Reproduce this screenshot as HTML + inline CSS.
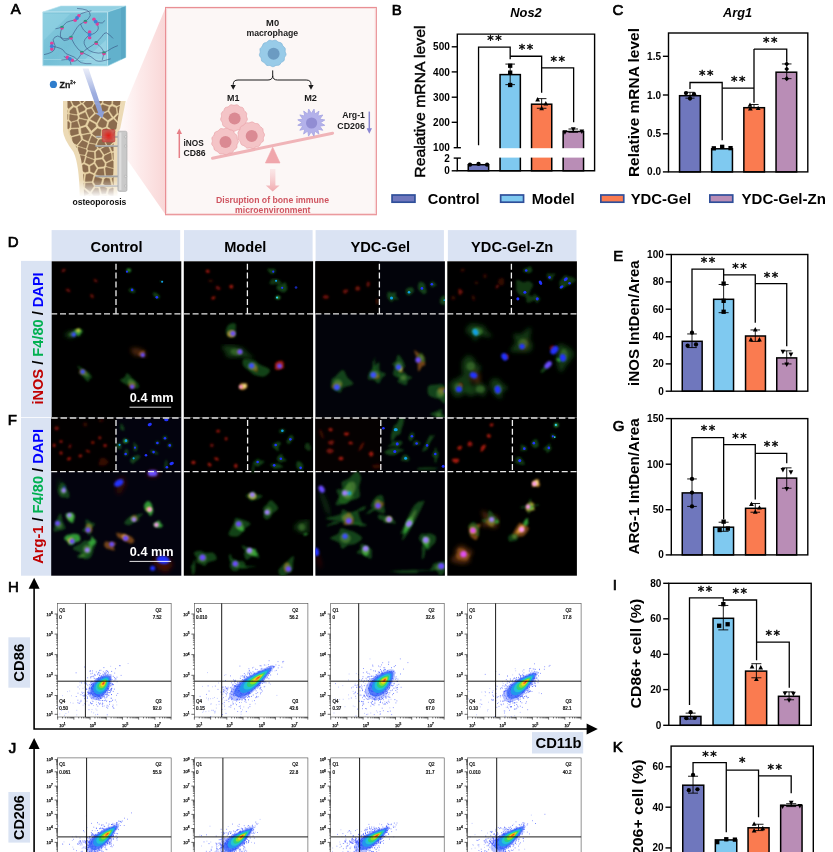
<!DOCTYPE html>
<html lang="en">
<head>
<meta charset="utf-8">
<title>Figure</title>
<style>
html,body{margin:0;padding:0;background:#fff;}
body{width:833px;height:852px;overflow:hidden;}
svg{display:block;font-family:"Liberation Sans",sans-serif;}
</style>
</head>
<body>
<svg width="833" height="852" viewBox="0 0 833 852">
<rect width="833" height="852" fill="#fff"/>
<g id="labels">
<text x="10.8" y="14.3" font-size="15" stroke="#000" stroke-width="0.7">A</text>
<text x="391.7" y="14.5" font-size="15" stroke="#000" stroke-width="0.7">B</text>
<text x="612.5" y="14.5" font-size="15" stroke="#000" stroke-width="0.7">C</text>
<text x="7.7" y="247.1" font-size="15" stroke="#000" stroke-width="0.7">D</text>
<text x="613.3" y="260.8" font-size="15" stroke="#000" stroke-width="0.7">E</text>
<text x="7.7" y="425.4" font-size="15" stroke="#000" stroke-width="0.7">F</text>
<text x="612.8" y="431.1" font-size="15" stroke="#000" stroke-width="0.7">G</text>
<text x="8.1" y="592.4" font-size="15" stroke="#000" stroke-width="0.7">H</text>
<text x="612.8" y="589.9" font-size="15" stroke="#000" stroke-width="0.7">I</text>
<text x="8.8" y="752.6" font-size="15" stroke="#000" stroke-width="0.7">J</text>
<text x="612.8" y="752.3" font-size="15" stroke="#000" stroke-width="0.7">K</text>
</g>
<g id="panelA">
<defs><linearGradient id="zb" x1="0" y1="0" x2="1" y2="0"><stop offset="0" stop-color="#fdeeee" stop-opacity="0.2"/><stop offset="0.5" stop-color="#fce4e4" stop-opacity="0.8"/><stop offset="1" stop-color="#f9d6d6"/></linearGradient><linearGradient id="da" x1="0" y1="0" x2="0" y2="1"><stop offset="0" stop-color="#f6c4c7" stop-opacity="0.3"/><stop offset="1" stop-color="#f1a9ae"/></linearGradient></defs>
<path d="M114.9 129.7L165.6 7.5V214.8L114.9 141.9Z" fill="url(#zb)"/>
<rect x="165.6" y="7.5" width="210.7" height="207.2" fill="#fcf7f6" stroke="#e98f94" stroke-width="1.2"/>
<rect x="166.7" y="8.6" width="208.5" height="205" fill="none" stroke="#f7d6d7" stroke-width="0.8"/>
<text x="272.6" y="25.6" font-size="8.2" font-weight="bold" text-anchor="middle" fill="#1a1a1a" textLength="13" lengthAdjust="spacingAndGlyphs">M0</text>
<text x="272.3" y="36.1" font-size="8.2" font-weight="bold" text-anchor="middle" fill="#1a1a1a" textLength="51.7" lengthAdjust="spacingAndGlyphs">macrophage</text>
<path d="M285.83 53.3L286.09 54.47L285.74 55.6L285.03 56.6L284.5 57.59L284.36 58.74L284.24 59.97L283.69 61L282.68 61.67L281.61 62.21L280.83 62.98L280.21 64.03L279.42 64.94L278.31 65.33L277.08 65.32L275.95 65.42L274.93 65.93L273.86 66.55L272.7 66.73L271.56 66.31L270.51 65.73L269.43 65.49L268.23 65.57L267.02 65.47L266.05 64.82L265.34 63.81L264.63 62.91L263.66 62.34L262.53 61.83L261.69 61.01L261.36 59.85L261.24 58.64L260.86 57.61L260.13 56.67L259.49 55.63L259.42 54.46L259.83 53.3L260.19 52.21L260.14 51.08L259.91 49.87L260.06 48.7L260.79 47.75L261.73 46.97L262.39 46.08L262.76 44.96L263.23 43.83L264.11 43.07L265.3 42.73L266.42 42.42L267.32 41.77L268.18 40.89L269.22 40.31L270.41 40.33L271.59 40.65L272.7 40.73L273.83 40.41L275.02 40.13L276.16 40.38L277.13 41.14L278.01 41.91L279.05 42.31L280.25 42.51L281.35 43L282.04 43.96L282.45 45.12L282.99 46.1L283.87 46.85L284.8 47.66L285.29 48.72L285.24 49.94L285.09 51.11L285.32 52.2Z" fill="#98cbe8" stroke="#7cb4d8" stroke-width="0.7"/>
<circle cx="273.6" cy="53.8" r="6" fill="#6b9bc2"/>
<path d="M272.7 70.4V75.5Q272.7 80 268 80H238Q233.2 80 233.2 84.5V86M272.7 75.5Q272.7 80 277.4 80H306.2Q311 80 311 84.5V86" fill="none" stroke="#1a1a1a" stroke-width="1"/>
<path d="M233.2 89.8L230.6 85H235.8ZM311 89.8L308.4 85H313.6Z" fill="#1a1a1a"/>
<text x="233.3" y="100.9" font-size="8.2" font-weight="bold" text-anchor="middle" fill="#1a1a1a" textLength="12.4" lengthAdjust="spacingAndGlyphs">M1</text>
<text x="310.6" y="100.9" font-size="8.2" font-weight="bold" text-anchor="middle" fill="#1a1a1a" textLength="12.8" lengthAdjust="spacingAndGlyphs">M2</text>
<line x1="212.5" y1="158.2" x2="332.6" y2="133.2" stroke="#f0b4b8" stroke-width="3" stroke-linecap="round"/>
<path d="M272.7 147.2L280 163H265.4Z" fill="#f0a6ab" stroke="#f0a6ab" stroke-width="0.6" stroke-linejoin="round"/>
<path d="M247 117.9L247.36 119.07L247.14 120.22L246.44 121.23L245.8 122.19L245.55 123.28L245.45 124.51L245.02 125.61L244.08 126.36L242.97 126.87L242.08 127.53L241.43 128.52L240.69 129.5L239.65 130.02L238.42 130.04L237.25 130.04L236.21 130.42L235.15 131.04L234 131.35L232.85 131.04L231.79 130.42L230.75 130.04L229.58 130.04L228.35 130.02L227.31 129.5L226.57 128.52L225.92 127.53L225.03 126.87L223.92 126.36L222.98 125.61L222.55 124.51L222.45 123.28L222.2 122.19L221.56 121.23L220.86 120.22L220.64 119.07L221 117.9L221.46 116.8L221.54 115.7L221.33 114.51L221.37 113.3L221.98 112.3L222.94 111.51L223.72 110.7L224.16 109.64L224.58 108.48L225.37 107.62L226.52 107.22L227.69 106.98L228.66 106.45L229.53 105.61L230.52 104.92L231.69 104.81L232.88 105.14L234 105.35L235.12 105.14L236.31 104.81L237.48 104.92L238.47 105.61L239.34 106.45L240.31 106.98L241.48 107.22L242.63 107.62L243.42 108.48L243.84 109.64L244.28 110.7L245.06 111.51L246.02 112.3L246.63 113.3L246.67 114.51L246.46 115.7L246.54 116.8Z" fill="#f4c4c7" stroke="#e9a4a9" stroke-width="0.7"/>
<circle cx="234.6" cy="118.5" r="6" fill="#da8a93"/>
<path d="M238.32 141.4L238.17 142.56L237.56 143.63L237.02 144.65L236.9 145.77L236.91 147L236.54 148.12L235.65 148.93L234.6 149.54L233.8 150.3L233.25 151.35L232.59 152.38L231.58 152.96L230.35 153.09L229.2 153.2L228.2 153.7L227.2 154.42L226.07 154.8L224.9 154.56L223.79 154.04L222.72 153.78L221.55 153.91L220.32 153.98L219.25 153.52L218.43 152.6L217.69 151.7L216.73 151.13L215.58 150.72L214.6 150.05L214.09 148.97L213.89 147.76L213.51 146.71L212.77 145.82L211.99 144.86L211.71 143.73L211.98 142.53L212.32 141.4L212.27 140.3L211.96 139.12L211.91 137.92L212.46 136.87L213.34 136.01L214.03 135.12L214.35 134.02L214.68 132.83L215.42 131.92L216.54 131.43L217.68 131.08L218.58 130.45L219.36 129.52L220.3 128.77L221.47 128.59L222.68 128.81L223.81 128.9L224.9 128.56L226.06 128.14L227.23 128.18L228.28 128.8L229.21 129.55L230.24 129.96L231.43 130.08L232.6 130.4L233.45 131.21L233.96 132.34L234.51 133.33L235.39 134.06L236.4 134.76L237.08 135.72L237.2 136.92L237.11 138.13L237.31 139.21L237.88 140.26Z" fill="#f4c4c7" stroke="#e9a4a9" stroke-width="0.7"/>
<circle cx="225.5" cy="142" r="6" fill="#da8a93"/>
<path d="M264.49 135.3L264.01 136.43L263.49 137.48L263.35 138.58L263.46 139.8L263.29 140.98L262.55 141.91L261.54 142.61L260.72 143.37L260.21 144.41L259.68 145.52L258.79 146.28L257.6 146.56L256.42 146.71L255.43 147.19L254.5 147.97L253.43 148.54L252.26 148.51L251.1 148.07L250.01 147.8L248.87 147.95L247.65 148.17L246.51 147.91L245.59 147.12L244.8 146.22L243.85 145.65L242.69 145.32L241.6 144.8L240.92 143.84L240.61 142.65L240.23 141.58L239.49 140.71L238.61 139.85L238.12 138.78L238.22 137.57L238.52 136.4L238.49 135.3L238.11 134.16L237.88 132.97L238.24 131.85L239.03 130.91L239.72 130L240.03 128.91L240.24 127.69L240.8 126.66L241.83 126.03L242.97 125.61L243.88 124.98L244.6 124.04L245.43 123.15L246.54 122.76L247.77 122.86L248.92 122.93L249.99 122.6L251.1 122.07L252.27 121.9L253.38 122.35L254.38 123.05L255.4 123.48L256.58 123.55L257.8 123.7L258.77 124.35L259.4 125.4L259.98 126.42L260.84 127.13L261.91 127.73L262.75 128.58L263.05 129.73L263.04 130.95L263.24 132.05L263.83 133.06L264.42 134.13Z" fill="#f4c4c7" stroke="#e9a4a9" stroke-width="0.7"/>
<circle cx="251.7" cy="135.9" r="6" fill="#da8a93"/>
<path d="M324.82 125.34L319.79 126.15L322.75 130.31L317.78 129.13L318.92 134.1L314.79 131.11L313.94 136.14L311.27 131.8L308.56 136.12L307.75 131.09L303.59 134.05L304.77 129.08L299.8 130.22L302.79 126.09L297.76 125.24L302.1 122.57L297.78 119.86L302.81 119.05L299.85 114.89L304.82 116.07L303.68 111.1L307.81 114.09L308.66 109.06L311.33 113.4L314.04 109.08L314.85 114.11L319.01 111.15L317.83 116.12L322.8 114.98L319.81 119.11L324.84 119.96L320.5 122.63Z" fill="#b3b1ea" stroke="#a5a3e2" stroke-width="0.8" stroke-linejoin="round"/>
<circle cx="311.3" cy="122.6" r="9.6" fill="#b3b1ea"/>
<circle cx="311.6" cy="123" r="5.6" fill="#918dd3"/>
<path d="M270 169H275.4V185.4H279.6L272.7 191.4L265.8 185.4H270Z" fill="url(#da)"/>
<text x="272.5" y="203.1" font-size="8.4" font-weight="bold" text-anchor="middle" fill="#cf5560" textLength="113" lengthAdjust="spacingAndGlyphs">Disruption of bone immune</text>
<text x="272.8" y="213.4" font-size="8.4" font-weight="bold" text-anchor="middle" fill="#cf5560" textLength="75.4" lengthAdjust="spacingAndGlyphs">microenvironment</text>
<path d="M179.3 158V133" fill="none" stroke="#e67f87" stroke-width="1.5"/>
<path d="M179.3 128.4L182 134H176.6Z" fill="#e67f87"/>
<text x="183.5" y="145.7" font-size="8.2" font-weight="bold" fill="#1a1a1a" textLength="20.2" lengthAdjust="spacingAndGlyphs">iNOS</text>
<text x="183.5" y="155.9" font-size="8.2" font-weight="bold" fill="#1a1a1a" textLength="22.2" lengthAdjust="spacingAndGlyphs">CD86</text>
<text x="364.9" y="118" font-size="8.2" font-weight="bold" text-anchor="end" fill="#1a1a1a" textLength="22.7" lengthAdjust="spacingAndGlyphs">Arg-1</text>
<text x="364.9" y="128.5" font-size="8.2" font-weight="bold" text-anchor="end" fill="#1a1a1a" textLength="27.6" lengthAdjust="spacingAndGlyphs">CD206</text>
<path d="M369.3 111.6V129" fill="none" stroke="#8a86d2" stroke-width="1.5"/>
<path d="M369.3 133.8L372 128.2H366.6Z" fill="#8a86d2"/>
<defs><linearGradient id="bf" x1="0" y1="0" x2="0" y2="1"><stop offset="0" stop-color="#fff" stop-opacity="0"/><stop offset="0.82" stop-color="#fff" stop-opacity="0"/><stop offset="1" stop-color="#fff" stop-opacity="1"/></linearGradient><radialGradient id="rs"><stop offset="0" stop-color="#e8150f"/><stop offset="0.6" stop-color="#d8403a"/><stop offset="1" stop-color="#c85a52"/></radialGradient><clipPath id="bc"><path d="M67.5 101H120.5L116.5 128Q114 133 113.5 140V196H84Q84 160 77 148Q68 136 67.5 128Z"/></clipPath></defs>
<path d="M63 101H125.7L120.2 128.5Q118.5 132 117.5 133V196H79.6Q79.4 165 73.5 152Q63.5 139 63 131Z" fill="#ecdab5"/>
<g clip-path="url(#bc)">
<rect x="63" y="101" width="64" height="96" fill="#e6d1a3"/>
<path d="M82.17 104.78L85.22 108.67L84.64 110.13L79.26 112.61L77.79 107.04L81.54 104.71ZM109.32 104.94L103.55 102.98L104.25 97.71L107.23 95.86L111.46 99.85L111.17 103.96ZM97.52 128.53L101.05 129.82L100.39 137.02L98.3 137.73L92.87 134.16L92.52 133.1L92.57 132.89ZM63.22 105.09L59.9 106.39L53.25 101.02L62.06 98.46L65.1 100.17ZM85.13 187.4L90.17 191.46L93.78 186.18L91.72 182.91L85.66 183.3ZM67.7 119.39L62.85 120.64L62.02 119.65L62.26 115.19L67.65 114.31L67.95 114.72ZM106.12 195.7L109.84 198.34L105.69 210.02L100.38 197.99L102.1 196.28ZM126.77 128.22L127.44 127.61L127.62 126.66L125.18 121.88L120.34 124.1L120.28 127.37ZM76.65 181.64L77.31 188.32L78.46 189.49L83.07 187.1L83.57 183.32L83.25 182.91ZM68.31 154.22L73.06 156.62L73 158.07L69.07 161.16L66.09 158.99L65.66 155.09L65.96 154.73ZM106.69 128.39L111.35 131.9L110.8 135.21L104.61 138.47L102.43 137.39L103.16 129.52ZM102.25 97.64L101.56 102.78L100.32 103.45L95.17 102.62L93.69 99.02L98.25 95.87ZM105.16 139.85L107.09 144.63L109.24 145.63L113.8 141.2L111.23 136.65ZM75.68 158.52L75.75 156.8L77.59 155.14L84.59 156L84.84 156.74L83.32 162.23L80.11 164.17ZM89.54 121.44L87.76 125.38L91.44 130.5L96.06 126.42L95.25 124.33L89.77 121.28ZM123.21 174.4L120.99 176.43L114.61 174.72L115 169.34L117.14 167.26L119.8 167.99ZM91.96 192.83L92.02 193.62L94.22 196.29L98.27 196.21L99.76 194.74L98.21 188.32L95.15 188.16ZM117.46 127.3L117.53 123.6L113.78 119.42L113.26 119.44L109.34 121.97L108.1 126.84L112.56 130.2L116.16 128.98ZM85.24 181.12L85.59 181.58L91.77 181.18L93.4 175.23L93.31 175.07L89.65 173.52L86.05 174.45ZM70.76 144.11L63.83 146.07L65.58 152.34L68.1 151.79L71.69 145.23ZM113.18 159.32L112.73 152.96L118.17 152.38L119.01 152.86L120.11 157.54L116.15 161.23ZM99.79 148.08L105.47 144.95L103.56 140.24L101.44 139.19L99.23 139.95L97.25 144.2L98.47 147.72ZM127.02 197.98L123.74 195.56L117.85 196.62L117.53 197.08L121.81 206.79L127.11 198.47ZM93.95 172.99L96.53 168.16L94.09 164.19L90.23 166.38L90.61 171.58ZM82.16 170.77L84.99 172.22L88.2 171.4L87.83 166.32L83.99 164.42L81.23 166.09L81.04 166.6ZM68.68 108.55L65.14 105.26L66.78 100.97L69.56 100.27L72.06 105.43ZM123.28 193.5L123.9 187.2L121.28 185.44L116.32 187.75L117.34 194.57ZM80.08 135.98L80.83 139.64L76.92 144.46L73.73 143.33L72.78 142.18L72.11 137.59L79.62 135.56ZM79.18 191.75L79.16 195.49L79.8 196.4L82.07 196.95L88.43 193.92L88.36 193.09L83.75 189.38ZM98.83 126.37L102.42 127.68L105.7 126.63L106.91 121.91L101.38 117.82L97.95 124.1ZM126.17 176.22L124.74 176.49L122.83 178.23L122.83 183.05L125.24 184.66L128.08 184.27L130.29 181.61L128.23 177.09ZM90.17 134.02L90.51 135.06L88.09 141.07L83.33 138.89L82.61 135.38ZM82.24 102.72L86.46 98.38L81.05 93.58L78.62 97.69L81.57 102.64ZM67.89 134.93L67.3 131.08L62.22 129.11L60.69 130.05L60.03 135.33L62.01 136.59ZM108.36 106.65L102.74 104.74L101.5 105.41L101.25 113.04L101.4 113.17L107.35 110.32ZM78 129.06L71.29 129.53L70.09 130.93L70.68 134.76L71.52 135.63L78.49 133.74ZM96.87 148.58L95.63 144.99L89.25 143.85L87.61 148.89L88.04 150.1L94.38 150.67ZM86.93 120.65L79.47 119.05L78.74 120.7L80.52 126.18L85.11 124.68ZM117.46 107.28L121.54 105.66L125.62 108.01L123.83 113.8L118.16 113.3ZM100.1 105.11L99.83 113.28L95.46 112.52L92.65 107.76L94.6 104.21ZM73.68 177.77L74.09 179.82L67.69 183.75L64.84 181.8L65.11 176.34L71.68 176.14ZM95.22 176.6L101.94 178.88L100.69 184.05L98.87 185.25L95.65 185.07L93.74 182.03ZM73.23 145.52L69.44 152.44L74.81 155.15L76.55 153.58L76.62 146.85L76.51 146.68ZM79.79 171.74L74.91 175.82L73.21 174.43L72.99 169.22L78.69 167.64ZM77.7 117.92L76.86 119.81L71.28 121.5L69.47 119.82L69.75 114.51L77.25 115.74ZM121.35 142.15L119.59 142.99L119.42 150.66L120.23 151.13L127.15 149.04L127.43 148.66L125.71 144.31ZM103.3 183.89L104.5 178.97L106.02 178.08L109.48 178.76L111 184.77L107.79 186.13ZM117.27 150.47L117.42 143.55L114.6 142.93L110.59 146.82L112.09 150.72L112.53 150.98ZM90 195.65L92.23 198.36L89.1 207.14L83.74 198.64ZM110.55 107.3L109.57 110.86L113.16 116.37L113.65 116.36L116.39 113.34L115.76 107.92L112.29 106.38ZM66.65 200.23L62.62 199.33L60.88 196.12L62.49 192.79L66.64 191.77L69.03 196.76ZM78.22 145.54L78.33 145.71L86.04 148.21L87.66 143.25L87.52 142.87L82.31 140.49ZM87.23 109.69L91.29 108.71L93.82 113L89.28 117.44L86.65 111.15ZM78.12 153.86L84.91 154.7L86.36 150.69L85.93 149.49L78.19 146.99ZM109.35 189.27L112.55 187.92L114.28 188.73L115.2 194.9L114.91 195.32L111.35 196.34L108.15 194.08ZM101.02 149.3L106.48 146.29L108.52 147.24L110.15 151.45L104.23 154.22ZM95.67 174.18L98.31 169.25L103.59 168.63L104.23 175.7L102.6 176.65L95.74 174.32ZM61.91 113.31L60.35 111.8L60.82 108.27L63.72 107.13L67.26 110.42L67.12 112.46ZM106.52 165.97L113.85 168.1L115.99 166.01L115.33 162.71L112.35 160.79L106.72 163.43ZM128.23 167.02L126.12 164.61L121.14 167.65L124.41 173.8L126 173.5ZM106.02 167.18L113.44 169.34L113.04 174.81L110.28 176.62L106.15 175.8L105.45 167.94ZM64 183.38L66.69 185.22L67.32 188.82L66.45 190.15L62.51 191.12L58.86 185.83ZM95.66 162.73L96.15 160.46L96.3 160.32L102.13 159.57L104.49 163.19L104.3 165.6L103.77 166.31L98.26 166.96ZM85.67 127.07L81.16 128.54L81.09 128.66L81.58 133.34L82.01 133.73L89.32 132.42L89.37 132.22ZM93.9 152.27L87.99 151.74L86.63 155.52L86.86 156.19L94.03 158.75L94.18 158.62ZM124.65 119.78L125.33 117.74L123.76 115.24L118.12 114.74L115.09 118.07L118.97 122.38ZM113.19 104.06L113.48 100.04L118.45 96.52L121.07 99.43L120.63 104.14L116.8 105.66ZM80.08 103.21L77.14 98.29L71.18 99.17L71.04 99.37L73.82 105.09L76.1 105.68ZM90.68 119.24L90.78 118.83L95.43 114.28L99.47 114.98L99.61 115.11L99.94 116.3L96.56 122.5ZM107.8 119.98L111.48 117.6L107.88 112.08L102.12 114.85L102.44 116.02ZM70.4 169.16L68.81 167.96L64.36 170.09L63.5 172.87L65.1 174.48L70.62 174.31ZM68.22 121.48L63.42 122.72L63.22 126.98L68.36 128.97L69.58 127.56L69.8 122.94ZM119.97 178.48L119.97 183.41L115.34 185.57L113.55 184.73L111.98 178.54L114.37 176.99ZM70.13 142.25L63.57 144.1L63.11 143.8L62.87 138.8L68.68 137.15L69.51 138.02ZM121.08 153.19L127.22 151.34L127.9 157.23L125.87 159.2L122.02 157.21ZM122.95 99.61L122.49 104.49L126.45 106.76L127.65 106.43L130.01 101.76L127.97 98.65ZM121.1 136.78L120.26 140.26L118.41 141.15L115.12 140.43L112.47 135.76L113.03 132.43L116.81 131.15ZM91.69 99.46L90.51 98.82L87.97 99.11L83.73 103.46L87 107.63L91.34 106.59L93.22 103.17ZM126.7 129.61L119.18 128.62L117.84 130.34L122.01 135.82L126.05 133.54ZM87.4 119.16L79.95 117.56L79.55 115.66L79.89 114.9L85.16 112.46L87.73 118.61L87.63 119ZM132.64 192.08L128.31 196.6L124.81 194.02L125.46 187.37L128.74 186.91ZM80.86 173.16L83.82 174.68L83.06 180.88L76.28 179.57L76.06 179.33L75.68 177.48ZM76.86 191.19L76.83 195.41L70.42 196.04L68.07 191.12L68.96 189.74L75.58 189.87ZM99.42 150.42L102.45 155.07L101.7 157.33L96.26 158.03L95.99 151.96L98.21 150.09ZM78.37 165.59L78.56 165.07L74.64 160.08L70.5 163.34L70.73 165.97L72.41 167.24ZM103.87 158.23L106.19 161.79L111.45 159.32L111.02 153.35L110.56 153.08L104.66 155.85ZM76.67 114.21L77.01 113.44L75.56 107.96L73.45 107.42L69.97 110.63L69.83 112.73L70.12 113.14ZM126.5 135.23L129.55 138.4L126.15 142.34L122.13 140.33L122.86 137.28ZM79.08 127.16L77.13 121.14L71.77 122.75L71.52 127.82L79 127.29ZM61.22 164.1L65.06 160.72L68.49 163.23L68.75 166.1L63.61 168.56ZM74.82 180.97L75.58 188.6L68.81 188.45L68.15 184.64L74.57 180.69ZM120.29 166.33L117.74 165.62L117.11 162.47L120.91 158.92L125.21 161.15L125.26 163.29ZM102.16 186.06L106.93 188.44L105.66 193.57L101.97 194.11L100.32 187.27ZM89.33 164.61L85.26 162.59L86.64 157.58L93.81 160.14L93.33 162.34ZM89.58 142.49L95.64 143.57L97.56 139.45L91.98 135.79L89.44 142.13Z" fill="#8b6c4e" stroke="#8b6c4e" stroke-width="0.5" stroke-linejoin="round"/>
</g>
<line x1="96" y1="136.8" x2="118" y2="136.8" stroke="#9c9c9c" stroke-width="1.7"/>
<line x1="96" y1="136.3" x2="118" y2="136.3" stroke="#cfcfcf" stroke-width="0.5"/>
<line x1="95.4" y1="146.1" x2="118" y2="146.1" stroke="#9c9c9c" stroke-width="1.7"/>
<line x1="95.4" y1="145.6" x2="118" y2="145.6" stroke="#cfcfcf" stroke-width="0.5"/>
<line x1="95.4" y1="176.4" x2="118" y2="176.4" stroke="#9c9c9c" stroke-width="1.7"/>
<line x1="95.4" y1="175.9" x2="118" y2="175.9" stroke="#cfcfcf" stroke-width="0.5"/>
<line x1="94.8" y1="186" x2="118" y2="186" stroke="#9c9c9c" stroke-width="1.7"/>
<line x1="94.8" y1="185.5" x2="118" y2="185.5" stroke="#cfcfcf" stroke-width="0.5"/>
<rect x="60" y="101" width="62" height="96" fill="url(#bf)"/>
<rect x="117.8" y="131.2" width="9.2" height="60.2" fill="#c9c9c9" stroke="#a6a6a6" stroke-width="0.6" rx="1.6"/>
<rect x="119.2" y="132.5" width="2.2" height="57.6" fill="#dedede"/>
<circle cx="125.6" cy="136.8" r="1.2" fill="#d9d9d9" stroke="#a0a0a0" stroke-width="0.4"/>
<circle cx="125.6" cy="146.1" r="1.2" fill="#d9d9d9" stroke="#a0a0a0" stroke-width="0.4"/>
<circle cx="125.6" cy="176.4" r="1.2" fill="#d9d9d9" stroke="#a0a0a0" stroke-width="0.4"/>
<circle cx="125.6" cy="186" r="1.2" fill="#d9d9d9" stroke="#a0a0a0" stroke-width="0.4"/>
<rect x="102.3" y="129.7" width="12.5" height="12.2" fill="url(#rs)" stroke="#c43a36" stroke-width="0.7" rx="1" opacity="0.92"/>
<text x="72.4" y="204.5" font-size="8.6" font-weight="bold" fill="#111" textLength="54" lengthAdjust="spacingAndGlyphs">osteoporosis</text>
<defs><linearGradient id="gf" x1="0" y1="0" x2="1" y2="1"><stop offset="0" stop-color="#86cadd"/><stop offset="0.5" stop-color="#74bfd6"/><stop offset="1" stop-color="#8fd0e2"/></linearGradient><linearGradient id="bm" x1="0" y1="0" x2="0" y2="1"><stop offset="0" stop-color="#a9b6e4" stop-opacity="0.25"/><stop offset="0.5" stop-color="#93a5dc" stop-opacity="0.9"/><stop offset="1" stop-color="#8a9dd8"/></linearGradient></defs>
<path d="M82.6 68.5L88.6 68.5L102.6 111.5L104.5 111L102.3 118.2L96.2 113.6L98.2 113Z" fill="url(#bm)"/>
<path d="M42.8 12L60.8 6H125.8L107.6 12Z" fill="#93d1e3" stroke="#b9e2ee" stroke-width="0.6"/>
<path d="M107.6 12L125.8 6V57.4L107.6 66Z" fill="#62b1cc" stroke="#a8dbe8" stroke-width="0.6"/>
<path d="M121 7.8L125.6 6.3V57.2L121 59.6Z" fill="#57a6c3" opacity="0.8"/>
<path d="M42.8 12H107.6V66L42.8 65.8Z" fill="url(#gf)" stroke="#bfe5ef" stroke-width="0.8"/>
<path d="M44 14H70L44 40Z" fill="#9ad6e6" opacity="0.45"/>
<path d="M80 64L106 40V64Z" fill="#a6dcea" opacity="0.45"/>
<path d="M43.6 59.5L106.8 59.5" fill="none" stroke="#a4d9e7" stroke-width="0.8" opacity="0.8"/>
<path d="M44 54.62Q53.01 52.82 54.51 49.22Q56.01 45.62 53.91 42.62Q51.81 39.62 54.81 37.21Q57.81 34.81 60.51 37.21Q63.21 39.62 67.11 38.72Q71.01 37.82 72.82 34.51Q74.62 31.21 77.02 27.61Q79.42 24.01 82.42 22.93Q85.42 21.85 88.42 18.73Q91.42 15.61 89.62 12.61Q87.82 9.6 82.42 9L77.02 8.4" fill="none" stroke="#2b3a70" stroke-width="0.5"/>
<path d="M55.41 28.81Q62.01 27.85 64.11 24.73Q66.21 21.61 70.41 21.01Q74.62 20.41 75.82 19.21Q77.02 18.01 78.82 15.61Q80.62 13.21 86.02 12L91.42 10.8" fill="none" stroke="#2b3a70" stroke-width="0.5"/>
<path d="M61.41 60.02Q69.81 58.82 72.82 60.62Q75.82 62.42 78.82 57.62Q81.82 52.82 84.82 50.42Q87.82 48.02 92.02 45.5Q96.22 42.98 99.23 39.5Q102.23 36.01 104.03 33.61Q105.83 31.21 109.43 34.81L113.03 38.42" fill="none" stroke="#2b3a70" stroke-width="0.5"/>
<path d="M71.01 37.82Q74.62 45.62 78.22 49.22Q81.82 52.82 86.62 54.62Q91.42 56.42 94.42 59.42Q97.42 62.42 104.03 60.62L110.63 58.82" fill="none" stroke="#2b3a70" stroke-width="0.5"/>
<path d="M89.62 34.81Q83.02 39.62 84.22 43.82Q85.42 48.02 89.02 50.42Q92.62 52.82 98.33 53.12Q104.03 53.42 107.93 50.72Q111.83 48.02 114.83 46.82L117.83 45.62" fill="none" stroke="#2b3a70" stroke-width="0.5"/>
<path d="M95.62 21.61Q99.83 27.61 97.42 30.61Q95.02 33.61 92.32 34.21Q89.62 34.81 86.32 32.41Q83.02 30.01 81.82 27.01L80.62 24.01" fill="none" stroke="#2b3a70" stroke-width="0.5"/>
<path d="M51.81 46.22Q62.61 48.02 63.81 51.02Q65.01 54.02 69.81 55.22Q74.62 56.42 77.62 60.02Q80.62 63.63 86.02 63.63L91.42 63.63" fill="none" stroke="#2b3a70" stroke-width="0.5"/>
<path d="M62.01 27.85Q59.01 34.81 61.41 38.42Q63.81 42.02 67.41 39.92L71.01 37.82" fill="none" stroke="#2b3a70" stroke-width="0.5"/>
<path d="M96.22 42.98Q102.23 48.02 103.13 50.72Q104.03 53.42 103.13 56.72L102.23 60.02" fill="none" stroke="#2b3a70" stroke-width="0.5"/>
<path d="M95.62 21.61Q102.23 24.01 103.43 22.21L104.63 20.41" fill="none" stroke="#2b3a70" stroke-width="0.5"/>
<path d="M63.81 56.42Q69.81 58.82 70.41 61.82L71.01 64.83" fill="none" stroke="#2b3a70" stroke-width="0.5"/>
<circle cx="75.16" cy="20.21" r="1.8" fill="#e0409a"/>
<circle cx="78.87" cy="15.8" r="1.8" fill="#e0409a"/>
<circle cx="77.02" cy="18.01" r="1.9" fill="#3f7fd6"/>
<circle cx="93.97" cy="19.25" r="1.8" fill="#e0409a"/>
<circle cx="97.28" cy="23.97" r="1.8" fill="#e0409a"/>
<circle cx="95.62" cy="21.61" r="1.9" fill="#3f7fd6"/>
<circle cx="89.62" cy="31.93" r="1.8" fill="#e0409a"/>
<circle cx="89.62" cy="37.7" r="1.8" fill="#e0409a"/>
<circle cx="89.62" cy="34.81" r="1.9" fill="#3f7fd6"/>
<circle cx="51.81" cy="43.34" r="1.8" fill="#e0409a"/>
<circle cx="51.81" cy="49.1" r="1.8" fill="#e0409a"/>
<circle cx="51.81" cy="46.22" r="1.9" fill="#3f7fd6"/>
<circle cx="67.32" cy="57.38" r="1.8" fill="#e0409a"/>
<circle cx="72.31" cy="60.26" r="1.8" fill="#e0409a"/>
<circle cx="69.81" cy="58.82" r="1.9" fill="#3f7fd6"/>
<circle cx="62.01" cy="27.85" r="1.9" fill="#e0409a"/>
<path d="M60.11 27.65A1.9 1.9 0 0 1 63.91 27.65Z" fill="#1f9e7c"/>
<circle cx="85.42" cy="21.85" r="1.9" fill="#e0409a"/>
<path d="M83.52 21.65A1.9 1.9 0 0 1 87.32 21.65Z" fill="#1f9e7c"/>
<circle cx="71.01" cy="37.82" r="1.9" fill="#e0409a"/>
<path d="M69.11 37.62A1.9 1.9 0 0 1 72.91 37.62Z" fill="#1f9e7c"/>
<circle cx="96.22" cy="42.98" r="1.9" fill="#e0409a"/>
<path d="M94.32 42.78A1.9 1.9 0 0 1 98.12 42.78Z" fill="#1f9e7c"/>
<circle cx="81.82" cy="52.82" r="1.9" fill="#e0409a"/>
<path d="M79.92 52.62A1.9 1.9 0 0 1 83.72 52.62Z" fill="#1f9e7c"/>
<circle cx="104.03" cy="53.42" r="1.9" fill="#e0409a"/>
<path d="M102.13 53.22A1.9 1.9 0 0 1 105.93 53.22Z" fill="#1f9e7c"/>
<circle cx="53.4" cy="84.4" r="3.6" fill="#2f7dcc"/>
<text x="59.6" y="87.5" font-size="8.8" font-weight="bold" fill="#1a1a1a" stroke="#1a1a1a" stroke-width="0.3">Zn<tspan dy="-3.4" font-size="4.6">2+</tspan></text>
</g>
<g id="charts">
<rect x="468.25" y="164.7" width="20.4" height="6.1" fill="#6f77bd" stroke="#000" stroke-width="1.5"/>
<rect x="500.05" y="74.6" width="20.3" height="96.2" fill="#7fc9f0" stroke="#000" stroke-width="1.5"/>
<rect x="531.55" y="104.2" width="20.2" height="66.6" fill="#fa7b50" stroke="#000" stroke-width="1.5"/>
<rect x="563.15" y="131.5" width="20.4" height="39.3" fill="#b98db6" stroke="#000" stroke-width="1.5"/>
<rect x="451.3" y="148.2" width="142.6" height="9.4" fill="#fff"/>
<path d="M457.3 147.7V34.1H594.6V170.8H457.3V158.1" fill="none" stroke="#000" stroke-width="1.4" stroke-linejoin="miter"/>
<line x1="453.7" y1="147.7" x2="460.9" y2="147.7" stroke="#000" stroke-width="1.4"/>
<line x1="453.7" y1="158.1" x2="460.9" y2="158.1" stroke="#000" stroke-width="1.4"/>
<line x1="451.7" y1="46.8" x2="457.3" y2="46.8" stroke="#000" stroke-width="1.4"/>
<text x="449.8" y="50.4" font-size="10" font-weight="bold" text-anchor="end">500</text>
<line x1="451.7" y1="71.9" x2="457.3" y2="71.9" stroke="#000" stroke-width="1.4"/>
<text x="449.8" y="75.5" font-size="10" font-weight="bold" text-anchor="end">400</text>
<line x1="451.7" y1="97.2" x2="457.3" y2="97.2" stroke="#000" stroke-width="1.4"/>
<text x="449.8" y="100.8" font-size="10" font-weight="bold" text-anchor="end">300</text>
<line x1="451.7" y1="122.3" x2="457.3" y2="122.3" stroke="#000" stroke-width="1.4"/>
<text x="449.8" y="125.9" font-size="10" font-weight="bold" text-anchor="end">200</text>
<text x="449.8" y="151.3" font-size="10" font-weight="bold" text-anchor="end">100</text>
<text x="449.8" y="161.7" font-size="10" font-weight="bold" text-anchor="end">2</text>
<line x1="451.7" y1="170.8" x2="457.3" y2="170.8" stroke="#000" stroke-width="1.4"/>
<text x="449.8" y="174.4" font-size="10" font-weight="bold" text-anchor="end">0</text>
<path d="M478.55 163.55V165M478.55 163.55H478.55M478.55 165H478.55" fill="none" stroke="#000" stroke-width="0.9"/>
<path d="M510.18 64.09V84.64M505.38 64.09H514.98M505.38 84.64H514.98" fill="none" stroke="#000" stroke-width="0.9"/>
<path d="M541.64 98.64V108.27M536.84 98.64H546.44M536.84 108.27H546.44" fill="none" stroke="#000" stroke-width="0.9"/>
<path d="M573.27 129V132.27M568.47 129H578.07M568.47 132.27H578.07" fill="none" stroke="#000" stroke-width="0.9"/>
<circle cx="470" cy="164.64" r="2.15" fill="#000"/>
<circle cx="478.55" cy="163.91" r="2.15" fill="#000"/>
<circle cx="487.09" cy="164.64" r="2.15" fill="#000"/>
<rect x="508.03" y="63.58" width="4.3" height="4.3" fill="#000"/>
<rect x="508.03" y="70.49" width="4.3" height="4.3" fill="#000"/>
<rect x="508.03" y="82.85" width="4.3" height="4.3" fill="#000"/>
<path d="M537.64 97.07L540 101.48L535.27 101.48Z" fill="#000"/>
<path d="M545.82 101.07L548.18 105.48L543.45 105.48Z" fill="#000"/>
<path d="M541.64 105.8L544 110.21L539.27 110.21Z" fill="#000"/>
<path d="M564.91 134.75L567.27 130.34L562.54 130.34Z" fill="#000"/>
<path d="M573.27 131.65L575.64 127.25L570.91 127.25Z" fill="#000"/>
<path d="M581.82 134.02L584.18 129.61L579.45 129.61Z" fill="#000"/>
<path d="M478.55 145.36V47.18H510.18V59.18" fill="none" stroke="#000" stroke-width="1.3"/>
<path d="M510.18 56.27H541.64V92.64" fill="none" stroke="#000" stroke-width="1.3"/>
<path d="M541.64 67.91H573.64V122.27" fill="none" stroke="#000" stroke-width="1.3"/>
<text x="495.3" y="44.44" font-size="13" text-anchor="middle" stroke="#000" stroke-width="0.4" font-family="DejaVu Sans, sans-serif" letter-spacing="1.5">**</text>
<text x="526.75" y="52.98" font-size="13" text-anchor="middle" stroke="#000" stroke-width="0.4" font-family="DejaVu Sans, sans-serif" letter-spacing="1.5">**</text>
<text x="558.39" y="64.8" font-size="13" text-anchor="middle" stroke="#000" stroke-width="0.4" font-family="DejaVu Sans, sans-serif" letter-spacing="1.5">**</text>
<text x="425.2" y="101.65" font-size="15.5" text-anchor="middle" transform="rotate(-90 425.2 101.65)" textLength="152.1" lengthAdjust="spacingAndGlyphs" stroke="#000" stroke-width="0.45">Realative mRNA level</text>
<text x="526" y="16.6" font-size="12.5" font-weight="bold" text-anchor="middle" textLength="31.5" lengthAdjust="spacingAndGlyphs" font-style="italic">Nos2</text>
<g transform="translate(0 0.4)"><rect x="679.55" y="95.3" width="20.8" height="76.2" fill="#6f77bd" stroke="#000" stroke-width="1.5"/>
<rect x="711.65" y="148.4" width="20.8" height="23.1" fill="#7fc9f0" stroke="#000" stroke-width="1.5"/>
<rect x="743.85" y="107.3" width="20.6" height="64.2" fill="#fa7b50" stroke="#000" stroke-width="1.5"/>
<rect x="776.05" y="71.8" width="20.6" height="99.7" fill="#b98db6" stroke="#000" stroke-width="1.5"/>
<rect x="668.5" y="32.6" width="139.3" height="138.9" fill="none" stroke="#000" stroke-width="1.4"/>
<line x1="662.9" y1="55.9" x2="668.5" y2="55.9" stroke="#000" stroke-width="1.4"/>
<text x="661" y="59.5" font-size="10" font-weight="bold" text-anchor="end">1.5</text>
<line x1="662.9" y1="94.6" x2="668.5" y2="94.6" stroke="#000" stroke-width="1.4"/>
<text x="661" y="98.2" font-size="10" font-weight="bold" text-anchor="end">1.0</text>
<line x1="662.9" y1="133.4" x2="668.5" y2="133.4" stroke="#000" stroke-width="1.4"/>
<text x="661" y="137" font-size="10" font-weight="bold" text-anchor="end">0.5</text>
<line x1="662.9" y1="171.5" x2="668.5" y2="171.5" stroke="#000" stroke-width="1.4"/>
<text x="661" y="175.1" font-size="10" font-weight="bold" text-anchor="end">0.0</text>
<path d="M690 91.91V97.73M685.4 91.91H694.6M685.4 97.73H694.6" fill="none" stroke="#000" stroke-width="0.9"/>
<path d="M722.18 146.45V148.27M722.18 146.45H722.18M722.18 148.27H722.18" fill="none" stroke="#000" stroke-width="0.9"/>
<path d="M754 104.09V107.18M749.4 104.09H758.6M749.4 107.18H758.6" fill="none" stroke="#000" stroke-width="0.9"/>
<path d="M786.73 63.55V78.27M781.93 63.55H791.53M781.93 78.27H791.53" fill="none" stroke="#000" stroke-width="0.9"/>
<circle cx="686" cy="92.64" r="2.15" fill="#000"/>
<circle cx="694" cy="93.73" r="2.15" fill="#000"/>
<circle cx="690" cy="98.09" r="2.15" fill="#000"/>
<rect x="711.67" y="145.76" width="4.3" height="4.3" fill="#000"/>
<rect x="720.03" y="144.3" width="4.3" height="4.3" fill="#000"/>
<rect x="728.4" y="145.58" width="4.3" height="4.3" fill="#000"/>
<path d="M750 101.98L752.37 106.39L747.63 106.39Z" fill="#000"/>
<path d="M758.18 105.25L760.55 109.66L755.82 109.66Z" fill="#000"/>
<path d="M750.36 105.8L752.73 110.21L748 110.21Z" fill="#000"/>
<path d="M786.73 60.97L789.09 63.55L786.73 66.13L784.36 63.55Z" fill="#000"/>
<path d="M786.73 66.06L789.09 68.64L786.73 71.22L784.36 68.64Z" fill="#000"/>
<path d="M786.73 75.69L789.09 78.27L786.73 80.85L784.36 78.27Z" fill="#000"/>
<path d="M690 88.64V82.09H722.18V139.91" fill="none" stroke="#000" stroke-width="1.3"/>
<path d="M722.18 87.73H754M754 48.64V102.27" fill="none" stroke="#000" stroke-width="1.3"/>
<path d="M754 48.64H786.73V61.36" fill="none" stroke="#000" stroke-width="1.3"/>
<text x="707.11" y="78.44" font-size="13" text-anchor="middle" stroke="#000" stroke-width="0.4" font-family="DejaVu Sans, sans-serif" letter-spacing="1.5">**</text>
<text x="738.93" y="84.44" font-size="13" text-anchor="middle" stroke="#000" stroke-width="0.4" font-family="DejaVu Sans, sans-serif" letter-spacing="1.5">**</text>
<text x="770.93" y="45.35" font-size="13" text-anchor="middle" stroke="#000" stroke-width="0.4" font-family="DejaVu Sans, sans-serif" letter-spacing="1.5">**</text>
<text x="639.3" y="102.15" font-size="15.2" font-weight="bold" text-anchor="middle" transform="rotate(-90 639.3 102.15)" textLength="149.1" lengthAdjust="spacingAndGlyphs">Relative mRNA level</text>
<text x="737.6" y="16.6" font-size="12.5" font-weight="bold" text-anchor="middle" textLength="29" lengthAdjust="spacingAndGlyphs" font-style="italic">Arg1</text></g>
<g transform="translate(0 0.4)"><rect x="682.25" y="340.9" width="19.9" height="49.9" fill="#6f77bd" stroke="#000" stroke-width="1.5"/>
<rect x="713.65" y="298.9" width="19.9" height="91.9" fill="#7fc9f0" stroke="#000" stroke-width="1.5"/>
<rect x="745.55" y="335.6" width="19.9" height="55.2" fill="#fa7b50" stroke="#000" stroke-width="1.5"/>
<rect x="776.75" y="357.5" width="19.9" height="33.3" fill="#b98db6" stroke="#000" stroke-width="1.5"/>
<rect x="671.3" y="254.1" width="136.5" height="136.7" fill="none" stroke="#000" stroke-width="1.4"/>
<line x1="665.7" y1="254.1" x2="671.3" y2="254.1" stroke="#000" stroke-width="1.4"/>
<text x="663.8" y="257.7" font-size="10" font-weight="bold" text-anchor="end">100</text>
<line x1="665.7" y1="281.5" x2="671.3" y2="281.5" stroke="#000" stroke-width="1.4"/>
<text x="663.8" y="285.1" font-size="10" font-weight="bold" text-anchor="end">80</text>
<line x1="665.7" y1="308.8" x2="671.3" y2="308.8" stroke="#000" stroke-width="1.4"/>
<text x="663.8" y="312.4" font-size="10" font-weight="bold" text-anchor="end">60</text>
<line x1="665.7" y1="336.3" x2="671.3" y2="336.3" stroke="#000" stroke-width="1.4"/>
<text x="663.8" y="339.9" font-size="10" font-weight="bold" text-anchor="end">40</text>
<line x1="665.7" y1="363.5" x2="671.3" y2="363.5" stroke="#000" stroke-width="1.4"/>
<text x="663.8" y="367.1" font-size="10" font-weight="bold" text-anchor="end">20</text>
<line x1="665.7" y1="390.8" x2="671.3" y2="390.8" stroke="#000" stroke-width="1.4"/>
<text x="663.8" y="394.4" font-size="10" font-weight="bold" text-anchor="end">0</text>
<path d="M692 333.55V347.18M687.2 333.55H696.8M687.2 347.18H696.8" fill="none" stroke="#000" stroke-width="0.9"/>
<path d="M723.64 284.09V312.27M718.64 284.09H728.64M718.64 312.27H728.64" fill="none" stroke="#000" stroke-width="0.9"/>
<path d="M755.27 329.55V341M750.47 329.55H760.07M750.47 341H760.07" fill="none" stroke="#000" stroke-width="0.9"/>
<path d="M786.73 350.45V363.55M781.93 350.45H791.53M781.93 363.55H791.53" fill="none" stroke="#000" stroke-width="0.9"/>
<circle cx="692" cy="332.27" r="2.15" fill="#000"/>
<circle cx="687.64" cy="345.36" r="2.15" fill="#000"/>
<circle cx="696" cy="344.09" r="2.15" fill="#000"/>
<rect x="721.49" y="281.03" width="4.3" height="4.3" fill="#000"/>
<rect x="721.49" y="298.3" width="4.3" height="4.3" fill="#000"/>
<rect x="721.49" y="309.21" width="4.3" height="4.3" fill="#000"/>
<path d="M755.27 326.71L757.64 331.12L752.91 331.12Z" fill="#000"/>
<path d="M750.91 336.71L753.27 341.12L748.54 341.12Z" fill="#000"/>
<path d="M759.45 336.71L761.82 341.12L757.09 341.12Z" fill="#000"/>
<path d="M782.91 353.84L785.27 349.43L780.54 349.43Z" fill="#000"/>
<path d="M790.91 356.56L793.27 352.16L788.54 352.16Z" fill="#000"/>
<path d="M786.73 366.56L789.09 362.16L784.36 362.16Z" fill="#000"/>
<path d="M692 332.27V268.82H723.64V281.36" fill="none" stroke="#000" stroke-width="1.3"/>
<path d="M723.64 274.45H755.27V322.27" fill="none" stroke="#000" stroke-width="1.3"/>
<path d="M755.27 283.18H786.73V345.91" fill="none" stroke="#000" stroke-width="1.3"/>
<text x="708.75" y="265.89" font-size="13" text-anchor="middle" stroke="#000" stroke-width="0.4" font-family="DejaVu Sans, sans-serif" letter-spacing="1.5">**</text>
<text x="740.2" y="271.71" font-size="13" text-anchor="middle" stroke="#000" stroke-width="0.4" font-family="DejaVu Sans, sans-serif" letter-spacing="1.5">**</text>
<text x="771.66" y="280.25" font-size="13" text-anchor="middle" stroke="#000" stroke-width="0.4" font-family="DejaVu Sans, sans-serif" letter-spacing="1.5">**</text>
<text x="639.5" y="322.7" font-size="15" font-weight="bold" text-anchor="middle" transform="rotate(-90 639.5 322.7)" textLength="125.6" lengthAdjust="spacingAndGlyphs">iNOS IntDen/Area</text></g>
<g transform="translate(0 0.4)"><rect x="682.25" y="492.5" width="19.9" height="62" fill="#6f77bd" stroke="#000" stroke-width="1.5"/>
<rect x="713.65" y="526.8" width="19.9" height="27.7" fill="#7fc9f0" stroke="#000" stroke-width="1.5"/>
<rect x="745.55" y="507.9" width="19.9" height="46.6" fill="#fa7b50" stroke="#000" stroke-width="1.5"/>
<rect x="776.75" y="477.7" width="19.9" height="76.8" fill="#b98db6" stroke="#000" stroke-width="1.5"/>
<rect x="671.3" y="418.2" width="136.5" height="136.3" fill="none" stroke="#000" stroke-width="1.4"/>
<line x1="665.7" y1="418.2" x2="671.3" y2="418.2" stroke="#000" stroke-width="1.4"/>
<text x="663.8" y="421.8" font-size="10" font-weight="bold" text-anchor="end">150</text>
<line x1="665.7" y1="463.8" x2="671.3" y2="463.8" stroke="#000" stroke-width="1.4"/>
<text x="663.8" y="467.4" font-size="10" font-weight="bold" text-anchor="end">100</text>
<line x1="665.7" y1="509.3" x2="671.3" y2="509.3" stroke="#000" stroke-width="1.4"/>
<text x="663.8" y="512.9" font-size="10" font-weight="bold" text-anchor="end">50</text>
<line x1="665.7" y1="554.5" x2="671.3" y2="554.5" stroke="#000" stroke-width="1.4"/>
<text x="663.8" y="558.1" font-size="10" font-weight="bold" text-anchor="end">0</text>
<path d="M692 478.55V506M687.2 478.55H696.8M687.2 506H696.8" fill="none" stroke="#000" stroke-width="0.9"/>
<path d="M723.64 521.82V530.91M718.64 521.82H728.64M718.64 530.91H728.64" fill="none" stroke="#000" stroke-width="0.9"/>
<path d="M755.27 503.09V511.82M750.47 503.09H760.07M750.47 511.82H760.07" fill="none" stroke="#000" stroke-width="0.9"/>
<path d="M786.73 467.45V487.82M781.93 467.45H791.53M781.93 487.82H791.53" fill="none" stroke="#000" stroke-width="0.9"/>
<circle cx="692" cy="478.55" r="2.15" fill="#000"/>
<circle cx="692" cy="492.18" r="2.15" fill="#000"/>
<circle cx="692" cy="506" r="2.15" fill="#000"/>
<rect x="721.49" y="519.12" width="4.3" height="4.3" fill="#000"/>
<rect x="717.49" y="527.49" width="4.3" height="4.3" fill="#000"/>
<rect x="725.67" y="526.03" width="4.3" height="4.3" fill="#000"/>
<path d="M751.45 501.16L753.82 505.57L749.09 505.57Z" fill="#000"/>
<path d="M759.45 504.8L761.82 509.21L757.09 509.21Z" fill="#000"/>
<path d="M755.27 508.98L757.64 513.39L752.91 513.39Z" fill="#000"/>
<path d="M782.91 472.11L785.27 467.7L780.54 467.7Z" fill="#000"/>
<path d="M790.91 474.29L793.27 469.88L788.54 469.88Z" fill="#000"/>
<path d="M786.73 491.02L789.09 486.61L784.36 486.61Z" fill="#000"/>
<path d="M692 477.27V437.27H723.64V518.73" fill="none" stroke="#000" stroke-width="1.3"/>
<path d="M723.64 444.18H755.27V499.09" fill="none" stroke="#000" stroke-width="1.3"/>
<path d="M755.27 452.91H786.73V462.73" fill="none" stroke="#000" stroke-width="1.3"/>
<text x="708.75" y="433.98" font-size="13" text-anchor="middle" stroke="#000" stroke-width="0.4" font-family="DejaVu Sans, sans-serif" letter-spacing="1.5">**</text>
<text x="740.2" y="441.25" font-size="13" text-anchor="middle" stroke="#000" stroke-width="0.4" font-family="DejaVu Sans, sans-serif" letter-spacing="1.5">**</text>
<text x="771.66" y="449.8" font-size="13" text-anchor="middle" stroke="#000" stroke-width="0.4" font-family="DejaVu Sans, sans-serif" letter-spacing="1.5">**</text>
<text x="639.5" y="486.05" font-size="15" font-weight="bold" text-anchor="middle" transform="rotate(-90 639.5 486.05)" textLength="136.1" lengthAdjust="spacingAndGlyphs">ARG-1 IntDen/Area</text></g>
<g transform="translate(0 0.4)"><rect x="680.15" y="716" width="20.8" height="8.9" fill="#6f77bd" stroke="#000" stroke-width="1.5"/>
<rect x="713.05" y="617.9" width="20.5" height="107" fill="#7fc9f0" stroke="#000" stroke-width="1.5"/>
<rect x="745.55" y="670.7" width="21.1" height="54.2" fill="#fa7b50" stroke="#000" stroke-width="1.5"/>
<rect x="778.45" y="695.9" width="20.9" height="29" fill="#b98db6" stroke="#000" stroke-width="1.5"/>
<rect x="668.8" y="582.9" width="142.4" height="142" fill="none" stroke="#000" stroke-width="1.4"/>
<line x1="663.2" y1="582.9" x2="668.8" y2="582.9" stroke="#000" stroke-width="1.4"/>
<text x="661.3" y="586.5" font-size="10" font-weight="bold" text-anchor="end">80</text>
<line x1="663.2" y1="618.4" x2="668.8" y2="618.4" stroke="#000" stroke-width="1.4"/>
<text x="661.3" y="622" font-size="10" font-weight="bold" text-anchor="end">60</text>
<line x1="663.2" y1="653.9" x2="668.8" y2="653.9" stroke="#000" stroke-width="1.4"/>
<text x="661.3" y="657.5" font-size="10" font-weight="bold" text-anchor="end">40</text>
<line x1="663.2" y1="689.2" x2="668.8" y2="689.2" stroke="#000" stroke-width="1.4"/>
<text x="661.3" y="692.8" font-size="10" font-weight="bold" text-anchor="end">20</text>
<line x1="663.2" y1="724.9" x2="668.8" y2="724.9" stroke="#000" stroke-width="1.4"/>
<text x="661.3" y="728.5" font-size="10" font-weight="bold" text-anchor="end">0</text>
<path d="M690.62 712.71V718.73M685.62 712.71H695.62M685.62 718.73H695.62" fill="none" stroke="#000" stroke-width="0.9"/>
<path d="M723.31 605.06V629.48M718.31 605.06H728.31M718.31 629.48H728.31" fill="none" stroke="#000" stroke-width="0.9"/>
<path d="M756.38 663.3V677.39M751.38 663.3H761.38M751.38 677.39H761.38" fill="none" stroke="#000" stroke-width="0.9"/>
<path d="M789.07 691.48V699.38M784.07 691.48H794.07M784.07 699.38H794.07" fill="none" stroke="#000" stroke-width="0.9"/>
<circle cx="690.62" cy="711.78" r="2.15" fill="#000"/>
<circle cx="686.3" cy="717.79" r="2.15" fill="#000"/>
<circle cx="694.76" cy="717.41" r="2.15" fill="#000"/>
<rect x="721.16" y="601.6" width="4.3" height="4.3" fill="#000"/>
<rect x="717.03" y="623.2" width="4.3" height="4.3" fill="#000"/>
<rect x="725.49" y="621.7" width="4.3" height="4.3" fill="#000"/>
<path d="M752.06 663.65L754.43 668.06L749.7 668.06Z" fill="#000"/>
<path d="M760.7 664.59L763.07 669L758.34 669Z" fill="#000"/>
<path d="M756.38 676.24L758.75 680.64L754.02 680.64Z" fill="#000"/>
<path d="M784.94 695.46L787.3 691.05L782.57 691.05Z" fill="#000"/>
<path d="M793.39 695.84L795.76 691.43L791.03 691.43Z" fill="#000"/>
<path d="M789.07 702.41L791.44 698L786.71 698Z" fill="#000"/>
<path d="M689.5 704.64V597.55H723.31V601.3" fill="none" stroke="#000" stroke-width="1.3"/>
<path d="M723.31 599.61H756.57V659.92" fill="none" stroke="#000" stroke-width="1.3"/>
<path d="M756.57 641.7H789.26V687.35" fill="none" stroke="#000" stroke-width="1.3"/>
<text x="705.84" y="594.33" font-size="13" text-anchor="middle" stroke="#000" stroke-width="0.4" font-family="DejaVu Sans, sans-serif" letter-spacing="1.5">**</text>
<text x="740.6" y="596.58" font-size="13" text-anchor="middle" stroke="#000" stroke-width="0.4" font-family="DejaVu Sans, sans-serif" letter-spacing="1.5">**</text>
<text x="773.48" y="638.48" font-size="13" text-anchor="middle" stroke="#000" stroke-width="0.4" font-family="DejaVu Sans, sans-serif" letter-spacing="1.5">**</text>
<text x="641.2" y="653.2" font-size="15.5" font-weight="bold" text-anchor="middle" transform="rotate(-90 641.2 653.2)" textLength="109.6" lengthAdjust="spacingAndGlyphs">CD86+ cell (%)</text></g>
<g transform="translate(0 0.4)"><rect x="682.75" y="784.8" width="21" height="103.2" fill="#6f77bd" stroke="#000" stroke-width="1.5"/>
<rect x="715.35" y="839.5" width="21.4" height="48.5" fill="#7fc9f0" stroke="#000" stroke-width="1.5"/>
<rect x="748.05" y="827.4" width="21" height="60.6" fill="#fa7b50" stroke="#000" stroke-width="1.5"/>
<rect x="780.65" y="804.9" width="21.4" height="83.1" fill="#b98db6" stroke="#000" stroke-width="1.5"/>
<rect x="671.1" y="745.7" width="142.2" height="142.3" fill="none" stroke="#000" stroke-width="1.4"/>
<line x1="665.5" y1="766.4" x2="671.1" y2="766.4" stroke="#000" stroke-width="1.4"/>
<text x="663.6" y="770" font-size="10" font-weight="bold" text-anchor="end">60</text>
<line x1="665.5" y1="806.8" x2="671.1" y2="806.8" stroke="#000" stroke-width="1.4"/>
<text x="663.6" y="810.4" font-size="10" font-weight="bold" text-anchor="end">40</text>
<line x1="665.5" y1="847.5" x2="671.1" y2="847.5" stroke="#000" stroke-width="1.4"/>
<text x="663.6" y="851.1" font-size="10" font-weight="bold" text-anchor="end">20</text>
<path d="M693.04 775.84V792.74M688.04 775.84H698.04M688.04 792.74H698.04" fill="none" stroke="#000" stroke-width="0.9"/>
<path d="M726.27 837.88V840.77M726.27 837.88H726.27M726.27 840.77H726.27" fill="none" stroke="#000" stroke-width="0.9"/>
<path d="M758.54 823.86V830.2M753.54 823.86H763.54M753.54 830.2H763.54" fill="none" stroke="#000" stroke-width="0.9"/>
<path d="M791.19 803.31V806.19M786.19 803.31H796.19M786.19 806.19H796.19" fill="none" stroke="#000" stroke-width="0.9"/>
<circle cx="693.04" cy="774.5" r="2.15" fill="#000"/>
<circle cx="688.81" cy="789.86" r="2.15" fill="#000"/>
<circle cx="697.46" cy="788.9" r="2.15" fill="#000"/>
<rect x="715.09" y="839.58" width="4.3" height="4.3" fill="#000"/>
<rect x="724.12" y="836.7" width="4.3" height="4.3" fill="#000"/>
<rect x="732.76" y="837.08" width="4.3" height="4.3" fill="#000"/>
<path d="M754.12 821.01L756.49 825.41L751.76 825.41Z" fill="#000"/>
<path d="M762.77 825.42L765.13 829.83L760.4 829.83Z" fill="#000"/>
<path d="M754.12 827.73L756.49 832.14L751.76 832.14Z" fill="#000"/>
<path d="M782.55 808.66L784.92 804.26L780.19 804.26Z" fill="#000"/>
<path d="M791.19 804.82L793.56 800.41L788.83 800.41Z" fill="#000"/>
<path d="M799.84 808.09L802.2 803.68L797.47 803.68Z" fill="#000"/>
<path d="M693.04 773.54V762.2H726.27V831.74" fill="none" stroke="#000" stroke-width="1.3"/>
<path d="M726.27 769.69H758.54V816.76" fill="none" stroke="#000" stroke-width="1.3"/>
<path d="M758.54 775.46H791.19V792.74" fill="none" stroke="#000" stroke-width="1.3"/>
<text x="710.31" y="759.17" font-size="13" text-anchor="middle" stroke="#000" stroke-width="0.4" font-family="DejaVu Sans, sans-serif" letter-spacing="1.5">**</text>
<text x="742.96" y="765.89" font-size="13" text-anchor="middle" stroke="#000" stroke-width="0.4" font-family="DejaVu Sans, sans-serif" letter-spacing="1.5">*</text>
<text x="775.43" y="772.23" font-size="13" text-anchor="middle" stroke="#000" stroke-width="0.4" font-family="DejaVu Sans, sans-serif" letter-spacing="1.5">**</text>
<text x="642.9" y="818.3" font-size="15.5" font-weight="bold" text-anchor="middle" transform="rotate(-90 642.9 818.3)" textLength="118.2" lengthAdjust="spacingAndGlyphs">CD206+ cell (%)</text></g>
<rect x="392.05" y="195" width="22.9" height="7.2" fill="#6f77bd" stroke="#2f4f9a" stroke-width="1.7"/>
<text x="427.8" y="203.8" font-size="14" font-weight="bold" textLength="51.8" lengthAdjust="spacingAndGlyphs">Control</text>
<rect x="500.65" y="195" width="22.9" height="7.2" fill="#7fc9f0" stroke="#2f4f9a" stroke-width="1.7"/>
<text x="531.7" y="203.8" font-size="14" font-weight="bold" textLength="43" lengthAdjust="spacingAndGlyphs">Model</text>
<rect x="600.85" y="195" width="22.9" height="7.2" fill="#fa7b50" stroke="#2f4f9a" stroke-width="1.7"/>
<text x="630.7" y="203.8" font-size="14" font-weight="bold" textLength="60.4" lengthAdjust="spacingAndGlyphs">YDC-Gel</text>
<rect x="709.85" y="195" width="22.9" height="7.2" fill="#b98db6" stroke="#2f4f9a" stroke-width="1.7"/>
<text x="741.6" y="203.8" font-size="14" font-weight="bold" textLength="84.3" lengthAdjust="spacingAndGlyphs">YDC-Gel-Zn</text>
</g>
<g id="images">
<defs><filter id="bl4" x="-5%" y="-5%" width="110%" height="110%"><feGaussianBlur stdDeviation="1.1"/></filter><filter id="bl5" x="-5%" y="-5%" width="110%" height="110%"><feGaussianBlur stdDeviation="1.9"/></filter><filter id="bl0" x="-5%" y="-5%" width="110%" height="110%"><feGaussianBlur stdDeviation="0.45"/></filter><filter id="bl3" x="-5%" y="-5%" width="110%" height="110%"><feGaussianBlur stdDeviation="0.9"/></filter><filter id="bl1" x="-5%" y="-5%" width="110%" height="110%"><feGaussianBlur stdDeviation="0.85"/></filter><filter id="bl2" x="-5%" y="-5%" width="110%" height="110%"><feGaussianBlur stdDeviation="1.0"/></filter></defs>
<rect x="51.6" y="230.1" width="128.6" height="30.9" fill="#dae3f3"/>
<text x="90.6" y="251.6" font-size="14.3" font-weight="bold" textLength="52" lengthAdjust="spacingAndGlyphs">Control</text>
<rect x="184" y="230.1" width="128.6" height="30.9" fill="#dae3f3"/>
<text x="224.2" y="251.6" font-size="14.3" font-weight="bold" textLength="42.2" lengthAdjust="spacingAndGlyphs">Model</text>
<rect x="315.6" y="230.1" width="128.3" height="30.9" fill="#dae3f3"/>
<text x="350.4" y="251.6" font-size="14.3" font-weight="bold" textLength="59.8" lengthAdjust="spacingAndGlyphs">YDC-Gel</text>
<rect x="447.9" y="230.1" width="128.6" height="30.9" fill="#dae3f3"/>
<text x="471.1" y="251.6" font-size="14.3" font-weight="bold" textLength="82.2" lengthAdjust="spacingAndGlyphs">YDC-Gel-Zn</text>
<rect x="21" y="260.9" width="30.9" height="156.2" fill="#dae3f3"/>
<rect x="21" y="417.9" width="30.4" height="157.8" fill="#dae3f3"/>
<clipPath id="ic00"><rect x="51.7" y="261.3" width="129.6" height="156.2"/></clipPath>
<rect x="51.7" y="261.3" width="129.6" height="156.2" fill="#000"/>
<g clip-path="url(#ic00)">
<g filter="url(#bl4)">
<ellipse cx="161.2" cy="281.19" rx="1.62" ry="1.08" fill="#1a5a1e" opacity="0.6"/>
</g>
<g filter="url(#bl3)">
<path d="M65.37 270.54C65.17 270.91 64.62 271.52 64.12 271.79C63.62 272.05 62.84 272.17 62.38 272.11C61.92 272.06 61.45 271.79 61.39 271.47C61.33 271.14 61.71 270.6 62.02 270.18C62.33 269.75 62.76 269.14 63.24 268.9C63.72 268.67 64.54 268.62 64.89 268.74C65.23 268.85 65.22 269.27 65.3 269.57C65.38 269.87 65.57 270.17 65.37 270.54Z" fill="#84140a" opacity="0.85"/>
<path d="M94.03 280.52C93.9 280.17 93.48 279.54 93.72 279.3C93.96 279.07 94.93 278.98 95.46 279.13C95.98 279.27 96.53 279.83 96.87 280.17C97.21 280.5 97.4 280.81 97.48 281.15C97.57 281.49 97.68 282.07 97.39 282.21C97.09 282.35 96.21 282.11 95.73 281.97C95.24 281.84 94.76 281.64 94.47 281.4C94.19 281.16 94.15 280.87 94.03 280.52Z" fill="#84140a" opacity="0.85"/>
<path d="M68.08 291.67C67.55 291.44 66.97 291.2 66.55 290.81C66.13 290.41 65.51 289.61 65.56 289.3C65.6 288.98 66.41 289.06 66.83 288.93C67.24 288.79 67.58 288.34 68.03 288.49C68.48 288.64 69.1 289.37 69.51 289.84C69.92 290.31 70.46 290.91 70.49 291.3C70.53 291.7 70.14 292.14 69.74 292.2C69.34 292.26 68.61 291.91 68.08 291.67Z" fill="#84140a" opacity="0.85"/>
<path d="M91.9 297.96C91.43 297.74 90.97 297.11 90.7 296.71C90.44 296.31 90.35 295.95 90.3 295.57C90.25 295.18 90.17 294.67 90.4 294.4C90.64 294.13 91.25 293.83 91.72 293.95C92.2 294.07 92.94 294.7 93.24 295.13C93.54 295.56 93.47 296.04 93.53 296.52C93.58 297 93.84 297.78 93.57 298.02C93.3 298.26 92.38 298.18 91.9 297.96Z" fill="#84140a" opacity="0.85"/>
<path d="M130.27 269.04C130.65 269.28 131.05 269.57 131.12 269.96C131.18 270.34 131.01 270.94 130.64 271.36C130.28 271.77 129.43 272.41 128.92 272.44C128.41 272.48 127.99 271.86 127.59 271.58C127.19 271.3 126.65 271.17 126.52 270.77C126.4 270.38 126.46 269.57 126.84 269.19C127.23 268.82 128.28 268.55 128.85 268.52C129.42 268.5 129.89 268.81 130.27 269.04Z" fill="#38b03c" opacity="0.85"/>
<path d="M132.98 288.49C133.66 288.79 134.49 289.43 134.86 289.91C135.23 290.4 135.23 290.93 135.21 291.4C135.19 291.88 135.23 292.53 134.74 292.76C134.25 292.99 133.29 293.06 132.28 292.78C131.28 292.49 129.19 291.69 128.71 291.05C128.23 290.4 129.04 289.39 129.39 288.89C129.74 288.4 130.21 288.15 130.81 288.08C131.4 288.01 132.3 288.18 132.98 288.49Z" fill="#1f6a22" opacity="0.62"/>
<path d="M154.71 297.04C153.98 296.33 153.39 295.39 153.17 294.62C152.94 293.85 152.92 292.74 153.35 292.42C153.78 292.1 155.05 292.46 155.75 292.69C156.46 292.92 156.96 293.33 157.57 293.79C158.18 294.25 159.06 294.8 159.41 295.47C159.75 296.14 159.95 297.23 159.65 297.81C159.34 298.38 158.38 299.03 157.56 298.9C156.73 298.77 155.44 297.75 154.71 297.04Z" fill="#1f6a22" opacity="0.62"/>
</g>
<g filter="url(#bl0)">
<ellipse cx="126.98" cy="271.69" rx="1.09" ry="1.09" fill="#2233ff"/>
<ellipse cx="162.15" cy="281.76" rx="1.09" ry="1.09" fill="#10a0e8"/>
<ellipse cx="132.11" cy="289.93" rx="1.31" ry="1.31" fill="#2233ff"/>
<ellipse cx="156.82" cy="297.35" rx="1.31" ry="1.31" fill="#2233ff"/>
</g>
<g filter="url(#bl5)">
<path d="M69.18 331.41C70.42 330.87 71.46 330.9 72.74 330.58C74.02 330.25 75.36 329.54 76.85 329.47C78.34 329.4 81.12 329.36 81.67 330.16C82.21 330.96 81.33 333.19 80.13 334.26C78.93 335.33 76.05 335.84 74.47 336.59C72.89 337.33 71.67 338.63 70.65 338.74C69.64 338.84 69.22 337.59 68.38 337.21C67.54 336.84 66.12 337.06 65.61 336.5C65.1 335.94 64.72 334.7 65.32 333.85C65.91 333 67.94 331.96 69.18 331.41Z" fill="#1a5a1e" opacity="0.6"/>
<path d="M146.25 356.99C145.41 357.16 142.32 355.61 140.42 355.39C138.52 355.16 136.17 356.08 134.86 355.63C133.55 355.19 133.27 353.61 132.56 352.71C131.85 351.81 130.64 350.97 130.58 350.22C130.53 349.47 131.07 348.54 132.24 348.22C133.41 347.9 135.79 347.98 137.61 348.3C139.42 348.62 141.86 349.42 143.13 350.14C144.39 350.86 144.8 351.91 145.19 352.62C145.58 353.32 145.28 353.64 145.46 354.37C145.64 355.09 147.09 356.81 146.25 356.99Z" fill="#7a3a14" opacity="0.6"/>
</g>
<g filter="url(#bl2)">
<path d="M79.04 335.98C78.26 336.2 76.95 334.89 76.14 334.54C75.33 334.19 74.52 334.28 74.19 333.88C73.86 333.48 74.13 332.76 74.15 332.16C74.18 331.57 73.92 330.78 74.35 330.31C74.78 329.84 75.89 329.71 76.73 329.36C77.56 329.01 78.67 328.16 79.36 328.21C80.05 328.26 80.34 329.18 80.86 329.67C81.38 330.16 82.5 330.56 82.49 331.15C82.48 331.74 81.38 332.4 80.8 333.2C80.23 334.01 79.81 335.76 79.04 335.98Z" fill="#38b03c" opacity="0.85"/>
<ellipse cx="78.13" cy="330.23" rx="2.05" ry="1.71" fill="#d8d040" opacity="0.85"/>
<path d="M143.76 353.78C143.56 354.53 144.14 355 143.77 355.3C143.4 355.61 142.33 355.5 141.54 355.6C140.75 355.7 139.51 356.13 139.01 355.9C138.51 355.67 138.49 354.71 138.53 354.21C138.56 353.72 138.84 353.39 139.22 352.94C139.6 352.49 139.83 351.88 140.78 351.53C141.73 351.17 144.43 350.45 144.93 350.83C145.42 351.2 143.95 353.03 143.76 353.78Z" fill="#9a5a18" opacity="0.75"/>
<path d="M77.51 365.72C78.05 365.4 81.68 367.94 83.38 368.88C85.08 369.83 86.49 370.38 87.72 371.4C88.95 372.42 90.08 373.9 90.76 375.01C91.45 376.12 92.01 377.41 91.83 378.05C91.65 378.68 90.35 378.21 89.69 378.81C89.03 379.41 89.06 382.03 87.88 381.65C86.69 381.28 84.09 378.04 82.56 376.55C81.03 375.06 79.1 373.67 78.69 372.72C78.29 371.77 80.33 372.02 80.13 370.85C79.94 369.69 76.97 366.05 77.51 365.72Z" fill="#1f6a22" opacity="0.62"/>
<path d="M83.52 369.6C84.1 369.92 84.49 370.91 85 371.58C85.52 372.25 86.67 373.25 86.61 373.63C86.55 374.01 85.22 373.73 84.62 373.86C84.02 373.99 83.84 374.57 83.02 374.42C82.2 374.28 80.21 373.67 79.68 373.01C79.14 372.34 79.51 370.97 79.81 370.42C80.11 369.86 80.88 369.82 81.49 369.68C82.11 369.55 82.93 369.28 83.52 369.6Z" fill="#9a5a18" opacity="0.75"/>
<path d="M130.19 386.46C128.96 385.89 128.13 385.8 126.47 384.76C124.8 383.72 120.5 381.5 120.19 380.24C119.89 378.99 123.47 378.4 124.64 377.22C125.82 376.04 125.94 372.98 127.25 373.18C128.57 373.38 131.2 377.16 132.55 378.4C133.9 379.65 134.39 379.73 135.36 380.65C136.32 381.57 137.82 382.67 138.34 383.92C138.86 385.16 139.22 387.39 138.47 388.1C137.73 388.82 135.23 388.46 133.85 388.18C132.47 387.91 131.42 387.04 130.19 386.46Z" fill="#1f6a22" opacity="0.62"/>
<path d="M129.01 386.39C128.49 385.71 128.26 384.64 128.49 384.08C128.72 383.53 129.74 383.24 130.4 383.05C131.05 382.86 131.65 382.84 132.41 382.94C133.17 383.05 134.57 383.22 134.97 383.67C135.37 384.12 134.93 385 134.83 385.64C134.72 386.27 134.87 387.04 134.34 387.46C133.81 387.88 132.54 388.33 131.65 388.15C130.76 387.98 129.54 387.07 129.01 386.39Z" fill="#9a5a18" opacity="0.75"/>
</g>
<g filter="url(#bl2)">
<ellipse cx="71.86" cy="334.03" rx="3.42" ry="1.88" fill="#4f8a3a" transform="rotate(-25 71.86 334.03)" opacity="0.5"/>
<ellipse cx="85.16" cy="373.95" rx="4.11" ry="1.71" fill="#6aa040" transform="rotate(38 85.16 373.95)" opacity="0.5"/>
<ellipse cx="131.35" cy="382.5" rx="3.85" ry="2.74" fill="#6aa040" transform="rotate(35 131.35 382.5)" opacity="0.5"/>
</g>
<g filter="url(#bl1)">
<ellipse cx="73.76" cy="334.6" rx="2.28" ry="2.28" fill="#3a50ff"/>
<ellipse cx="142.76" cy="354.94" rx="2.28" ry="2.28" fill="#6a4cff"/>
<ellipse cx="82.69" cy="371.67" rx="2.28" ry="2.28" fill="#3a50ff"/>
<ellipse cx="132.11" cy="386.68" rx="2.28" ry="2.28" fill="#6a4cff"/>
</g>
</g>
<clipPath id="ic10"><rect x="183.8" y="261.3" width="129.3" height="156.2"/></clipPath>
<rect x="183.8" y="261.3" width="129.3" height="156.2" fill="#000"/>
<g clip-path="url(#ic10)">
<g filter="url(#bl4)">
<path d="M212.74 280.21C213.06 280.55 213.54 281.16 213.32 281.47C213.1 281.78 212.04 281.93 211.42 282.07C210.8 282.2 210.09 282.38 209.59 282.27C209.09 282.15 208.68 281.71 208.42 281.37C208.17 281.03 207.84 280.51 208.05 280.23C208.26 279.94 209.14 279.82 209.69 279.68C210.25 279.54 210.9 279.31 211.4 279.4C211.91 279.49 212.42 279.86 212.74 280.21Z" fill="#4a0c06" opacity="0.7"/>
<path d="M272.86 284.58C271.75 284.49 269.75 284.01 269.37 283.39C268.99 282.78 270.2 281.6 270.57 280.89C270.94 280.18 270.97 279.49 271.59 279.12C272.22 278.76 273.45 278.77 274.31 278.7C275.18 278.64 276.01 278.57 276.78 278.75C277.55 278.92 278.31 279.27 278.94 279.74C279.58 280.2 280.16 280.68 280.61 281.55C281.05 282.42 282.38 284.57 281.62 284.97C280.86 285.37 277.51 284 276.05 283.93C274.59 283.87 273.97 284.67 272.86 284.58Z" fill="#1a5a1e" opacity="0.6"/>
</g>
<g filter="url(#bl3)">
<ellipse cx="207.66" cy="271.31" rx="1.98" ry="1.53" fill="#bc1e0b" transform="rotate(20 207.66 271.31)" opacity="0.88"/>
<path d="M220.52 288.29C220.69 288.79 220.4 289.6 219.99 289.83C219.59 290.06 218.68 289.76 218.1 289.65C217.52 289.54 216.89 289.48 216.51 289.18C216.13 288.88 215.91 288.29 215.81 287.85C215.7 287.42 215.66 286.91 215.89 286.57C216.13 286.22 216.71 285.73 217.23 285.77C217.75 285.81 218.46 286.41 219.01 286.83C219.56 287.25 220.36 287.79 220.52 288.29Z" fill="#84140a" opacity="0.85"/>
<path d="M230.57 288.44C230.2 288.27 229.96 287.91 229.74 287.51C229.51 287.11 229.06 286.48 229.22 286.04C229.37 285.6 230.1 285.03 230.67 284.88C231.24 284.73 232.27 284.82 232.65 285.12C233.03 285.42 232.89 286.23 232.96 286.69C233.03 287.15 233.26 287.56 233.09 287.87C232.91 288.18 232.34 288.45 231.92 288.54C231.5 288.64 230.93 288.61 230.57 288.44Z" fill="#bc1e0b" opacity="0.88"/>
<ellipse cx="213.36" cy="297.92" rx="2.14" ry="1.37" fill="#bc1e0b" transform="rotate(-30 213.36 297.92)" opacity="0.88"/>
<path d="M268.41 271.27C268.06 270.57 267.23 269.06 267.72 268.66C268.21 268.27 270.21 268.83 271.35 268.89C272.5 268.95 273.85 268.61 274.59 269.02C275.33 269.43 275.86 270.7 275.8 271.35C275.74 272.01 274.84 272.5 274.23 272.97C273.62 273.43 272.88 274.18 272.14 274.16C271.41 274.14 270.43 273.31 269.8 272.82C269.18 272.34 268.75 271.96 268.41 271.27Z" fill="#1f6a22" opacity="0.62"/>
<path d="M286.22 290.89C285.55 291.5 284.32 292.21 283.28 292.22C282.24 292.23 281 291.4 279.99 290.96C278.98 290.51 277.79 290.17 277.23 289.54C276.66 288.91 276.5 287.88 276.61 287.16C276.73 286.43 277.2 285.51 277.9 285.17C278.61 284.83 279.68 285.59 280.86 285.11C282.05 284.63 284.03 282.12 285.01 282.27C285.99 282.42 286.38 284.94 286.76 285.99C287.14 287.04 287.39 287.76 287.3 288.57C287.21 289.39 286.89 290.28 286.22 290.89Z" fill="#1f6a22" opacity="0.62"/>
<path d="M275.5 298.22C275.4 297.86 275.89 297.21 276.24 296.78C276.58 296.34 277.13 295.7 277.57 295.63C278.02 295.56 278.46 296.14 278.92 296.35C279.38 296.56 280.18 296.55 280.35 296.88C280.52 297.22 280.26 297.97 279.94 298.38C279.61 298.79 278.89 299.24 278.38 299.33C277.87 299.43 277.35 299.16 276.87 298.97C276.39 298.79 275.61 298.59 275.5 298.22Z" fill="#38b03c" opacity="0.85"/>
</g>
<g filter="url(#bl0)">
<ellipse cx="273.24" cy="271.69" rx="1.09" ry="1.09" fill="#2233ff"/>
<ellipse cx="276.09" cy="280.81" rx="1.09" ry="1.09" fill="#10a0e8"/>
<ellipse cx="282.17" cy="287.84" rx="1.09" ry="1.09" fill="#2233ff"/>
<ellipse cx="296.05" cy="287.46" rx="1.31" ry="1.31" fill="#1626b0"/>
<ellipse cx="277.04" cy="297.54" rx="1.09" ry="1.09" fill="#30d0f0"/>
</g>
<g filter="url(#bl5)">
<path d="M221.71 346.59C222.48 345.45 227.45 345.26 230.06 345.2C232.67 345.13 235.16 345.67 237.37 346.22C239.58 346.77 241.71 347.51 243.31 348.5C244.91 349.48 245.3 350.44 246.99 352.13C248.67 353.82 254.43 357.77 253.41 358.64C252.38 359.5 243.87 357.54 240.82 357.33C237.76 357.12 237.39 357.49 235.09 357.38C232.79 357.27 228.63 357.58 227.02 356.69C225.42 355.8 226.33 353.73 225.44 352.05C224.56 350.36 220.94 347.74 221.71 346.59Z" fill="#1a5a1e" opacity="0.6"/>
</g>
<g filter="url(#bl2)">
<path d="M235.75 330.48C235.89 332.12 236.28 332.53 236.21 333.57C236.14 334.61 236.02 336.01 235.35 336.72C234.67 337.43 233.19 337.7 232.13 337.84C231.07 337.97 229.87 337.92 228.98 337.52C228.09 337.12 227.31 336.24 226.81 335.42C226.31 334.6 226.06 333.66 225.97 332.6C225.87 331.53 225.73 330.39 226.24 329.03C226.76 327.66 227.53 325.3 229.05 324.42C230.58 323.53 234.27 322.71 235.39 323.72C236.5 324.73 235.61 328.83 235.75 330.48Z" fill="#1f6a22" opacity="0.62"/>
<path d="M233.54 336.22C232.91 336.65 231.74 336.86 230.83 336.73C229.91 336.59 228.48 336.11 228.04 335.42C227.6 334.73 227.81 333.28 228.19 332.57C228.58 331.87 229.65 331.44 230.37 331.19C231.09 330.94 231.85 330.9 232.52 331.06C233.18 331.22 234.02 331.61 234.36 332.13C234.7 332.64 234.72 333.46 234.58 334.15C234.45 334.83 234.17 335.79 233.54 336.22Z" fill="#e09a30" opacity="0.9"/>
<path d="M240.23 350.01C240.7 350.2 240.69 351.03 240.94 351.52C241.18 352.02 241.84 352.51 241.71 352.96C241.58 353.42 240.76 354.15 240.16 354.25C239.57 354.36 238.73 353.85 238.14 353.61C237.55 353.36 236.82 353.16 236.63 352.8C236.43 352.43 236.74 351.83 236.98 351.42C237.23 351.02 237.58 350.6 238.12 350.36C238.66 350.13 239.76 349.81 240.23 350.01Z" fill="#9a5a18" opacity="0.75"/>
<path d="M255.61 360.98C257.12 361.77 256.98 362.69 259.36 364.16C261.74 365.63 268.99 367.79 269.91 369.81C270.83 371.83 267.28 375.36 264.88 376.28C262.48 377.21 257.95 376.13 255.5 375.35C253.06 374.58 251.7 372.68 250.23 371.63C248.75 370.59 247.86 370.17 246.65 369.06C245.44 367.95 243.49 366.58 242.95 364.97C242.4 363.36 242.13 360.31 243.36 359.39C244.6 358.46 248.31 359.17 250.35 359.43C252.39 359.7 254.11 360.19 255.61 360.98Z" fill="#1f6a22" opacity="0.62"/>
<path d="M252.33 364.06C252.9 363.92 254.53 364.68 255.21 365.18C255.88 365.69 256.07 366.49 256.38 367.09C256.69 367.69 256.99 368.03 257.06 368.8C257.13 369.56 257.43 371.56 256.79 371.67C256.16 371.78 254.52 370.1 253.23 369.46C251.93 368.81 249.28 368.37 249.05 367.79C248.81 367.22 251.27 366.64 251.82 366.02C252.36 365.39 251.76 364.2 252.33 364.06Z" fill="#9a5a18" opacity="0.75"/>
<path d="M275.22 369.17C274.64 368.58 275.01 367.15 275.04 366.16C275.06 365.16 274.84 364.02 275.37 363.19C275.89 362.36 277.14 361.59 278.19 361.18C279.24 360.78 280.75 360.48 281.68 360.78C282.6 361.08 283.44 362.19 283.74 362.98C284.05 363.76 283.47 364.64 283.49 365.49C283.51 366.33 284.27 367.48 283.86 368.04C283.46 368.61 281.94 368.62 281.04 368.89C280.15 369.16 279.47 369.62 278.5 369.66C277.53 369.71 275.79 369.75 275.22 369.17Z" fill="#bc1e0b" opacity="0.88"/>
<path d="M245.58 388.69C244.98 389.12 244.23 389.51 243.49 389.64C242.75 389.77 241.84 389.76 241.14 389.47C240.45 389.18 239.56 388.59 239.33 387.91C239.1 387.22 239.37 386.14 239.74 385.38C240.1 384.61 240.8 383.62 241.52 383.31C242.23 383 243.22 383.52 244.01 383.52C244.81 383.51 245.75 383.03 246.28 383.3C246.8 383.56 247.03 384.45 247.16 385.08C247.3 385.71 247.36 386.46 247.1 387.06C246.83 387.67 246.18 388.26 245.58 388.69Z" fill="#e09a30" opacity="0.9"/>
<path d="M246.47 385.63C246.5 386.14 246.47 386.98 246.08 387.4C245.7 387.82 244.75 388.12 244.13 388.13C243.52 388.15 242.66 387.87 242.41 387.48C242.16 387.09 242.58 386.37 242.62 385.81C242.67 385.26 242.38 384.48 242.69 384.15C243.01 383.81 243.98 383.78 244.51 383.82C245.04 383.85 245.55 384.05 245.87 384.36C246.2 384.66 246.43 385.12 246.47 385.63Z" fill="#f0e080" opacity="0.95"/>
</g>
<g filter="url(#bl2)">
<ellipse cx="236.17" cy="352.09" rx="5.82" ry="3.25" fill="#4f8a3a" transform="rotate(10 236.17 352.09)" opacity="0.5"/>
<ellipse cx="231.04" cy="333.08" rx="3.25" ry="3.08" fill="#6aa040" opacity="0.5"/>
<ellipse cx="252.71" cy="366.72" rx="4.7" ry="3.59" fill="#6aa040" transform="rotate(20 252.71 366.72)" opacity="0.5"/>
</g>
<g filter="url(#bl1)">
<ellipse cx="232.94" cy="333.46" rx="2.51" ry="2.51" fill="#6a4cff"/>
<ellipse cx="239.97" cy="351.71" rx="2.51" ry="2.51" fill="#6a4cff"/>
<ellipse cx="251.57" cy="365.77" rx="2.74" ry="2.74" fill="#3a50ff"/>
<ellipse cx="279.51" cy="365.96" rx="2.51" ry="2.51" fill="#6a4cff"/>
<ellipse cx="240.92" cy="386.87" rx="1.82" ry="1.82" fill="#ff9af0"/>
</g>
</g>
<clipPath id="ic20"><rect x="315.4" y="261.3" width="129.5" height="156.2"/></clipPath>
<rect x="315.4" y="261.3" width="129.5" height="156.2" fill="#02030a"/>
<rect x="315.4" y="261.3" width="64" height="52.6" fill="#010000"/>
<g clip-path="url(#ic20)">
<g filter="url(#bl4)">
<path d="M375.42 301.52C375.38 300.87 375.21 299.7 375.53 299.27C375.84 298.85 376.77 298.85 377.3 298.97C377.84 299.09 378.35 299.48 378.72 299.99C379.1 300.5 379.66 301.46 379.56 302.01C379.46 302.56 378.57 302.85 378.12 303.29C377.68 303.73 377.28 304.7 376.89 304.67C376.5 304.65 376.02 303.66 375.78 303.14C375.53 302.61 375.47 302.16 375.42 301.52Z" fill="#4a0c06" opacity="0.7"/>
</g>
<g filter="url(#bl3)">
<path d="M326.34 298.79C325.67 298.85 324.65 298.86 324.06 298.55C323.48 298.24 322.83 297.48 322.84 296.95C322.85 296.42 323.54 295.69 324.13 295.39C324.72 295.08 325.72 295.07 326.37 295.14C327.02 295.22 327.59 295.52 328.01 295.82C328.43 296.13 328.9 296.58 328.91 296.98C328.92 297.37 328.51 297.89 328.08 298.19C327.65 298.49 327.01 298.73 326.34 298.79Z" fill="#84140a" opacity="0.85"/>
<path d="M342.77 291.24C342.83 290.82 343.48 290.39 343.91 290.11C344.35 289.83 344.78 289.64 345.39 289.55C346 289.47 347.1 289.3 347.57 289.59C348.04 289.88 348.34 290.82 348.21 291.29C348.08 291.76 347.27 292.01 346.79 292.4C346.31 292.8 345.86 293.61 345.32 293.65C344.79 293.69 343.99 293.03 343.56 292.63C343.14 292.23 342.71 291.66 342.77 291.24Z" fill="#84140a" opacity="0.85"/>
<path d="M355.86 290.4C355.48 290.03 355.28 288.89 355.36 288.25C355.44 287.61 355.92 286.93 356.33 286.55C356.74 286.17 357.33 285.97 357.83 285.99C358.34 286 358.96 286.22 359.36 286.65C359.76 287.09 360.24 287.94 360.23 288.58C360.22 289.23 359.74 290.23 359.3 290.54C358.87 290.86 358.2 290.47 357.62 290.45C357.05 290.42 356.24 290.77 355.86 290.4Z" fill="#84140a" opacity="0.85"/>
<path d="M369.74 284.49C369.65 285.04 369.36 285.54 369.04 285.95C368.72 286.35 368.2 287 367.81 286.94C367.41 286.88 366.84 286.12 366.67 285.58C366.5 285.03 366.7 284.25 366.79 283.65C366.89 283.05 366.96 282.37 367.24 281.99C367.53 281.62 368.12 281.3 368.51 281.4C368.9 281.5 369.38 282.09 369.58 282.6C369.79 283.11 369.83 283.93 369.74 284.49Z" fill="#84140a" opacity="0.85"/>
<path d="M391.65 302.03C390.89 302.06 390 300.59 389.34 299.92C388.68 299.25 388.05 298.79 387.69 298.02C387.33 297.25 387.1 296.34 387.2 295.29C387.29 294.24 387.42 292.15 388.25 291.74C389.08 291.32 390.88 292.71 392.16 292.81C393.45 292.91 395.37 291.82 395.97 292.35C396.58 292.89 395.34 294.84 395.8 296.01C396.26 297.18 399.05 298.74 398.74 299.37C398.42 300 395.08 299.32 393.9 299.76C392.72 300.21 392.41 302.01 391.65 302.03Z" fill="#1f6a22" opacity="0.62"/>
<path d="M412.37 287.56C413.24 288.11 413.98 290.02 413.89 291.02C413.8 292.01 412.49 292.84 411.84 293.51C411.19 294.17 410.76 294.78 410 295.01C409.24 295.24 407.98 295.32 407.3 294.9C406.62 294.48 406.12 293.37 405.91 292.48C405.71 291.58 405.61 290.32 406.07 289.52C406.53 288.73 407.61 288.03 408.66 287.71C409.71 287.38 411.5 287.01 412.37 287.56Z" fill="#1f6a22" opacity="0.62"/>
<path d="M419.01 290.3C418.54 289.48 417.97 288.22 418.02 286.89C418.07 285.57 418.41 283.1 419.3 282.37C420.18 281.64 422.32 281.92 423.33 282.51C424.34 283.1 424.95 284.9 425.34 285.92C425.74 286.94 425.47 287.69 425.7 288.61C425.93 289.54 426.84 290.57 426.72 291.46C426.6 292.35 425.7 293.61 424.97 293.95C424.24 294.29 423.05 293.85 422.36 293.5C421.67 293.14 421.4 292.37 420.85 291.83C420.29 291.3 419.48 291.12 419.01 290.3Z" fill="#1f6a22" opacity="0.62"/>
<path d="M433.91 282.51C434.59 283.16 436.62 284.15 436.61 284.87C436.6 285.59 434.61 286.44 433.84 286.83C433.07 287.21 432.53 287.32 431.97 287.19C431.41 287.05 430.79 286.57 430.48 286.03C430.16 285.48 429.97 284.52 430.07 283.92C430.18 283.32 430.71 282.93 431.12 282.44C431.52 281.94 432.05 280.94 432.52 280.95C432.98 280.96 433.23 281.85 433.91 282.51Z" fill="#1f6a22" opacity="0.62"/>
<path d="M440.93 304.09C440.32 303.55 439.9 302.2 439.88 301.18C439.85 300.15 440.13 298.91 440.79 297.95C441.45 297 442.8 295.47 443.84 295.46C444.88 295.45 446.4 296.89 447.01 297.9C447.63 298.9 447.63 300.37 447.55 301.5C447.46 302.64 447.15 304.23 446.48 304.72C445.81 305.21 444.45 304.53 443.52 304.43C442.6 304.32 441.53 304.63 440.93 304.09Z" fill="#1f6a22" opacity="0.62"/>
</g>
<g filter="url(#bl0)">
<ellipse cx="391.55" cy="297.92" rx="1.53" ry="1.53" fill="#10a0e8"/>
<ellipse cx="409.04" cy="292.21" rx="1.31" ry="1.31" fill="#10a0e8"/>
<ellipse cx="421.96" cy="288.41" rx="1.31" ry="1.31" fill="#2233ff"/>
<ellipse cx="431.85" cy="284.23" rx="1.31" ry="1.31" fill="#2233ff"/>
<ellipse cx="444.39" cy="300.2" rx="0.87" ry="0.87" fill="#10a0e8"/>
</g>
<g filter="url(#bl2)">
<path d="M353.23 384.04C352.56 385.78 345.54 386.32 343.4 387.72C341.26 389.13 341.78 391.99 340.4 392.45C339.01 392.9 336.61 391.24 335.08 390.45C333.54 389.65 331.85 388.87 331.2 387.66C330.55 386.46 331.07 384.64 331.19 383.2C331.32 381.76 331.19 380.2 331.93 379.03C332.67 377.86 333.8 377.67 335.63 376.19C337.45 374.7 340.92 369.93 342.88 370.12C344.84 370.3 345.65 374.95 347.38 377.27C349.11 379.59 353.89 382.29 353.23 384.04Z" fill="#1f6a22" opacity="0.62"/>
<path d="M335.85 388.08C334.82 387.98 332.61 388.18 332.17 387.63C331.73 387.07 332.67 385.44 333.21 384.75C333.75 384.05 334.62 383.74 335.41 383.44C336.2 383.14 336.91 382.88 337.96 382.93C339 382.98 341.36 383.14 341.68 383.74C341.99 384.35 340.4 385.81 339.84 386.56C339.28 387.31 339 387.98 338.33 388.23C337.67 388.48 336.88 388.18 335.85 388.08Z" fill="#9a5a18" opacity="0.75"/>
<path d="M378.89 362.16C380.07 362.64 378.77 368.87 379.91 370.84C381.04 372.81 385.42 372.72 385.72 374C386.02 375.28 382.88 376.95 381.71 378.53C380.53 380.12 380.05 383.26 378.68 383.51C377.31 383.76 375.2 380.72 373.48 380.03C371.75 379.35 369.19 380.34 368.34 379.42C367.5 378.5 368.11 375.94 368.41 374.54C368.71 373.14 369.39 372.13 370.12 371.04C370.85 369.94 371.34 369.47 372.8 367.99C374.27 366.51 377.71 361.69 378.89 362.16Z" fill="#1f6a22" opacity="0.62"/>
<path d="M372.3 368C372.2 367.35 372.56 365.65 372.65 364.48C372.74 363.31 372.65 361.55 372.85 360.96C373.05 360.37 373.45 361.69 373.84 360.95C374.24 360.2 375.03 356.27 375.2 356.48C375.36 356.7 374.88 360.91 374.86 362.23C374.83 363.56 374.98 363.34 375.02 364.41C375.07 365.48 375.3 367.51 375.12 368.67C374.94 369.83 374.25 371.43 373.93 371.38C373.62 371.33 373.5 368.93 373.22 368.37C372.95 367.81 372.39 368.64 372.3 368Z" fill="#1f6a22" opacity="0.62"/>
<path d="M374.84 375.8C375.1 375.4 375.33 375.02 375.74 374.85C376.15 374.68 376.76 374.7 377.3 374.78C377.85 374.86 378.7 374.98 379 375.31C379.29 375.64 379.2 376.27 379.06 376.75C378.91 377.23 378.65 377.92 378.12 378.17C377.6 378.43 376.57 378.43 375.91 378.28C375.25 378.12 374.35 377.67 374.17 377.26C373.99 376.85 374.57 376.21 374.84 375.8Z" fill="#9a5a18" opacity="0.75"/>
<path d="M405.05 367.05C404.65 368.14 402.6 367.72 401.61 369.4C400.63 371.09 400.54 376.29 399.14 377.19C397.73 378.08 393.97 376.42 393.18 374.78C392.39 373.13 394.55 369.16 394.4 367.33C394.25 365.49 392.08 364.75 392.28 363.77C392.48 362.79 394.64 362.95 395.61 361.45C396.57 359.94 396.99 355.11 398.09 354.73C399.18 354.35 401.18 357.81 402.17 359.17C403.16 360.53 403.52 361.58 404 362.89C404.48 364.2 405.45 365.97 405.05 367.05Z" fill="#1f6a22" opacity="0.62"/>
<path d="M401.06 372.27C402.28 371.93 404.02 371.92 405.03 372.39C406.05 372.86 405.96 374.25 407.12 375.09C408.29 375.94 411.87 376.54 412.02 377.44C412.16 378.35 408.94 379.25 408 380.52C407.06 381.78 407.45 384.51 406.36 385.03C405.28 385.55 402.9 384.2 401.47 383.64C400.04 383.07 398.22 382.6 397.78 381.65C397.34 380.69 398.87 379.12 398.85 377.91C398.84 376.7 397.32 375.34 397.69 374.4C398.06 373.46 399.83 372.6 401.06 372.27Z" fill="#1f6a22" opacity="0.62"/>
<path d="M398.8 370.56C398.48 370.14 398.24 369.46 398.31 368.97C398.38 368.48 398.83 367.97 399.23 367.65C399.63 367.33 400.23 366.99 400.71 367.03C401.19 367.06 401.81 367.47 402.12 367.87C402.42 368.27 402.55 368.85 402.55 369.41C402.55 369.97 402.5 370.85 402.11 371.2C401.73 371.55 400.8 371.62 400.24 371.52C399.69 371.41 399.12 370.99 398.8 370.56Z" fill="#d8d040" opacity="0.85"/>
<path d="M424.34 356.94C424.84 358.12 424.85 359.71 424.94 361.13C425.03 362.54 425.33 364.59 424.89 365.43C424.45 366.27 423.35 365.17 422.28 366.16C421.21 367.15 419.26 372.04 418.49 371.37C417.71 370.71 417.88 364.35 417.63 362.18C417.39 360.02 417.57 360.31 417.01 358.36C416.46 356.41 413.88 351.26 414.29 350.48C414.7 349.69 418.19 353.05 419.46 353.65C420.74 354.24 421.14 353.52 421.95 354.07C422.76 354.62 423.84 355.77 424.34 356.94Z" fill="#9a5a18" opacity="0.75"/>
<path d="M421.48 352.39C421.99 352.6 422.53 354.24 423.08 355.17C423.63 356.11 424.47 356.91 424.79 358C425.1 359.1 425.26 361.01 424.96 361.73C424.66 362.46 423.59 362.36 422.98 362.36C422.38 362.35 421.86 362.07 421.33 361.73C420.8 361.38 420.51 360.97 419.8 360.26C419.09 359.56 417.34 358.54 417.05 357.52C416.77 356.5 417.61 354.75 418.1 354.15C418.6 353.55 419.48 354.2 420.04 353.9C420.6 353.61 420.98 352.17 421.48 352.39Z" fill="#1f6a22" opacity="0.62"/>
<path d="M447.29 397.55C446.81 399.41 446.04 403.27 444.71 403.56C443.38 403.85 440.83 400.17 439.3 399.29C437.76 398.4 437.28 398.99 435.49 398.24C433.7 397.5 429.72 396.86 428.56 394.83C427.4 392.8 427.19 387.81 428.53 386.07C429.88 384.33 434.37 384.72 436.64 384.4C438.9 384.08 440.52 383.63 442.1 384.16C443.68 384.7 445.21 386.24 446.12 387.62C447.03 388.99 447.38 390.78 447.57 392.43C447.77 394.09 447.76 395.7 447.29 397.55Z" fill="#1f6a22" opacity="0.62"/>
<path d="M439.52 392.91C439.03 392.35 438.54 391.77 438.46 391.08C438.37 390.38 438.53 389.24 439.01 388.75C439.49 388.25 440.43 388.23 441.33 388.1C442.23 387.97 443.62 387.48 444.39 387.97C445.16 388.46 446.15 390.21 445.94 391.02C445.74 391.84 443.94 392.29 443.18 392.86C442.42 393.43 441.99 394.44 441.38 394.45C440.77 394.46 440.01 393.48 439.52 392.91Z" fill="#9a5a18" opacity="0.75"/>
<path d="M434.72 416.38C433.67 415.76 430.39 414.85 430.33 414.13C430.28 413.41 433.23 412.63 434.4 412.05C435.57 411.48 436.08 411.16 437.36 410.68C438.63 410.19 441.28 408.68 442.03 409.14C442.79 409.59 441.56 412.39 441.89 413.41C442.22 414.43 443.57 414.36 444.01 415.28C444.46 416.19 445.29 418.3 444.56 418.89C443.82 419.48 440.93 419 439.61 418.82C438.29 418.65 437.44 418.23 436.63 417.83C435.81 417.42 435.77 417 434.72 416.38Z" fill="#1f6a22" opacity="0.62"/>
</g>
<g filter="url(#bl2)">
<ellipse cx="337.76" cy="383.45" rx="4.45" ry="4.28" fill="#6aa040" opacity="0.5"/>
<ellipse cx="375.21" cy="374.33" rx="3.76" ry="3.59" fill="#6aa040" opacity="0.5"/>
<ellipse cx="398.58" cy="365.39" rx="3.08" ry="3.42" fill="#6aa040" transform="rotate(10 398.58 365.39)" opacity="0.5"/>
<ellipse cx="403.34" cy="377.75" rx="3.08" ry="2.74" fill="#6aa040" opacity="0.5"/>
<ellipse cx="421.39" cy="357.79" rx="1.37" ry="2.57" fill="#6aa040" transform="rotate(-15 421.39 357.79)" opacity="0.5"/>
<ellipse cx="440.4" cy="393.34" rx="3.93" ry="4.28" fill="#6aa040" opacity="0.5"/>
<ellipse cx="438.5" cy="414.81" rx="2.57" ry="1.88" fill="#6aa040" opacity="0.5"/>
</g>
<g filter="url(#bl1)">
<ellipse cx="336.81" cy="387.25" rx="2.97" ry="2.97" fill="#3a50ff"/>
<ellipse cx="373.3" cy="374.9" rx="2.97" ry="2.97" fill="#3a50ff"/>
<ellipse cx="398.58" cy="367.29" rx="2.74" ry="2.74" fill="#3a50ff"/>
<ellipse cx="418.16" cy="360.07" rx="2.74" ry="2.74" fill="#6a4cff"/>
<ellipse cx="445.15" cy="391.05" rx="1.37" ry="1.37" fill="#2233ff"/>
</g>
</g>
<clipPath id="ic30"><rect x="447.3" y="261.3" width="129.6" height="156.2"/></clipPath>
<rect x="447.3" y="261.3" width="129.6" height="156.2" fill="#000"/>
<g clip-path="url(#ic30)">
<g filter="url(#bl4)">
<path d="M460.71 270.18C460.82 269.75 460.75 269.23 461.14 268.96C461.53 268.69 462.46 268.49 463.05 268.55C463.64 268.61 464.44 268.99 464.67 269.31C464.91 269.64 464.57 270.15 464.45 270.5C464.33 270.85 464.28 271.22 463.95 271.43C463.62 271.65 463.05 271.77 462.47 271.79C461.89 271.81 460.77 271.83 460.48 271.56C460.18 271.29 460.6 270.62 460.71 270.18Z" fill="#4a0c06" opacity="0.7"/>
<ellipse cx="484.97" cy="276.06" rx="1.98" ry="2.14" fill="#4a0c06" opacity="0.7"/>
<ellipse cx="476.41" cy="282.71" rx="1.83" ry="1.53" fill="#4a0c06" opacity="0.7"/>
<path d="M501.05 278.06C501.9 277.92 503.29 278.13 503.77 278.71C504.25 279.28 503.91 280.56 503.93 281.5C503.95 282.44 504.35 283.63 503.9 284.33C503.44 285.03 502 285.72 501.2 285.69C500.39 285.66 499.6 284.76 499.05 284.15C498.49 283.55 497.92 282.83 497.86 282.06C497.8 281.29 498.17 280.18 498.7 279.51C499.23 278.85 500.21 278.19 501.05 278.06Z" fill="#4a0c06" opacity="0.7"/>
<ellipse cx="453.22" cy="297.92" rx="2.14" ry="2.14" fill="#4a0c06" opacity="0.7"/>
<path d="M474.97 296.99C475.12 297.49 474.91 298.04 474.85 298.66C474.79 299.27 474.9 300.31 474.6 300.66C474.3 301 473.45 301.03 473.05 300.73C472.65 300.42 472.41 299.47 472.18 298.82C471.95 298.17 471.62 297.47 471.66 296.83C471.71 296.19 472.06 295.17 472.44 294.97C472.83 294.78 473.55 295.34 473.97 295.68C474.39 296.01 474.82 296.5 474.97 296.99Z" fill="#4a0c06" opacity="0.7"/>
<path d="M547.81 273.1C548.51 272.79 549.62 273.86 550.88 273.97C552.14 274.08 555 273.2 555.38 273.75C555.76 274.31 553.64 276.26 553.13 277.29C552.63 278.31 552.98 279.48 552.35 279.9C551.71 280.32 550.09 280.12 549.31 279.81C548.52 279.49 548.07 278.68 547.63 278.02C547.19 277.36 546.64 276.67 546.67 275.85C546.7 275.03 547.11 273.42 547.81 273.1Z" fill="#1a5a1e" opacity="0.6"/>
<path d="M572.64 277.14C573.8 277.76 575.93 279.3 575.85 280.32C575.76 281.35 573.16 282.52 572.11 283.28C571.06 284.05 570.51 284.49 569.52 284.93C568.54 285.36 567.78 285.63 566.2 285.88C564.63 286.12 561.16 287.16 560.07 286.39C558.98 285.63 559.24 282.7 559.64 281.29C560.04 279.88 561.56 278.95 562.46 277.93C563.37 276.92 564.03 275.4 565.09 275.18C566.15 274.96 567.59 276.28 568.85 276.61C570.11 276.93 571.47 276.52 572.64 277.14Z" fill="#1a5a1e" opacity="0.6"/>
<path d="M528.8 294.19C527.77 295.16 525.98 295.8 524.48 295.95C522.98 296.09 521.08 295.83 519.8 295.06C518.51 294.29 517.34 292.75 516.77 291.33C516.2 289.91 516.35 288.43 516.37 286.55C516.39 284.67 515.7 280.78 516.89 280.06C518.07 279.33 521.54 282.03 523.48 282.18C525.43 282.33 526.97 280.55 528.56 280.97C530.15 281.39 532.68 283.19 533.04 284.71C533.4 286.23 531.4 288.5 530.69 290.08C529.98 291.66 529.84 293.21 528.8 294.19Z" fill="#1a5a1e" opacity="0.6"/>
<path d="M525.4 296.85C525.55 296.11 526.56 294.9 527.39 294.73C528.23 294.55 529.42 295.56 530.4 295.79C531.37 296.03 532.33 295.72 533.24 296.13C534.15 296.55 535.77 297.51 535.86 298.3C535.95 299.08 534.54 300.26 533.76 300.83C532.98 301.4 532.03 301.38 531.18 301.72C530.33 302.05 529.48 302.87 528.65 302.83C527.82 302.79 526.56 302.08 526.2 301.47C525.85 300.85 526.63 299.92 526.49 299.16C526.36 298.39 525.25 297.59 525.4 296.85Z" fill="#1a5a1e" opacity="0.6"/>
<path d="M535.39 300.94C534.9 300.15 534.25 299.67 534.02 298.42C533.8 297.17 533.46 293.87 534.03 293.46C534.6 293.05 536.62 295.42 537.45 295.99C538.28 296.55 538.55 296.32 539.02 296.87C539.48 297.42 540.28 298.52 540.23 299.28C540.19 300.04 539.31 300.77 538.76 301.43C538.2 302.08 537.48 303.28 536.92 303.2C536.36 303.12 535.87 301.74 535.39 300.94Z" fill="#1a5a1e" opacity="0.6"/>
</g>
<g filter="url(#bl3)">
<ellipse cx="497.32" cy="286.51" rx="1.22" ry="2.14" fill="#84140a" transform="rotate(40 497.32 286.51)" opacity="0.85"/>
<path d="M461.38 290.1C461.92 290.65 462.9 291.17 462.97 291.7C463.03 292.23 462.13 292.77 461.76 293.29C461.38 293.82 461.22 294.7 460.72 294.84C460.22 294.99 459.11 294.66 458.74 294.17C458.37 293.68 458.55 292.62 458.49 291.92C458.42 291.22 458.15 290.56 458.35 289.98C458.56 289.4 459.22 288.41 459.73 288.43C460.23 288.45 460.84 289.56 461.38 290.1Z" fill="#84140a" opacity="0.85"/>
<path d="M531.73 269.15C531.97 269.84 532.5 270.26 532.36 270.77C532.23 271.27 531.55 271.8 530.91 272.19C530.27 272.58 529.3 273.13 528.51 273.12C527.72 273.11 527.03 272.39 526.19 272.14C525.36 271.89 524.01 272 523.49 271.63C522.98 271.27 522.9 270.45 523.11 269.94C523.31 269.44 524.05 268.94 524.71 268.61C525.36 268.27 526.01 268.25 527.05 267.92C528.09 267.59 530.16 266.43 530.94 266.64C531.72 266.85 531.49 268.46 531.73 269.15Z" fill="#1f6a22" opacity="0.62"/>
<path d="M562.29 285.42C562.9 285.09 563.94 284.43 564.39 284.49C564.85 284.54 565.05 285.24 565.04 285.74C565.02 286.23 564.74 287.02 564.3 287.46C563.85 287.9 562.98 288.15 562.36 288.39C561.74 288.64 561.08 288.96 560.58 288.92C560.09 288.88 559.34 288.57 559.37 288.15C559.39 287.74 560.26 286.89 560.74 286.43C561.23 285.98 561.69 285.74 562.29 285.42Z" fill="#1f6a22" opacity="0.62"/>
</g>
<g filter="url(#bl0)">
<ellipse cx="526.21" cy="270.55" rx="1.31" ry="1.31" fill="#2233ff"/>
<ellipse cx="549.59" cy="277.39" rx="1.31" ry="1.31" fill="#2233ff"/>
<ellipse cx="540.47" cy="282.71" rx="2.3" ry="1.53" fill="#2233ff" transform="rotate(60 540.47 282.71)"/>
<ellipse cx="565.75" cy="279.29" rx="2.3" ry="1.53" fill="#2233ff" transform="rotate(-40 565.75 279.29)"/>
<ellipse cx="569.55" cy="283.28" rx="1.31" ry="1.31" fill="#2233ff"/>
<ellipse cx="561.57" cy="286.89" rx="2.1" ry="1.31" fill="#2233ff" transform="rotate(-35 561.57 286.89)"/>
<ellipse cx="524.88" cy="292.21" rx="1.53" ry="1.53" fill="#2233ff"/>
<ellipse cx="517.85" cy="298.87" rx="1.53" ry="1.53" fill="#2233ff"/>
<ellipse cx="537.24" cy="298.87" rx="1.53" ry="1.53" fill="#2233ff"/>
</g>
<g filter="url(#bl5)">
<path d="M471.09 335.63C469.64 334.27 467.1 333.72 466.45 332.31C465.79 330.91 466.19 328.68 467.16 327.21C468.13 325.75 470.29 323.92 472.25 323.51C474.2 323.1 476.9 324.29 478.9 324.75C480.9 325.21 482.97 325.39 484.24 326.3C485.5 327.22 485.23 328.48 486.49 330.23C487.75 331.98 492.79 335.82 491.81 336.8C490.84 337.78 483.42 335.48 480.64 336.09C477.86 336.71 476.74 340.55 475.14 340.47C473.55 340.4 472.54 336.99 471.09 335.63Z" fill="#1a5a1e" opacity="0.6"/>
<path d="M515.29 342.45C515.85 339.72 512.59 335.66 513.59 334.22C514.58 332.78 518.47 334.93 521.28 333.81C524.09 332.69 529 326.52 530.43 327.5C531.86 328.48 529.49 336.8 529.86 339.7C530.24 342.59 532.58 343.03 532.67 344.9C532.76 346.77 531.78 349.69 530.42 350.91C529.06 352.13 526.39 352.02 524.5 352.2C522.6 352.38 521.44 352.23 519.06 351.97C516.69 351.71 510.87 352.23 510.24 350.64C509.62 349.06 514.74 345.19 515.29 342.45Z" fill="#1a5a1e" opacity="0.6"/>
<path d="M521.47 343.53C521.76 342.77 522.1 342.18 522.54 341.7C522.99 341.23 523.49 340.9 524.13 340.66C524.77 340.42 525.77 339.93 526.37 340.27C526.98 340.61 527.7 341.87 527.76 342.71C527.83 343.55 526.92 344.36 526.76 345.3C526.6 346.25 527.16 347.82 526.79 348.38C526.41 348.94 525.37 348.42 524.51 348.67C523.66 348.92 522.28 350.3 521.67 349.9C521.05 349.5 520.86 347.33 520.83 346.27C520.8 345.21 521.19 344.3 521.47 343.53Z" fill="#7a3a14" opacity="0.6"/>
<path d="M560.81 372.1C559.29 371.81 557.72 366.25 557.06 363.47C556.39 360.68 556.9 358.12 556.8 355.39C556.7 352.66 555.7 348.97 556.45 347.09C557.2 345.2 559.83 344.21 561.32 344.07C562.81 343.93 564.01 345.63 565.39 346.24C566.76 346.86 568.16 346.42 569.56 347.76C570.97 349.11 573.78 352.07 573.81 354.31C573.83 356.54 570.97 359.35 569.71 361.16C568.45 362.97 567.71 363.35 566.22 365.17C564.74 366.99 562.34 372.38 560.81 372.1Z" fill="#1a5a1e" opacity="0.6"/>
<path d="M467.77 355.45C469.57 355.15 472.42 357.04 473.78 358.29C475.14 359.54 474.77 361.51 475.93 362.94C477.09 364.36 480.34 365.24 480.76 366.85C481.19 368.46 479.74 371.15 478.48 372.61C477.23 374.07 475.13 375.07 473.22 375.63C471.31 376.18 468.84 376.6 467.05 375.95C465.25 375.3 463.31 373.41 462.45 371.74C461.58 370.06 461.77 367.84 461.86 365.9C461.94 363.96 461.96 361.83 462.95 360.09C463.93 358.35 465.96 355.75 467.77 355.45Z" fill="#1a5a1e" opacity="0.6"/>
<path d="M473.24 381.03C472.2 380.27 469.69 378.37 469.68 377.35C469.68 376.32 472.68 376.34 473.23 374.88C473.78 373.43 472.36 368.86 472.97 368.63C473.58 368.41 475.75 372.61 476.88 373.55C478 374.5 479.17 373.59 479.72 374.33C480.27 375.06 480.19 376.92 480.17 377.97C480.16 379.03 479.92 379.78 479.64 380.66C479.36 381.53 479.1 383.02 478.48 383.23C477.87 383.43 476.83 382.26 475.95 381.9C475.08 381.53 474.29 381.79 473.24 381.03Z" fill="#7a3a14" opacity="0.6"/>
<path d="M473.49 385.58C475.4 384.47 475.9 383.31 477.34 382.97C478.79 382.62 480.82 383.06 482.18 383.53C483.54 384.01 484.63 384.9 485.51 385.8C486.39 386.7 487.39 387.86 487.44 388.92C487.49 389.97 486.45 390.86 485.82 392.14C485.18 393.41 484.86 396.28 483.65 396.56C482.44 396.85 480.96 393.93 478.57 393.85C476.18 393.76 471.44 396.75 469.33 396.05C467.21 395.34 465.19 391.37 465.89 389.63C466.58 387.88 471.58 386.69 473.49 385.58Z" fill="#1a5a1e" opacity="0.6"/>
<path d="M457.1 378.65C459.14 377.57 462.24 373.85 464.5 374.15C466.75 374.45 469.58 377.91 470.64 380.45C471.7 383 471.9 387.18 470.85 389.41C469.81 391.63 466.22 392.58 464.36 393.79C462.51 394.99 461.42 396.22 459.72 396.62C458.02 397.01 455.56 397.08 454.18 396.15C452.81 395.23 452.22 392.81 451.45 391.07C450.69 389.34 449.44 387.48 449.57 385.74C449.7 384 450.99 381.8 452.25 380.61C453.5 379.43 455.06 379.73 457.1 378.65Z" fill="#1a5a1e" opacity="0.6"/>
<path d="M489.92 382.13C490.47 380.14 493.31 378.5 494.92 378.19C496.53 377.89 498.32 379.39 499.58 380.31C500.84 381.22 501.14 382.44 502.48 383.68C503.82 384.92 507.65 386.25 507.64 387.75C507.63 389.24 503.5 390.81 502.43 392.65C501.36 394.49 502.09 398.07 501.21 398.77C500.33 399.47 498.32 397.55 497.13 396.85C495.95 396.15 495.03 395.69 494.11 394.57C493.19 393.46 492.33 392.22 491.63 390.15C490.93 388.08 489.37 384.13 489.92 382.13Z" fill="#1a5a1e" opacity="0.6"/>
</g>
<g filter="url(#bl2)">
<path d="M473.51 334.66C472.81 334.15 472.1 332.58 472.25 331.76C472.4 330.94 473.71 330.4 474.4 329.75C475.1 329.09 475.7 327.86 476.41 327.82C477.11 327.78 477.62 328.86 478.64 329.51C479.66 330.17 482.35 330.83 482.52 331.74C482.69 332.65 480.67 334.46 479.65 334.98C478.63 335.5 477.44 334.9 476.42 334.84C475.39 334.79 474.2 335.18 473.51 334.66Z" fill="#1f6a22" opacity="0.62"/>
<path d="M508.5 354.79C508.8 355.18 508.51 356.01 508.48 356.67C508.45 357.33 508.7 358.36 508.31 358.76C507.93 359.15 506.84 359.13 506.18 359.03C505.52 358.93 504.7 358.64 504.34 358.17C503.99 357.7 503.96 356.82 504.05 356.21C504.14 355.61 504.44 354.86 504.88 354.54C505.31 354.22 506.06 354.26 506.67 354.3C507.27 354.34 508.2 354.39 508.5 354.79Z" fill="#84140a" opacity="0.85"/>
<path d="M550.3 346.38C550.67 345.84 551.49 345.6 552.08 345.51C552.68 345.43 553.43 345.5 553.87 345.89C554.32 346.27 554.58 347.07 554.76 347.84C554.94 348.61 555.27 349.89 554.96 350.52C554.64 351.15 553.52 351.6 552.87 351.61C552.23 351.62 551.59 351.05 551.08 350.57C550.58 350.1 549.97 349.49 549.84 348.79C549.71 348.09 549.93 346.93 550.3 346.38Z" fill="#84140a" opacity="0.85"/>
<path d="M558.82 357.89C559.36 357.92 559.73 358.23 560.18 358.48C560.64 358.74 561.46 359.02 561.57 359.42C561.68 359.81 561.21 360.42 560.85 360.85C560.5 361.28 559.91 361.96 559.44 361.97C558.97 361.98 558.49 361.23 558.01 360.9C557.53 360.57 556.73 360.41 556.56 359.97C556.39 359.54 556.6 358.64 556.97 358.29C557.35 357.94 558.29 357.86 558.82 357.89Z" fill="#38b03c" opacity="0.85"/>
<path d="M540.79 370.71C540.99 369.88 542.3 368.8 542.91 368.11C543.52 367.42 543.89 366.92 544.46 366.56C545.02 366.2 545.81 365.94 546.33 365.94C546.85 365.94 547.5 366.16 547.59 366.57C547.69 366.98 547.28 367.73 546.91 368.39C546.54 369.05 546.23 369.76 545.37 370.54C544.5 371.32 542.48 373.04 541.72 373.07C540.96 373.1 540.59 371.54 540.79 370.71Z" fill="#1f6a22" opacity="0.62"/>
<path d="M458.66 387.24C458.31 386.8 458.36 386.03 458.38 385.51C458.4 384.99 458.52 384.55 458.79 384.12C459.07 383.68 459.53 383.02 460.05 382.89C460.57 382.77 461.5 383 461.92 383.38C462.34 383.76 462.52 384.55 462.57 385.16C462.62 385.76 462.56 386.52 462.22 387.01C461.87 387.5 461.08 388.07 460.49 388.11C459.9 388.15 459.02 387.67 458.66 387.24Z" fill="#84140a" opacity="0.85"/>
</g>
<g filter="url(#bl2)">
<ellipse cx="477.36" cy="331.18" rx="5.13" ry="3.76" fill="#4f8a3a" opacity="0.5"/>
<ellipse cx="522.98" cy="343.54" rx="4.62" ry="4.79" fill="#4f8a3a" opacity="0.5"/>
<ellipse cx="563.85" cy="354.94" rx="3.76" ry="5.99" fill="#4f8a3a" opacity="0.5"/>
<ellipse cx="470.71" cy="366.34" rx="4.28" ry="4.28" fill="#4f8a3a" opacity="0.5"/>
<ellipse cx="480.21" cy="389.15" rx="4.28" ry="3.42" fill="#4f8a3a" opacity="0.5"/>
<ellipse cx="458.36" cy="387.25" rx="3.93" ry="4.28" fill="#4f8a3a" opacity="0.5"/>
<ellipse cx="498.27" cy="389.15" rx="3.42" ry="4.96" fill="#4f8a3a" opacity="0.5"/>
<ellipse cx="476.41" cy="331.75" rx="1.88" ry="1.88" fill="#6aa040" opacity="0.5"/>
</g>
<g filter="url(#bl1)">
<ellipse cx="475.46" cy="332.13" rx="3.56" ry="2.74" fill="#10a0e8" transform="rotate(60 475.46 332.13)"/>
<ellipse cx="522.03" cy="346.39" rx="2.74" ry="2.74" fill="#2233ff"/>
<ellipse cx="504.54" cy="356.84" rx="3.85" ry="2.97" fill="#2233ff" transform="rotate(60 504.54 356.84)"/>
<ellipse cx="554.34" cy="350.19" rx="4.79" ry="3.19" fill="#2233ff" transform="rotate(-50 554.34 350.19)"/>
<ellipse cx="562.9" cy="357.79" rx="3.85" ry="2.97" fill="#2233ff" transform="rotate(80 562.9 357.79)"/>
<ellipse cx="548.07" cy="364.82" rx="4.38" ry="2.74" fill="#6a4cff" transform="rotate(-45 548.07 364.82)"/>
<ellipse cx="473.56" cy="375.28" rx="3.85" ry="2.97" fill="#2233ff" transform="rotate(20 473.56 375.28)"/>
<ellipse cx="458.93" cy="389.15" rx="2.97" ry="2.97" fill="#2233ff"/>
<ellipse cx="497.7" cy="389.53" rx="3.85" ry="2.97" fill="#2233ff" transform="rotate(80 497.7 389.53)"/>
</g>
</g>
<clipPath id="ic01"><rect x="51.2" y="417.5" width="130.1" height="158.2"/></clipPath>
<rect x="51.2" y="417.5" width="130.1" height="158.2" fill="#03030e"/>
<rect x="51.2" y="417.5" width="64.8" height="54.1" fill="#020000"/>
<g clip-path="url(#ic01)">
<g filter="url(#bl4)">
<ellipse cx="85.16" cy="424.5" rx="2.14" ry="2.14" fill="#4a0c06" opacity="0.7"/>
<path d="M99.41 460.99C99.69 460.23 99.69 458.82 100.53 458.33C101.37 457.84 103.36 457.78 104.43 458.07C105.5 458.35 106.22 459.36 106.94 460.02C107.67 460.68 108.76 461.36 108.78 462.03C108.8 462.71 107.69 463.51 107.08 464.07C106.46 464.63 105.88 465.14 105.09 465.42C104.3 465.71 103.34 465.8 102.33 465.79C101.33 465.77 99.65 465.79 99.06 465.31C98.48 464.83 98.79 463.62 98.85 462.9C98.9 462.18 99.13 461.75 99.41 460.99Z" fill="#4a0c06" opacity="0.7"/>
<path d="M103.52 420.5C103.57 420.82 103.62 421.17 103.32 421.39C103.02 421.61 102.38 421.71 101.74 421.82C101.1 421.93 99.98 422.19 99.47 422.05C98.97 421.9 98.77 421.31 98.69 420.95C98.61 420.59 98.63 420.16 98.99 419.9C99.35 419.65 100.16 419.49 100.84 419.42C101.52 419.34 102.61 419.26 103.06 419.44C103.5 419.62 103.48 420.17 103.52 420.5Z" fill="#4a0c06" opacity="0.7"/>
<path d="M164 468.07C163.82 467.46 164.48 465.87 164.62 464.89C164.76 463.9 164.52 463.01 164.83 462.13C165.14 461.26 166.01 459.47 166.47 459.63C166.93 459.79 167.43 462.02 167.61 463.07C167.78 464.13 167.65 465.13 167.52 465.94C167.39 466.76 167.16 467.54 166.85 467.98C166.54 468.41 166.13 468.55 165.66 468.56C165.18 468.58 164.17 468.68 164 468.07Z" fill="#1a5a1e" opacity="0.6"/>
</g>
<g filter="url(#bl3)">
<ellipse cx="56.65" cy="428.31" rx="2.14" ry="2.14" fill="#84140a" opacity="0.85"/>
<ellipse cx="61.02" cy="441.61" rx="1.53" ry="1.37" fill="#bc1e0b" opacity="0.88"/>
<ellipse cx="54.18" cy="445.41" rx="1.37" ry="1.83" fill="#bc1e0b" opacity="0.88"/>
<path d="M68.27 447.25C68.25 446.89 68.81 446.19 69.07 445.71C69.34 445.22 69.53 444.58 69.85 444.34C70.17 444.11 70.74 444.08 71 444.3C71.25 444.51 71.42 445.16 71.39 445.61C71.37 446.07 71.07 446.52 70.85 447.03C70.63 447.53 70.36 448.49 70.09 448.64C69.81 448.78 69.5 448.12 69.19 447.89C68.89 447.65 68.29 447.61 68.27 447.25Z" fill="#84140a" opacity="0.85"/>
<ellipse cx="61.02" cy="453.02" rx="1.53" ry="1.83" fill="#bc1e0b" opacity="0.88"/>
<ellipse cx="69.01" cy="458.72" rx="2.14" ry="1.53" fill="#bc1e0b" transform="rotate(-30 69.01 458.72)" opacity="0.88"/>
<ellipse cx="80.41" cy="455.87" rx="1.83" ry="1.37" fill="#bc1e0b" transform="rotate(-20 80.41 455.87)" opacity="0.88"/>
<path d="M86.18 449.9C86.51 449.86 87.07 449.97 87.58 450.13C88.08 450.28 88.79 450.55 89.2 450.81C89.6 451.08 89.91 451.47 90.02 451.73C90.13 451.98 90.07 452.19 89.85 452.33C89.62 452.46 89.21 452.67 88.65 452.53C88.08 452.4 86.94 451.88 86.44 451.52C85.94 451.16 85.67 450.65 85.62 450.38C85.58 450.11 85.86 449.95 86.18 449.9Z" fill="#bc1e0b" opacity="0.88"/>
<ellipse cx="92.77" cy="442.56" rx="1.53" ry="1.37" fill="#bc1e0b" opacity="0.88"/>
<ellipse cx="99.8" cy="437.81" rx="1.37" ry="1.53" fill="#bc1e0b" opacity="0.88"/>
<ellipse cx="105.12" cy="445.41" rx="1.68" ry="1.53" fill="#bc1e0b" opacity="0.88"/>
<path d="M120.47 426.31C120.57 425.45 120.48 423.33 120.91 423.24C121.35 423.15 122.52 424.96 123.06 425.78C123.59 426.61 123.96 427.43 124.14 428.21C124.32 429 124.38 430.11 124.16 430.49C123.94 430.87 123.21 430.57 122.79 430.48C122.38 430.4 122.1 430.32 121.68 429.98C121.26 429.63 120.48 429.01 120.28 428.4C120.08 427.79 120.36 427.17 120.47 426.31Z" fill="#1f6a22" opacity="0.62"/>
<path d="M128.12 440.16C128.38 440.62 128.29 441.72 127.98 442.15C127.66 442.57 126.8 442.53 126.24 442.71C125.68 442.89 125.1 443.37 124.61 443.23C124.12 443.09 123.5 442.43 123.29 441.88C123.08 441.33 123.1 440.49 123.36 439.95C123.61 439.41 124.29 438.75 124.81 438.66C125.32 438.58 125.87 439.17 126.42 439.42C126.97 439.67 127.86 439.71 128.12 440.16Z" fill="#38b03c" opacity="0.85"/>
<path d="M120.54 449.14C120.06 449.46 119.24 449.01 118.63 448.73C118.03 448.44 117.39 448.2 116.92 447.43C116.45 446.65 115.56 444.72 115.84 444.07C116.12 443.43 117.85 443.9 118.6 443.54C119.35 443.19 119.97 441.75 120.35 441.95C120.74 442.16 120.72 443.96 120.91 444.77C121.1 445.58 121.56 446.1 121.5 446.83C121.44 447.55 121.02 448.82 120.54 449.14Z" fill="#1f6a22" opacity="0.62"/>
<ellipse cx="165" cy="437.81" rx="2.16" ry="2.16" fill="#1f6a22" opacity="0.62"/>
<path d="M159.71 442.54C159.69 442.9 159.2 443.24 158.82 443.56C158.44 443.87 157.91 444.39 157.43 444.4C156.94 444.42 156.24 443.97 155.89 443.66C155.53 443.36 155.28 442.93 155.3 442.58C155.31 442.23 155.66 441.87 156 441.59C156.35 441.31 156.87 440.93 157.37 440.9C157.86 440.87 158.59 441.13 158.98 441.4C159.37 441.67 159.74 442.18 159.71 442.54Z" fill="#1f6a22" opacity="0.62"/>
<ellipse cx="169.75" cy="445.41" rx="2.16" ry="2.16" fill="#1f6a22" opacity="0.62"/>
<path d="M133.66 446.26C133.73 445.15 133.53 442.05 133.88 441.76C134.24 441.47 135.26 443.94 135.82 444.5C136.38 445.07 136.98 444.56 137.24 445.13C137.5 445.7 137.55 446.91 137.38 447.94C137.21 448.97 136.77 450.86 136.23 451.31C135.69 451.77 134.6 451.16 134.14 450.67C133.68 450.18 133.54 449.13 133.46 448.39C133.38 447.66 133.59 447.36 133.66 446.26Z" fill="#1f6a22" opacity="0.62"/>
<path d="M125.18 456.06C124.76 455.85 124.39 454.99 124.3 454.38C124.2 453.77 124.46 453.17 124.6 452.43C124.74 451.68 124.69 450.47 125.11 449.89C125.54 449.32 126.66 448.72 127.16 448.98C127.65 449.23 127.91 450.58 128.08 451.4C128.25 452.22 128.38 453.19 128.17 453.89C127.95 454.6 127.3 455.29 126.81 455.65C126.31 456.01 125.6 456.28 125.18 456.06Z" fill="#1f6a22" opacity="0.62"/>
<path d="M154.43 453.45C153.25 453.12 151.64 453.01 150.96 452.6C150.28 452.19 150.31 451.42 150.36 451.01C150.4 450.6 150.65 450.25 151.24 450.15C151.82 450.05 153.01 450.15 153.85 450.41C154.69 450.67 155.6 451.26 156.28 451.71C156.97 452.16 157.68 452.64 157.96 453.12C158.25 453.6 158.59 454.52 158 454.58C157.41 454.63 155.6 453.78 154.43 453.45Z" fill="#1f6a22" opacity="0.62"/>
<path d="M129.76 460.52C129.87 459.9 130.92 459.03 131.49 458.36C132.06 457.69 132.46 456.99 133.17 456.52C133.88 456.05 134.83 455.77 135.76 455.53C136.69 455.28 138 454.85 138.75 455.04C139.49 455.22 140.24 455.93 140.22 456.62C140.19 457.31 139.29 458.46 138.59 459.18C137.89 459.9 136.98 460.14 136 460.92C135.02 461.7 133.57 463.65 132.71 463.84C131.84 464.02 131.31 462.61 130.81 462.05C130.32 461.5 129.65 461.13 129.76 460.52Z" fill="#1f6a22" opacity="0.62"/>
</g>
<g filter="url(#bl0)">
<ellipse cx="149.79" cy="424.5" rx="2.14" ry="1.53" fill="#2233ff" transform="rotate(-20 149.79 424.5)"/>
<ellipse cx="166.33" cy="419.75" rx="2.14" ry="1.53" fill="#2233ff"/>
<ellipse cx="126.03" cy="440.66" rx="1.31" ry="1.31" fill="#10a0e8"/>
<ellipse cx="119.57" cy="444.84" rx="1.09" ry="1.09" fill="#10a0e8"/>
<ellipse cx="165" cy="438.19" rx="1.31" ry="1.31" fill="#2233ff"/>
<ellipse cx="157.39" cy="442.94" rx="1.31" ry="1.31" fill="#2233ff"/>
<ellipse cx="169.75" cy="445.41" rx="1.31" ry="1.31" fill="#2233ff"/>
<ellipse cx="134.96" cy="447.69" rx="1.09" ry="1.09" fill="#2233ff"/>
<ellipse cx="125.65" cy="453.97" rx="1.31" ry="1.31" fill="#2233ff"/>
<ellipse cx="153.59" cy="452.07" rx="1.31" ry="1.31" fill="#2233ff"/>
<ellipse cx="145.99" cy="455.3" rx="1.31" ry="1.31" fill="#2233ff"/>
<ellipse cx="133.63" cy="458.34" rx="1.09" ry="1.09" fill="#10a0e8"/>
<ellipse cx="171.65" cy="463.47" rx="2.3" ry="1.53" fill="#2233ff" transform="rotate(-20 171.65 463.47)"/>
<ellipse cx="166.9" cy="467.27" rx="1.31" ry="1.31" fill="#2233ff"/>
</g>
<g filter="url(#bl5)">
<path d="M126.21 483.53C126.11 484.87 124.61 486.61 123.72 488.23C122.83 489.84 121.99 492.33 120.86 493.22C119.74 494.11 117.69 494.37 116.97 493.56C116.25 492.75 116.8 489.76 116.54 488.35C116.28 486.94 115.33 486.39 115.4 485.09C115.47 483.79 116.2 481.72 116.96 480.56C117.72 479.39 118.9 478.8 119.95 478.11C121 477.41 122.52 476.03 123.25 476.38C123.98 476.72 123.84 478.99 124.33 480.18C124.82 481.37 126.31 482.18 126.21 483.53Z" fill="#4a0c06" opacity="0.7"/>
<path d="M153.44 470.12C154.64 470.26 155.31 471.43 156.44 471.88C157.58 472.32 159.84 472.29 160.26 472.76C160.69 473.24 159.43 474.09 159.01 474.74C158.59 475.39 158.63 476.22 157.75 476.67C156.87 477.12 155.19 477.36 153.74 477.45C152.28 477.54 150.21 477.59 149.02 477.21C147.83 476.82 146.77 475.83 146.59 475.14C146.41 474.45 147.5 473.75 147.94 473.07C148.39 472.39 148.33 471.55 149.25 471.06C150.17 470.57 152.24 469.99 153.44 470.12Z" fill="#4a0c06" opacity="0.7"/>
<path d="M63.21 489.63C63.32 490.64 64.11 493.54 63.87 493.83C63.62 494.12 62.38 492.06 61.73 491.39C61.08 490.73 60.65 490.76 59.95 489.86C59.24 488.97 57.59 486.91 57.5 486.03C57.4 485.14 59.3 485.84 59.4 484.55C59.5 483.27 57.81 478.65 58.08 478.33C58.36 478.01 60.33 481.44 61.05 482.63C61.76 483.82 62.03 484.59 62.39 485.45C62.75 486.31 63.07 487.09 63.21 487.78C63.34 488.48 63.1 488.63 63.21 489.63Z" fill="#1a5a1e" opacity="0.6"/>
<path d="M173.25 564.63C173.23 566.1 171.88 567.85 170.33 568.62C168.78 569.39 166.07 569.51 163.96 569.25C161.84 568.98 159.57 568.03 157.63 567.02C155.68 566.01 152.76 564.48 152.28 563.17C151.81 561.87 154.26 560.49 154.78 559.19C155.29 557.88 154.34 555.85 155.37 555.36C156.41 554.86 159.01 556.25 160.96 556.21C162.92 556.17 165.55 554.52 167.13 555.12C168.7 555.73 169.42 558.25 170.44 559.84C171.46 561.42 173.26 563.17 173.25 564.63Z" fill="#4a0c06" opacity="0.7"/>
<path d="M168.87 570.82C168.11 571.66 166.32 572.89 165.11 572.84C163.91 572.78 163 570.99 161.62 570.47C160.24 569.95 157.44 570.4 156.82 569.69C156.19 568.99 157.45 567.28 157.88 566.24C158.32 565.2 158.57 564.27 159.43 563.46C160.28 562.65 161.69 561.52 162.99 561.37C164.3 561.22 166.31 561.89 167.25 562.56C168.19 563.23 168.23 564.52 168.63 565.39C169.03 566.27 169.61 566.91 169.65 567.81C169.69 568.72 169.63 569.98 168.87 570.82Z" fill="#4a0c06" opacity="0.7"/>
</g>
<g filter="url(#bl2)">
<path d="M61.95 482.45C62.98 482.23 64.88 484.13 65.7 485.22C66.51 486.31 66.3 487.82 66.84 489C67.38 490.18 68.57 490.84 68.93 492.3C69.28 493.76 69.73 496.88 68.96 497.77C68.2 498.65 65.7 497.74 64.34 497.62C62.99 497.5 61.79 497.7 60.83 497.05C59.87 496.4 59.07 494.94 58.59 493.74C58.12 492.53 57.82 491.03 57.98 489.83C58.13 488.63 58.87 487.77 59.53 486.54C60.19 485.31 60.93 482.67 61.95 482.45Z" fill="#1f6a22" opacity="0.62"/>
<path d="M69.33 513.79C70.1 513.55 71.14 513.37 71.79 513.69C72.44 514 73.02 514.96 73.24 515.68C73.46 516.41 73.4 517.33 73.11 518.03C72.81 518.73 72.18 519.54 71.45 519.88C70.72 520.21 69.46 520.37 68.72 520.04C67.98 519.7 67.26 518.66 67 517.85C66.75 517.04 66.79 515.84 67.17 515.16C67.56 514.49 68.56 514.04 69.33 513.79Z" fill="#f0e080" opacity="0.95"/>
<path d="M72.66 522.97C71.81 523.32 69.9 521.96 69.05 521.29C68.19 520.61 68.01 519.66 67.52 518.92C67.03 518.18 66.37 517.72 66.11 516.86C65.84 516 65.42 514.31 65.93 513.75C66.44 513.2 68.23 513.73 69.16 513.51C70.09 513.3 70.74 512.41 71.52 512.48C72.31 512.54 73.34 513.21 73.89 513.89C74.44 514.56 74.78 515.62 74.82 516.51C74.86 517.4 74.5 518.15 74.14 519.23C73.78 520.3 73.51 522.63 72.66 522.97Z" fill="#38b03c" opacity="0.85"/>
<path d="M53.84 531.27C53.19 530.52 54.39 527.49 54.65 526.18C54.9 524.87 55.07 524.4 55.38 523.4C55.68 522.41 55.64 521.88 56.49 520.23C57.34 518.58 59.44 513.33 60.46 513.5C61.49 513.67 62.02 519.47 62.62 521.25C63.23 523.04 63.61 523.03 64.09 524.21C64.56 525.4 65.86 527.35 65.47 528.36C65.08 529.37 62.93 529.89 61.77 530.27C60.61 530.66 59.83 530.51 58.5 530.67C57.18 530.84 54.48 532.02 53.84 531.27Z" fill="#1f6a22" opacity="0.62"/>
<path d="M153.07 508.89C153.21 509.75 153.52 510.86 153.08 512.03C152.64 513.2 151.35 515.92 150.41 515.91C149.46 515.9 148.24 512.89 147.41 511.99C146.59 511.1 146 511.22 145.47 510.56C144.95 509.9 144.45 509.11 144.28 508.04C144.11 506.98 143.83 505.36 144.45 504.17C145.07 502.99 146.81 500.99 148.01 500.95C149.2 500.9 150.91 502.91 151.62 503.9C152.33 504.88 152.02 506.03 152.26 506.86C152.5 507.69 152.94 508.03 153.07 508.89Z" fill="#38b03c" opacity="0.85"/>
<path d="M146.39 508.62C146.61 508.13 147.41 508.02 147.89 507.69C148.38 507.36 148.87 506.61 149.31 506.66C149.74 506.7 150.19 507.48 150.5 507.96C150.81 508.44 151.25 509.02 151.19 509.54C151.14 510.06 150.63 510.84 150.18 511.07C149.73 511.29 149.1 510.96 148.49 510.89C147.89 510.82 146.91 511.02 146.55 510.64C146.2 510.26 146.17 509.11 146.39 508.62Z" fill="#d8d040" opacity="0.85"/>
<path d="M134.85 522.03C133.28 522.76 131.25 524.84 129.48 525.09C127.71 525.34 124.69 524.51 124.25 523.54C123.8 522.57 125.93 520.37 126.81 519.27C127.69 518.17 128.57 517.61 129.51 516.94C130.45 516.27 131.35 515.59 132.44 515.23C133.53 514.88 134.26 515.08 136.05 514.8C137.85 514.53 142.69 513.02 143.19 513.56C143.69 514.1 139.75 516.86 139.04 518.05C138.33 519.25 139.61 520.04 138.91 520.7C138.21 521.37 136.42 521.3 134.85 522.03Z" fill="#1f6a22" opacity="0.62"/>
<path d="M137.36 518.59C137.37 519.02 136.76 519.5 136.3 519.91C135.83 520.33 135.2 521.04 134.6 521.07C133.99 521.1 133.24 520.5 132.68 520.09C132.11 519.68 131.26 519.15 131.2 518.6C131.13 518.05 131.71 517.42 132.28 516.81C132.84 516.19 133.91 514.83 134.57 514.91C135.23 514.99 135.77 516.69 136.24 517.3C136.7 517.91 137.35 518.15 137.36 518.59Z" fill="#9a5a18" opacity="0.75"/>
<path d="M157.26 521.1C157.96 520.84 159.28 520.74 159.84 521.11C160.41 521.49 160.16 522.66 160.65 523.36C161.14 524.05 162.7 524.58 162.79 525.28C162.88 525.98 161.93 527.16 161.21 527.53C160.5 527.9 159.29 527.52 158.52 527.48C157.74 527.44 157.25 527.48 156.59 527.29C155.93 527.1 155.14 526.88 154.56 526.35C153.99 525.81 152.96 524.69 153.15 524.07C153.33 523.45 154.98 523.15 155.66 522.65C156.35 522.16 156.57 521.36 157.26 521.1Z" fill="#38b03c" opacity="0.85"/>
<path d="M82.29 530.96C82.14 529.89 84.97 527.54 85.57 525.63C86.17 523.72 85.25 520.27 85.89 519.51C86.53 518.75 88.51 520.57 89.42 521.07C90.33 521.57 90.43 522.08 91.36 522.53C92.28 522.97 94.84 522.71 94.98 523.72C95.11 524.72 92.79 527.04 92.18 528.58C91.57 530.11 91.93 531.82 91.3 532.93C90.66 534.04 89.17 535.38 88.36 535.23C87.55 535.08 87.45 532.74 86.44 532.03C85.43 531.32 82.43 532.02 82.29 530.96Z" fill="#1f6a22" opacity="0.62"/>
<path d="M91.42 525.13C91.75 525.56 91.57 526.64 91.69 527.61C91.82 528.58 92.48 530.23 92.17 530.95C91.85 531.66 90.46 531.82 89.8 531.91C89.14 532.01 88.86 531.49 88.19 531.51C87.51 531.52 85.98 532.53 85.72 532.03C85.46 531.53 86.52 529.54 86.63 528.51C86.75 527.47 86.18 526.61 86.41 525.82C86.64 525.03 87.48 523.92 88.02 523.78C88.57 523.65 89.11 524.77 89.68 525C90.24 525.22 91.08 524.69 91.42 525.13Z" fill="#9a5a18" opacity="0.75"/>
<path d="M79.14 534.93C80.18 536.03 80.8 539.11 80.08 540.39C79.35 541.67 76.04 541.87 74.77 542.61C73.49 543.35 73.4 544.48 72.44 544.83C71.48 545.18 69.83 545.22 69 544.7C68.17 544.19 68.27 542.71 67.47 541.73C66.66 540.74 64.32 539.85 64.17 538.78C64.02 537.71 65.58 536.02 66.58 535.3C67.58 534.57 68.99 534.69 70.19 534.44C71.4 534.19 72.32 533.7 73.81 533.78C75.3 533.86 78.09 533.83 79.14 534.93Z" fill="#38b03c" opacity="0.85"/>
<path d="M69.64 543.03C69.09 542.89 68.52 542.16 68.21 541.58C67.9 540.99 67.55 539.99 67.79 539.5C68.03 539.02 69.04 538.95 69.66 538.66C70.27 538.37 70.96 537.63 71.46 537.76C71.96 537.89 72.51 538.85 72.67 539.41C72.83 539.97 72.64 540.62 72.44 541.11C72.24 541.61 71.93 542.06 71.47 542.38C71 542.7 70.18 543.16 69.64 543.03Z" fill="#d8d040" opacity="0.85"/>
<path d="M130.37 536.27C131.94 537.02 132.63 538.08 133.25 538.75C133.87 539.43 133.99 539.83 134.09 540.33C134.19 540.82 134.32 541.2 133.85 541.73C133.38 542.26 133.02 543.78 131.28 543.52C129.55 543.26 125.66 541.18 123.46 540.15C121.26 539.12 119.19 538.19 118.08 537.34C116.98 536.5 117.07 535.84 116.85 535.09C116.62 534.35 115.55 532.99 116.72 532.85C117.88 532.71 121.55 533.67 123.82 534.24C126.1 534.81 128.8 535.52 130.37 536.27Z" fill="#9a5a18" opacity="0.75"/>
<path d="M125.95 539.08C125.15 539.11 123.87 538.95 123.14 538.53C122.41 538.12 121.66 537.13 121.55 536.56C121.45 535.99 122.11 535.58 122.53 535.11C122.94 534.64 123.35 533.74 124.04 533.74C124.72 533.75 125.94 534.64 126.64 535.14C127.34 535.63 128.03 536.19 128.25 536.73C128.46 537.27 128.32 537.98 127.94 538.37C127.56 538.77 126.75 539.05 125.95 539.08Z" fill="#e09a30" opacity="0.9"/>
<path d="M105.48 541.56C106.51 541.07 108.98 542.18 110.31 542.29C111.64 542.39 112.48 541.99 113.47 542.19C114.46 542.39 116.22 542.83 116.25 543.48C116.28 544.14 113.91 545 113.63 546.13C113.36 547.27 115.29 549.8 114.59 550.3C113.89 550.8 110.75 549.38 109.45 549.14C108.16 548.89 107.47 549.13 106.8 548.83C106.14 548.54 105.91 547.96 105.47 547.36C105.03 546.76 104.17 546.19 104.17 545.23C104.17 544.26 104.46 542.05 105.48 541.56Z" fill="#9a5a18" opacity="0.75"/>
<path d="M92.66 553.36C92 554.85 91.22 557.29 89.71 558.17C88.2 559.05 85.05 559.47 83.58 558.64C82.11 557.81 82.69 554.87 80.89 553.18C79.1 551.5 72.88 550.1 72.79 548.53C72.7 546.97 78.39 545.11 80.36 543.79C82.34 542.47 83.05 541.06 84.64 540.61C86.24 540.16 88.01 540.71 89.94 541.08C91.86 541.44 95.59 541.46 96.2 542.82C96.82 544.17 94.24 547.47 93.65 549.22C93.06 550.98 93.31 551.87 92.66 553.36Z" fill="#1f6a22" opacity="0.62"/>
<path d="M91.99 535.78C92.42 535.47 92.78 537.69 93.19 538.23C93.6 538.76 93.91 538.41 94.43 539C94.96 539.59 96.54 540.75 96.35 541.77C96.16 542.79 94.05 544.29 93.27 545.11C92.5 545.94 92.57 545.3 91.7 546.71C90.84 548.12 88.43 553.83 88.08 553.57C87.73 553.32 89.64 546.96 89.62 545.17C89.59 543.38 87.77 543.7 87.93 542.85C88.1 542 89.94 541.25 90.62 540.07C91.29 538.9 91.56 536.09 91.99 535.78Z" fill="#38b03c" opacity="0.85"/>
<path d="M84.73 558.04C83.5 558.4 82.09 557.81 81.01 557.83C79.94 557.86 78.76 558.32 78.25 558.19C77.74 558.05 78.14 557.42 77.95 557C77.75 556.57 76.64 556.13 77.1 555.63C77.55 555.14 79.5 554.55 80.67 554.04C81.85 553.53 83.2 552.74 84.15 552.59C85.09 552.44 85.3 553.05 86.36 553.14C87.41 553.23 90.13 552.73 90.47 553.16C90.8 553.58 89.32 554.87 88.36 555.69C87.41 556.5 85.95 557.68 84.73 558.04Z" fill="#1f6a22" opacity="0.62"/>
</g>
<g filter="url(#bl2)">
<ellipse cx="63.31" cy="491.03" rx="2.57" ry="3.08" fill="#6aa040" transform="rotate(-10 63.31 491.03)" opacity="0.5"/>
<ellipse cx="59.12" cy="525.25" rx="2.91" ry="3.08" fill="#6aa040" opacity="0.5"/>
<ellipse cx="133.63" cy="518.59" rx="3.42" ry="2.05" fill="#6aa040" transform="rotate(-15 133.63 518.59)" opacity="0.5"/>
<ellipse cx="88.97" cy="527.15" rx="2.22" ry="3.59" fill="#6aa040" transform="rotate(10 88.97 527.15)" opacity="0.5"/>
<ellipse cx="87.07" cy="549" rx="4.28" ry="4.28" fill="#6aa040" transform="rotate(-35 87.07 549)" opacity="0.5"/>
<ellipse cx="82.31" cy="555.66" rx="3.08" ry="1.2" fill="#6aa040" transform="rotate(-20 82.31 555.66)" opacity="0.5"/>
</g>
<g filter="url(#bl1)">
<ellipse cx="118.81" cy="483.05" rx="5.11" ry="3.19" fill="#2233ff" transform="rotate(-30 118.81 483.05)"/>
<ellipse cx="152.64" cy="473.16" rx="4.79" ry="3.19" fill="#6a4cff"/>
<ellipse cx="63.69" cy="490.46" rx="2.28" ry="2.28" fill="#a080ff"/>
<ellipse cx="64.26" cy="487.61" rx="1.14" ry="1.14" fill="#2233ff"/>
<ellipse cx="69.39" cy="515.17" rx="2.28" ry="2.28" fill="#a080ff"/>
<ellipse cx="57.6" cy="523.34" rx="2.51" ry="2.51" fill="#6a4cff"/>
<ellipse cx="149.6" cy="509.47" rx="2.28" ry="2.28" fill="#ff9af0"/>
<ellipse cx="134.01" cy="519.54" rx="2.28" ry="2.28" fill="#a080ff"/>
<ellipse cx="156.44" cy="524.87" rx="2.28" ry="2.28" fill="#ff9af0"/>
<ellipse cx="88.02" cy="530" rx="2.51" ry="2.51" fill="#6a4cff"/>
<ellipse cx="72.05" cy="541.21" rx="2.51" ry="2.51" fill="#6a4cff"/>
<ellipse cx="125.65" cy="538.17" rx="2.74" ry="2.74" fill="#6a4cff"/>
<ellipse cx="111.78" cy="544.25" rx="2.51" ry="2.51" fill="#6a4cff"/>
<ellipse cx="87.26" cy="549.96" rx="2.51" ry="2.51" fill="#a080ff"/>
<ellipse cx="163.1" cy="559.84" rx="6.57" ry="4.11" fill="#2233ff" transform="rotate(10 163.1 559.84)"/>
<ellipse cx="152.64" cy="568.2" rx="2.51" ry="2.51" fill="#2233ff"/>
</g>
</g>
<clipPath id="ic11"><rect x="183.8" y="417.5" width="129.3" height="158.2"/></clipPath>
<rect x="183.8" y="417.5" width="129.3" height="158.2" fill="#000"/>
<g clip-path="url(#ic11)">
<g filter="url(#bl4)">
<path d="M308.7 443.08C309.23 443.46 309.51 444.34 309.89 445.31C310.28 446.29 311.26 448.01 311.03 448.94C310.79 449.86 309.25 450.8 308.47 450.84C307.69 450.89 307.01 449.75 306.37 449.2C305.73 448.65 304.85 448.32 304.65 447.57C304.45 446.82 304.82 445.47 305.16 444.71C305.5 443.96 306.1 443.3 306.69 443.03C307.28 442.76 308.17 442.7 308.7 443.08Z" fill="#1a5a1e" opacity="0.6"/>
</g>
<g filter="url(#bl3)">
<ellipse cx="218.11" cy="431.16" rx="1.83" ry="1.37" fill="#bc1e0b" opacity="0.88"/>
<ellipse cx="226.1" cy="438.76" rx="1.37" ry="1.68" fill="#bc1e0b" opacity="0.88"/>
<ellipse cx="211.84" cy="445.41" rx="1.68" ry="1.83" fill="#84140a" opacity="0.85"/>
<path d="M215.69 459.98C215.24 459.69 214.55 459.26 214.33 458.85C214.11 458.43 214.09 457.69 214.38 457.48C214.67 457.26 215.51 457.48 216.08 457.55C216.65 457.62 217.41 457.62 217.81 457.91C218.2 458.2 218.3 458.85 218.44 459.3C218.58 459.75 218.9 460.41 218.67 460.62C218.45 460.83 217.57 460.66 217.08 460.55C216.58 460.44 216.15 460.26 215.69 459.98Z" fill="#bc1e0b" opacity="0.88"/>
<ellipse cx="193.4" cy="462.52" rx="2.14" ry="1.68" fill="#bc1e0b" opacity="0.88"/>
<path d="M208.06 463.05C208.39 462.87 209.04 462.67 209.6 462.88C210.16 463.08 211.11 463.84 211.41 464.29C211.7 464.74 211.48 465.26 211.38 465.58C211.28 465.91 211.13 466.13 210.82 466.26C210.51 466.39 209.97 466.56 209.53 466.39C209.09 466.21 208.49 465.59 208.17 465.19C207.85 464.78 207.61 464.31 207.59 463.95C207.58 463.6 207.72 463.23 208.06 463.05Z" fill="#bc1e0b" opacity="0.88"/>
<ellipse cx="235.79" cy="465.94" rx="1.68" ry="2.14" fill="#bc1e0b" opacity="0.88"/>
<path d="M285.51 430.4C285.58 430.85 284.59 431.49 284.17 431.86C283.75 432.22 283.51 432.41 282.98 432.62C282.46 432.82 281.68 433.19 281.04 433.08C280.41 432.96 279.46 432.42 279.2 431.92C278.94 431.41 279.11 430.53 279.48 430.05C279.86 429.57 280.74 429.19 281.46 429.04C282.17 428.89 283.07 428.91 283.75 429.13C284.42 429.36 285.44 429.95 285.51 430.4Z" fill="#1f6a22" opacity="0.62"/>
<path d="M288.34 438.29C288.85 437.21 289.04 436.41 289.61 435.88C290.18 435.34 291.16 434.94 291.75 435.07C292.34 435.2 292.84 435.96 293.15 436.67C293.46 437.38 293.9 438.65 293.62 439.33C293.34 440 292.2 439.97 291.48 440.72C290.76 441.48 290.13 443.58 289.3 443.85C288.48 444.13 286.69 443.3 286.53 442.37C286.37 441.44 287.83 439.37 288.34 438.29Z" fill="#1f6a22" opacity="0.62"/>
<path d="M281.27 443.32C281.43 444.11 279.1 445.15 278.64 446.5C278.17 447.84 279.14 451.03 278.5 451.38C277.85 451.72 275.69 449.35 274.74 448.58C273.8 447.8 273.12 447.49 272.81 446.73C272.5 445.98 272.49 444.66 272.88 444.05C273.27 443.44 274.35 443.46 275.15 443.08C275.94 442.7 276.62 441.72 277.64 441.76C278.66 441.8 281.1 442.53 281.27 443.32Z" fill="#1f6a22" opacity="0.62"/>
<path d="M278.26 456.24C279.02 455.55 280.63 453.8 281.53 454.05C282.44 454.31 282.84 456.7 283.69 457.77C284.55 458.85 286.78 459.87 286.67 460.5C286.57 461.13 284.11 461.26 283.06 461.56C282.02 461.86 281.3 462.48 280.4 462.31C279.5 462.15 278.24 461.26 277.68 460.57C277.11 459.88 276.91 458.9 277 458.18C277.1 457.46 277.51 456.93 278.26 456.24Z" fill="#1f6a22" opacity="0.62"/>
<path d="M260.13 460.15C261.2 460.62 264.2 460.57 264.49 461.22C264.78 461.86 262.67 463.33 261.87 464.02C261.08 464.72 260.49 464.94 259.71 465.39C258.93 465.84 257.96 466.79 257.2 466.71C256.43 466.63 255.83 465.48 255.12 464.93C254.42 464.38 253.08 464.01 252.96 463.41C252.83 462.82 253.88 461.89 254.39 461.36C254.89 460.82 255.36 460.68 255.98 460.19C256.6 459.69 257.4 458.4 258.1 458.4C258.79 458.39 259.06 459.68 260.13 460.15Z" fill="#1f6a22" opacity="0.62"/>
<path d="M277.06 468.29C276.24 468.42 275.4 469.11 274.68 468.89C273.97 468.66 273.45 467.53 272.76 466.96C272.07 466.38 270.8 465.93 270.52 465.42C270.24 464.91 270.57 464.16 271.06 463.91C271.55 463.65 272.72 463.95 273.46 463.89C274.2 463.82 274.55 463.48 275.51 463.53C276.47 463.59 277.92 463.65 279.21 464.2C280.5 464.76 283.2 466.2 283.26 466.86C283.31 467.52 280.58 467.9 279.54 468.14C278.51 468.37 277.87 468.17 277.06 468.29Z" fill="#1f6a22" opacity="0.62"/>
<path d="M299.89 469.75C299.12 469.6 298.28 469.42 297.69 468.75C297.11 468.09 296.46 466.95 296.37 465.75C296.28 464.55 296.45 462.17 297.17 461.55C297.88 460.93 299.76 461.6 300.65 462.02C301.55 462.45 302.12 463.33 302.53 464.12C302.93 464.9 303.11 465.83 303.08 466.74C303.05 467.66 302.87 469.11 302.34 469.61C301.81 470.11 300.67 469.89 299.89 469.75Z" fill="#1f6a22" opacity="0.62"/>
<path d="M252.99 473.78C252.7 474.07 252.4 472.28 252.26 471.54C252.11 470.8 252.08 470.15 252.12 469.33C252.16 468.52 252.29 467.52 252.52 466.64C252.75 465.75 253.21 464.27 253.5 464.02C253.78 463.77 254.1 464.58 254.24 465.12C254.37 465.66 254.33 466.48 254.29 467.25C254.25 468.02 254.23 468.66 254.01 469.75C253.79 470.83 253.28 473.48 252.99 473.78Z" fill="#1f6a22" opacity="0.62"/>
</g>
<g filter="url(#bl0)">
<ellipse cx="282.36" cy="430.78" rx="1.31" ry="1.31" fill="#10a0e8"/>
<ellipse cx="290.34" cy="439.33" rx="1.31" ry="1.31" fill="#2233ff"/>
<ellipse cx="275.71" cy="445.03" rx="1.31" ry="1.31" fill="#2233ff"/>
<ellipse cx="280.84" cy="458.72" rx="1.31" ry="1.31" fill="#2233ff"/>
<ellipse cx="257.65" cy="461.95" rx="1.31" ry="1.31" fill="#2233ff"/>
<ellipse cx="274.19" cy="465.37" rx="1.31" ry="1.31" fill="#2233ff"/>
<ellipse cx="300.61" cy="467.84" rx="1.31" ry="1.31" fill="#2233ff"/>
</g>
<g filter="url(#bl5)">
<path d="M308.47 526.31C308.51 528.24 309.71 530.68 308.94 531.68C308.17 532.69 305.26 532.03 303.87 532.33C302.47 532.63 301.5 533.76 300.58 533.48C299.66 533.2 299.49 531.51 298.32 530.62C297.16 529.74 293.84 529.26 293.59 528.16C293.33 527.06 295.82 525.13 296.8 524.02C297.78 522.91 298.44 521.93 299.44 521.5C300.44 521.06 301.26 521.65 302.81 521.41C304.35 521.18 307.78 519.25 308.72 520.07C309.67 520.89 308.43 524.37 308.47 526.31Z" fill="#1a5a1e" opacity="0.6"/>
</g>
<g filter="url(#bl2)">
<path d="M262.31 495.7C262.75 496.47 260.14 498.03 258.92 498.76C257.69 499.49 256.31 499.74 254.96 500.09C253.6 500.44 251.86 501.13 250.81 500.86C249.76 500.58 249.41 499.13 248.65 498.44C247.89 497.76 246.56 497.44 246.25 496.75C245.93 496.07 246.13 494.94 246.75 494.32C247.37 493.69 248.76 493.52 249.97 493.01C251.19 492.49 253 491.07 254.05 491.25C255.11 491.43 254.94 493.35 256.31 494.09C257.69 494.83 261.88 494.92 262.31 495.7Z" fill="#1f6a22" opacity="0.62"/>
<path d="M249.14 497.29C248.77 496.9 248.57 496.36 248.64 495.86C248.7 495.37 248.95 494.67 249.54 494.32C250.14 493.97 251.34 493.77 252.22 493.75C253.1 493.73 254.2 493.91 254.81 494.2C255.43 494.5 255.77 495.1 255.9 495.51C256.04 495.93 255.73 496.29 255.64 496.71C255.55 497.13 255.76 497.69 255.35 498.05C254.94 498.41 253.93 498.85 253.18 498.88C252.44 498.91 251.54 498.5 250.87 498.23C250.2 497.97 249.52 497.69 249.14 497.29Z" fill="#d8d040" opacity="0.85"/>
<path d="M270.46 517.19C269.49 518.15 267.93 519.43 266.8 519.38C265.68 519.33 264.21 518.09 263.7 516.9C263.2 515.71 263.84 513.78 263.76 512.24C263.68 510.7 262.77 508.91 263.22 507.65C263.67 506.39 265.24 505.9 266.47 504.68C267.71 503.46 269.23 500.57 270.63 500.31C272.02 500.06 273.6 501.77 274.85 503.13C276.09 504.48 278.47 506.7 278.1 508.45C277.73 510.19 273.89 512.16 272.62 513.61C271.34 515.07 271.43 516.23 270.46 517.19Z" fill="#1f6a22" opacity="0.62"/>
<path d="M235.44 518.15C236.49 517.52 238.73 518.52 240.22 518.88C241.71 519.25 242.66 519.52 244.38 520.33C246.09 521.13 250.38 522.39 250.51 523.74C250.65 525.09 246.51 526.99 245.18 528.41C243.86 529.83 243.95 530.91 242.57 532.27C241.19 533.64 239.2 536.19 236.89 536.59C234.58 537 229.46 536.47 228.7 534.73C227.94 532.98 231.47 528.14 232.34 526.12C233.21 524.11 233.42 523.96 233.94 522.63C234.45 521.3 234.4 518.77 235.44 518.15Z" fill="#1f6a22" opacity="0.62"/>
<path d="M243.5 528.2C243.64 528.91 244.76 530.34 244.29 530.75C243.83 531.17 241.65 530.91 240.7 530.71C239.74 530.51 239.11 530.02 238.56 529.56C238.01 529.1 237.58 528.65 237.4 527.95C237.21 527.25 236.82 525.7 237.44 525.35C238.06 524.99 240.12 525.63 241.12 525.82C242.12 526.02 243.06 526.13 243.45 526.53C243.85 526.92 243.36 527.5 243.5 528.2Z" fill="#38b03c" opacity="0.85"/>
<path d="M304.11 535.15C303.81 535.02 303.05 534.98 303.09 534.73C303.12 534.48 303.81 533.93 304.33 533.65C304.86 533.37 305.77 533.08 306.26 533.05C306.74 533.01 306.97 533.28 307.24 533.45C307.52 533.61 308.02 533.78 307.89 534.02C307.77 534.27 307 534.68 306.5 534.93C306.01 535.18 305.33 535.48 304.93 535.52C304.54 535.56 304.42 535.28 304.11 535.15Z" fill="#38b03c" opacity="0.85"/>
<path d="M257.6 553.15C258.08 554.53 259.96 557.52 259.08 558.08C258.2 558.65 254.39 556.28 252.31 556.55C250.24 556.82 248.01 560.1 246.63 559.69C245.26 559.29 244.35 555.6 244.05 554.13C243.76 552.65 245.26 552.29 244.86 550.85C244.46 549.42 240.98 546.05 241.63 545.52C242.28 544.99 247.01 547.22 248.76 547.69C250.51 548.16 250.88 548 252.12 548.35C253.37 548.7 255.29 549 256.21 549.8C257.12 550.6 257.12 551.77 257.6 553.15Z" fill="#1f6a22" opacity="0.62"/>
<path d="M254.06 556.06C253.18 555.91 252.08 555.05 251.14 554.61C250.2 554.16 248.86 553.84 248.42 553.38C247.98 552.91 248.56 552.39 248.49 551.82C248.43 551.26 247.63 550.3 248.02 550.01C248.42 549.71 249.7 550.25 250.86 550.05C252.01 549.86 254.1 548.48 254.95 548.85C255.81 549.22 255.4 551.35 255.98 552.27C256.56 553.19 258.34 553.83 258.41 554.37C258.49 554.9 257.15 555.19 256.43 555.47C255.7 555.75 254.95 556.2 254.06 556.06Z" fill="#38b03c" opacity="0.85"/>
<path d="M194.05 552.71C194.61 551.46 198.24 550.73 200.1 550.75C201.96 550.77 203.02 552.48 205.2 552.83C207.37 553.18 211.23 551.79 213.13 552.86C215.03 553.92 217.42 557.62 216.59 559.2C215.76 560.79 210.13 561.25 208.17 562.37C206.21 563.49 206.21 565.68 204.85 565.93C203.49 566.18 201.46 564.54 200.01 563.86C198.57 563.19 196.72 562.84 196.18 561.9C195.63 560.96 197.1 559.75 196.74 558.22C196.39 556.69 193.49 553.95 194.05 552.71Z" fill="#1f6a22" opacity="0.62"/>
<path d="M191.58 569.57C191.44 568.53 190.78 566.94 190.99 565.96C191.2 564.97 192.31 564.76 192.84 563.65C193.38 562.55 193.84 559.62 194.2 559.34C194.55 559.06 194.8 561.1 194.96 561.98C195.13 562.86 195.13 563.63 195.18 564.62C195.24 565.61 195.42 566.51 195.29 567.92C195.16 569.33 194.85 571.93 194.4 573.09C193.95 574.24 193.03 575.01 192.6 574.86C192.18 574.71 192 573.07 191.83 572.18C191.66 571.3 191.72 570.61 191.58 569.57Z" fill="#1f6a22" opacity="0.62"/>
<path d="M240.01 567.58C238.78 568.21 239.22 569.77 238.06 570.29C236.89 570.81 234.37 571.34 233.02 570.69C231.66 570.04 230.34 567.7 229.91 566.38C229.47 565.07 230.29 563.96 230.4 562.78C230.52 561.6 229.88 559.88 230.58 559.29C231.28 558.7 233.41 558.98 234.63 559.22C235.84 559.47 236.33 560.36 237.86 560.75C239.38 561.14 242.52 560.61 243.78 561.57C245.04 562.53 246.05 565.5 245.42 566.5C244.79 567.51 241.23 566.95 240.01 567.58Z" fill="#1f6a22" opacity="0.62"/>
<path d="M249.11 567.37C247.58 567.72 247.9 568.05 246.77 568.26C245.63 568.48 243.44 568.68 242.3 568.66C241.15 568.64 240.96 568.29 239.92 568.14C238.89 567.98 236.77 568.03 236.07 567.75C235.38 567.47 234.68 566.76 235.78 566.44C236.87 566.12 240.88 565.9 242.63 565.83C244.39 565.76 245.19 565.98 246.32 566.01C247.45 566.05 247.8 565.99 249.41 566.02C251.01 566.04 255.99 565.95 255.94 566.17C255.89 566.4 250.64 567.02 249.11 567.37Z" fill="#1f6a22" opacity="0.62"/>
<path d="M228.99 555.46C229.06 554.96 229.25 554.68 229.55 554.54C229.85 554.39 230.38 554.06 230.78 554.57C231.18 555.08 231.67 556.66 231.93 557.6C232.19 558.54 232.39 559.59 232.33 560.2C232.27 560.81 231.97 561.11 231.6 561.26C231.23 561.4 230.52 561.68 230.1 561.06C229.68 560.43 229.27 558.45 229.08 557.52C228.9 556.58 228.91 555.95 228.99 555.46Z" fill="#1f6a22" opacity="0.62"/>
<path d="M282.46 565.32C283.52 563.93 283.95 563.51 284.76 562.82C285.57 562.12 285.85 562.28 287.31 561.16C288.77 560.04 292.57 555.51 293.51 556.09C294.45 556.66 293.07 562.46 292.96 564.61C292.86 566.75 293.25 567.65 292.9 568.94C292.55 570.22 291.73 571.5 290.86 572.3C290 573.11 289.16 573 287.7 573.76C286.24 574.52 283.67 577.3 282.12 576.87C280.57 576.43 278.34 573.07 278.4 571.15C278.46 569.22 281.4 566.71 282.46 565.32Z" fill="#1f6a22" opacity="0.62"/>
<path d="M284.12 567.25C284.18 566.53 284.76 566.03 285.02 565.34C285.28 564.65 285.31 563.53 285.68 563.11C286.05 562.7 286.73 562.66 287.22 562.83C287.72 563.01 288.44 563.48 288.67 564.16C288.9 564.84 288.42 565.79 288.62 566.9C288.82 568.01 290.1 570.26 289.87 570.82C289.64 571.39 287.94 570.03 287.25 570.27C286.55 570.52 286.13 572.4 285.7 572.29C285.27 572.18 284.93 570.46 284.67 569.62C284.41 568.78 284.06 567.96 284.12 567.25Z" fill="#9a5a18" opacity="0.75"/>
</g>
<g filter="url(#bl2)">
<ellipse cx="301.75" cy="527.15" rx="3.08" ry="3.42" fill="#4f8a3a" opacity="0.5"/>
<ellipse cx="252.33" cy="496.35" rx="3.25" ry="2.05" fill="#6aa040" opacity="0.5"/>
<ellipse cx="268.49" cy="510.99" rx="2.91" ry="3.93" fill="#6aa040" transform="rotate(15 268.49 510.99)" opacity="0.5"/>
<ellipse cx="239.02" cy="525.25" rx="4.11" ry="3.93" fill="#6aa040" opacity="0.5"/>
<ellipse cx="250.43" cy="551.86" rx="3.93" ry="2.74" fill="#6aa040" transform="rotate(20 250.43 551.86)" opacity="0.5"/>
<ellipse cx="202.53" cy="558.51" rx="4.11" ry="3.42" fill="#6aa040" opacity="0.5"/>
<ellipse cx="236.17" cy="564.21" rx="3.42" ry="2.57" fill="#6aa040" transform="rotate(30 236.17 564.21)" opacity="0.5"/>
<ellipse cx="287.49" cy="567.06" rx="3.08" ry="3.76" fill="#6aa040" opacity="0.5"/>
</g>
<g filter="url(#bl1)">
<ellipse cx="252.33" cy="494.83" rx="2.51" ry="2.51" fill="#a080ff"/>
<ellipse cx="267.15" cy="512.32" rx="2.51" ry="2.51" fill="#a080ff"/>
<ellipse cx="238.64" cy="523.91" rx="2.74" ry="2.74" fill="#6a4cff"/>
<ellipse cx="249.48" cy="550.53" rx="2.74" ry="2.74" fill="#a080ff"/>
<ellipse cx="202.53" cy="557.56" rx="2.97" ry="2.97" fill="#6a4cff"/>
<ellipse cx="235.22" cy="563.83" rx="2.74" ry="2.74" fill="#6a4cff"/>
<ellipse cx="288.44" cy="568.96" rx="2.74" ry="2.74" fill="#6a4cff"/>
</g>
</g>
<clipPath id="ic21"><rect x="315.4" y="417.5" width="129.5" height="158.2"/></clipPath>
<rect x="315.4" y="417.5" width="129.5" height="158.2" fill="#010106"/>
<rect x="315.4" y="417.5" width="65.4" height="54.1" fill="#050101"/>
<g clip-path="url(#ic21)">
<g filter="url(#bl4)">
<path d="M380.56 467.41C380.04 467.74 379.13 467.87 378.29 468.08C377.45 468.29 376.35 468.75 375.52 468.69C374.68 468.63 373.79 468.07 373.26 467.7C372.74 467.34 372.56 466.93 372.38 466.48C372.21 466.04 371.75 465.34 372.23 465.04C372.71 464.74 374.31 464.84 375.25 464.67C376.2 464.5 377.13 463.95 377.9 464.02C378.67 464.08 379.28 464.71 379.87 465.07C380.45 465.42 381.29 465.75 381.4 466.15C381.52 466.54 381.08 467.09 380.56 467.41Z" fill="#4a0c06" opacity="0.7"/>
<path d="M322.68 432.21C323.12 433.19 323.48 434.74 323.75 435.9C324.03 437.06 324.48 438.79 324.35 439.16C324.21 439.53 323.34 438.27 322.96 438.11C322.59 437.94 322.53 438.53 322.12 438.16C321.71 437.78 320.97 436.88 320.5 435.85C320.03 434.82 319.5 433.01 319.3 431.98C319.1 430.95 319.16 430.1 319.29 429.66C319.42 429.22 319.75 429.28 320.05 429.34C320.36 429.4 320.67 429.56 321.11 430.04C321.55 430.52 322.24 431.23 322.68 432.21Z" fill="#4a0c06" opacity="0.7"/>
</g>
<g filter="url(#bl3)">
<path d="M329.06 430.42C328.72 430.08 327.98 429.5 328.08 429.12C328.18 428.74 329.1 428.31 329.67 428.15C330.24 428 331.04 428 331.51 428.18C331.98 428.36 332.27 428.85 332.46 429.21C332.66 429.57 332.83 430 332.69 430.35C332.56 430.7 332.1 431.18 331.67 431.31C331.23 431.45 330.53 431.3 330.1 431.15C329.66 431.01 329.4 430.76 329.06 430.42Z" fill="#bc1e0b" opacity="0.88"/>
<path d="M345.61 435.62C345.11 435.43 344.42 435.05 344.2 434.58C343.98 434.1 343.96 433.12 344.3 432.78C344.64 432.44 345.7 432.58 346.26 432.55C346.81 432.52 347.13 432.45 347.64 432.6C348.15 432.74 349.23 433.04 349.32 433.41C349.41 433.77 348.53 434.38 348.18 434.77C347.83 435.15 347.63 435.57 347.2 435.71C346.78 435.85 346.11 435.81 345.61 435.62Z" fill="#bc1e0b" opacity="0.88"/>
<path d="M328.15 441.66C328.46 441.21 329.36 440.99 330.08 440.74C330.81 440.49 331.78 440.03 332.49 440.17C333.2 440.31 334.21 441.09 334.35 441.6C334.48 442.11 333.6 442.67 333.28 443.22C332.96 443.78 332.99 444.7 332.43 444.92C331.88 445.14 330.67 444.79 329.96 444.55C329.26 444.3 328.5 443.91 328.2 443.43C327.89 442.95 327.83 442.11 328.15 441.66Z" fill="#84140a" opacity="0.85"/>
<path d="M349.02 442.12C349.37 441.86 350.02 441.55 350.53 441.59C351.05 441.63 351.71 442.09 352.11 442.34C352.51 442.6 352.84 442.87 352.94 443.13C353.03 443.4 352.93 443.75 352.68 443.93C352.43 444.12 351.96 444.2 351.45 444.25C350.95 444.3 350.14 444.4 349.64 444.21C349.13 444.03 348.53 443.48 348.43 443.13C348.33 442.78 348.67 442.37 349.02 442.12Z" fill="#bc1e0b" opacity="0.88"/>
<path d="M327.91 453.03C327.26 452.66 326.64 451.93 326.54 451.32C326.44 450.71 326.76 449.81 327.31 449.35C327.87 448.88 329.05 448.52 329.88 448.51C330.71 448.5 331.64 448.9 332.3 449.3C332.95 449.7 333.78 450.38 333.79 450.91C333.79 451.44 332.9 452.04 332.34 452.47C331.78 452.91 331.15 453.42 330.41 453.51C329.67 453.61 328.55 453.39 327.91 453.03Z" fill="#84140a" opacity="0.85"/>
<path d="M340.32 460.23C339.78 460.13 339.23 459.84 338.9 459.49C338.57 459.13 338.23 458.46 338.34 458.08C338.45 457.69 339.14 457.43 339.57 457.15C340 456.87 340.42 456.41 340.9 456.41C341.38 456.4 342.02 456.74 342.43 457.12C342.84 457.49 343.41 458.16 343.36 458.66C343.32 459.15 342.66 459.84 342.16 460.1C341.65 460.37 340.87 460.34 340.32 460.23Z" fill="#bc1e0b" opacity="0.88"/>
<path d="M372.13 455.95C371.66 456.34 371.05 456.98 370.66 456.85C370.26 456.72 370.07 455.72 369.74 455.15C369.41 454.59 368.61 453.94 368.67 453.47C368.74 453 369.67 452.73 370.12 452.35C370.57 451.97 370.95 451.18 371.38 451.19C371.81 451.2 372.36 451.86 372.71 452.41C373.06 452.96 373.57 453.89 373.47 454.48C373.37 455.07 372.6 455.55 372.13 455.95Z" fill="#bc1e0b" opacity="0.88"/>
<path d="M359.3 448.8C359.62 447.99 359.92 447.31 360.31 446.57C360.7 445.82 361.18 444.95 361.63 444.32C362.08 443.69 362.59 443.13 363.02 442.76C363.44 442.39 364.05 441.87 364.16 442.07C364.28 442.27 363.94 443.29 363.7 443.97C363.46 444.65 363.12 445.3 362.73 446.16C362.34 447.01 361.78 448.55 361.37 449.1C360.95 449.65 360.73 449.07 360.23 449.46C359.74 449.85 358.54 451.56 358.39 451.45C358.23 451.34 358.98 449.61 359.3 448.8Z" fill="#84140a" opacity="0.85"/>
<path d="M391.87 441.44C390.97 441.37 390.96 437.23 391.1 435.28C391.24 433.34 392.17 431.4 392.69 429.77C393.21 428.14 393.51 426.57 394.2 425.52C394.89 424.46 395.33 425.55 396.82 423.46C398.31 421.36 401.96 413.26 403.12 412.95C404.28 412.64 404.01 418.99 403.78 421.6C403.54 424.21 402.34 426.49 401.72 428.61C401.1 430.73 400.92 433.14 400.05 434.33C399.19 435.51 397.9 434.54 396.53 435.73C395.17 436.91 392.78 441.52 391.87 441.44Z" fill="#1f6a22" opacity="0.62"/>
<path d="M410.76 441.21C409.97 441.18 408.73 438.93 408.58 437.9C408.42 436.86 409.49 435.77 409.84 435.01C410.19 434.26 410.21 433.82 410.66 433.35C411.11 432.88 411.96 432.1 412.55 432.19C413.14 432.27 413.95 433.22 414.2 433.87C414.46 434.52 414.25 435.39 414.11 436.08C413.96 436.78 413.88 437.21 413.33 438.07C412.77 438.92 411.56 441.24 410.76 441.21Z" fill="#1f6a22" opacity="0.62"/>
<path d="M400.4 445.17C399.64 445.76 398.5 447.13 397.45 447.31C396.4 447.49 395.8 446.35 394.13 446.26C392.46 446.17 387.92 447.15 387.45 446.78C386.97 446.4 390.56 444.86 391.28 444.01C392 443.16 390.81 442.12 391.78 441.66C392.75 441.2 395.53 441.38 397.1 441.25C398.67 441.13 400.33 440.72 401.18 440.92C402.04 441.11 402.11 441.94 402.24 442.42C402.38 442.9 402.3 443.34 401.99 443.8C401.68 444.26 401.16 444.59 400.4 445.17Z" fill="#1f6a22" opacity="0.62"/>
<path d="M418.61 441.81C419.26 442.24 420.1 442.52 420.29 443.01C420.47 443.5 420.28 444.48 419.69 444.77C419.11 445.05 417.92 444.57 416.79 444.72C415.66 444.86 413.42 445.89 412.9 445.64C412.39 445.39 413.54 443.9 413.69 443.23C413.84 442.56 413.37 442.09 413.82 441.62C414.27 441.14 415.59 440.37 416.39 440.4C417.19 440.43 417.96 441.38 418.61 441.81Z" fill="#1f6a22" opacity="0.62"/>
<path d="M427.44 448.91C426.76 450.07 426.03 450.17 425.49 450.51C424.95 450.84 424.73 450.83 424.18 450.92C423.62 451.02 421.9 452.32 422.17 451.08C422.44 449.85 424.71 445.79 425.8 443.51C426.9 441.23 427.81 438.9 428.73 437.41C429.65 435.92 430.81 434.74 431.31 434.57C431.81 434.41 431.16 436.4 431.74 436.44C432.32 436.48 435.16 433.64 434.8 434.82C434.43 435.99 430.79 441.16 429.57 443.51C428.34 445.86 428.12 447.74 427.44 448.91Z" fill="#1f6a22" opacity="0.62"/>
<path d="M404.26 450.12C404.29 450.8 400.03 451.89 398.81 452.54C397.58 453.19 397.74 453.58 396.9 454.02C396.07 454.45 395.12 455.02 393.81 455.18C392.51 455.34 390.65 455.48 389.09 454.99C387.53 454.49 384.42 453.18 384.44 452.2C384.46 451.22 387.82 449.8 389.19 449.13C390.55 448.46 391.59 448.33 392.64 448.18C393.69 448.03 394.47 448.17 395.47 448.23C396.47 448.28 397.18 448.17 398.64 448.49C400.11 448.81 404.24 449.44 404.26 450.12Z" fill="#1f6a22" opacity="0.62"/>
<path d="M407.2 461.41C406.42 461.59 405.71 461.06 404.68 460.91C403.65 460.76 401.5 461.06 401.05 460.52C400.59 459.98 401.57 458.59 401.97 457.67C402.37 456.76 402.58 455.44 403.44 455.02C404.3 454.6 406.21 454.78 407.14 455.17C408.06 455.56 408.62 456.62 409 457.39C409.37 458.16 409.68 459.12 409.38 459.79C409.08 460.46 407.98 461.22 407.2 461.41Z" fill="#1f6a22" opacity="0.62"/>
<path d="M434.23 451.06C434.67 450.1 435.44 446.88 435.91 446.98C436.38 447.07 436.59 450.64 437.07 451.61C437.55 452.59 438.58 452.2 438.8 452.83C439.02 453.45 438.61 454.51 438.41 455.37C438.21 456.23 438.11 457.48 437.62 457.99C437.13 458.5 436.13 458.58 435.48 458.44C434.83 458.3 434.28 457.7 433.72 457.17C433.15 456.64 432.15 456 432.07 455.26C431.99 454.52 432.88 453.44 433.24 452.74C433.6 452.04 433.78 452.02 434.23 451.06Z" fill="#1f6a22" opacity="0.62"/>
<path d="M420.37 469.75C418.64 469.71 417.13 469.58 416.68 469.42C416.24 469.26 417.27 469.04 417.71 468.78C418.14 468.52 417.38 468.06 419.26 467.86C421.15 467.65 426.57 467.57 429.01 467.55C431.45 467.52 432.37 467.67 433.89 467.73C435.42 467.78 437.68 467.75 438.15 467.87C438.62 468 437.12 468.22 436.7 468.45C436.28 468.68 437.22 469.04 435.62 469.24C434.01 469.45 429.62 469.59 427.07 469.67C424.53 469.75 422.11 469.79 420.37 469.75Z" fill="#1f6a22" opacity="0.62"/>
<path d="M436.33 461.85C436.18 462.42 436.04 463.42 435.85 463.5C435.67 463.58 435.44 462.72 435.21 462.34C434.98 461.96 434.57 461.76 434.49 461.2C434.42 460.64 434.6 459.63 434.75 458.99C434.91 458.35 435.15 457.56 435.42 457.36C435.69 457.17 436.15 457.37 436.37 457.82C436.59 458.27 436.75 459.4 436.74 460.07C436.74 460.74 436.47 461.28 436.33 461.85Z" fill="#1f6a22" opacity="0.62"/>
</g>
<g filter="url(#bl0)">
<ellipse cx="383.38" cy="428.31" rx="1.31" ry="1.31" fill="#2233ff"/>
<ellipse cx="395.73" cy="429.64" rx="1.99" ry="1.53" fill="#10a0e8"/>
<ellipse cx="411.89" cy="436.29" rx="1.31" ry="1.31" fill="#2233ff"/>
<ellipse cx="397.25" cy="443.89" rx="1.53" ry="1.53" fill="#2233ff"/>
<ellipse cx="416.64" cy="443.51" rx="1.31" ry="1.31" fill="#2233ff"/>
<ellipse cx="427.1" cy="445.41" rx="1.31" ry="1.31" fill="#2233ff"/>
<ellipse cx="394.78" cy="451.49" rx="1.53" ry="1.53" fill="#2233ff"/>
<ellipse cx="405.62" cy="458.34" rx="1.53" ry="1.53" fill="#10a0e8"/>
<ellipse cx="435.27" cy="453.97" rx="1.31" ry="1.31" fill="#2233ff"/>
<ellipse cx="443.25" cy="466.32" rx="1.53" ry="1.53" fill="#2233ff"/>
</g>
<g filter="url(#bl5)">
<path d="M324.97 498.36C326 500.68 327.57 504.36 328.37 506.82C329.17 509.28 329.34 511.1 329.76 513.13C330.19 515.15 331.25 518.96 330.94 518.97C330.63 518.98 328.77 514.68 327.91 513.18C327.06 511.68 326.6 511.75 325.82 509.97C325.04 508.19 324.16 505.19 323.23 502.52C322.3 499.85 320.67 495.72 320.25 493.93C319.82 492.15 320.34 491.98 320.66 491.8C320.98 491.62 321.43 491.77 322.15 492.86C322.87 493.96 323.93 496.03 324.97 498.36Z" fill="#1a5a1e" opacity="0.6"/>
<path d="M320.71 560.59C321.08 562.05 321.11 563.69 321.17 564.82C321.24 565.96 321.22 566.71 321.09 567.39C320.96 568.07 320.86 569.51 320.42 568.89C319.99 568.28 319.08 565.44 318.5 563.69C317.91 561.95 317.4 560.24 316.93 558.41C316.46 556.57 315.87 554.16 315.68 552.66C315.49 551.16 315.56 549.87 315.79 549.42C316.02 548.96 316.53 548.8 317.06 549.91C317.59 551.02 318.35 554.29 318.96 556.07C319.57 557.85 320.34 559.13 320.71 560.59Z" fill="#4a0c06" opacity="0.7"/>
</g>
<g filter="url(#bl2)">
<path d="M341.79 482.24C342.9 480.14 346.37 480.3 348.81 478.46C351.26 476.63 354.43 471.38 356.46 471.22C358.49 471.06 360.55 474.88 361 477.5C361.44 480.13 359.39 483.72 359.15 486.97C358.92 490.21 360.86 494.74 359.58 496.97C358.3 499.2 353.91 499.27 351.48 500.36C349.06 501.45 347.63 502.85 345.01 503.52C342.4 504.2 336.29 506.5 335.81 504.42C335.33 502.34 341.14 494.74 342.14 491.04C343.13 487.34 340.67 484.33 341.79 482.24Z" fill="#1f6a22" opacity="0.62"/>
<path d="M349.04 481.43C350.41 481.61 351.45 487.65 352.14 489.71C352.82 491.76 352.88 492.37 353.15 493.75C353.43 495.12 354.24 496.81 353.78 497.95C353.32 499.09 351.68 499.59 350.39 500.6C349.1 501.61 347.84 503.63 346.05 504C344.26 504.37 340.84 504.1 339.66 502.83C338.48 501.56 339.46 498.54 338.96 496.37C338.46 494.19 335.81 491.04 336.64 489.75C337.46 488.47 341.84 490.03 343.91 488.64C345.97 487.25 347.67 481.25 349.04 481.43Z" fill="#1f6a22" opacity="0.62"/>
<path d="M382.11 495.23C383.2 495.97 383.52 498.86 383.84 500.53C384.17 502.21 383.94 503.2 384.06 505.29C384.17 507.38 385.53 511.97 384.54 513.06C383.56 514.15 379.82 512.47 378.14 511.85C376.46 511.22 375.64 510.21 374.46 509.31C373.28 508.41 371.39 507.7 371.05 506.45C370.71 505.2 371.84 503.08 372.41 501.81C372.98 500.55 373.65 499.81 374.46 498.86C375.28 497.91 376.01 496.72 377.28 496.12C378.55 495.51 381.01 494.49 382.11 495.23Z" fill="#1f6a22" opacity="0.62"/>
<path d="M377.44 500.1C377.95 499.94 378.66 500.84 379.18 501.16C379.7 501.47 379.73 501.56 380.56 501.99C381.39 502.43 384.04 503.01 384.14 503.78C384.24 504.55 381.87 505.75 381.17 506.63C380.47 507.52 380.48 508.84 379.95 509.06C379.42 509.28 378.73 508.14 378 507.97C377.27 507.79 376.06 508.56 375.59 508.02C375.12 507.47 375.09 505.68 375.17 504.69C375.26 503.69 375.74 502.83 376.11 502.07C376.49 501.3 376.93 500.25 377.44 500.1Z" fill="#9a5a18" opacity="0.75"/>
<path d="M376.55 509.47C375.98 509.95 373.26 510.76 372.02 511.51C370.78 512.27 369.77 513.75 369.14 514.03C368.5 514.31 368.96 513.13 368.22 513.17C367.48 513.22 364.71 514.55 364.7 514.31C364.68 514.08 367.33 512.47 368.13 511.78C368.94 511.1 368.81 510.75 369.54 510.21C370.28 509.67 371.63 508.93 372.54 508.54C373.46 508.15 374.55 507.85 375.03 507.87C375.52 507.89 375.19 508.4 375.44 508.67C375.7 508.93 377.12 509 376.55 509.47Z" fill="#1f6a22" opacity="0.62"/>
<path d="M325.47 518.5C325.38 517.31 337 515.89 339.86 514.38C342.71 512.87 341 509.82 342.6 509.43C344.19 509.03 346.92 511.62 349.41 512.03C351.91 512.44 355.84 511.01 357.56 511.87C359.27 512.72 359 515.13 359.69 517.15C360.38 519.18 363.08 522.7 361.7 524C360.32 525.3 354.27 524.82 351.41 524.94C348.55 525.07 346.38 525.32 344.54 524.75C342.7 524.18 343.54 522.56 340.36 521.51C337.18 520.47 325.55 519.69 325.47 518.5Z" fill="#1f6a22" opacity="0.62"/>
<path d="M352.65 523.41C351.97 524.03 350.52 524.1 349.15 524.32C347.77 524.54 345.15 525.34 344.42 524.73C343.69 524.12 344.95 521.78 344.79 520.67C344.62 519.55 343.27 518.84 343.44 518.04C343.61 517.23 344.86 516.73 345.81 515.83C346.77 514.93 348.25 512.42 349.19 512.62C350.13 512.82 350.83 516.04 351.46 517.03C352.09 518.03 352.67 517.97 352.97 518.57C353.26 519.16 353.29 519.8 353.23 520.61C353.18 521.42 353.33 522.79 352.65 523.41Z" fill="#9a5a18" opacity="0.75"/>
<path d="M365.18 508.92C364.7 509.36 363.39 510.16 362.3 510.6C361.21 511.04 359.9 511.19 358.64 511.56C357.37 511.93 355.65 512.68 354.72 512.84C353.78 512.99 352.96 512.8 353.03 512.48C353.11 512.17 354.38 511.4 355.17 510.93C355.97 510.46 356.78 510.24 357.81 509.66C358.83 509.07 359.92 507.98 361.31 507.43C362.7 506.87 365.5 506.22 366.14 506.32C366.78 506.41 365.29 507.56 365.13 507.99C364.97 508.43 365.65 508.49 365.18 508.92Z" fill="#1f6a22" opacity="0.62"/>
<path d="M336.58 521.84C337.29 521.92 340.1 521.38 340.22 521.7C340.34 522.03 338.52 523.29 337.29 523.79C336.07 524.3 334.07 524.45 332.87 524.73C331.67 525 331.19 525.2 330.11 525.44C329.03 525.67 326.76 526.29 326.39 526.14C326.03 525.98 327.16 525 327.93 524.5C328.7 524 330.14 523.59 331.02 523.14C331.89 522.68 332.35 522.06 333.17 521.75C333.99 521.43 335.38 521.21 335.95 521.22C336.52 521.24 335.86 521.76 336.58 521.84Z" fill="#1f6a22" opacity="0.62"/>
<path d="M357.21 524.85C355.93 524.28 352.36 523.29 352.09 522.91C351.82 522.53 354.8 522.71 355.61 522.59C356.41 522.46 356.27 522.09 356.92 522.15C357.57 522.21 358.37 522.74 359.5 522.95C360.63 523.15 362.48 522.91 363.69 523.35C364.9 523.8 366.68 525.14 366.74 525.61C366.8 526.08 364.81 526.06 364.05 526.18C363.28 526.3 362.86 526.29 362.16 526.32C361.45 526.34 360.62 526.59 359.8 526.34C358.97 526.1 358.5 525.42 357.21 524.85Z" fill="#1f6a22" opacity="0.62"/>
<path d="M378.73 518.73C377.99 517.72 377.39 515.12 378.58 514.63C379.77 514.13 384.05 515.55 385.87 515.74C387.69 515.93 388.48 515.5 389.51 515.77C390.54 516.04 391.37 516.74 392.05 517.36C392.73 517.98 393 518.45 393.6 519.49C394.19 520.54 396.48 523.09 395.64 523.63C394.8 524.17 390.39 522.85 388.55 522.74C386.71 522.62 385.49 523.29 384.57 522.95C383.66 522.61 384.02 521.39 383.05 520.69C382.08 519.99 379.48 519.74 378.73 518.73Z" fill="#1f6a22" opacity="0.62"/>
<path d="M386.91 518.9C387.07 518.38 387.29 518.02 387.73 517.6C388.17 517.18 388.98 516.32 389.53 516.36C390.07 516.41 390.66 517.36 391.02 517.88C391.38 518.4 391.78 519 391.69 519.48C391.6 519.96 390.97 520.48 390.48 520.79C389.99 521.09 389.36 521.33 388.74 521.32C388.11 521.3 387.03 521.12 386.73 520.72C386.42 520.31 386.74 519.42 386.91 518.9Z" fill="#d8d040" opacity="0.85"/>
<path d="M405.64 522.03C407.58 517.84 410.14 511.79 412.21 508.47C414.28 505.15 416.65 503.24 418.08 502.11C419.51 500.98 419.76 501.8 420.79 501.69C421.83 501.59 424.86 499.01 424.27 501.49C423.69 503.97 419.71 511.73 417.28 516.57C414.85 521.41 412.16 526.56 409.68 530.53C407.2 534.5 403.51 539.84 402.41 540.39C401.3 540.93 403.38 534.93 403.07 533.8C402.76 532.66 400.14 535.54 400.57 533.58C401 531.62 403.7 526.21 405.64 522.03Z" fill="#1f6a22" opacity="0.62"/>
<path d="M412.11 517.1C412.53 517.35 412.29 518.71 412.43 519.54C412.58 520.36 413.35 521.08 412.99 522.05C412.63 523.02 411.1 524.1 410.27 525.38C409.44 526.66 409.08 528.32 408.02 529.72C406.96 531.13 404.51 533.99 403.9 533.8C403.29 533.62 403.98 530.18 404.36 528.59C404.75 527 405.78 525.7 406.22 524.27C406.66 522.83 406.39 521.03 407 519.98C407.62 518.94 409.04 518.48 409.89 518C410.74 517.52 411.68 516.84 412.11 517.1Z" fill="#38b03c" opacity="0.85"/>
<path d="M330.1 538.29C329.98 536.81 336.23 535.39 338.06 533.72C339.89 532.05 339.47 528.91 341.1 528.29C342.73 527.66 345.64 529.34 347.86 529.97C350.08 530.6 352.03 530.71 354.4 532.05C356.77 533.4 361.97 536.04 362.07 538.03C362.17 540.03 357.29 542.88 355 544.04C352.71 545.21 350.46 544.25 348.32 545.03C346.18 545.81 343.73 549.13 342.15 548.73C340.56 548.33 340.8 544.36 338.8 542.62C336.79 540.88 330.23 539.78 330.1 538.29Z" fill="#1f6a22" opacity="0.62"/>
<path d="M362.1 554.4C360.68 553.81 356.96 553.57 356.64 552.65C356.32 551.73 359.46 550.31 360.18 548.89C360.89 547.47 359.92 544.72 360.95 544.12C361.97 543.51 364.94 544.68 366.31 545.25C367.68 545.82 368.3 546.77 369.19 547.53C370.07 548.28 371.22 548.83 371.65 549.76C372.07 550.69 371.85 551.64 371.76 553.12C371.68 554.6 372.23 558.12 371.12 558.64C370.01 559.16 366.63 556.93 365.13 556.22C363.62 555.52 363.51 555 362.1 554.4Z" fill="#1f6a22" opacity="0.62"/>
<path d="M366.93 547.38C367.45 547.83 367.36 549.16 367.62 550.11C367.88 551.06 368.68 552.07 368.5 553.08C368.32 554.08 367.35 555.85 366.53 556.12C365.71 556.39 364.23 555.43 363.58 554.71C362.94 554 362.78 552.74 362.67 551.83C362.55 550.91 362.59 549.98 362.89 549.25C363.2 548.52 363.84 547.74 364.51 547.43C365.19 547.12 366.41 546.93 366.93 547.38Z" fill="#38b03c" opacity="0.85"/>
<path d="M427.7 550.25C426.39 550.13 424.83 546.54 423.83 545.27C422.84 544.01 422.53 543.71 421.74 542.67C420.95 541.62 419.26 540.38 419.1 538.99C418.94 537.59 419.7 535.13 420.81 534.28C421.91 533.43 424.14 534.04 425.74 533.9C427.35 533.77 428.78 533.07 430.43 533.46C432.08 533.84 434.83 534.78 435.65 536.23C436.46 537.69 435.97 540.55 435.31 542.18C434.64 543.81 432.95 544.67 431.68 546.01C430.41 547.35 429.01 550.38 427.7 550.25Z" fill="#1f6a22" opacity="0.62"/>
<path d="M424.19 556.95C423.57 558.56 422.3 559.78 421.97 558.9C421.64 558.02 422.3 553.38 422.23 551.66C422.17 549.95 421.47 549.98 421.59 548.61C421.7 547.23 422.48 544.86 422.93 543.41C423.38 541.97 423.83 540.78 424.28 539.95C424.73 539.12 425.32 538.25 425.62 538.45C425.92 538.66 425.67 540.48 426.06 541.19C426.45 541.9 428.03 541.37 427.98 542.71C427.92 544.05 426.35 546.86 425.72 549.23C425.09 551.61 424.82 555.34 424.19 556.95Z" fill="#1f6a22" opacity="0.62"/>
<path d="M424.47 536.81C424.95 536.63 425.96 538.69 426.58 539.15C427.2 539.61 427.86 539.09 428.18 539.56C428.5 540.03 428.46 541.17 428.5 541.96C428.54 542.74 428.51 543.25 428.4 544.28C428.3 545.3 428.34 547.86 427.88 548.09C427.43 548.33 426.26 546.25 425.69 545.68C425.12 545.11 424.76 545.16 424.46 544.67C424.15 544.18 423.98 543.48 423.85 542.74C423.72 542 423.57 541.23 423.67 540.25C423.77 539.26 423.98 536.99 424.47 536.81Z" fill="#38b03c" opacity="0.85"/>
<path d="M445.77 567.3C445.43 568.37 446.15 569.19 445.27 570.62C444.4 572.04 442.04 575.85 440.54 575.85C439.03 575.85 437.95 571.51 436.24 570.6C434.53 569.69 430.95 571.02 430.27 570.39C429.59 569.75 431.57 567.92 432.16 566.79C432.74 565.65 432.65 564.4 433.76 563.59C434.87 562.77 437.02 562.27 438.82 561.91C440.61 561.55 443.15 561.05 444.56 561.44C445.97 561.83 447.09 563.25 447.29 564.22C447.49 565.2 446.11 566.24 445.77 567.3Z" fill="#1f6a22" opacity="0.62"/>
<path d="M389.11 571.22C390.54 570.95 399.62 570.57 403.95 570.32C408.27 570.07 412.52 569.74 415.06 569.72C417.6 569.7 414.89 570.23 419.2 570.22C423.51 570.2 440.94 569.46 440.9 569.63C440.86 569.8 422.89 570.74 418.97 571.26C415.05 571.78 420.14 572.48 417.39 572.76C414.64 573.03 405.86 572.96 402.47 572.91C399.08 572.86 398.22 572.62 397.04 572.45C395.85 572.29 396.69 572.14 395.37 571.94C394.05 571.73 387.68 571.49 389.11 571.22Z" fill="#1f6a22" opacity="0.62"/>
</g>
<g filter="url(#bl2)">
<ellipse cx="350.11" cy="489.13" rx="5.13" ry="8.13" fill="#6aa040" transform="rotate(25 350.11 489.13)" opacity="0.5"/>
<ellipse cx="347.26" cy="494.83" rx="4.28" ry="4.28" fill="#6aa040" opacity="0.5"/>
<ellipse cx="377.68" cy="503.39" rx="3.08" ry="3.59" fill="#6aa040" opacity="0.5"/>
<ellipse cx="347.26" cy="517.64" rx="5.99" ry="4.11" fill="#6aa040" opacity="0.5"/>
<ellipse cx="387.18" cy="519.16" rx="3.08" ry="1.88" fill="#6aa040" opacity="0.5"/>
<ellipse cx="410.94" cy="519.54" rx="1.88" ry="11.12" fill="#6aa040" transform="rotate(28 410.94 519.54)" opacity="0.5"/>
<ellipse cx="345.36" cy="538.17" rx="5.47" ry="4.79" fill="#6aa040" transform="rotate(10 345.36 538.17)" opacity="0.5"/>
<ellipse cx="365.7" cy="550.91" rx="3.42" ry="2.91" fill="#6aa040" opacity="0.5"/>
<ellipse cx="426.53" cy="540.45" rx="3.76" ry="3.76" fill="#6aa040" opacity="0.5"/>
<ellipse cx="439.45" cy="567.06" rx="4.28" ry="2.57" fill="#6aa040" transform="rotate(-10 439.45 567.06)" opacity="0.5"/>
</g>
<g filter="url(#bl1)">
<ellipse cx="321.6" cy="489.13" rx="3.83" ry="2.74" fill="#6a4cff" transform="rotate(60 321.6 489.13)"/>
<ellipse cx="344.79" cy="492.93" rx="2.74" ry="2.74" fill="#a080ff"/>
<ellipse cx="349.16" cy="493.31" rx="2.05" ry="2.05" fill="#10a0e8"/>
<ellipse cx="378.06" cy="505.86" rx="2.74" ry="2.74" fill="#6a4cff"/>
<ellipse cx="348.78" cy="520.87" rx="2.97" ry="2.97" fill="#6a4cff"/>
<ellipse cx="389.08" cy="519.54" rx="2.74" ry="2.74" fill="#a080ff"/>
<ellipse cx="409.04" cy="523.72" rx="3.56" ry="2.74" fill="#a080ff" transform="rotate(-50 409.04 523.72)"/>
<ellipse cx="344.98" cy="536.27" rx="2.74" ry="2.74" fill="#3a50ff"/>
<ellipse cx="365.7" cy="548.62" rx="2.97" ry="2.97" fill="#a080ff"/>
<ellipse cx="425.77" cy="540.07" rx="2.97" ry="2.97" fill="#a080ff"/>
<ellipse cx="441.35" cy="566.11" rx="3.19" ry="3.19" fill="#6a4cff"/>
<ellipse cx="316.28" cy="551.86" rx="4.11" ry="2.74" fill="#2233ff" transform="rotate(80 316.28 551.86)"/>
</g>
</g>
<clipPath id="ic31"><rect x="447.3" y="417.5" width="129.6" height="158.2"/></clipPath>
<rect x="447.3" y="417.5" width="129.6" height="158.2" fill="#000"/>
<g clip-path="url(#ic31)">
<g filter="url(#bl4)">
<path d="M517.65 463.55C516.76 463.21 515.2 463.25 514.91 462.71C514.62 462.18 515.73 461.09 515.92 460.36C516.11 459.62 515.68 458.94 516.04 458.31C516.41 457.67 517.27 456.72 518.09 456.54C518.92 456.35 520.29 456.75 520.97 457.19C521.65 457.62 521.74 458.52 522.18 459.15C522.62 459.78 523.17 460.04 523.61 460.97C524.04 461.91 525.34 464.12 524.78 464.75C524.23 465.37 521.46 464.92 520.27 464.72C519.08 464.52 518.55 463.88 517.65 463.55Z" fill="#1a5a1e" opacity="0.6"/>
</g>
<g filter="url(#bl3)">
<ellipse cx="491.62" cy="424.88" rx="1.98" ry="1.53" fill="#bc1e0b" transform="rotate(-30 491.62 424.88)" opacity="0.88"/>
<ellipse cx="488.77" cy="435.91" rx="2.14" ry="1.83" fill="#bc1e0b" transform="rotate(30 488.77 435.91)" opacity="0.88"/>
<path d="M469.72 440.9C470.33 440.87 471.12 441.61 471.6 442.11C472.09 442.6 472.57 443.22 472.64 443.86C472.7 444.5 472.46 445.49 471.99 445.95C471.52 446.4 470.51 446.62 469.8 446.61C469.08 446.61 468.07 446.34 467.69 445.89C467.32 445.44 467.52 444.53 467.56 443.92C467.61 443.31 467.61 442.75 467.97 442.25C468.33 441.74 469.11 440.92 469.72 440.9Z" fill="#84140a" opacity="0.85"/>
<ellipse cx="469.76" cy="443.89" rx="1.37" ry="1.37" fill="#bc1e0b" opacity="0.88"/>
<path d="M459.59 446.02C460.08 445.92 460.86 445.64 461.29 445.89C461.71 446.15 462.16 447.04 462.13 447.55C462.1 448.06 461.49 448.54 461.1 448.95C460.72 449.36 460.33 449.9 459.82 450C459.31 450.1 458.45 449.92 458.02 449.56C457.59 449.2 457.18 448.35 457.23 447.84C457.29 447.33 457.96 446.81 458.35 446.51C458.74 446.2 459.1 446.12 459.59 446.02Z" fill="#bc1e0b" opacity="0.88"/>
<path d="M485.48 447.15C485.23 447.92 484.56 448.62 484.07 449.29C483.58 449.95 483.1 450.77 482.52 451.14C481.93 451.51 480.82 451.87 480.56 451.5C480.29 451.13 480.75 449.78 480.91 448.9C481.07 448.02 481.08 446.89 481.53 446.22C481.98 445.56 482.97 445.15 483.64 444.89C484.31 444.63 485.25 444.3 485.55 444.67C485.86 445.05 485.73 446.38 485.48 447.15Z" fill="#bc1e0b" opacity="0.88"/>
<path d="M456.31 458.54C457.08 458.64 458.53 458.67 458.93 459.16C459.33 459.65 459.04 460.86 458.7 461.48C458.37 462.1 457.56 462.69 456.9 462.89C456.23 463.09 455.37 462.85 454.71 462.65C454.06 462.45 453.47 462.2 452.99 461.69C452.5 461.19 451.59 460.13 451.8 459.62C452.02 459.11 453.52 458.79 454.27 458.61C455.03 458.43 455.53 458.45 456.31 458.54Z" fill="#bc1e0b" opacity="0.88"/>
<path d="M554.3 424.5C554.44 424.04 554.64 423.42 555.03 423.23C555.43 423.03 556.12 423.24 556.66 423.34C557.2 423.44 557.95 423.47 558.26 423.8C558.57 424.14 558.64 424.83 558.54 425.34C558.44 425.84 558.15 426.5 557.66 426.82C557.17 427.15 556.17 427.42 555.6 427.28C555.03 427.13 554.44 426.43 554.23 425.97C554.01 425.5 554.17 424.96 554.3 424.5Z" fill="#38b03c" opacity="0.85"/>
<path d="M551.65 437.81C551.33 437.35 551.33 436.76 551.3 436.14C551.27 435.52 551.09 434.42 551.47 434.07C551.84 433.73 552.99 433.93 553.55 434.09C554.11 434.25 554.42 434.63 554.84 435.03C555.26 435.43 556.12 436.03 556.08 436.48C556.04 436.92 555.09 437.28 554.61 437.69C554.13 438.09 553.71 438.87 553.21 438.89C552.72 438.91 551.96 438.27 551.65 437.81Z" fill="#1f6a22" opacity="0.62"/>
<path d="M538.65 445.49C538.36 446.39 537.17 447.49 536.27 447.79C535.38 448.09 534 447.72 533.25 447.27C532.5 446.82 532.1 445.9 531.77 445.12C531.44 444.34 531.04 443.36 531.26 442.59C531.48 441.82 532.23 441.06 533.09 440.48C533.95 439.91 535.62 438.82 536.44 439.14C537.27 439.46 537.65 441.33 538.01 442.39C538.38 443.45 538.94 444.59 538.65 445.49Z" fill="#1f6a22" opacity="0.62"/>
<path d="M523.72 450.55C522.82 450.61 520.93 451.52 520.53 451.1C520.14 450.68 521.29 449.13 521.33 448.03C521.37 446.93 520.32 444.86 520.79 444.49C521.26 444.12 523.29 445.48 524.15 445.82C525.02 446.17 525.53 446.09 526 446.54C526.46 446.99 526.93 447.84 526.93 448.54C526.92 449.23 526.51 450.39 525.98 450.72C525.45 451.06 524.63 450.49 523.72 450.55Z" fill="#1f6a22" opacity="0.62"/>
<path d="M545.8 446.3C546.55 445.61 547.09 445.71 547.8 445.17C548.51 444.63 549.65 442.89 550.06 443.06C550.47 443.23 550.02 445.42 550.27 446.17C550.53 446.92 551.53 446.9 551.57 447.55C551.61 448.19 550.96 449.3 550.5 450.05C550.05 450.8 549.47 451.58 548.83 452.05C548.2 452.51 547.13 453.1 546.68 452.83C546.24 452.56 546.75 451.01 546.18 450.43C545.61 449.85 543.33 450.04 543.27 449.35C543.2 448.66 545.05 447 545.8 446.3Z" fill="#1f6a22" opacity="0.62"/>
</g>
<g filter="url(#bl0)">
<ellipse cx="555.87" cy="424.88" rx="1.09" ry="1.09" fill="#30d0f0"/>
<ellipse cx="552.82" cy="436.29" rx="1.09" ry="1.09" fill="#2233ff"/>
<ellipse cx="554.72" cy="437.05" rx="0.87" ry="0.87" fill="#30d0f0"/>
<ellipse cx="533.82" cy="443.13" rx="1.31" ry="1.31" fill="#2233ff"/>
<ellipse cx="524.31" cy="448.64" rx="1.31" ry="1.31" fill="#2233ff"/>
<ellipse cx="548.83" cy="447.88" rx="1.31" ry="1.31" fill="#2233ff"/>
<ellipse cx="519.75" cy="460.62" rx="1.53" ry="1.53" fill="#2233ff"/>
</g>
<g filter="url(#bl5)">
<path d="M495.62 515.61C496.83 516.21 498 517.89 498.37 519.16C498.75 520.44 498.16 521.88 497.87 523.27C497.59 524.66 497.62 526.69 496.67 527.5C495.71 528.31 493.48 528.29 492.12 528.14C490.77 527.98 490.42 526.94 488.55 526.59C486.68 526.25 481.61 527.12 480.91 526.04C480.21 524.96 484.2 522.7 484.33 520.13C484.45 517.57 480.54 511.41 481.68 510.64C482.81 509.87 488.79 514.7 491.12 515.53C493.44 516.36 494.41 515 495.62 515.61Z" fill="#7a3a14" opacity="0.6"/>
<path d="M454.9 554.38C455.7 552.56 454.32 550.77 455.37 549.2C456.42 547.63 459.11 545.11 461.19 544.96C463.28 544.81 465.92 547.16 467.86 548.32C469.8 549.48 472.47 550.51 472.83 551.93C473.19 553.35 470.54 555.2 470.03 556.85C469.51 558.49 470.74 560.59 469.72 561.79C468.71 563 465.99 563.83 463.93 564.08C461.88 564.33 459.63 563.93 457.4 563.27C455.18 562.62 450.99 561.62 450.57 560.14C450.16 558.66 454.1 556.21 454.9 554.38Z" fill="#7a3a14" opacity="0.6"/>
</g>
<g filter="url(#bl2)">
<path d="M532.64 486.69C532.17 486.38 532.65 485.03 532.56 484.31C532.47 483.58 531.87 482.93 532.09 482.35C532.31 481.77 533.2 481.34 533.89 480.81C534.58 480.29 535.38 479.35 536.23 479.21C537.08 479.06 538.53 479.41 538.97 479.97C539.42 480.53 538.73 481.75 538.9 482.54C539.06 483.33 540.1 483.97 539.97 484.7C539.85 485.42 538.9 486.63 538.13 486.88C537.37 487.13 536.3 486.23 535.38 486.2C534.47 486.16 533.11 487.01 532.64 486.69Z" fill="#e09a30" opacity="0.9"/>
<path d="M538.27 483.6C538.08 484.17 537.62 484.74 537.11 485.08C536.6 485.42 535.77 485.7 535.23 485.64C534.68 485.58 534.19 485.12 533.82 484.72C533.45 484.32 532.98 483.78 533.03 483.24C533.07 482.71 533.54 481.99 534.1 481.51C534.66 481.03 535.71 480.32 536.4 480.35C537.1 480.38 537.96 481.14 538.27 481.68C538.59 482.23 538.47 483.04 538.27 483.6Z" fill="#f0e080" opacity="0.95"/>
<path d="M534.56 509.49C534.26 510.15 532.62 510.23 531.75 510.57C530.88 510.9 530.23 511.46 529.35 511.49C528.47 511.52 526.91 511.39 526.46 510.77C526 510.14 526.51 508.58 526.62 507.74C526.73 506.9 526.87 506.45 527.11 505.72C527.35 504.99 527.45 503.91 528.05 503.37C528.66 502.83 529.82 502.47 530.74 502.5C531.67 502.53 533.14 502.89 533.61 503.57C534.07 504.26 533.4 505.63 533.56 506.61C533.72 507.6 534.86 508.83 534.56 509.49Z" fill="#d8d040" opacity="0.85"/>
<path d="M533.68 504.98C535.31 504.81 537.75 504.38 538.6 504.36C539.44 504.34 538.74 504.63 538.76 504.84C538.79 505.04 540.12 505.2 538.73 505.58C537.34 505.96 533.14 506.62 530.41 507.11C527.68 507.6 523.67 508.4 522.33 508.51C520.99 508.62 522.82 507.88 522.37 507.76C521.93 507.63 519.82 507.92 519.66 507.77C519.5 507.61 519.87 507.23 521.41 506.83C522.94 506.43 526.82 505.68 528.87 505.37C530.91 505.07 532.06 505.15 533.68 504.98Z" fill="#1f6a22" opacity="0.62"/>
<path d="M530.52 506.14C530.22 508.16 529.75 512 529.43 513.25C529.11 514.5 528.83 513.53 528.6 513.64C528.37 513.75 528.16 514.22 528.05 513.9C527.94 513.58 527.9 512.95 527.92 511.7C527.95 510.45 527.86 508.64 528.19 506.4C528.51 504.16 529.49 499.26 529.87 498.25C530.24 497.24 530.22 500.34 530.46 500.34C530.69 500.35 531.15 498.16 531.28 498.28C531.41 498.41 531.36 499.8 531.24 501.11C531.11 502.42 530.82 504.11 530.52 506.14Z" fill="#1f6a22" opacity="0.62"/>
<path d="M532.04 509.73C531.62 509.86 531.03 509.65 530.55 509.42C530.06 509.2 529.28 508.83 529.14 508.37C529 507.91 529.39 507.12 529.7 506.67C530.01 506.21 530.53 505.72 531 505.64C531.46 505.55 532.11 505.87 532.49 506.15C532.88 506.42 533.2 506.89 533.29 507.31C533.38 507.73 533.25 508.25 533.04 508.65C532.83 509.06 532.45 509.6 532.04 509.73Z" fill="#38b03c" opacity="0.85"/>
<path d="M494.97 524.32C493.86 525.1 493.74 526.68 492.83 526.94C491.92 527.2 490.4 526.42 489.5 525.88C488.6 525.34 488.76 524.61 487.44 523.7C486.11 522.79 481.56 521.39 481.55 520.4C481.54 519.41 486.09 519.48 487.35 517.78C488.62 516.08 487.96 510.59 489.15 510.2C490.34 509.8 493.16 514.04 494.5 515.41C495.83 516.79 496.33 517.32 497.16 518.46C497.98 519.6 499.82 521.28 499.45 522.26C499.08 523.23 496.07 523.54 494.97 524.32Z" fill="#1f6a22" opacity="0.62"/>
<path d="M491.99 518.5C492.7 518.76 493.07 520.16 493.46 521.02C493.84 521.87 494.45 522.75 494.3 523.62C494.15 524.5 493.37 525.92 492.58 526.26C491.79 526.6 490.46 526.03 489.56 525.67C488.66 525.31 487.74 524.92 487.17 524.12C486.6 523.32 485.8 521.64 486.14 520.86C486.48 520.08 488.24 519.84 489.21 519.45C490.19 519.05 491.28 518.24 491.99 518.5Z" fill="#9a5a18" opacity="0.75"/>
<ellipse cx="496.94" cy="521.82" rx="1.71" ry="1.71" fill="#38b03c" opacity="0.85"/>
<path d="M469.09 533.03C468.69 531.75 468.8 530.7 468.78 529.47C468.76 528.25 468.42 526.6 468.97 525.69C469.51 524.78 471.03 524.21 472.07 524C473.11 523.8 473.81 524.4 475.21 524.45C476.62 524.5 479.91 523.44 480.51 524.32C481.1 525.21 479.08 528.14 478.8 529.77C478.52 531.4 479.23 532.42 478.81 534.1C478.39 535.78 477.56 539.37 476.29 539.88C475.01 540.38 472.36 538.27 471.16 537.13C469.96 535.99 469.48 534.3 469.09 533.03Z" fill="#9a5a18" opacity="0.75"/>
<path d="M469.63 534.4C469.08 533.8 470.3 531.33 470.09 530.11C469.88 528.88 468.35 528.08 468.38 527.03C468.41 525.98 469.36 524.63 470.26 523.81C471.16 523 472.71 521.97 473.79 522.12C474.88 522.26 475.91 523.8 476.77 524.68C477.63 525.56 478.57 526.31 478.97 527.4C479.36 528.49 479.25 529.71 479.13 531.21C479 532.71 479.16 535.99 478.2 536.4C477.25 536.81 474.83 534.03 473.41 533.7C471.98 533.36 470.19 535 469.63 534.4Z" fill="#1f6a22" opacity="0.62"/>
<path d="M471.62 533.38C471.09 533.13 470.63 532.41 470.45 531.86C470.27 531.31 470.38 530.76 470.53 530.1C470.68 529.45 470.81 528.22 471.33 527.93C471.86 527.64 473.03 528.04 473.66 528.36C474.29 528.69 474.77 529.25 475.11 529.89C475.45 530.53 475.94 531.61 475.69 532.2C475.45 532.78 474.32 533.2 473.65 533.4C472.97 533.59 472.15 533.64 471.62 533.38Z" fill="#e09a30" opacity="0.9"/>
<path d="M518.66 536.61C517.2 537.01 516.33 538.05 515.24 538.2C514.14 538.36 512.39 538.49 512.09 537.54C511.78 536.59 512.77 534.13 513.42 532.49C514.07 530.86 514.9 529.33 515.99 527.72C517.07 526.12 518.83 523.37 519.92 522.87C521.02 522.37 521.68 524.33 522.55 524.75C523.42 525.17 524.08 524.8 525.15 525.4C526.22 525.99 529.16 526.58 528.97 528.32C528.78 530.06 525.73 534.44 524.01 535.82C522.29 537.2 520.12 536.22 518.66 536.61Z" fill="#9a5a18" opacity="0.75"/>
<path d="M521.05 532.26C520.48 532.68 520.08 532.41 519.36 532.66C518.63 532.91 517.13 534.04 516.71 533.75C516.28 533.46 516.38 531.85 516.83 530.89C517.27 529.93 518.66 529.02 519.38 527.99C520.1 526.96 520.54 525.19 521.13 524.72C521.72 524.25 522.48 524.96 522.92 525.19C523.37 525.42 523.59 525.7 523.81 526.11C524.04 526.52 524.45 526.99 524.28 527.66C524.1 528.32 523.31 529.33 522.77 530.1C522.23 530.86 521.62 531.83 521.05 532.26Z" fill="#e09a30" opacity="0.9"/>
<path d="M517.62 533.91C518.13 534.42 517.75 535.88 517.7 536.9C517.65 537.92 517.91 539.37 517.31 540.01C516.72 540.66 515.47 540.56 514.11 540.75C512.76 540.94 510.08 541.92 509.17 541.16C508.26 540.4 508.12 537.39 508.63 536.21C509.13 535.02 511.18 534.43 512.19 534.04C513.19 533.64 513.74 533.84 514.64 533.82C515.55 533.8 517.11 533.4 517.62 533.91Z" fill="#1f6a22" opacity="0.62"/>
<path d="M526.52 525.53C525.97 525.88 525.49 525.66 524.99 525.63C524.5 525.61 523.84 525.79 523.56 525.37C523.27 524.96 523.05 523.99 523.27 523.15C523.49 522.31 524.14 521.17 524.89 520.33C525.64 519.49 527.24 517.92 527.76 518.1C528.27 518.29 527.87 520.54 527.96 521.45C528.06 522.35 528.55 522.85 528.31 523.53C528.07 524.21 527.07 525.18 526.52 525.53Z" fill="#38b03c" opacity="0.85"/>
<path d="M462.35 560.19C460.94 560.06 459.2 560.16 458.15 559.53C457.1 558.89 456.22 557.44 456.06 556.37C455.91 555.3 456.84 554.4 457.23 553.08C457.62 551.77 457.26 549.16 458.41 548.48C459.55 547.81 462.71 548.38 464.07 549.02C465.43 549.66 465.62 551.44 466.56 552.32C467.5 553.19 469.32 553.4 469.71 554.25C470.09 555.11 469.38 556.42 468.86 557.43C468.34 558.44 467.67 559.84 466.59 560.3C465.5 560.76 463.76 560.32 462.35 560.19Z" fill="#9a5a18" opacity="0.75"/>
</g>
<g filter="url(#bl2)">
<ellipse cx="491.62" cy="521.44" rx="3.08" ry="2.91" fill="#6aa040" opacity="0.5"/>
<ellipse cx="473.56" cy="529.05" rx="2.57" ry="2.74" fill="#6aa040" opacity="0.5"/>
<ellipse cx="514.43" cy="536.65" rx="1.88" ry="1.88" fill="#6aa040" opacity="0.5"/>
</g>
<g filter="url(#bl1)">
<ellipse cx="534.39" cy="483.81" rx="2.28" ry="2.28" fill="#ff9af0"/>
<ellipse cx="528.11" cy="506.81" rx="2.28" ry="2.28" fill="#ff9af0"/>
<ellipse cx="491.62" cy="519.54" rx="2.51" ry="2.51" fill="#a080ff"/>
<ellipse cx="472.99" cy="530.38" rx="2.74" ry="2.74" fill="#e050f0"/>
<ellipse cx="521.65" cy="529.43" rx="2.74" ry="2.74" fill="#ff9af0"/>
<ellipse cx="463.49" cy="554.14" rx="3.19" ry="3.19" fill="#e050f0"/>
</g>
</g>
<line x1="51.2" y1="313.9" x2="181.3" y2="313.9" stroke="#e8e8e8" stroke-width="1.25" stroke-dasharray="6 2.8"/>
<line x1="116" y1="263.8" x2="116" y2="313.9" stroke="#f0f0f0" stroke-width="1.3" stroke-dasharray="6 2.8"/>
<line x1="183.8" y1="313.9" x2="313.1" y2="313.9" stroke="#e8e8e8" stroke-width="1.25" stroke-dasharray="6 2.8"/>
<line x1="247.4" y1="263.8" x2="247.4" y2="313.9" stroke="#f0f0f0" stroke-width="1.3" stroke-dasharray="6 2.8"/>
<line x1="315.4" y1="313.9" x2="444.9" y2="313.9" stroke="#e8e8e8" stroke-width="1.25" stroke-dasharray="6 2.8"/>
<line x1="379.4" y1="263.8" x2="379.4" y2="313.9" stroke="#f0f0f0" stroke-width="1.3" stroke-dasharray="6 2.8"/>
<line x1="447.3" y1="313.9" x2="576.9" y2="313.9" stroke="#e8e8e8" stroke-width="1.25" stroke-dasharray="6 2.8"/>
<line x1="511.4" y1="263.8" x2="511.4" y2="313.9" stroke="#f0f0f0" stroke-width="1.3" stroke-dasharray="6 2.8"/>
<line x1="51.2" y1="471.6" x2="181.3" y2="471.6" stroke="#e8e8e8" stroke-width="1.25" stroke-dasharray="6 2.8"/>
<line x1="116" y1="420" x2="116" y2="471.6" stroke="#f0f0f0" stroke-width="1.3" stroke-dasharray="6 2.8"/>
<line x1="183.8" y1="471.6" x2="313.1" y2="471.6" stroke="#e8e8e8" stroke-width="1.25" stroke-dasharray="6 2.8"/>
<line x1="247.6" y1="420" x2="247.6" y2="471.6" stroke="#f0f0f0" stroke-width="1.3" stroke-dasharray="6 2.8"/>
<line x1="315.4" y1="471.6" x2="444.9" y2="471.6" stroke="#e8e8e8" stroke-width="1.25" stroke-dasharray="6 2.8"/>
<line x1="380.8" y1="420" x2="380.8" y2="471.6" stroke="#f0f0f0" stroke-width="1.3" stroke-dasharray="6 2.8"/>
<line x1="447.3" y1="471.6" x2="576.9" y2="471.6" stroke="#e8e8e8" stroke-width="1.25" stroke-dasharray="6 2.8"/>
<line x1="512.4" y1="420" x2="512.4" y2="471.6" stroke="#f0f0f0" stroke-width="1.3" stroke-dasharray="6 2.8"/>
<line x1="51.2" y1="417.9" x2="181.3" y2="417.9" stroke="#e0e0e0" stroke-width="1.5" stroke-dasharray="6.5 2.8"/>
<line x1="183.8" y1="417.9" x2="313.1" y2="417.9" stroke="#e0e0e0" stroke-width="1.5" stroke-dasharray="6.5 2.8"/>
<line x1="315.4" y1="417.9" x2="444.9" y2="417.9" stroke="#e0e0e0" stroke-width="1.5" stroke-dasharray="6.5 2.8"/>
<line x1="447.3" y1="417.9" x2="576.9" y2="417.9" stroke="#e0e0e0" stroke-width="1.5" stroke-dasharray="6.5 2.8"/>
<line x1="129.5" y1="407.2" x2="171.2" y2="407.2" stroke="#fff" stroke-width="0.9"/>
<text x="129.8" y="401.6" font-size="12" font-weight="bold" fill="#fff" textLength="43.8" lengthAdjust="spacingAndGlyphs">0.4 mm</text>
<line x1="129.5" y1="561.4" x2="171.2" y2="561.4" stroke="#fff" stroke-width="0.9"/>
<text x="129.8" y="555.8" font-size="12" font-weight="bold" fill="#fff" textLength="43.8" lengthAdjust="spacingAndGlyphs">0.4 mm</text>
<text x="43.4" y="404.6" font-size="15.2" font-weight="bold" transform="rotate(-90 43.4 404.6)" textLength="132.3" lengthAdjust="spacingAndGlyphs"><tspan fill="#c00000">iNOS</tspan><tspan fill="#000"> / </tspan><tspan fill="#00b050">F4/80</tspan><tspan fill="#000"> / </tspan><tspan fill="#0000ff">DAPI</tspan></text>
<text x="43.4" y="563.8" font-size="15.2" font-weight="bold" transform="rotate(-90 43.4 563.8)" textLength="135" lengthAdjust="spacingAndGlyphs"><tspan fill="#c00000">Arg-1</tspan><tspan fill="#000"> / </tspan><tspan fill="#00b050">F4/80</tspan><tspan fill="#000"> / </tspan><tspan fill="#0000ff">DAPI</tspan></text>
</g>
<g id="flow">
<g><defs><filter id="fb" x="-10%" y="-10%" width="120%" height="120%"><feGaussianBlur stdDeviation="0.45"/></filter></defs>
<path d="M34.1 588V729H587" fill="none" stroke="#000" stroke-width="1.6"/>
<path d="M34.1 577.8L39.6 588.8H28.6Z" fill="#000"/>
<path d="M597.8 729L586.6 723.5V734.5Z" fill="#000"/>
<path d="M34.1 748V852" fill="none" stroke="#000" stroke-width="1.6"/>
<path d="M34.1 737.9L39.6 748.9H28.6Z" fill="#000"/>
<rect x="8.4" y="637.3" width="21.6" height="50.4" fill="#dae3f3"/>
<text x="24.4" y="662.8" font-size="15" font-weight="bold" text-anchor="middle" transform="rotate(-90 24.4 662.8)" textLength="38" lengthAdjust="spacingAndGlyphs">CD86</text>
<rect x="8.4" y="792" width="21.6" height="50.6" fill="#dae3f3"/>
<text x="24.4" y="817.6" font-size="15" font-weight="bold" text-anchor="middle" transform="rotate(-90 24.4 817.6)" textLength="44.6" lengthAdjust="spacingAndGlyphs">CD206</text>
<rect x="532" y="732.1" width="51.2" height="21.4" fill="#dae3f3"/>
<text x="535.5" y="747.8" font-size="15" font-weight="bold" textLength="46" lengthAdjust="spacingAndGlyphs">CD11b</text>
<clipPath id="fc00"><rect x="57.65" y="603.4" width="113.5" height="113.6"/></clipPath>
<g clip-path="url(#fc00)">
<path d="M95 714.8h.8M93.2 705.5h.8M78.3 728.4h.8M96.5 689.7h.8M110.3 666.3h.8M95.5 686.8h.8M102.3 706.2h.8M59.9 704.3h.8M79.9 694.7h.8M127.7 663.5h.8M86.6 701.2h.8M91.6 709.5h.8M111.1 683.3h.8M106.7 696.2h.8M101.6 687.6h.8M112.4 699.9h.8M99.1 693.3h.8M82.6 688.3h.8M92.3 717.5h.8M97.2 693.9h.8M103.8 673.8h.8M96.5 710.2h.8M94.3 697.4h.8M86.4 701.1h.8M98.6 690h.8M93.7 718.8h.8M74.5 722.8h.8M97.2 690.7h.8M71.7 738.4h.8M90.3 691.1h.8M110.2 676.5h.8M64 715.3h.8M91.2 711.9h.8M68.1 712h.8M105.9 693.3h.8M99.2 696h.8M79.5 685.3h.8M104.9 675.3h.8M116.4 704.9h.8M72.1 751h.8M67.1 691.6h.8M98.7 685.9h.8M81.9 721.7h.8M91.9 732.5h.8M83.5 725.4h.8M71.2 695.8h.8M116.1 701.9h.8M82.7 705.2h.8M90.6 729.7h.8M101.2 676h.8M62.2 695.7h.8M93.5 686.8h.8M104.1 705.9h.8M65.5 713.5h.8M95.5 709h.8M88.7 687h.8M102.3 704h.8M58.5 734.5h.8M92.4 701.1h.8M72.7 703.2h.8M107.6 681.3h.8M95.5 686.9h.8M75.7 727.8h.8M100.2 693.2h.8M91.5 684.6h.8M85.4 723.9h.8M82.1 695.6h.8M106 678.2h.8M80.9 701.4h.8M58.4 706.8h.8M111 698.4h.8M79.5 682.6h.8M92.7 724.1h.8M99.2 682.1h.8M59.4 714h.8M101.6 744.5h.8M70 702.7h.8M102.2 702.4h.8M76.4 710.3h.8M97.5 693.7h.8M73.8 726.2h.8M93.3 712.9h.8M105.5 686.8h.8M79.3 703.2h.8M87.2 717.9h.8M96.2 718h.8M88.4 726.9h.8M79.2 688.9h.8M106.5 700.6h.8M61 710.5h.8M84.3 687.1h.8M106.5 677.7h.8M102.2 700.6h.8M95.9 702.1h.8M100.3 687.6h.8M88.4 694.4h.8M90.2 726.6h.8M94.2 694.2h.8M80.8 694.7h.8M97.3 698.1h.8M88.2 719.1h.8M93.9 692.6h.8M90.5 683.3h.8M57.4 746.9h.8M76.4 714.9h.8M91.6 699.9h.8M83.9 720.8h.8M67.8 736.2h.8M69.3 691h.8M97.6 694.1h.8" fill="none" stroke="#6a7cff" stroke-width="0.8" opacity="0.6"/>
<path d="M88.6 693.4h.8M111 694.6h.8M116 695.3h.8M84.8 697.2h.8M92.7 694.3h.8M95.8 699.4h.8M99.2 691.2h.8M108.5 695.4h.8M87.2 692.2h.8M106 707.2h.8M94.1 693.6h.8M111 694.5h.8M93.7 696.4h.8M95.6 684.9h.8M101.5 676h.8M93.5 688.9h.8M86.5 689.3h.8M107 674.2h.8M94.8 678.9h.8M102.1 693.3h.8M97.8 689.9h.8M101.8 704.3h.8M110 677h.8M106.8 714.8h.8M105.6 687.6h.8M104.9 694.6h.8M87.4 694.2h.8M91 693.3h.8M100.1 687.4h.8M93.8 675.7h.8M114.9 700h.8M105.5 671.2h.8M92.2 670.9h.8M109.1 701.6h.8M92.3 686.1h.8M97.5 684.1h.8M84.6 694.1h.8M95.1 696.4h.8M115.2 668.7h.8M108.8 680.1h.8M92.4 689.3h.8M91.2 698.2h.8M106.7 705.3h.8M101.9 683.6h.8M95.3 688h.8M99.8 673.6h.8M95.1 696.5h.8M98.8 695.3h.8M101.4 686.8h.8M97.8 695h.8M78.7 703.4h.8M88.8 688.5h.8M110 679.2h.8M90.3 694.1h.8M102.3 688.9h.8M103 681.2h.8M92.2 683.6h.8M95.5 688.4h.8M114.8 678.4h.8M98.1 684.6h.8M110.6 674.9h.8M89.4 688.9h.8M102.9 688.5h.8M106.7 688.4h.8M110 689.5h.8M102.4 706.2h.8M90.4 677.9h.8M101.4 683.7h.8M111.9 684.2h.8M98.5 693.6h.8M83.5 695.6h.8M102.9 671.8h.8M101.3 698.5h.8M108.4 690.6h.8M111 690.6h.8M92.6 701.6h.8M95.7 690.2h.8M98.9 692.8h.8M96.1 704.7h.8M105.7 681.8h.8M95.9 671.9h.8M105 684.8h.8M93.9 686.8h.8M105.8 690.2h.8M98.1 696.5h.8M100.2 698.4h.8M77.5 702.7h.8M114.3 673.1h.8M89 693.5h.8M104.2 697.9h.8M87 697.9h.8M99.6 683.8h.8M92.1 673.2h.8M103.6 696.8h.8M116.6 677.2h.8M103.5 682.2h.8M102.4 703.5h.8M104 685.7h.8M104.4 685.9h.8M99.9 703.2h.8M101.8 695.7h.8M82.2 693.3h.8M89.9 670.6h.8M107.8 689.8h.8M91.1 684.4h.8M119.7 665.7h.8M89.2 687.8h.8M89.1 684.7h.8M98.3 688.1h.8M106.3 678.4h.8M102.9 687.5h.8M95.9 698.8h.8M105.9 687.6h.8M99.6 684h.8M97.4 674.7h.8M93 686.7h.8M91.6 681.3h.8M107.5 671.7h.8M101.7 676.9h.8M94.1 674.4h.8M107.3 690h.8M101.5 677.8h.8M110.7 688.4h.8M99.2 700h.8M101 695.2h.8M81.5 692.2h.8M107.7 706.2h.8M99 675.2h.8M113.5 708.4h.8M109.4 692.6h.8M92.8 697.1h.8M99.1 683.9h.8M117.4 693.5h.8M90.6 687.8h.8M92.5 697.3h.8M104.2 690.1h.8M91.2 687.2h.8M93.3 693h.8M106.4 697.3h.8M85.8 688.4h.8M75.7 672.8h.8M98.1 679.3h.8M75.8 696.5h.8M84.4 703.6h.8M92.3 694.4h.8M96.7 687.2h.8M98 678.3h.8M104.8 674.4h.8M96.4 692.2h.8M106.3 670.5h.8M90.5 703.5h.8M97.3 714.4h.8M104.3 682.7h.8M97.9 687.9h.8M103.1 675.9h.8M112.2 700.4h.8M112.8 707.7h.8M91.8 688.5h.8M105.9 686.2h.8M112.7 705.1h.8M104.8 691.1h.8M102.4 683h.8M107.3 677.5h.8M87.1 696.8h.8M98.6 687h.8M95.7 681.5h.8M99 704h.8M107.8 695.2h.8M112.3 706.5h.8M90 694.9h.8M95.2 693.1h.8M104.2 682.8h.8M101.9 696.7h.8M92.8 676.7h.8M80.6 700.3h.8M83.5 692.6h.8M87.3 677.8h.8M99 697.1h.8M96.5 684.4h.8M91.9 703.6h.8M100.1 690.4h.8M90.7 681.6h.8M88.6 705.1h.8M102.4 674.3h.8M109 704.3h.8M93.4 698.2h.8M107.3 688.7h.8M92 695.2h.8M109.8 679.4h.8M107.8 688.3h.8M103.2 678.7h.8M92.5 676.3h.8M95.1 675.2h.8M107.1 683.8h.8M92.7 691.1h.8M119.3 665.6h.8M95.1 684.3h.8M79.8 701.8h.8M113.5 681.2h.8M93.3 684.3h.8M108.6 686.9h.8M77.6 693.2h.8M103.1 690.3h.8M103.1 686.8h.8M106.1 701.3h.8M100.6 683.3h.8M96.1 691.6h.8M90.4 677.1h.8M95.3 688.1h.8M106 682h.8M99 683.4h.8M105.4 673.3h.8M94.8 686.1h.8M102.6 681.9h.8M92.2 689.5h.8M96.1 689.1h.8M100.2 683.6h.8M97.4 697.4h.8M97.4 691.4h.8M100.5 670.3h.8M99.7 676h.8M91.3 681.8h.8M100.8 683h.8M100.4 700.3h.8M93.8 693.3h.8M98.5 700.2h.8M96.3 684.6h.8M100.8 682h.8M95.2 683.8h.8M111.5 685.8h.8M90.5 693.6h.8M111.3 684.8h.8M99.4 694.3h.8M77.5 700.2h.8M104.4 672.7h.8M91.4 693.2h.8M104.9 684.3h.8M101.5 681.7h.8M105.4 683.9h.8M105.5 697.9h.8M85.9 684.1h.8M77.6 687h.8M99.3 675.3h.8M89.4 692.5h.8M114.2 677.5h.8M88 693.3h.8M98.1 690.6h.8M94.1 687.5h.8M109.9 690.5h.8M105.1 683.2h.8M104.5 684.7h.8M99.5 691.8h.8M96.6 688.9h.8M99.4 704h.8M90.8 693h.8M106.5 687.9h.8M97.4 691.5h.8M88.6 709.7h.8M91.1 688.5h.8M120.7 675.4h.8M99.5 683.7h.8M103.2 682.4h.8M88.3 692.4h.8M98.9 686.1h.8M97.4 706.2h.8M96.2 694.4h.8M105.3 689.6h.8M96.8 690.1h.8M93.1 688h.8M95.7 685.8h.8M106.5 687.6h.8M84.1 667h.8M93.5 682.1h.8M108 692.6h.8M89.9 693.5h.8M99.1 670.4h.8M102.5 692.3h.8M95.6 679.9h.8M99.9 697.3h.8M90.8 676.5h.8" fill="none" stroke="#2a3cff" stroke-width="0.8" opacity="0.75"/>
<path d="M96.5 679h.8M106.3 683.7h.8M104.3 680.6h.8M98.8 683.2h.8M92.2 686.7h.8M93.6 690h.8M107.2 685.1h.8M100.4 686.5h.8M101.5 689.8h.8M103.4 695h.8M85.4 680.9h.8M100.4 680.8h.8M103.5 667.6h.8M100.9 684.8h.8M103.6 691h.8M105 686.5h.8M95.5 688.6h.8M97.7 699.7h.8M101.9 700.5h.8M96.3 686.8h.8M93 685.5h.8M96 685.1h.8M97.9 695.4h.8M85 704.5h.8M91.9 681.6h.8M108 672.9h.8M111.5 688.3h.8M104 685.9h.8M105.7 680.6h.8M97.1 695.5h.8M104.8 692.5h.8M102.4 685.4h.8M97.4 673.9h.8M100.2 684.5h.8M109.9 685.9h.8M96.6 678.6h.8M107.3 708.1h.8M107.5 688.6h.8M102.3 683.3h.8M95.8 687h.8M95.8 694.8h.8M100.5 690.2h.8M105 678.2h.8M107.5 677.9h.8M103 692.1h.8M87.5 692.1h.8M83.7 696.3h.8M99.4 684.2h.8M96.2 687.2h.8M104.7 681.4h.8M95.7 685.8h.8M86.9 698.3h.8M96.9 686.8h.8M100.2 680.4h.8M100.3 678.4h.8M111.6 679.6h.8M92.9 691.3h.8M114.6 680h.8M91.9 688.4h.8M110.7 701.4h.8M108.1 683.4h.8M100.7 697.1h.8M98 696.2h.8M104.6 687.5h.8M104 689.4h.8M94.7 693.3h.8M103.6 690.9h.8M116.7 681.7h.8M100.1 677.4h.8M105.5 678h.8M106.2 682.5h.8M97.3 692h.8M100.4 689.1h.8M97.1 693.8h.8M107.5 689h.8M103.8 700.6h.8M105 691.3h.8M103.2 690h.8M99.5 681h.8M99.9 698h.8M111 688.7h.8M92.4 685h.8M98 672.8h.8M97.2 690.2h.8M92.7 686.9h.8M105 700.1h.8M102.2 677.2h.8M98.5 683.8h.8M97.2 690.8h.8M105.9 681.4h.8M85.1 694.8h.8M92.9 685.7h.8M90.5 682.6h.8M102.7 684.2h.8M105 687.2h.8M110.7 698.2h.8M99.5 681.4h.8M109.2 690.4h.8M98.6 672.3h.8M107.1 693.2h.8M99.9 686.7h.8M96.5 695.3h.8M101.8 685.4h.8M99 695.3h.8M107 692.1h.8M99.5 691.8h.8M85.7 683.1h.8M93.8 678.3h.8M106.5 677.8h.8M91.1 687.4h.8M86.1 689.6h.8M109.3 681.6h.8M104.1 686.8h.8M90.7 688.3h.8M99 680.2h.8M103.9 680.9h.8M97.1 684.5h.8M104.5 673.7h.8M81.3 682.9h.8M102.1 679h.8M97.8 683.9h.8M103.4 674.7h.8M106.9 694.5h.8M102.2 686.2h.8M100.9 683h.8M109.5 692.7h.8M106.2 694.6h.8M97.8 689h.8M97.5 683.7h.8M103.4 690.7h.8M99.3 686.4h.8M108 688.7h.8M95.3 691.7h.8M95.4 694.2h.8M107 671.3h.8M96.4 681.7h.8M102.5 677.7h.8M110 691.7h.8M101.5 689.2h.8M102.6 692.7h.8M101.1 684.5h.8M112.4 684.5h.8M104.1 679.3h.8M93.2 686.5h.8M96.1 689.3h.8M92.8 683.8h.8M108.7 681.5h.8M109.4 701.8h.8M115.6 679h.8M101 676.1h.8M97.6 694.4h.8M91.1 703.8h.8M109.5 678h.8M98.7 678h.8M102.9 687.4h.8M106.3 684.2h.8M106.6 696.1h.8M96.2 683.7h.8M99.3 690.3h.8M101.9 685h.8M102.1 685.9h.8M100.1 686.7h.8M100.9 683.9h.8M101.1 689h.8M107.7 678.5h.8M84 698.7h.8M111.3 671.4h.8M98.8 680.8h.8M91.2 684.5h.8M98.2 702.8h.8M101.7 690h.8M112.8 691.4h.8M99.7 698.3h.8M107.8 686.6h.8M110.3 683.5h.8M97.4 687.2h.8M102.6 682.7h.8M103.8 691.2h.8M95 694.4h.8M102.9 684.6h.8M102.8 694.4h.8M99.7 681.2h.8M98.6 678.1h.8M107.3 686.1h.8M102.2 685.6h.8M106.6 686.1h.8M102.5 687.5h.8M90.3 692.4h.8M107.7 684.5h.8M90.5 685h.8M103.5 692.7h.8M91 689.2h.8M111.2 689.4h.8M90.5 673.8h.8M99.5 686.9h.8M102 692.6h.8M103.7 677.3h.8M83.9 695.2h.8M105.5 679.6h.8M101.9 695.1h.8M97.9 698.5h.8M99.9 689.7h.8M104.4 681.7h.8M84 683h.8M92.6 691.2h.8M97.4 692.9h.8M113.9 689.1h.8M95.1 688.9h.8M103.2 686.7h.8M106.5 690.5h.8M87.4 685.1h.8M112 683.8h.8M112.8 676.3h.8M104.2 683.8h.8M98.7 688.5h.8M107.8 681.7h.8M85.7 695.8h.8M100.2 693.1h.8M97.4 681.8h.8M97.2 687.7h.8M99.4 680.2h.8M98.9 696.1h.8M113.2 684.7h.8M93.4 684.4h.8M105.8 672.7h.8M102.5 688.2h.8M102.3 687.4h.8M103.7 696.6h.8M96.9 692.1h.8M97.1 678.9h.8M94.6 680.4h.8M89.7 671.4h.8M97.8 690.4h.8M103.2 681.7h.8M100.9 687.8h.8M97.3 686.6h.8M90.1 702.4h.8M102.5 681.4h.8M98 677.4h.8M91.9 691h.8" fill="none" stroke="#2040ff" stroke-width="0.8" opacity="0.9"/>
<g filter="url(#fb)">
<path d="M110.8 674.6L111.7 675.9L112 677.7L112 680.1L111.5 682.8L110.5 685.9L109.2 689.1L107.6 692.2L105.5 695L103.2 697.3L100.7 699L98 700L95.4 700.2L93 699.6L90.8 698.4L89.2 696.5L88.2 694.2L88 691.6L88.5 688.8L89.7 686L91.6 683.3L94 680.8L96.8 678.6L99.7 676.8L102.6 675.4L105.2 674.4L107.5 673.9L109.4 674Z" fill="#3050ff" opacity="0.35"/>
<path d="M109.6 676L110.4 677L110.7 678.5L110.7 680.5L110.2 682.9L109.5 685.4L108.4 688.1L107 690.7L105.3 693.1L103.3 695L101.2 696.5L99 697.3L96.8 697.4L94.7 697L92.9 695.9L91.5 694.3L90.7 692.4L90.5 690.2L90.9 687.8L92 685.5L93.6 683.2L95.6 681.2L97.9 679.3L100.4 677.8L102.8 676.6L105 675.7L106.9 675.3L108.5 675.4Z" fill="#2a58fa" opacity="0.7"/>
<path d="M108.4 677.5L109 678.3L109.2 679.5L109.2 681L108.9 682.9L108.3 684.9L107.4 687L106.3 689L104.9 690.9L103.4 692.4L101.7 693.6L100 694.2L98.3 694.3L96.6 694L95.2 693.1L94.2 691.9L93.5 690.4L93.4 688.6L93.7 686.8L94.5 685L95.8 683.2L97.4 681.5L99.2 680.1L101.1 678.9L103 677.9L104.7 677.3L106.2 677L107.5 677Z" fill="#2496ee" opacity="1"/>
<path d="M107.4 678.6L107.9 679.3L108.1 680.2L108 681.4L107.8 682.9L107.3 684.5L106.6 686.1L105.7 687.7L104.7 689.2L103.5 690.4L102.2 691.3L100.8 691.8L99.4 691.9L98.2 691.6L97.1 691L96.2 690L95.7 688.8L95.6 687.4L95.8 686L96.5 684.5L97.5 683.1L98.7 681.8L100.2 680.7L101.7 679.7L103.1 679L104.5 678.5L105.7 678.2L106.7 678.3Z" fill="#22c4d4" opacity="1"/>
<path d="M106.6 679.5L107 680L107.2 680.8L107.1 681.8L106.9 682.9L106.6 684.2L106 685.5L105.3 686.7L104.5 687.9L103.6 688.8L102.5 689.5L101.4 689.9L100.4 690L99.3 689.8L98.5 689.3L97.8 688.5L97.4 687.5L97.3 686.5L97.5 685.3L98 684.2L98.8 683.1L99.8 682.1L100.9 681.2L102.1 680.4L103.3 679.8L104.4 679.4L105.3 679.2L106.1 679.3Z" fill="#2fd07c" opacity="1"/>
<path d="M105.9 680.4L106.1 680.8L106.3 681.4L106.2 682.1L106.1 682.9L105.8 683.8L105.4 684.8L104.9 685.7L104.3 686.5L103.6 687.3L102.9 687.8L102.1 688.1L101.3 688.1L100.5 688L99.9 687.6L99.4 687L99.1 686.3L99 685.5L99.2 684.7L99.6 683.9L100.1 683L100.9 682.3L101.7 681.6L102.6 681.1L103.4 680.7L104.2 680.4L104.9 680.2L105.5 680.2Z" fill="#8ee02c" opacity="1"/>
<path d="M105.2 681.3L105.4 681.5L105.4 681.9L105.4 682.4L105.3 682.9L105.1 683.5L104.9 684.2L104.5 684.8L104.1 685.3L103.7 685.8L103.2 686.2L102.6 686.4L102.1 686.4L101.6 686.3L101.2 686L100.9 685.7L100.7 685.2L100.6 684.7L100.7 684.1L101 683.5L101.4 683L101.8 682.5L102.4 682.1L103 681.7L103.5 681.4L104.1 681.2L104.5 681.1L104.9 681.1Z" fill="#f4d020" opacity="1"/>
<path d="M104.6 681.9L104.7 682.1L104.8 682.3L104.8 682.6L104.7 682.9L104.6 683.3L104.4 683.7L104.2 684L104 684.4L103.7 684.7L103.4 684.9L103.1 685L102.8 685L102.5 684.9L102.2 684.8L102 684.6L101.9 684.3L101.9 684L102 683.6L102.1 683.3L102.3 683L102.6 682.7L102.9 682.4L103.3 682.2L103.6 682L104 681.9L104.2 681.9L104.5 681.9Z" fill="#f87a1c" opacity="1"/>
<path d="M104.2 682.5L104.2 682.5L104.2 682.7L104.2 682.8L104.2 682.9L104.2 683.1L104.1 683.3L104 683.4L103.9 683.6L103.8 683.7L103.6 683.8L103.5 683.9L103.3 683.9L103.2 683.9L103.1 683.8L103 683.7L102.9 683.6L102.9 683.4L102.9 683.3L103 683.1L103.1 683L103.3 682.8L103.4 682.7L103.6 682.6L103.7 682.5L103.9 682.5L104 682.4L104.1 682.4Z" fill="#f03a14" opacity="1"/>
</g>
</g>
<rect x="57.65" y="603.4" width="113.5" height="113.6" fill="none" stroke="#4a4a4a" stroke-width="0.6"/>
<line x1="85.4" y1="603.4" x2="85.4" y2="717" stroke="#000" stroke-width="0.9"/>
<line x1="57.65" y1="681.2" x2="171.15" y2="681.2" stroke="#000" stroke-width="0.9"/>
<text x="52.85" y="615.6" font-size="4" fill="#111" stroke="#111" stroke-width="0.25" text-anchor="end">10<tspan dy="-1.7" font-size="3.2">6</tspan></text>
<text x="52.85" y="635.7" font-size="4" fill="#111" stroke="#111" stroke-width="0.25" text-anchor="end">10<tspan dy="-1.7" font-size="3.2">5</tspan></text>
<text x="52.85" y="656.2" font-size="4" fill="#111" stroke="#111" stroke-width="0.25" text-anchor="end">10<tspan dy="-1.7" font-size="3.2">4</tspan></text>
<text x="52.85" y="676.9" font-size="4" fill="#111" stroke="#111" stroke-width="0.25" text-anchor="end">10<tspan dy="-1.7" font-size="3.2">3</tspan></text>
<text x="52.85" y="697.1" font-size="4" fill="#111" stroke="#111" stroke-width="0.25" text-anchor="end">10<tspan dy="-1.7" font-size="3.2">2</tspan></text>
<text x="52.85" y="715.9" font-size="4" fill="#111" stroke="#111" stroke-width="0.25" text-anchor="end">10<tspan dy="-1.7" font-size="3.2">1</tspan></text>
<text x="59.25" y="727" font-size="4" fill="#111" stroke="#111" stroke-width="0.25" text-anchor="start">10<tspan dy="-1.7" font-size="3.2">1</tspan></text>
<text x="89.65" y="727" font-size="4" fill="#111" stroke="#111" stroke-width="0.25" text-anchor="start">10<tspan dy="-1.7" font-size="3.2">3</tspan></text>
<text x="122.05" y="727" font-size="4" fill="#111" stroke="#111" stroke-width="0.25" text-anchor="start">10<tspan dy="-1.7" font-size="3.2">5</tspan></text>
<text x="154.45" y="727" font-size="4" fill="#111" stroke="#111" stroke-width="0.25" text-anchor="start">10<tspan dy="-1.7" font-size="3.2">7</tspan></text>
<path d="M57.65 614h-3M57.65 628.05h-1.5M57.65 624.51h-1.5M57.65 622h-1.5M57.65 620.05h-1.5M57.65 618.46h-1.5M57.65 617.11h-1.5M57.65 615.95h-1.5M57.65 614.92h-1.5M57.65 634.1h-3M57.65 648.43h-1.5M57.65 644.82h-1.5M57.65 642.26h-1.5M57.65 640.27h-1.5M57.65 638.65h-1.5M57.65 637.28h-1.5M57.65 636.09h-1.5M57.65 635.04h-1.5M57.65 654.6h-3M57.65 669.07h-1.5M57.65 665.42h-1.5M57.65 662.84h-1.5M57.65 660.83h-1.5M57.65 659.19h-1.5M57.65 657.81h-1.5M57.65 656.61h-1.5M57.65 655.55h-1.5M57.65 675.3h-3M57.65 689.42h-1.5M57.65 685.86h-1.5M57.65 683.34h-1.5M57.65 681.38h-1.5M57.65 679.78h-1.5M57.65 678.43h-1.5M57.65 677.26h-1.5M57.65 676.22h-1.5M57.65 695.5h-3M57.65 708.64h-1.5M57.65 705.33h-1.5M57.65 702.98h-1.5M57.65 701.16h-1.5M57.65 699.67h-1.5M57.65 698.41h-1.5M57.65 697.32h-1.5M57.65 696.36h-1.5M57.65 714.3h-3M57.65 717v2.6M62.53 717v1.4M65.38 717v1.4M67.4 717v1.4M68.97 717v1.4M70.26 717v1.4M71.34 717v1.4M72.28 717v1.4M73.11 717v1.4M73.85 717v2.6M78.73 717v1.4M81.58 717v1.4M83.6 717v1.4M85.17 717v1.4M86.46 717v1.4M87.54 717v1.4M88.48 717v1.4M89.31 717v1.4M90.05 717v2.6M94.93 717v1.4M97.78 717v1.4M99.8 717v1.4M101.37 717v1.4M102.66 717v1.4M103.74 717v1.4M104.68 717v1.4M105.51 717v1.4M106.25 717v2.6M111.13 717v1.4M113.98 717v1.4M116 717v1.4M117.57 717v1.4M118.86 717v1.4M119.94 717v1.4M120.88 717v1.4M121.71 717v1.4M122.45 717v2.6M127.33 717v1.4M130.18 717v1.4M132.2 717v1.4M133.77 717v1.4M135.06 717v1.4M136.14 717v1.4M137.08 717v1.4M137.91 717v1.4M138.65 717v2.6M143.53 717v1.4M146.38 717v1.4M148.4 717v1.4M149.97 717v1.4M151.26 717v1.4M152.34 717v1.4M153.28 717v1.4M154.11 717v1.4M154.85 717v2.6M159.73 717v1.4M162.58 717v1.4M164.6 717v1.4M166.17 717v1.4M167.46 717v1.4M168.54 717v1.4M169.48 717v1.4M170.31 717v1.4M171.05 717v2.6" fill="none" stroke="#1a1a1a" stroke-width="0.65"/>
<text x="59.35" y="611.8" font-size="4.5" fill="#111" stroke="#111" stroke-width="0.22">Q1</text>
<text x="59.35" y="619" font-size="4.5" fill="#111" stroke="#111" stroke-width="0.22">0</text>
<text x="161.55" y="611.8" font-size="4.5" text-anchor="end" fill="#111" stroke="#111" stroke-width="0.22">Q2</text>
<text x="161.55" y="619" font-size="4.5" text-anchor="end" fill="#111" stroke="#111" stroke-width="0.22">7.52</text>
<text x="59.35" y="702.8" font-size="4.5" fill="#111" stroke="#111" stroke-width="0.22">Q4</text>
<text x="59.35" y="710" font-size="4.5" fill="#111" stroke="#111" stroke-width="0.22">0.50</text>
<text x="161.55" y="702.8" font-size="4.5" text-anchor="end" fill="#111" stroke="#111" stroke-width="0.22">Q3</text>
<text x="161.55" y="710" font-size="4.5" text-anchor="end" fill="#111" stroke="#111" stroke-width="0.22">92.0</text>
<clipPath id="fc01"><rect x="194.4" y="603.4" width="113.5" height="113.6"/></clipPath>
<g clip-path="url(#fc01)">
<path d="M215.9 704.8h.8M262.5 672.6h.8M188.8 704.8h.8M243.4 706.9h.8M264.5 686.3h.8M214.4 713.1h.8M256.8 675h.8M282.6 662.8h.8M237.1 687.8h.8M245.4 700.2h.8M208.1 698.4h.8M240.2 686.4h.8M264.5 669h.8M200.8 731.6h.8M211.7 721.2h.8M265.5 665.2h.8M208.6 691h.8M248.4 694.3h.8M254.1 673.5h.8M257.9 680.3h.8M173 696.2h.8M202.3 712.3h.8M185.5 747.6h.8M223.7 704.2h.8M276.5 695.4h.8M242.8 680.2h.8M224.2 706.6h.8M218.7 704.3h.8M244.5 682h.8M152.4 729.3h.8M224.6 700.4h.8M206.7 743.1h.8M207 672.6h.8M231.6 739.8h.8M202.1 686.4h.8M210 704.1h.8M221.1 735.1h.8M254.9 703.8h.8M205.5 711.6h.8M232 723.8h.8M223.7 720.4h.8M214.9 711.2h.8M197.1 729.2h.8M194.9 727.5h.8M259.6 689.2h.8M230.4 691.9h.8M224.3 705.8h.8M224.6 709.3h.8M172.3 714h.8M218.2 683h.8M225.2 724.4h.8M214.6 712.3h.8M207.5 739.6h.8M215.9 708.1h.8M233.3 693.9h.8M213.9 711.4h.8M240.6 712h.8M187.3 744.5h.8M241.1 702.5h.8M216.9 698.4h.8M212.5 698.4h.8M237.9 696.6h.8M270 684.2h.8M222.4 688h.8M241.2 711.5h.8M201.9 736.3h.8M262.6 682.5h.8M230.5 705h.8M242.1 709.8h.8M212.1 686.8h.8M214.2 697.5h.8M206.1 698h.8M231.6 717.4h.8M240.3 716.7h.8M208.7 691.1h.8M244.5 694.5h.8M255 689.1h.8M225.5 674.7h.8M264.5 675.2h.8M176.4 727.2h.8M210.1 698.7h.8M224 675.3h.8M274.6 670.9h.8M157.5 731.6h.8M253.3 667.3h.8M211 703.9h.8M204.2 706.5h.8M203 711h.8M211.1 729.8h.8M261 675.9h.8M239.4 686.6h.8M207.9 699.9h.8M224.7 720h.8M235 703.2h.8M222.6 694.1h.8M250.3 676.4h.8M208.5 711.1h.8M234.1 696.2h.8M271.9 671h.8M183.3 735.8h.8M190.8 710.9h.8M263.4 682.7h.8M225.5 696.5h.8M211.1 710.3h.8M198 719.6h.8M251.9 701.1h.8M165.4 756.8h.8M229.1 695h.8M244.1 695.3h.8M240.7 714.2h.8" fill="none" stroke="#6a7cff" stroke-width="0.8" opacity="0.6"/>
<path d="M225.2 680.6h.8M260.5 687.4h.8M262.1 672.1h.8M260.7 665.9h.8M246.4 690.8h.8M248.2 695.8h.8M244.5 701.3h.8M249.5 706.6h.8M239.9 706h.8M236.3 701.2h.8M255.4 682.9h.8M210.3 716.6h.8M243.9 673.5h.8M226.1 694.8h.8M249.8 686.1h.8M257 675.6h.8M268 675.4h.8M264.3 674.3h.8M235.2 680.3h.8M242.5 689.7h.8M247.5 686.8h.8M244.2 699.2h.8M232.7 684.3h.8M212 722.5h.8M258 680.5h.8M221.5 694.3h.8M253.3 684.6h.8M256.4 684.5h.8M268.7 660.7h.8M257.7 696.7h.8M239.3 694.3h.8M248.5 668.7h.8M261.6 671.9h.8M256.4 697.4h.8M240.4 697.6h.8M245 691h.8M248.7 673.5h.8M234.4 685.6h.8M255.7 690.8h.8M242.4 683.9h.8M239.1 696.2h.8M246.3 691.4h.8M267.9 664.6h.8M249.3 696.4h.8M255.9 678h.8M241.8 689.9h.8M261.9 691h.8M249.6 704.4h.8M248.9 670.4h.8M253.1 682.6h.8M247.7 683.8h.8M222 714.5h.8M255.4 676.1h.8M249.2 674.1h.8M252.9 680.1h.8M247.2 697.5h.8M254.5 679.8h.8M193.8 697.7h.8M282 661.8h.8M231.2 697.3h.8M251.5 683.8h.8M240.1 682.8h.8M258.8 674h.8M249.9 688.3h.8M228.4 699.5h.8M243.3 688.6h.8M254.4 675.5h.8M248.2 687.7h.8M259.5 677.6h.8M236.1 690.6h.8M259.1 676.9h.8M261 672h.8M253.5 682h.8M269.6 668.8h.8M253 687h.8M268.4 672.1h.8M244.8 682.8h.8M251.4 678.1h.8M257 680.8h.8M246.7 684.9h.8M232.9 703.8h.8M247.3 687.8h.8M270.4 670.5h.8M269.9 670.2h.8M241.8 699.3h.8M231.5 687.2h.8M266.7 667.3h.8M240.6 676.1h.8M259.4 681.3h.8M257.7 684.5h.8M244.2 679.8h.8M247.7 672.3h.8M246.1 719.9h.8M281.5 667.2h.8M249.8 681.7h.8M222 687.1h.8M247.1 677.4h.8M256.2 675.3h.8M260 693.8h.8M257 677.4h.8M221.6 699h.8M277.8 667.9h.8M234.1 680.8h.8M253.8 686.5h.8M238 697.1h.8M244.5 684h.8M236.2 694.8h.8M259.8 680.9h.8M249 686.1h.8M248.9 693.3h.8M256.7 669.5h.8M260.6 692.5h.8M229.6 696.8h.8M283.3 661.4h.8M234.5 693.7h.8M244 677.7h.8M259.8 682.8h.8M239.2 702.5h.8M257.2 673.2h.8M221.6 709.4h.8M248.9 690.9h.8M258.6 672.9h.8M234.2 708.9h.8M246 686.6h.8M246 690h.8M212.7 710.3h.8M233.3 691.1h.8M265.3 677h.8M259.4 681.6h.8M234.5 695.4h.8M260.6 678.1h.8M247.8 684.7h.8M217.6 689.4h.8M259.5 678.3h.8M247.1 692.1h.8M236.3 699.6h.8M240 683.5h.8M245 699.9h.8M231.2 690.9h.8M234.5 688.1h.8M260.1 677.8h.8M256.6 674.3h.8M263.7 676.4h.8M244 685h.8M251.9 689.8h.8M265.6 682.9h.8M234.1 682h.8M246.1 676.4h.8M246.6 693.6h.8M225.6 713.4h.8M231.1 699.7h.8M244.9 681.2h.8M255.2 669.2h.8M228.7 706.8h.8M239 684.4h.8M275.5 664.9h.8M258.8 671.4h.8M255.3 697.7h.8M255.5 686.5h.8M252 683.4h.8M226.9 690.1h.8M238.9 691h.8M232.9 694.6h.8M206.2 694.4h.8M199.7 696.4h.8M214.9 686.1h.8M278.6 665.4h.8M230.4 707.1h.8M248.6 682.1h.8M239.2 687.2h.8M229.6 693.5h.8M249.5 673.4h.8M232.4 702h.8M236.5 684.4h.8M220.6 692.1h.8M247.2 694.9h.8M236.1 718.6h.8M233.2 679.9h.8M244.4 675.9h.8M226.4 700.3h.8M234.5 686.3h.8M250.2 687.8h.8M237.1 682.3h.8M250.1 675.3h.8M239.5 666.1h.8M262.2 674.6h.8M277 674.1h.8M207.7 685.9h.8M251.5 688.5h.8M249.5 693.2h.8M259.2 673.7h.8M248.3 679.4h.8M254.1 682.3h.8M266.3 671.7h.8M236.8 698.8h.8M257.8 678.2h.8M247.9 707.9h.8M256.8 673.4h.8M240 693.3h.8M241.5 689.9h.8M273.5 667.6h.8M256.7 678.6h.8M252.2 667.9h.8M237.8 688.5h.8M232.6 704h.8M269.4 666.5h.8M257.6 682.8h.8M227.7 687.2h.8M223.9 702.4h.8M247.1 674h.8M267 672.3h.8M257.1 685.2h.8M230.6 705.5h.8M256 673.9h.8M253.2 677.6h.8M256.5 674.8h.8M255.4 674.5h.8M231.6 699.1h.8M263.8 682.7h.8M247.1 690.5h.8M247.8 693.5h.8M238.8 697.8h.8M254 700.6h.8M245.7 702.3h.8M238.8 706.6h.8M245.9 693.9h.8M228.5 701.6h.8M253.2 683.5h.8M239 699.6h.8M257.2 686h.8M253.3 674.5h.8M249.4 684.2h.8M271.6 666.3h.8M223.2 697.6h.8M237.3 711.5h.8M230.2 675.9h.8M231.7 694.4h.8M265.3 670.3h.8M255.3 673.8h.8M253.6 673.1h.8M247.9 683h.8M221 692.3h.8M275.9 670.4h.8M247.6 682.6h.8M221.9 703.7h.8M257.8 684.8h.8M262.3 671.2h.8M248.2 693.7h.8M234.9 681.4h.8M247.5 692.2h.8M268.1 666.6h.8M264.9 669.4h.8M259 683.1h.8M241.6 700.1h.8M255 679.5h.8M241.7 697.5h.8M257.3 692.6h.8M277.6 661.6h.8M244.9 675h.8M252.5 686.7h.8M253 680.5h.8M252.2 685.9h.8M255.6 685.2h.8M259.6 671.4h.8M242.4 681.5h.8M236.7 692.1h.8M253.5 687.1h.8M259.5 672.6h.8M243.2 682.3h.8M237.6 696.6h.8M249.6 684.8h.8M248.4 688.2h.8M253.5 678.8h.8M249.7 689h.8M258 683.9h.8M240 708.2h.8M245.7 690.8h.8M259.5 673.5h.8M248.9 671h.8M263.9 675.8h.8" fill="none" stroke="#2a3cff" stroke-width="0.8" opacity="0.75"/>
<path d="M273.4 666.5h.8M238.5 690.5h.8M240.3 695.4h.8M266.6 671.6h.8M243.5 690.8h.8M233.6 693.8h.8M260.5 678.5h.8M255.7 693.6h.8M255.6 681.2h.8M257.5 679.4h.8M231 691.6h.8M239.3 685.9h.8M243.6 698.5h.8M246.1 685.7h.8M252.6 671.8h.8M260.3 683.7h.8M258 686.9h.8M256.4 680.3h.8M259.8 677h.8M241 693.5h.8M254.4 683.8h.8M260.7 676.5h.8M247.1 686.3h.8M254.3 677.3h.8M263.2 677h.8M249.1 674.9h.8M245.6 696.2h.8M234.3 691.9h.8M256.8 682.4h.8M241.7 690.2h.8M259.7 665.7h.8M251.6 687.5h.8M236.2 704.7h.8M269.2 673.6h.8M233.1 695.6h.8M259.6 671.4h.8M260 675.5h.8M241.4 694.6h.8M247.7 680.5h.8M269.5 667.7h.8M258.4 675.7h.8M265.1 671.1h.8M261.2 677.4h.8M246.6 685.4h.8M242.7 696.9h.8M251 673.2h.8M247.7 692.6h.8M274.3 666.7h.8M246.1 679.7h.8M268.7 682.9h.8M260.8 678.3h.8M245.6 683.4h.8M269.6 671.9h.8M225.6 693.4h.8M267 677.1h.8M257.6 685.6h.8M231.7 698.4h.8M262.1 674.6h.8M263.1 675.3h.8M253.5 686.4h.8M246.1 688.4h.8M245.8 686h.8M246.5 676.9h.8M267 672.8h.8M255.8 681h.8M254.8 685.9h.8M266.8 672.5h.8M252.8 695h.8M263.4 681.3h.8M255.4 684.1h.8M252.5 680.5h.8M261 673.5h.8M252 678.3h.8M245.9 711.6h.8M226.9 692.8h.8M249.1 685.8h.8M258.5 683.8h.8M262.2 681.3h.8M257.7 671.4h.8M237.7 692.3h.8M260.4 678.4h.8M251.1 676.6h.8M251.1 696.4h.8M259.8 687.8h.8M257.6 683.4h.8M248.8 697.1h.8M246 683.1h.8M248.6 685.5h.8M239.9 697h.8M249.8 672.3h.8M229.2 697.9h.8M255.2 677.8h.8M261.9 671.6h.8M260.9 677.3h.8M257.1 678.5h.8M253.7 678.7h.8M251.3 686h.8M251.3 690.2h.8M260.7 669.1h.8M236.9 695.7h.8M263.2 680.8h.8M247.1 682.2h.8M247.4 680.2h.8M256.3 683.8h.8M264 676.1h.8M249 692.7h.8M228.4 698.3h.8M257.9 677.6h.8M244.9 685.5h.8M247.3 689.6h.8M257.1 673.6h.8M234.4 685.7h.8M253.4 683.7h.8M222.9 691.7h.8M273.1 666.9h.8M244.1 685.2h.8M255.3 677.4h.8M258.6 679.1h.8M261.1 678.8h.8M257.8 673.6h.8M251.4 691.7h.8M255.2 685.4h.8M254.6 684.4h.8M259.3 685.2h.8M257.2 680.8h.8M253.2 684.1h.8M242.8 677h.8M246.7 691.5h.8M250.1 684.6h.8M244.9 684.6h.8M270.3 675h.8M261.5 668.4h.8M231 689.1h.8M248.9 679.1h.8M247 687.4h.8M240.3 687.4h.8M249.6 693.2h.8M261.9 679h.8M247.8 694.6h.8M242.4 675.7h.8M248.3 689.7h.8M263.8 686.8h.8M245.7 694.2h.8M239.1 682.8h.8M239.7 686.6h.8M239.9 678.3h.8M252.5 684.9h.8M254.4 684h.8M258.3 674.8h.8M258.1 672.2h.8M270.1 666.2h.8M237.3 686.6h.8M251.7 676.4h.8M261.6 675.6h.8M247.8 686.5h.8M250.1 688.3h.8M265.4 671.5h.8M257.9 679.8h.8M248 696.6h.8M247.8 682.1h.8M238 686.4h.8M256 685.9h.8M245.1 688.8h.8M254.5 687.8h.8M258.2 674.7h.8M253.4 682.6h.8M259.2 685.6h.8M262.6 681.5h.8M244.5 691.4h.8M248.7 692.9h.8M271.6 666h.8M254.4 677.1h.8M243.7 684.1h.8M262.8 675.7h.8M243.5 691.7h.8M268.5 678.7h.8M268.1 673.7h.8M254.3 688.5h.8M262.4 680.7h.8M248.6 683.6h.8M263.9 665h.8M235 686.2h.8M243.9 676.8h.8M257.3 685.6h.8M261.9 676.5h.8M247.8 686.3h.8M251.2 680.3h.8M245.7 681.8h.8M249.8 684.2h.8M254.2 673.3h.8M248.1 699.8h.8M259.4 676.7h.8M259.1 673.1h.8M244.4 677h.8M257.8 680.4h.8M240.6 697.6h.8M260.9 689.8h.8M262.2 683.4h.8M259.7 688.6h.8M242.4 683.6h.8M256.9 676.6h.8M256.7 680.1h.8M262.2 678.3h.8M245 699.3h.8M246.4 680.2h.8M243.3 681.3h.8M255.6 679.3h.8M257.8 684.6h.8M237.2 699.5h.8M257.4 678.4h.8M253.3 684.6h.8M245.5 687.3h.8M248.1 682.7h.8M244.5 689.7h.8M259.5 678.1h.8M243.7 685.2h.8M246.6 681.6h.8M247.8 691.7h.8M238.8 691.6h.8M266.5 678.1h.8M251.3 680.5h.8M256.3 678.3h.8M264.3 679.1h.8M235.8 686.1h.8M245.3 697.3h.8M245.3 694.6h.8M259 683.8h.8M246.2 685.8h.8M257.3 688h.8M256.1 696.4h.8M264.6 681.6h.8M252.6 679.3h.8M250 679.9h.8M251.6 680.7h.8M218.6 701.4h.8M259.6 685.8h.8M243.8 697h.8M250.3 680.1h.8M258.5 685h.8M258.1 676.7h.8" fill="none" stroke="#2040ff" stroke-width="0.8" opacity="0.9"/>
<path d="M237.1 686.7h.8M223.4 687.1h.8M233.9 687.1h.8M241.2 686.4h.8M245.4 679h.8M224.5 690.5h.8M232.9 692.5h.8M235 690.5h.8M233.4 689.4h.8M223.3 691.1h.8M241.4 694.9h.8M240 692.1h.8M237.3 688.9h.8M236.1 688.6h.8M241.9 686.6h.8M232.7 685.8h.8M242.4 684.4h.8M244 684.3h.8M244.5 690.5h.8M242.9 693.2h.8M240.4 684.7h.8M227.3 688.9h.8M241.1 690.6h.8M234.8 683.5h.8M244.5 682.8h.8M243.3 691.4h.8M236.4 686.4h.8M244.1 684.9h.8M223.7 692.2h.8M243.7 697.8h.8M246 682.4h.8M242.2 679.6h.8M230.4 687.4h.8M245.2 680.6h.8M240 693.6h.8M225 686.7h.8M231.3 694.5h.8M234.6 685.9h.8M226.2 688.8h.8M245.8 684.7h.8M243.6 691.7h.8M238 690.8h.8M223.5 690h.8M235.9 687h.8M235.7 689.2h.8M231.1 682.8h.8M243.7 684.7h.8M225.6 687.6h.8M232.2 691.8h.8M238 684.7h.8M241.7 689.5h.8M242.5 694.3h.8M244.7 686.5h.8M241.7 688.6h.8M243.9 687.8h.8M242.9 683.3h.8M240 688.8h.8M236.6 688.8h.8M243.5 687.1h.8M235 691.6h.8M239.6 686.8h.8M238.5 690.4h.8M233 693.9h.8M235.3 686.2h.8M231.7 688.6h.8M243.2 685h.8M224.6 689h.8M244 683.8h.8M225.8 691.4h.8M242.9 692.3h.8M232.1 685h.8M237 685.1h.8M240.9 689.8h.8M245.6 689.4h.8M238.9 690.3h.8M227.5 688.9h.8M241.4 691.2h.8M235.3 689.8h.8M245.6 687.6h.8M237.7 690.6h.8M242.5 692.8h.8M226.6 688.1h.8M243.5 691.7h.8M234.4 689.8h.8M243.4 685.5h.8M222.8 689.5h.8M232.8 689.2h.8M226.3 688.5h.8M240.2 686.6h.8M229.8 687.9h.8" fill="none" stroke="#2a3cff" stroke-width="0.8" opacity="0.7"/>
<g filter="url(#fb)">
<path d="M274.4 665.7L274.3 666.8L273.3 668.7L271.3 671.6L268.5 675.1L265.1 679.3L261.2 683.7L256.9 688.2L252.4 692.4L247.9 696L243.4 698.7L239.2 700.4L235.5 700.9L232.5 700.3L230.4 698.7L229.5 696.3L229.7 693.3L231.3 689.9L234 686.3L237.9 682.8L242.6 679.3L247.9 676.2L253.3 673.3L258.7 670.8L263.6 668.6L267.8 667L271.1 665.8L273.3 665.4Z" fill="#3050ff" opacity="0.35"/>
<path d="M271.9 667.5L271.9 668.4L271 670.1L269.3 672.5L267 675.5L264.2 679L260.9 682.7L257.3 686.5L253.5 690L249.6 693L245.9 695.3L242.3 696.7L239.2 697.1L236.7 696.6L235 695.3L234.2 693.3L234.4 690.7L235.7 687.9L238 684.9L241.3 681.9L245.2 679L249.6 676.3L254.2 673.9L258.8 671.8L262.9 670L266.4 668.6L269.2 667.7L271 667.3Z" fill="#2a58fa" opacity="0.7"/>
<path d="M269.1 669.6L269.1 670.3L268.4 671.6L267.1 673.5L265.3 675.8L263 678.6L260.5 681.5L257.6 684.5L254.7 687.3L251.6 689.6L248.7 691.4L245.9 692.5L243.5 692.9L241.5 692.5L240.1 691.4L239.5 689.8L239.7 687.8L240.7 685.6L242.5 683.2L245.1 680.9L248.2 678.6L251.6 676.5L255.3 674.6L258.8 673L262.1 671.6L264.8 670.5L267 669.7L268.4 669.4Z" fill="#2496ee" opacity="1"/>
<path d="M267 671.2L267 671.8L266.4 672.8L265.4 674.3L264 676.1L262.2 678.3L260.2 680.6L257.9 683L255.6 685.1L253.2 687L250.9 688.4L248.7 689.3L246.8 689.5L245.2 689.2L244.1 688.4L243.6 687.2L243.8 685.6L244.6 683.8L246 682L248 680.1L250.5 678.3L253.2 676.7L256.1 675.2L258.8 673.9L261.4 672.8L263.6 671.9L265.3 671.3L266.4 671.1Z" fill="#22c4d4" opacity="1"/>
<path d="M265.3 672.5L265.3 672.9L264.8 673.7L264 674.9L262.9 676.4L261.5 678.1L259.9 679.9L258.2 681.7L256.3 683.5L254.4 684.9L252.6 686L250.9 686.7L249.3 686.9L248.1 686.7L247.3 686.1L246.9 685.1L247 683.8L247.6 682.4L248.8 681L250.3 679.5L252.3 678.1L254.4 676.8L256.7 675.6L258.9 674.6L260.9 673.7L262.6 673L264 672.6L264.9 672.4Z" fill="#2fd07c" opacity="1"/>
<path d="M263.6 673.8L263.6 674.1L263.3 674.7L262.7 675.5L261.9 676.6L260.8 677.8L259.7 679.2L258.4 680.5L257 681.8L255.6 682.9L254.3 683.7L253 684.2L251.9 684.3L251 684.2L250.4 683.7L250.1 683L250.2 682.1L250.7 681L251.5 680L252.7 678.9L254.1 677.9L255.6 676.9L257.3 676.1L258.9 675.3L260.4 674.7L261.6 674.2L262.6 673.8L263.3 673.7Z" fill="#8ee02c" opacity="1"/>
<path d="M262.1 674.9L262.1 675.1L261.8 675.5L261.5 676.1L260.9 676.8L260.2 677.6L259.4 678.5L258.6 679.4L257.7 680.3L256.8 681L255.9 681.5L255 681.9L254.3 682L253.7 681.9L253.3 681.5L253.1 681.1L253.1 680.5L253.4 679.8L254 679.1L254.8 678.3L255.7 677.7L256.8 677L257.9 676.4L258.9 675.9L259.9 675.5L260.8 675.2L261.4 675L261.8 674.9Z" fill="#f4d020" opacity="1"/>
<path d="M260.8 675.8L260.8 676L260.7 676.2L260.5 676.6L260.1 677L259.7 677.5L259.3 678L258.7 678.6L258.2 679.1L257.7 679.5L257.1 679.8L256.6 680L256.2 680.1L255.8 680L255.6 679.8L255.4 679.5L255.5 679.2L255.7 678.8L256 678.3L256.5 677.9L257 677.5L257.7 677.1L258.3 676.8L259 676.5L259.5 676.2L260.1 676L260.4 675.9L260.7 675.8Z" fill="#f87a1c" opacity="1"/>
<path d="M259.8 676.6L259.8 676.7L259.8 676.8L259.7 676.9L259.5 677.1L259.3 677.3L259.1 677.6L258.9 677.8L258.6 678.1L258.4 678.3L258.1 678.4L257.9 678.5L257.7 678.5L257.5 678.5L257.4 678.4L257.4 678.3L257.4 678.1L257.5 677.9L257.6 677.7L257.8 677.5L258.1 677.4L258.4 677.2L258.7 677L259 676.9L259.2 676.8L259.5 676.7L259.7 676.6L259.8 676.6Z" fill="#f03a14" opacity="1"/>
</g>
</g>
<rect x="194.4" y="603.4" width="113.5" height="113.6" fill="none" stroke="#4a4a4a" stroke-width="0.6"/>
<line x1="221.7" y1="603.4" x2="221.7" y2="717" stroke="#000" stroke-width="0.9"/>
<line x1="194.4" y1="681.2" x2="307.9" y2="681.2" stroke="#000" stroke-width="0.9"/>
<text x="189.6" y="615.6" font-size="4" fill="#111" stroke="#111" stroke-width="0.25" text-anchor="end">10<tspan dy="-1.7" font-size="3.2">6</tspan></text>
<text x="189.6" y="635.7" font-size="4" fill="#111" stroke="#111" stroke-width="0.25" text-anchor="end">10<tspan dy="-1.7" font-size="3.2">5</tspan></text>
<text x="189.6" y="656.2" font-size="4" fill="#111" stroke="#111" stroke-width="0.25" text-anchor="end">10<tspan dy="-1.7" font-size="3.2">4</tspan></text>
<text x="189.6" y="676.9" font-size="4" fill="#111" stroke="#111" stroke-width="0.25" text-anchor="end">10<tspan dy="-1.7" font-size="3.2">3</tspan></text>
<text x="189.6" y="697.1" font-size="4" fill="#111" stroke="#111" stroke-width="0.25" text-anchor="end">10<tspan dy="-1.7" font-size="3.2">2</tspan></text>
<text x="189.6" y="715.9" font-size="4" fill="#111" stroke="#111" stroke-width="0.25" text-anchor="end">10<tspan dy="-1.7" font-size="3.2">1</tspan></text>
<text x="196" y="727" font-size="4" fill="#111" stroke="#111" stroke-width="0.25" text-anchor="start">10<tspan dy="-1.7" font-size="3.2">1</tspan></text>
<text x="226.4" y="727" font-size="4" fill="#111" stroke="#111" stroke-width="0.25" text-anchor="start">10<tspan dy="-1.7" font-size="3.2">3</tspan></text>
<text x="258.8" y="727" font-size="4" fill="#111" stroke="#111" stroke-width="0.25" text-anchor="start">10<tspan dy="-1.7" font-size="3.2">5</tspan></text>
<text x="291.2" y="727" font-size="4" fill="#111" stroke="#111" stroke-width="0.25" text-anchor="start">10<tspan dy="-1.7" font-size="3.2">7</tspan></text>
<path d="M194.4 614h-3M194.4 628.05h-1.5M194.4 624.51h-1.5M194.4 622h-1.5M194.4 620.05h-1.5M194.4 618.46h-1.5M194.4 617.11h-1.5M194.4 615.95h-1.5M194.4 614.92h-1.5M194.4 634.1h-3M194.4 648.43h-1.5M194.4 644.82h-1.5M194.4 642.26h-1.5M194.4 640.27h-1.5M194.4 638.65h-1.5M194.4 637.28h-1.5M194.4 636.09h-1.5M194.4 635.04h-1.5M194.4 654.6h-3M194.4 669.07h-1.5M194.4 665.42h-1.5M194.4 662.84h-1.5M194.4 660.83h-1.5M194.4 659.19h-1.5M194.4 657.81h-1.5M194.4 656.61h-1.5M194.4 655.55h-1.5M194.4 675.3h-3M194.4 689.42h-1.5M194.4 685.86h-1.5M194.4 683.34h-1.5M194.4 681.38h-1.5M194.4 679.78h-1.5M194.4 678.43h-1.5M194.4 677.26h-1.5M194.4 676.22h-1.5M194.4 695.5h-3M194.4 708.64h-1.5M194.4 705.33h-1.5M194.4 702.98h-1.5M194.4 701.16h-1.5M194.4 699.67h-1.5M194.4 698.41h-1.5M194.4 697.32h-1.5M194.4 696.36h-1.5M194.4 714.3h-3M194.4 717v2.6M199.28 717v1.4M202.13 717v1.4M204.15 717v1.4M205.72 717v1.4M207.01 717v1.4M208.09 717v1.4M209.03 717v1.4M209.86 717v1.4M210.6 717v2.6M215.48 717v1.4M218.33 717v1.4M220.35 717v1.4M221.92 717v1.4M223.21 717v1.4M224.29 717v1.4M225.23 717v1.4M226.06 717v1.4M226.8 717v2.6M231.68 717v1.4M234.53 717v1.4M236.55 717v1.4M238.12 717v1.4M239.41 717v1.4M240.49 717v1.4M241.43 717v1.4M242.26 717v1.4M243 717v2.6M247.88 717v1.4M250.73 717v1.4M252.75 717v1.4M254.32 717v1.4M255.61 717v1.4M256.69 717v1.4M257.63 717v1.4M258.46 717v1.4M259.2 717v2.6M264.08 717v1.4M266.93 717v1.4M268.95 717v1.4M270.52 717v1.4M271.81 717v1.4M272.89 717v1.4M273.83 717v1.4M274.66 717v1.4M275.4 717v2.6M280.28 717v1.4M283.13 717v1.4M285.15 717v1.4M286.72 717v1.4M288.01 717v1.4M289.09 717v1.4M290.03 717v1.4M290.86 717v1.4M291.6 717v2.6M296.48 717v1.4M299.33 717v1.4M301.35 717v1.4M302.92 717v1.4M304.21 717v1.4M305.29 717v1.4M306.23 717v1.4M307.06 717v1.4M307.8 717v2.6" fill="none" stroke="#1a1a1a" stroke-width="0.65"/>
<text x="196.1" y="611.8" font-size="4.5" fill="#111" stroke="#111" stroke-width="0.22">Q1</text>
<text x="196.1" y="619" font-size="4.5" fill="#111" stroke="#111" stroke-width="0.22">0.010</text>
<text x="298.3" y="611.8" font-size="4.5" text-anchor="end" fill="#111" stroke="#111" stroke-width="0.22">Q2</text>
<text x="298.3" y="619" font-size="4.5" text-anchor="end" fill="#111" stroke="#111" stroke-width="0.22">56.2</text>
<text x="196.1" y="702.8" font-size="4.5" fill="#111" stroke="#111" stroke-width="0.22">Q4</text>
<text x="196.1" y="710" font-size="4.5" fill="#111" stroke="#111" stroke-width="0.22">0.15</text>
<text x="298.3" y="702.8" font-size="4.5" text-anchor="end" fill="#111" stroke="#111" stroke-width="0.22">Q3</text>
<text x="298.3" y="710" font-size="4.5" text-anchor="end" fill="#111" stroke="#111" stroke-width="0.22">43.6</text>
<clipPath id="fc02"><rect x="330.7" y="603.4" width="113.5" height="113.6"/></clipPath>
<g clip-path="url(#fc02)">
<path d="M339.8 708h.8M374.3 699.7h.8M361.9 689.2h.8M365.1 717.1h.8M395.1 686.9h.8M362.6 720.7h.8M385.5 677.9h.8M348.1 694.9h.8M354.5 706.6h.8M373.9 727.1h.8M364.2 724.6h.8M373.3 699.2h.8M348.5 698.8h.8M372.2 694.2h.8M380.2 713.7h.8M380.5 677.4h.8M387.7 687.4h.8M348.2 680h.8M376.8 699.8h.8M366.3 739.8h.8M351.2 722.4h.8M342.8 699.3h.8M370.4 713h.8M388.4 699.8h.8M371.3 718.4h.8M406.5 730.1h.8M373.4 688.7h.8M369.4 674.4h.8M369.6 658.9h.8M361.2 695.2h.8M396.7 687.3h.8M354.5 721.9h.8M362.2 704h.8M376.2 710.8h.8M377.3 686.3h.8M354.8 683.9h.8M355.6 698.3h.8M379 691.6h.8M364 713.4h.8M381.7 733.9h.8M394.5 688.2h.8M326.8 728.2h.8M389.5 680.5h.8M356.4 687.2h.8M339.3 699.4h.8M336.6 701.2h.8M343.9 731.4h.8M374.8 700h.8M322.1 741.8h.8M380.2 683.4h.8M358.1 750.3h.8M363.6 720.4h.8M350.8 730.6h.8M388.9 673h.8M385.3 692.6h.8M327.6 739.8h.8M387.8 711.7h.8M348.7 674h.8M362 686.8h.8M382.3 725.1h.8M366.8 684.4h.8M355.9 673.6h.8M344.6 706.7h.8M384 686.7h.8M384.4 701.8h.8M368.9 673.4h.8M369 721.8h.8M363.3 703.5h.8M373.2 724.9h.8M389.4 707.9h.8M358.5 700.7h.8M377.1 712.2h.8M364.8 683.7h.8M367.5 714.1h.8M352.7 691.4h.8M388.6 690.1h.8M325.8 731.6h.8M366.7 671.9h.8M318.6 725.5h.8M358.1 721.9h.8M363.7 685.5h.8M339.8 722.1h.8M386 684.9h.8M382.5 684.5h.8M396.1 676.6h.8M333.6 713h.8M344.7 729.6h.8M375 671.6h.8M366.3 693h.8M363.1 696.5h.8M340.5 718.7h.8M385.8 698.2h.8M386.1 682.4h.8M365.1 691.1h.8M335 698.9h.8M362.8 701.6h.8M390.6 699.3h.8M359.7 694.9h.8M391.4 673.2h.8M370.3 676.3h.8M369.8 694h.8M332.9 743.2h.8M338.1 687.1h.8M379.9 726h.8M352.8 706h.8M329.4 712.2h.8M342.4 685.6h.8M356.4 732.4h.8M369.9 696.5h.8M367.6 718.7h.8" fill="none" stroke="#6a7cff" stroke-width="0.8" opacity="0.6"/>
<path d="M379.2 690.5h.8M376.6 684.1h.8M363.7 699.6h.8M376.1 684.3h.8M362.3 678.6h.8M400.7 687.3h.8M379.7 702.5h.8M380.8 689.8h.8M366.1 672.1h.8M395.4 690.5h.8M363.2 668.5h.8M384.9 679.4h.8M366.7 685.6h.8M368 688.1h.8M375.9 688.1h.8M373 687.5h.8M389.1 671.5h.8M366.4 714.6h.8M379.3 692.3h.8M362.2 697.7h.8M386.7 671.7h.8M371.6 687.7h.8M374.9 681h.8M366.9 696.1h.8M373.1 689.1h.8M392.2 694.7h.8M371.8 694.3h.8M385.5 698h.8M380 690h.8M360.7 687.1h.8M387.2 687.6h.8M371.4 686.1h.8M359.2 687.1h.8M382.8 695.5h.8M382.7 677.9h.8M363.6 695h.8M378.2 693.4h.8M372 680.5h.8M364.2 695.4h.8M382.3 697.1h.8M381.3 686.1h.8M385.2 685.4h.8M380.3 690.9h.8M389 687.1h.8M377.8 687.3h.8M392.9 707.6h.8M377.9 671.9h.8M382.7 680.8h.8M395.5 702.9h.8M390.8 673.9h.8M382.6 678h.8M380.8 671h.8M391.4 678.8h.8M385.3 696.7h.8M371.5 686.2h.8M354.7 692.7h.8M368.3 688.7h.8M369.5 690h.8M379.1 672.7h.8M362.2 690h.8M373.5 698.7h.8M389.5 697.4h.8M381.6 681.9h.8M375.7 674.5h.8M384.6 689.3h.8M374.4 695.2h.8M381.7 676.3h.8M365.9 698.6h.8M381.2 689.6h.8M362.8 701.9h.8M386.2 693.3h.8M371.1 691.4h.8M378.8 686.5h.8M377.7 680.5h.8M396.5 700.9h.8M369.2 690.3h.8M356.6 685.7h.8M381 699.4h.8M363 682h.8M361.7 701.6h.8M372.8 704.3h.8M380.7 675.4h.8M386.1 693.7h.8M375.1 670.9h.8M383.6 677.9h.8M386.3 676.2h.8M387.4 711.5h.8M388.7 697h.8M382.3 673.4h.8M378.4 691.1h.8M389.6 675.7h.8M395.3 679.4h.8M375.3 687.7h.8M373.6 705.2h.8M379.7 666.8h.8M387.4 680.5h.8M372.4 688.4h.8M380.9 673.4h.8M369.6 683.7h.8M396.7 692.1h.8M367.5 673.4h.8M382.9 699.7h.8M374.9 696.1h.8M374.5 702.2h.8M377.6 677.9h.8M370.4 684.7h.8M372.5 694.5h.8M355.6 716h.8M365.7 678.3h.8M369 679.1h.8M350.9 698h.8M379.5 684.8h.8M387.2 703.2h.8M364.3 696.6h.8M396.5 681.4h.8M359.6 690.8h.8M370.4 688.1h.8M382 692.1h.8M366.9 699.3h.8M373.6 688.9h.8M374.5 703.6h.8M365 689.9h.8M386.6 696.1h.8M366 695.2h.8M361.1 685.2h.8M368 688.4h.8M382.9 710.7h.8M403.1 669.1h.8M357.1 709.1h.8M383.1 670.8h.8M375.5 680.8h.8M359.8 721h.8M373.9 684.3h.8M378 666h.8M371.3 676.1h.8M375 676.3h.8M376.6 693.6h.8M392.8 671.7h.8M398.4 684.4h.8M362 705.6h.8M396.9 689.3h.8M393.4 688.2h.8M382.3 662.7h.8M372 678.7h.8M379.7 711.6h.8M362.1 708.7h.8M386.8 685.6h.8M375.6 697.9h.8M389.9 711.1h.8M390.1 683h.8M359.7 695.2h.8M384.4 672.7h.8M379.2 685.4h.8M367.7 699.2h.8M383.2 692.8h.8M391.3 714.6h.8M380.1 688.1h.8M385.9 682.4h.8M382 675.2h.8M374.2 680.3h.8M377.6 673.7h.8M372.2 697.7h.8M384.4 667.9h.8M363.3 704.2h.8M376.3 691.4h.8M407.5 662.6h.8M373.9 682.7h.8M371.4 682.2h.8M335 683.6h.8M377.3 687.2h.8M382 686.8h.8M366.2 708.8h.8M370.5 669.6h.8M372.1 701.3h.8M352.7 687h.8M388.2 673.4h.8M369.4 688.6h.8M363.9 680.7h.8M355.3 696.3h.8M388.8 702.2h.8M390.8 672.7h.8M377.8 684.7h.8M371.4 676.4h.8M370.4 706.1h.8M359.1 687.1h.8M368.1 693.7h.8M364.3 685.7h.8M381.6 680.7h.8M376 688h.8M379.9 687.4h.8M364.4 691.6h.8M372.2 704.4h.8M373.8 714.6h.8M388.2 674.6h.8M395.1 665.5h.8M382 702.9h.8M379 697.2h.8M377.6 689.8h.8M389.6 683.9h.8M397.1 687.5h.8M375.6 687h.8M379.8 692.8h.8M385.2 691.2h.8M375.6 700h.8M375.5 682.3h.8M359 701.4h.8M382.3 680.2h.8M381.2 664.9h.8M376.6 676h.8M361.4 688.4h.8M378.1 691.7h.8M357 693.6h.8M375.2 684.3h.8M359.2 720h.8M371.1 703.7h.8M397.5 679.1h.8M375.9 687.4h.8M372.5 666.2h.8M351 687.9h.8M377.2 689.3h.8M373.2 680.7h.8M399.9 658.9h.8M387.8 696.8h.8M382.2 698.5h.8M376.7 684.7h.8M384.7 689.3h.8M388.6 688.7h.8M365.2 708.5h.8M386.1 691.4h.8M379.2 683.7h.8M368.8 689.5h.8M379.7 714.3h.8M365.2 697h.8M372.8 676.2h.8M376.6 689.2h.8M394.7 677h.8M381.3 671.2h.8M380.4 694.1h.8M396.7 685.2h.8M376.5 699.2h.8M381.8 708.2h.8M369 696.5h.8M380 701.1h.8M359.7 686.6h.8M356.4 687.5h.8M378.8 672.5h.8M376.7 676.6h.8M394.8 672.9h.8M353.6 693.7h.8M374.7 677.7h.8M376.9 675.7h.8M396.1 687.9h.8M383.1 675.1h.8M393.7 683.2h.8M387.1 682.4h.8M362.9 672.7h.8M367.9 702.4h.8M388.4 694.8h.8M358.2 674.6h.8M387.8 701.3h.8M370.4 685.9h.8M387.5 687h.8M375.2 691.5h.8M384.2 680.3h.8M385.7 694.8h.8M393.2 671.6h.8M383.9 676.7h.8M355.1 692h.8M387.1 691h.8M362.6 676.7h.8M378.2 695.4h.8M372.3 665.1h.8M377.3 679.2h.8M378.3 682.9h.8M379.7 699.4h.8M379.6 679.3h.8M385.3 704h.8M373.5 691h.8M373.4 695.4h.8M379.2 683.7h.8" fill="none" stroke="#2a3cff" stroke-width="0.8" opacity="0.75"/>
<path d="M378.5 678.5h.8M382.8 685.9h.8M379.7 699.1h.8M367.3 677.1h.8M375.1 685h.8M388.7 682.4h.8M386.8 672.3h.8M354.7 685.3h.8M384.3 684.5h.8M370.9 686.1h.8M372.4 682.8h.8M381.4 680h.8M371.8 701.4h.8M386.8 679.4h.8M378.6 704.8h.8M381.5 673.6h.8M383.2 677.5h.8M389.3 682.6h.8M377.9 689.9h.8M384.5 703.9h.8M384.8 695h.8M373.2 689.1h.8M385.8 691.2h.8M362 690.6h.8M377.4 686.7h.8M383.6 670.3h.8M366.5 680.2h.8M357.6 684.6h.8M397 681.4h.8M377.2 693.6h.8M389.4 684.5h.8M382.6 682.7h.8M382.4 698.6h.8M375.7 695.2h.8M377.1 681.1h.8M388.1 679.5h.8M373.6 689.9h.8M373 678.3h.8M363.6 695.6h.8M391.2 685.6h.8M378.4 680h.8M379.5 686.3h.8M378.5 698.6h.8M374.6 686h.8M386.1 677.7h.8M380 686.5h.8M385.5 685h.8M376.3 675h.8M372.6 684.6h.8M393.7 683.8h.8M393.1 693.5h.8M364.8 692.9h.8M375.3 697.6h.8M383.9 685.3h.8M389.3 685.8h.8M377.7 683.4h.8M380 669.5h.8M382 682.4h.8M381.7 674.8h.8M386.2 702.4h.8M368.6 699h.8M385.2 669.7h.8M374.8 683.3h.8M383.6 704.2h.8M377.3 685.2h.8M371.9 691.5h.8M382.1 682h.8M379.4 676.9h.8M377.5 680.6h.8M374.6 679.6h.8M390.2 677.9h.8M369.3 696.7h.8M384.6 688.8h.8M387.5 679.3h.8M383.7 695.2h.8M383.9 683.1h.8M378.1 679.2h.8M368.2 680.6h.8M375.9 684.9h.8M376.8 680.4h.8M369.7 684.6h.8M377.2 691.2h.8M389.9 672.4h.8M370.8 702.5h.8M384.7 693.4h.8M376.6 689.7h.8M370.6 681.3h.8M384.1 686.3h.8M384.5 674.5h.8M374.7 699.7h.8M375.9 695.4h.8M378.3 689.5h.8M386.5 677.8h.8M376.9 677.5h.8M372.3 691h.8M387.8 689.4h.8M387.4 670.5h.8M388.3 676.9h.8M376.3 690.8h.8M383 693.9h.8M382.4 692h.8M382.7 683h.8M389.3 687.7h.8M378.8 699.5h.8M385.1 679.9h.8M387.5 692.7h.8M383.5 681.3h.8M387.4 677.4h.8M384.1 676.4h.8M378.1 685.5h.8M383.1 680h.8M388.9 682.8h.8M387.3 682.6h.8M382.8 692.2h.8M378.8 672.1h.8M380.7 681.4h.8M380.8 691.7h.8M379.1 681.9h.8M375.5 683.9h.8M389.7 676.6h.8M386.6 693.6h.8M382.1 680.1h.8M375.1 689.7h.8M385.1 684.9h.8M376.3 692.9h.8M378.7 688.1h.8M392.2 685.9h.8M371.3 678.8h.8M388 664.3h.8M381 697.1h.8M389.3 685.3h.8M374.7 676.4h.8M389.4 692.8h.8M376.6 677.9h.8M382.7 673.6h.8M390.2 674.1h.8M373.9 683.4h.8M377 679.9h.8M376.9 694.1h.8M393.8 666.6h.8M361.3 680.1h.8M374 681.7h.8M374.3 682.8h.8M378.9 682h.8M384.7 682.7h.8M369.7 679h.8M358.9 679.7h.8M372.7 685.7h.8M375.1 682.4h.8M382.3 690.9h.8M395.7 678.3h.8M374.4 688.2h.8M378.2 688.7h.8M384.2 677.2h.8M384.3 681.1h.8M383.2 697.1h.8M384.5 696.8h.8M400 674h.8M385.2 681.6h.8M380 677.6h.8M390.9 675.8h.8M368.6 681.3h.8M380.1 702.2h.8M378 700.3h.8M389 688.1h.8M392 678.5h.8M385 684.3h.8M387 692.3h.8M383.9 669.6h.8M373.1 682.6h.8M381.5 672.1h.8M367.9 676.8h.8M381.4 692h.8M377.9 691.4h.8M391.4 671.2h.8M391.2 667.7h.8M384.3 687.7h.8M383.4 678.7h.8M373.4 670.8h.8M389.6 679.6h.8M370.3 694.1h.8M384.7 689.4h.8M378.9 677.2h.8M384.5 678.6h.8M370.6 690.4h.8M368.9 676.8h.8M378.5 679h.8M381.3 698h.8M379.3 678.1h.8M375.3 690.4h.8M379.2 687.9h.8M381.1 677.2h.8M379.2 679h.8M383.9 682.1h.8M383.5 667.7h.8M392.7 685.4h.8M374.1 691.4h.8M385.6 697.1h.8M383.9 688.2h.8M373.4 691.6h.8M370.5 685.4h.8M388.1 681.7h.8M379.1 686.6h.8M380.2 689.6h.8M387.7 683.9h.8M388.4 662.1h.8M371.3 690.9h.8M374.5 677.8h.8M385.2 682.8h.8M392.1 690h.8M378.9 698.6h.8M382 678.7h.8M381.7 685.3h.8M381 676.1h.8M394.5 699.6h.8M382.2 690.7h.8M377.2 689.7h.8M390.6 682.1h.8M388.7 675.6h.8M388.7 673.1h.8M361 701.4h.8M382.3 672.8h.8M368.6 688.1h.8M382.5 673.6h.8M374.2 699.9h.8M393.5 679h.8M383.6 679.7h.8M380 680.3h.8M390.5 690.7h.8M384.5 679.2h.8M380.3 688.9h.8M381.8 681.8h.8M373.9 688.5h.8M374.3 698.7h.8M387.6 683.4h.8M375.4 684.9h.8M371.9 687.6h.8M382.7 686.5h.8M383.3 689.2h.8M385.6 686.2h.8" fill="none" stroke="#2040ff" stroke-width="0.8" opacity="0.9"/>
<g filter="url(#fb)">
<path d="M394.2 670.1L395 671.6L395.1 673.7L394.7 676.4L393.7 679.6L392.3 683.2L390.4 687L388.1 690.7L385.4 694L382.5 696.7L379.4 698.7L376.1 699.8L373 699.9L370.2 699.1L367.8 697.5L366.1 695.2L365.2 692.3L365.2 689.2L366.2 686L368 682.7L370.7 679.7L373.9 676.9L377.5 674.5L381.2 672.5L384.7 670.9L387.9 669.8L390.6 669.3L392.7 669.4Z" fill="#3050ff" opacity="0.35"/>
<path d="M392.7 671.7L393.4 672.9L393.5 674.6L393.1 676.9L392.3 679.6L391.1 682.7L389.5 685.8L387.6 688.9L385.4 691.7L382.9 694L380.3 695.6L377.6 696.6L374.9 696.7L372.5 696L370.5 694.6L369.1 692.7L368.4 690.3L368.4 687.7L369.2 685L370.8 682.3L373 679.7L375.7 677.4L378.7 675.3L381.8 673.6L384.8 672.3L387.5 671.4L389.7 671L391.5 671Z" fill="#2a58fa" opacity="0.7"/>
<path d="M391.1 673.4L391.6 674.3L391.7 675.7L391.4 677.5L390.8 679.7L389.8 682L388.5 684.5L387 686.9L385.3 689.1L383.3 690.9L381.3 692.2L379.1 692.9L377.1 693L375.2 692.5L373.6 691.4L372.5 689.9L371.9 688L371.9 686L372.6 683.8L373.8 681.7L375.5 679.7L377.7 677.9L380 676.3L382.5 674.9L384.8 673.9L386.9 673.2L388.7 672.8L390.1 672.9Z" fill="#2496ee" opacity="1"/>
<path d="M389.8 674.7L390.2 675.5L390.3 676.6L390 678L389.5 679.7L388.8 681.5L387.8 683.5L386.6 685.4L385.2 687.1L383.7 688.5L382 689.6L380.4 690.1L378.8 690.2L377.3 689.8L376 688.9L375.1 687.7L374.7 686.3L374.7 684.6L375.2 683L376.2 681.3L377.5 679.7L379.2 678.3L381.1 677L383 676L384.8 675.1L386.5 674.6L387.9 674.3L389 674.3Z" fill="#22c4d4" opacity="1"/>
<path d="M388.7 675.8L389.1 676.4L389.1 677.2L389 678.3L388.6 679.7L388 681.2L387.2 682.7L386.2 684.2L385.2 685.6L384 686.7L382.7 687.5L381.3 687.9L380.1 688L378.9 687.7L377.9 687L377.2 686L376.9 684.9L376.9 683.6L377.3 682.3L378 680.9L379.1 679.7L380.4 678.6L381.9 677.6L383.4 676.7L384.9 676.1L386.2 675.7L387.3 675.4L388.2 675.5Z" fill="#2fd07c" opacity="1"/>
<path d="M387.7 676.8L388 677.3L388 677.9L387.9 678.7L387.6 679.7L387.2 680.8L386.6 681.9L385.9 683L385.1 684L384.2 684.8L383.3 685.4L382.3 685.7L381.4 685.8L380.5 685.5L379.8 685L379.3 684.3L379 683.5L379 682.6L379.3 681.6L379.9 680.6L380.7 679.7L381.6 678.9L382.7 678.1L383.8 677.5L384.9 677.1L385.9 676.7L386.7 676.6L387.3 676.6Z" fill="#8ee02c" opacity="1"/>
<path d="M386.8 677.8L387 678.1L387 678.5L386.9 679L386.7 679.7L386.4 680.4L386 681.2L385.6 681.9L385.1 682.6L384.5 683.1L383.8 683.5L383.2 683.7L382.6 683.7L382 683.6L381.5 683.3L381.2 682.8L381 682.2L381 681.6L381.2 681L381.6 680.3L382.1 679.7L382.7 679.1L383.5 678.7L384.2 678.3L384.9 677.9L385.6 677.7L386.1 677.6L386.5 677.6Z" fill="#f4d020" opacity="1"/>
<path d="M386.1 678.6L386.2 678.7L386.2 679L386.1 679.3L386 679.7L385.8 680.1L385.6 680.6L385.3 681L385 681.4L384.7 681.7L384.3 682L383.9 682.1L383.5 682.1L383.2 682L382.9 681.8L382.7 681.6L382.6 681.2L382.6 680.8L382.7 680.5L382.9 680.1L383.2 679.7L383.6 679.4L384.1 679.1L384.5 678.8L384.9 678.6L385.3 678.5L385.6 678.5L385.9 678.5Z" fill="#f87a1c" opacity="1"/>
<path d="M385.5 679.2L385.5 679.3L385.5 679.4L385.5 679.5L385.4 679.7L385.4 679.9L385.3 680.1L385.1 680.3L385 680.5L384.8 680.6L384.7 680.7L384.5 680.8L384.3 680.8L384.1 680.8L384 680.7L383.9 680.5L383.9 680.4L383.9 680.2L383.9 680L384 679.9L384.2 679.7L384.4 679.5L384.5 679.4L384.8 679.3L384.9 679.2L385.1 679.2L385.3 679.1L385.4 679.1Z" fill="#f03a14" opacity="1"/>
</g>
</g>
<rect x="330.7" y="603.4" width="113.5" height="113.6" fill="none" stroke="#4a4a4a" stroke-width="0.6"/>
<line x1="358.7" y1="603.4" x2="358.7" y2="717" stroke="#000" stroke-width="0.9"/>
<line x1="330.7" y1="681.2" x2="444.2" y2="681.2" stroke="#000" stroke-width="0.9"/>
<text x="325.9" y="615.6" font-size="4" fill="#111" stroke="#111" stroke-width="0.25" text-anchor="end">10<tspan dy="-1.7" font-size="3.2">6</tspan></text>
<text x="325.9" y="635.7" font-size="4" fill="#111" stroke="#111" stroke-width="0.25" text-anchor="end">10<tspan dy="-1.7" font-size="3.2">5</tspan></text>
<text x="325.9" y="656.2" font-size="4" fill="#111" stroke="#111" stroke-width="0.25" text-anchor="end">10<tspan dy="-1.7" font-size="3.2">4</tspan></text>
<text x="325.9" y="676.9" font-size="4" fill="#111" stroke="#111" stroke-width="0.25" text-anchor="end">10<tspan dy="-1.7" font-size="3.2">3</tspan></text>
<text x="325.9" y="697.1" font-size="4" fill="#111" stroke="#111" stroke-width="0.25" text-anchor="end">10<tspan dy="-1.7" font-size="3.2">2</tspan></text>
<text x="325.9" y="715.9" font-size="4" fill="#111" stroke="#111" stroke-width="0.25" text-anchor="end">10<tspan dy="-1.7" font-size="3.2">1</tspan></text>
<text x="332.3" y="727" font-size="4" fill="#111" stroke="#111" stroke-width="0.25" text-anchor="start">10<tspan dy="-1.7" font-size="3.2">1</tspan></text>
<text x="362.7" y="727" font-size="4" fill="#111" stroke="#111" stroke-width="0.25" text-anchor="start">10<tspan dy="-1.7" font-size="3.2">3</tspan></text>
<text x="395.1" y="727" font-size="4" fill="#111" stroke="#111" stroke-width="0.25" text-anchor="start">10<tspan dy="-1.7" font-size="3.2">5</tspan></text>
<text x="427.5" y="727" font-size="4" fill="#111" stroke="#111" stroke-width="0.25" text-anchor="start">10<tspan dy="-1.7" font-size="3.2">7</tspan></text>
<path d="M330.7 614h-3M330.7 628.05h-1.5M330.7 624.51h-1.5M330.7 622h-1.5M330.7 620.05h-1.5M330.7 618.46h-1.5M330.7 617.11h-1.5M330.7 615.95h-1.5M330.7 614.92h-1.5M330.7 634.1h-3M330.7 648.43h-1.5M330.7 644.82h-1.5M330.7 642.26h-1.5M330.7 640.27h-1.5M330.7 638.65h-1.5M330.7 637.28h-1.5M330.7 636.09h-1.5M330.7 635.04h-1.5M330.7 654.6h-3M330.7 669.07h-1.5M330.7 665.42h-1.5M330.7 662.84h-1.5M330.7 660.83h-1.5M330.7 659.19h-1.5M330.7 657.81h-1.5M330.7 656.61h-1.5M330.7 655.55h-1.5M330.7 675.3h-3M330.7 689.42h-1.5M330.7 685.86h-1.5M330.7 683.34h-1.5M330.7 681.38h-1.5M330.7 679.78h-1.5M330.7 678.43h-1.5M330.7 677.26h-1.5M330.7 676.22h-1.5M330.7 695.5h-3M330.7 708.64h-1.5M330.7 705.33h-1.5M330.7 702.98h-1.5M330.7 701.16h-1.5M330.7 699.67h-1.5M330.7 698.41h-1.5M330.7 697.32h-1.5M330.7 696.36h-1.5M330.7 714.3h-3M330.7 717v2.6M335.58 717v1.4M338.43 717v1.4M340.45 717v1.4M342.02 717v1.4M343.31 717v1.4M344.39 717v1.4M345.33 717v1.4M346.16 717v1.4M346.9 717v2.6M351.78 717v1.4M354.63 717v1.4M356.65 717v1.4M358.22 717v1.4M359.51 717v1.4M360.59 717v1.4M361.53 717v1.4M362.36 717v1.4M363.1 717v2.6M367.98 717v1.4M370.83 717v1.4M372.85 717v1.4M374.42 717v1.4M375.71 717v1.4M376.79 717v1.4M377.73 717v1.4M378.56 717v1.4M379.3 717v2.6M384.18 717v1.4M387.03 717v1.4M389.05 717v1.4M390.62 717v1.4M391.91 717v1.4M392.99 717v1.4M393.93 717v1.4M394.76 717v1.4M395.5 717v2.6M400.38 717v1.4M403.23 717v1.4M405.25 717v1.4M406.82 717v1.4M408.11 717v1.4M409.19 717v1.4M410.13 717v1.4M410.96 717v1.4M411.7 717v2.6M416.58 717v1.4M419.43 717v1.4M421.45 717v1.4M423.02 717v1.4M424.31 717v1.4M425.39 717v1.4M426.33 717v1.4M427.16 717v1.4M427.9 717v2.6M432.78 717v1.4M435.63 717v1.4M437.65 717v1.4M439.22 717v1.4M440.51 717v1.4M441.59 717v1.4M442.53 717v1.4M443.36 717v1.4M444.1 717v2.6" fill="none" stroke="#1a1a1a" stroke-width="0.65"/>
<text x="332.4" y="611.8" font-size="4.5" fill="#111" stroke="#111" stroke-width="0.22">Q1</text>
<text x="332.4" y="619" font-size="4.5" fill="#111" stroke="#111" stroke-width="0.22">0</text>
<text x="434.6" y="611.8" font-size="4.5" text-anchor="end" fill="#111" stroke="#111" stroke-width="0.22">Q2</text>
<text x="434.6" y="619" font-size="4.5" text-anchor="end" fill="#111" stroke="#111" stroke-width="0.22">32.6</text>
<text x="332.4" y="702.8" font-size="4.5" fill="#111" stroke="#111" stroke-width="0.22">Q4</text>
<text x="332.4" y="710" font-size="4.5" fill="#111" stroke="#111" stroke-width="0.22">0.37</text>
<text x="434.6" y="702.8" font-size="4.5" text-anchor="end" fill="#111" stroke="#111" stroke-width="0.22">Q3</text>
<text x="434.6" y="710" font-size="4.5" text-anchor="end" fill="#111" stroke="#111" stroke-width="0.22">67.0</text>
<clipPath id="fc03"><rect x="467.6" y="603.4" width="113.5" height="113.6"/></clipPath>
<g clip-path="url(#fc03)">
<path d="M502.1 681.7h.8M498 702.5h.8M464 707.3h.8M520.1 697.3h.8M469.2 722h.8M496.3 720.9h.8M516.9 697.8h.8M533.4 685.6h.8M464.8 729.5h.8M486.5 718.4h.8M512.8 698.7h.8M476.1 714.8h.8M512.1 692.7h.8M503.7 693.4h.8M484.8 695.7h.8M499.9 697.2h.8M519.8 712.4h.8M518.8 683.4h.8M537.4 679.8h.8M489.9 725.9h.8M494.8 693.9h.8M502.4 717.7h.8M530 674.5h.8M503.7 710.9h.8M510.2 704.1h.8M492.5 723.6h.8M485 692.3h.8M515.3 670.8h.8M504.1 723.4h.8M510.8 716.5h.8M453.2 725.7h.8M511.4 701.5h.8M502.8 683.6h.8M472.1 726.2h.8M508.4 698.1h.8M501.9 696.1h.8M465.4 705.7h.8M492.8 728.3h.8M507.3 732.4h.8M529.8 691h.8M495.6 671.5h.8M507 703.5h.8M508 708.3h.8M507 676.3h.8M495.9 693.5h.8M481.8 718.4h.8M538.7 692.9h.8M506.4 685.7h.8M458.3 748.8h.8M526.2 675.1h.8M468.6 691.4h.8M512.3 674.9h.8M493.7 728.4h.8M520 696.8h.8M492.6 719.7h.8M505.8 707.3h.8M514 688.8h.8M466.8 712h.8M502.7 700.4h.8M492.7 690.6h.8M468 698.9h.8M490.5 719.4h.8M509 721.4h.8M456 729.6h.8M481.4 692.1h.8M457.6 754.8h.8M531.7 681.3h.8M462.8 727.7h.8M491.5 700.2h.8M495.5 688.5h.8M535.4 680.9h.8M520.9 693.3h.8M508.6 698.8h.8M509 698.7h.8M495.8 738.6h.8M502.8 692h.8M479.7 703.7h.8M489.4 688.5h.8M525.7 695.3h.8M477.8 739.2h.8M514.3 715.8h.8M530.6 685.1h.8M506.4 731h.8M510.9 692h.8M522.4 684.9h.8M512 731.5h.8M513.8 709.2h.8M445.1 705.5h.8M464.9 759.3h.8M487.6 709.5h.8M507.1 706.2h.8M486.9 718.3h.8M515.9 719.8h.8M505.1 719h.8M464.4 737.9h.8M522.3 692.3h.8M479.9 706.9h.8M522.1 671.1h.8M461.7 777h.8M487.1 710.9h.8M519.4 699.8h.8M495.5 697.3h.8M513.9 686.4h.8M514.8 668.7h.8M488.1 702.2h.8M484.7 691.6h.8M458.2 692.2h.8M527.3 678.4h.8M448.9 715.1h.8M509.7 726.2h.8" fill="none" stroke="#6a7cff" stroke-width="0.8" opacity="0.6"/>
<path d="M511.4 690.6h.8M533 677.3h.8M535 686.5h.8M498.6 706.4h.8M509.9 706.5h.8M515.1 694.4h.8M543.9 669.3h.8M492.3 700.2h.8M521.1 686.5h.8M519.2 688.6h.8M526.7 680.1h.8M515.5 689h.8M510.8 695.7h.8M516.5 702.3h.8M491.4 699.4h.8M495.5 696h.8M515.6 686.2h.8M518.6 680.2h.8M533.7 669.2h.8M533.9 683.3h.8M524.7 685.7h.8M537.6 682.7h.8M507.6 692.4h.8M517.6 693.5h.8M495.2 698.4h.8M505.5 685.5h.8M534.1 663.8h.8M518.1 700.2h.8M529.2 674.6h.8M522.6 680.8h.8M527.5 688.1h.8M500.1 701.1h.8M516.9 699.1h.8M522 684.5h.8M527.6 680.3h.8M497.1 703.5h.8M515.2 688.9h.8M516 694h.8M521.4 681.3h.8M515.8 692.4h.8M512.4 703h.8M527.9 691.2h.8M523.7 690h.8M519.3 684.9h.8M521.8 696.4h.8M520.2 685.6h.8M505.7 690.7h.8M514.1 705.4h.8M524.8 686.7h.8M530.3 668.4h.8M524.5 687.2h.8M522.5 681h.8M510.8 685.1h.8M530.6 675.5h.8M524.2 685.3h.8M518.8 685h.8M517.7 707h.8M511.5 694.6h.8M494 716.9h.8M507.5 699.6h.8M522 691.4h.8M463.5 699.2h.8M515.3 680.6h.8M515.1 688.6h.8M534.8 674.5h.8M521.9 682.9h.8M527 690.8h.8M517.7 687.7h.8M519.9 688.2h.8M488.9 692.7h.8M531.8 676.4h.8M536.4 674.6h.8M511.8 681.7h.8M511.5 699.5h.8M529.1 687.4h.8M539 669.2h.8M544.3 666.7h.8M528.1 697.5h.8M521.2 689.1h.8M526.8 682h.8M522.6 694.4h.8M516.3 693.9h.8M507.3 707.4h.8M523.5 687.5h.8M524.2 685.4h.8M503.2 704h.8M524.7 693.6h.8M519.9 685.8h.8M510.8 698.3h.8M534.7 680.9h.8M523.3 687.9h.8M522.3 686h.8M484.8 674.4h.8M517.8 684.1h.8M522.3 680h.8M506 697.9h.8M501.3 704.9h.8M527.4 692h.8M515.4 679.9h.8M495.3 685.2h.8M519.9 706.2h.8M532.8 668.9h.8M509.8 701.2h.8M504.4 686.2h.8M538.1 680.3h.8M508.4 681.7h.8M523.3 691.2h.8M529.2 686.9h.8M515.8 695.9h.8M539 669.7h.8M503.6 691.2h.8M503.7 693.8h.8M504.4 700.6h.8M508.4 693.5h.8M510.1 684.7h.8M527.4 684.7h.8M521.9 707.4h.8M516.1 690.1h.8M532.4 677.7h.8M521.5 702.8h.8M519.7 691.6h.8M504.1 713h.8M540.2 673.4h.8M524.3 679.3h.8M495.5 700.8h.8M524.4 685.5h.8M512.5 691.5h.8M504.3 691.4h.8M500.6 704.3h.8M516.3 691.5h.8M528.7 674.8h.8M516.5 697.3h.8M525.4 703.3h.8M523.5 672.9h.8M520.2 688h.8M506.8 696.3h.8M519.8 686.6h.8M526.5 677.8h.8M527.2 687.1h.8M525.3 682.2h.8M498.8 674.4h.8M526.2 701.8h.8M496.7 686.3h.8M531.5 671h.8M527.1 684.5h.8M511.3 693h.8M496.4 707.3h.8M521.7 684.4h.8M526.6 677.2h.8M510.1 699.7h.8M533.2 678.5h.8M495.5 718.7h.8M480.5 699.9h.8M520.1 675.8h.8M506.9 689.8h.8M512.6 685h.8M535.3 685.9h.8M523.4 698.3h.8M508.8 691h.8M527.3 709.7h.8M521.7 692.4h.8M510.2 707.1h.8M528.4 692.5h.8M505.9 679.6h.8M506.1 698.6h.8M518.6 689.3h.8M527.8 690.1h.8M526.6 690.5h.8M519.3 674.9h.8M522.3 674.4h.8M518.5 682.8h.8M519.6 687.6h.8M517.3 695.6h.8M530.6 681.1h.8M516.1 691.8h.8M481.4 704.4h.8M526 678h.8M507.1 675.9h.8M509.3 686.3h.8M515.2 695h.8M503.4 701.3h.8M528.9 691.3h.8M528 684.3h.8M528.6 684.5h.8M528.3 679.1h.8M510.3 680.4h.8M526.3 681.2h.8M505.4 696.2h.8M517.1 706h.8M513.7 697.4h.8M514.6 678.4h.8M515.6 687.6h.8M517.9 698.6h.8M527.1 697.8h.8M525.7 696.2h.8M508.5 701.5h.8M520.4 685.1h.8M532.4 677.6h.8M510.9 687.7h.8M507.1 681.2h.8M516.9 681.7h.8M522.7 691.5h.8M526.4 678.7h.8M549.6 665.4h.8M508.2 695.3h.8M513.9 688.2h.8M517.1 689.2h.8M521.7 686.1h.8M492.4 695.1h.8M513.7 691.7h.8M513.6 690.7h.8M519.6 692.9h.8M514.2 685.3h.8M496.8 697.6h.8M500.9 687.7h.8M516.2 693.9h.8M530 673.1h.8M503.6 692.1h.8M522.6 690.5h.8M506.5 688.4h.8M524.5 689.1h.8M535 669.4h.8M527.1 680.8h.8M520.5 696.5h.8M510.4 689.3h.8M509.1 710.3h.8M516.9 682.1h.8M535 674.1h.8M518.7 691.6h.8M518.6 688.9h.8M523.5 686.1h.8M527.5 680.3h.8M514.7 680.9h.8M511.7 697.1h.8M521 690h.8M514.7 691.7h.8M530.2 683.1h.8M522.8 698.1h.8M506.8 686.5h.8M531.8 686.5h.8M517.8 685.8h.8M512.8 690.6h.8M495.8 689.2h.8M504.4 711h.8M526.6 688.9h.8M517.8 699.4h.8M518.2 687.4h.8M505.3 684.5h.8M516.4 708.2h.8M523.5 669.8h.8M531.6 691.5h.8M529 687.1h.8M532 674h.8M531.5 682.1h.8M521.9 687.3h.8M502.1 688.2h.8M517.2 693.7h.8M516.7 694.4h.8M524.9 682.4h.8M504.7 716.2h.8M522.1 692.4h.8M513.7 694.8h.8M548.7 666.2h.8M519.8 699h.8M519.8 680.7h.8M513 678.9h.8M512 701.1h.8M512 690.6h.8M514.5 702.9h.8M500 695.7h.8M499.8 696h.8M541 693.6h.8M534.9 683.4h.8M502 701.3h.8M525.7 677.4h.8M534.5 682.2h.8M532.1 676.5h.8M521.8 679.2h.8M519.6 678.3h.8M520.9 691.5h.8" fill="none" stroke="#2a3cff" stroke-width="0.8" opacity="0.75"/>
<path d="M527.7 680.8h.8M529 668.8h.8M513.3 691.6h.8M523.8 692.4h.8M529.6 675.4h.8M524.2 685.8h.8M523.3 676.9h.8M520.2 683.5h.8M513.9 684.5h.8M515.8 697.4h.8M515.5 688.2h.8M509.3 686.5h.8M509.9 679h.8M514.3 686.3h.8M509.9 689.4h.8M521.3 682.3h.8M526.1 687.2h.8M512.6 689.7h.8M516.2 677.6h.8M510.9 687.9h.8M509.7 691h.8M523.9 685.4h.8M526.2 680.7h.8M526.7 688.5h.8M520.9 678.3h.8M538.1 675.9h.8M536.4 677.7h.8M509.7 688.6h.8M519.1 687.3h.8M522 682.8h.8M528 683.5h.8M526.7 686.3h.8M524.2 696.5h.8M508.8 697.1h.8M526.3 692.8h.8M522.1 681.2h.8M526.2 685.4h.8M533 673.2h.8M517.2 683.8h.8M516.8 684.9h.8M504.7 688.4h.8M521.9 688.1h.8M516.3 704.6h.8M515.4 688.3h.8M514.4 702.7h.8M516.6 692.1h.8M510.4 692.9h.8M524.3 682.2h.8M529 691.4h.8M519.9 687h.8M529.7 675.7h.8M524.4 680.9h.8M525.5 687.1h.8M524 683.6h.8M508.8 702.4h.8M520.2 684.1h.8M517.7 686.8h.8M508.5 695.6h.8M513 693.9h.8M504.4 695.3h.8M527 681.7h.8M523.1 684.5h.8M518.9 691.7h.8M517.4 686.2h.8M518.4 695.6h.8M520.4 684h.8M529.6 682.2h.8M527.2 676.6h.8M518.5 681.8h.8M533 678.9h.8M538.2 672.8h.8M532.3 686.4h.8M511.3 691.7h.8M527.2 684.9h.8M534.6 680.2h.8M497.7 696.6h.8M528.9 671h.8M520.4 678.7h.8M523.7 680h.8M526.3 696.7h.8M523.4 683.7h.8M513.7 692.1h.8M531.7 678.5h.8M534 677.9h.8M520.3 677h.8M520.5 675.6h.8M523.2 683.7h.8M527.3 681.2h.8M524.7 682.9h.8M534.6 678.7h.8M514.3 709.1h.8M505.8 690.9h.8M502.1 695.1h.8M518.4 685.9h.8M520.8 686h.8M522.9 682.2h.8M526.2 683.7h.8M510.7 685h.8M520.6 679.9h.8M528.9 682.7h.8M532.3 681.6h.8M515.3 687.1h.8M508.7 704.7h.8M523.3 683.2h.8M504.2 691.7h.8M510.9 717.2h.8M524.5 679.3h.8M533.7 681.9h.8M521.2 683.6h.8M530.8 683.6h.8M530.7 680.1h.8M531.1 679.9h.8M522.7 684.3h.8M510.1 690h.8M534 678.4h.8M516 679.2h.8M506.8 683.1h.8M514.2 687.8h.8M525.9 680.8h.8M522.6 697.3h.8M529.8 676.6h.8M505.3 690.9h.8M514.7 688.5h.8M523.2 683.7h.8M513.9 678h.8M515 696.5h.8M533.3 680.4h.8M520 677h.8M515 689.1h.8M511.2 706.7h.8M521.5 689.5h.8M511.4 687.5h.8M523.4 686.8h.8M515.9 694.1h.8M527.2 686h.8M510.9 695.5h.8M532.1 674.2h.8M516.7 686.3h.8M526.1 686.5h.8M525.3 676.7h.8M518 687.4h.8M511.7 685.3h.8M529.4 679h.8M532.2 681.2h.8M512.2 687.4h.8M510.5 687.3h.8M512.8 687.1h.8M516.2 683.5h.8M523.7 684.1h.8M493.1 696.3h.8M520.2 684.1h.8M521.8 681.5h.8M512.4 684.8h.8M508.4 692h.8M532.2 684.3h.8M517.8 687.4h.8M525.9 677.8h.8M522.6 675.5h.8M520 701.6h.8M514.9 686.7h.8M509.3 682.3h.8M514.2 684.3h.8M522.9 683.1h.8M515.9 682.8h.8M518.4 683h.8M523.3 675.4h.8M519.9 687.3h.8M520.2 686.2h.8M522.1 684.5h.8M532.4 684h.8M507.8 701.6h.8M518.8 674.1h.8M511.1 685.8h.8M527.3 686.8h.8M522 678.9h.8M500 688.8h.8M528.6 689.2h.8M515.3 692h.8M513.7 702.9h.8M531.1 684.8h.8M530.5 678.7h.8M530.2 691.1h.8M514.2 693.9h.8M520.1 682.7h.8M518.2 682.3h.8M534.6 685.3h.8M523.2 683.7h.8M517.7 693.4h.8M523.3 691.7h.8M517.7 686.7h.8M525.8 683.1h.8M510.9 706.8h.8M522.7 683.6h.8M519.8 680.3h.8M508.9 694.6h.8M515.3 685.3h.8M522.7 688.7h.8M518.4 696.7h.8M524.3 690.7h.8M528.7 674.8h.8M521.5 695.8h.8M522 684.1h.8M508.6 693.2h.8M515.2 687.7h.8M515.6 687.6h.8M491.9 692.3h.8M514 691.4h.8M526.1 685h.8M533.4 681.4h.8M525.4 687h.8M519.5 684.5h.8M533.9 671.3h.8M515.5 709h.8M510.3 701.3h.8M512.5 694.6h.8M493.2 699.9h.8M526.5 678.3h.8M516.8 696.9h.8M520.7 696.5h.8M516.6 693.1h.8M509.4 688.3h.8M528.1 682.3h.8M528.3 677h.8M516.7 690.6h.8M526.6 677.4h.8M502.5 685.8h.8M514.6 692.8h.8M512.2 680.3h.8M522.6 683.8h.8M518 677.4h.8M527.3 679.3h.8M520.8 681.9h.8M509.8 702.6h.8M536.4 678.6h.8M522.1 696h.8M512.6 688.6h.8M525.8 677.1h.8M520.6 683.5h.8M517.2 690.8h.8M522.5 692.7h.8" fill="none" stroke="#2040ff" stroke-width="0.8" opacity="0.9"/>
<g filter="url(#fb)">
<path d="M537.9 671.7L538.1 672.8L537.5 674.6L536.2 677.1L534.3 680.3L531.9 684L529.1 687.9L526 691.8L522.6 695.3L519.1 698.3L515.5 700.6L512 701.9L508.9 702.2L506.2 701.5L504.1 699.9L503 697.7L502.8 694.9L503.6 691.8L505.5 688.7L508.3 685.5L511.9 682.6L516 679.8L520.4 677.4L524.7 675.3L528.7 673.6L532.2 672.3L534.9 671.5L536.8 671.3Z" fill="#3050ff" opacity="0.35"/>
<path d="M536 673.2L536.1 674.2L535.6 675.7L534.6 677.9L533 680.5L531 683.6L528.6 686.9L526 690.1L523.2 693.1L520.2 695.7L517.2 697.5L514.3 698.6L511.6 698.9L509.4 698.3L507.7 697L506.7 695.1L506.5 692.8L507.2 690.2L508.8 687.5L511.1 684.9L514.2 682.4L517.6 680.1L521.3 678.1L524.9 676.3L528.3 674.9L531.2 673.8L533.5 673.1L535.1 672.9Z" fill="#2a58fa" opacity="0.7"/>
<path d="M533.8 675L534 675.7L533.6 677L532.7 678.6L531.5 680.7L529.9 683.2L528.1 685.7L526 688.3L523.8 690.6L521.4 692.6L519.1 694.1L516.8 695L514.7 695.2L512.9 694.7L511.6 693.7L510.8 692.2L510.7 690.4L511.2 688.3L512.5 686.2L514.3 684.2L516.7 682.2L519.4 680.4L522.3 678.8L525.2 677.5L527.8 676.3L530.1 675.5L531.9 674.9L533.2 674.8Z" fill="#2496ee" opacity="1"/>
<path d="M532.2 676.4L532.3 677L532 677.9L531.3 679.3L530.4 680.9L529.1 682.8L527.7 684.8L526 686.9L524.3 688.7L522.4 690.3L520.6 691.4L518.8 692.1L517.1 692.3L515.7 691.9L514.7 691.1L514.1 689.9L513.9 688.5L514.4 686.9L515.4 685.2L516.8 683.6L518.7 682.1L520.8 680.7L523.1 679.4L525.3 678.3L527.4 677.4L529.2 676.8L530.7 676.3L531.6 676.2Z" fill="#22c4d4" opacity="1"/>
<path d="M530.9 677.5L531 677.9L530.7 678.7L530.2 679.8L529.4 681.1L528.5 682.6L527.3 684.1L526 685.7L524.6 687.2L523.2 688.4L521.7 689.4L520.3 689.9L519 690L517.9 689.7L517.1 689.1L516.6 688.2L516.5 687L516.9 685.8L517.6 684.5L518.8 683.2L520.2 682L521.9 680.9L523.7 679.9L525.5 679L527.1 678.3L528.6 677.8L529.7 677.4L530.5 677.3Z" fill="#2fd07c" opacity="1"/>
<path d="M529.6 678.6L529.7 678.9L529.5 679.5L529.1 680.2L528.5 681.2L527.8 682.3L527 683.5L526 684.6L525 685.7L524 686.6L522.9 687.3L521.8 687.7L520.9 687.7L520.1 687.5L519.5 687.1L519.1 686.4L519.1 685.6L519.3 684.6L519.9 683.7L520.7 682.7L521.8 681.9L523 681L524.3 680.3L525.6 679.7L526.8 679.2L527.9 678.8L528.7 678.5L529.3 678.5Z" fill="#8ee02c" opacity="1"/>
<path d="M528.4 679.6L528.5 679.8L528.3 680.2L528.1 680.7L527.7 681.3L527.2 682L526.7 682.8L526 683.6L525.4 684.3L524.7 684.9L523.9 685.4L523.3 685.6L522.6 685.7L522.1 685.5L521.7 685.2L521.4 684.8L521.4 684.2L521.6 683.6L521.9 683L522.5 682.4L523.2 681.8L524 681.2L524.9 680.7L525.8 680.3L526.6 680L527.3 679.7L527.8 679.6L528.2 679.5Z" fill="#f4d020" opacity="1"/>
<path d="M527.5 680.4L527.5 680.5L527.4 680.7L527.3 681L527 681.4L526.8 681.8L526.4 682.3L526 682.8L525.6 683.2L525.2 683.6L524.8 683.8L524.4 684L524 684L523.7 683.9L523.4 683.8L523.3 683.5L523.3 683.2L523.4 682.8L523.6 682.4L523.9 682L524.4 681.7L524.8 681.4L525.4 681.1L525.9 680.8L526.4 680.6L526.8 680.5L527.1 680.4L527.3 680.3Z" fill="#f87a1c" opacity="1"/>
<path d="M526.7 681L526.7 681.1L526.7 681.2L526.6 681.3L526.5 681.5L526.4 681.7L526.2 681.9L526.1 682.1L525.9 682.3L525.7 682.5L525.5 682.6L525.3 682.7L525.1 682.7L525 682.7L524.9 682.6L524.8 682.4L524.8 682.3L524.8 682.1L524.9 681.9L525.1 681.8L525.3 681.6L525.5 681.5L525.7 681.3L526 681.2L526.2 681.1L526.4 681.1L526.5 681L526.6 681Z" fill="#f03a14" opacity="1"/>
</g>
</g>
<rect x="467.6" y="603.4" width="113.5" height="113.6" fill="none" stroke="#4a4a4a" stroke-width="0.6"/>
<line x1="495.6" y1="603.4" x2="495.6" y2="717" stroke="#000" stroke-width="0.9"/>
<line x1="467.6" y1="681.2" x2="581.1" y2="681.2" stroke="#000" stroke-width="0.9"/>
<text x="462.8" y="615.6" font-size="4" fill="#111" stroke="#111" stroke-width="0.25" text-anchor="end">10<tspan dy="-1.7" font-size="3.2">6</tspan></text>
<text x="462.8" y="635.7" font-size="4" fill="#111" stroke="#111" stroke-width="0.25" text-anchor="end">10<tspan dy="-1.7" font-size="3.2">5</tspan></text>
<text x="462.8" y="656.2" font-size="4" fill="#111" stroke="#111" stroke-width="0.25" text-anchor="end">10<tspan dy="-1.7" font-size="3.2">4</tspan></text>
<text x="462.8" y="676.9" font-size="4" fill="#111" stroke="#111" stroke-width="0.25" text-anchor="end">10<tspan dy="-1.7" font-size="3.2">3</tspan></text>
<text x="462.8" y="697.1" font-size="4" fill="#111" stroke="#111" stroke-width="0.25" text-anchor="end">10<tspan dy="-1.7" font-size="3.2">2</tspan></text>
<text x="462.8" y="715.9" font-size="4" fill="#111" stroke="#111" stroke-width="0.25" text-anchor="end">10<tspan dy="-1.7" font-size="3.2">1</tspan></text>
<text x="469.2" y="727" font-size="4" fill="#111" stroke="#111" stroke-width="0.25" text-anchor="start">10<tspan dy="-1.7" font-size="3.2">1</tspan></text>
<text x="499.6" y="727" font-size="4" fill="#111" stroke="#111" stroke-width="0.25" text-anchor="start">10<tspan dy="-1.7" font-size="3.2">3</tspan></text>
<text x="532" y="727" font-size="4" fill="#111" stroke="#111" stroke-width="0.25" text-anchor="start">10<tspan dy="-1.7" font-size="3.2">5</tspan></text>
<text x="564.4" y="727" font-size="4" fill="#111" stroke="#111" stroke-width="0.25" text-anchor="start">10<tspan dy="-1.7" font-size="3.2">7</tspan></text>
<path d="M467.6 614h-3M467.6 628.05h-1.5M467.6 624.51h-1.5M467.6 622h-1.5M467.6 620.05h-1.5M467.6 618.46h-1.5M467.6 617.11h-1.5M467.6 615.95h-1.5M467.6 614.92h-1.5M467.6 634.1h-3M467.6 648.43h-1.5M467.6 644.82h-1.5M467.6 642.26h-1.5M467.6 640.27h-1.5M467.6 638.65h-1.5M467.6 637.28h-1.5M467.6 636.09h-1.5M467.6 635.04h-1.5M467.6 654.6h-3M467.6 669.07h-1.5M467.6 665.42h-1.5M467.6 662.84h-1.5M467.6 660.83h-1.5M467.6 659.19h-1.5M467.6 657.81h-1.5M467.6 656.61h-1.5M467.6 655.55h-1.5M467.6 675.3h-3M467.6 689.42h-1.5M467.6 685.86h-1.5M467.6 683.34h-1.5M467.6 681.38h-1.5M467.6 679.78h-1.5M467.6 678.43h-1.5M467.6 677.26h-1.5M467.6 676.22h-1.5M467.6 695.5h-3M467.6 708.64h-1.5M467.6 705.33h-1.5M467.6 702.98h-1.5M467.6 701.16h-1.5M467.6 699.67h-1.5M467.6 698.41h-1.5M467.6 697.32h-1.5M467.6 696.36h-1.5M467.6 714.3h-3M467.6 717v2.6M472.48 717v1.4M475.33 717v1.4M477.35 717v1.4M478.92 717v1.4M480.21 717v1.4M481.29 717v1.4M482.23 717v1.4M483.06 717v1.4M483.8 717v2.6M488.68 717v1.4M491.53 717v1.4M493.55 717v1.4M495.12 717v1.4M496.41 717v1.4M497.49 717v1.4M498.43 717v1.4M499.26 717v1.4M500 717v2.6M504.88 717v1.4M507.73 717v1.4M509.75 717v1.4M511.32 717v1.4M512.61 717v1.4M513.69 717v1.4M514.63 717v1.4M515.46 717v1.4M516.2 717v2.6M521.08 717v1.4M523.93 717v1.4M525.95 717v1.4M527.52 717v1.4M528.81 717v1.4M529.89 717v1.4M530.83 717v1.4M531.66 717v1.4M532.4 717v2.6M537.28 717v1.4M540.13 717v1.4M542.15 717v1.4M543.72 717v1.4M545.01 717v1.4M546.09 717v1.4M547.03 717v1.4M547.86 717v1.4M548.6 717v2.6M553.48 717v1.4M556.33 717v1.4M558.35 717v1.4M559.92 717v1.4M561.21 717v1.4M562.29 717v1.4M563.23 717v1.4M564.06 717v1.4M564.8 717v2.6M569.68 717v1.4M572.53 717v1.4M574.55 717v1.4M576.12 717v1.4M577.41 717v1.4M578.49 717v1.4M579.43 717v1.4M580.26 717v1.4M581 717v2.6" fill="none" stroke="#1a1a1a" stroke-width="0.65"/>
<text x="469.3" y="611.8" font-size="4.5" fill="#111" stroke="#111" stroke-width="0.22">Q1</text>
<text x="469.3" y="619" font-size="4.5" fill="#111" stroke="#111" stroke-width="0.22">0</text>
<text x="571.5" y="611.8" font-size="4.5" text-anchor="end" fill="#111" stroke="#111" stroke-width="0.22">Q2</text>
<text x="571.5" y="619" font-size="4.5" text-anchor="end" fill="#111" stroke="#111" stroke-width="0.22">17.8</text>
<text x="469.3" y="702.8" font-size="4.5" fill="#111" stroke="#111" stroke-width="0.22">Q4</text>
<text x="469.3" y="710" font-size="4.5" fill="#111" stroke="#111" stroke-width="0.22">0.10</text>
<text x="571.5" y="702.8" font-size="4.5" text-anchor="end" fill="#111" stroke="#111" stroke-width="0.22">Q3</text>
<text x="571.5" y="710" font-size="4.5" text-anchor="end" fill="#111" stroke="#111" stroke-width="0.22">82.1</text>
<clipPath id="fc10"><rect x="57.65" y="757.9" width="113.5" height="114.1"/></clipPath>
<g clip-path="url(#fc10)">
<path d="M101 828.4h.8M98.2 844.2h.8M80.6 851.7h.8M58.1 826h.8M106.6 845.1h.8M71.9 836.9h.8M79.6 840.6h.8M108.9 829.5h.8M73.9 890.6h.8M91.5 852.8h.8M81.6 848.4h.8M104.3 832h.8M73.9 909.4h.8M118.8 823.5h.8M67.4 864h.8M50.5 859.8h.8M106 849.6h.8M101 824.5h.8M62.1 863.8h.8M95.1 851.2h.8M64.9 882.1h.8M77.3 856.3h.8M69.9 873.9h.8M78.3 843.2h.8M87 855.9h.8M94.5 837.9h.8M105.8 852.9h.8M108.2 835h.8M91.7 854.1h.8M74.6 873h.8M62.5 844.3h.8M101.1 856.7h.8M39.1 882.8h.8M80.6 870.3h.8M89.1 844.1h.8M69.6 867.2h.8M66.6 892.4h.8M101.7 845.4h.8M78.6 865.5h.8M82.4 841.8h.8M62.6 884h.8M51.6 839.3h.8M94.5 863.1h.8M71.8 864.3h.8M52.3 868h.8M79.9 859.4h.8M46.2 870.3h.8M100.2 844.6h.8M52.4 870.2h.8M85.1 837h.8M75.6 836.2h.8M86 894.2h.8M93.4 877.3h.8M85.9 815.9h.8M98 840.5h.8M67.8 858.2h.8M112.5 823.2h.8M90.9 875h.8M80.5 860.4h.8M86.7 827.6h.8M56.6 839.6h.8M63.6 898.7h.8M87.8 862h.8M104 847.5h.8M61.7 863.2h.8M57.7 882.1h.8M71.9 840.5h.8M80.9 853.6h.8M79.4 862.5h.8M55 892.5h.8M91.8 844.8h.8M103.3 857.9h.8M72.4 847.1h.8M92.1 838.1h.8M86.9 852.5h.8M76.1 882.2h.8M76.1 861.8h.8M59.4 855.9h.8M71.7 863.6h.8M96.1 860.9h.8M72.7 870h.8M86 844.3h.8M84.2 831.9h.8M76.3 837.2h.8M95.1 849.5h.8M51.6 867.2h.8M99.3 873.8h.8M81.9 859.4h.8M64.8 863.3h.8M102.2 837.4h.8M60.3 890.1h.8M95.7 849.2h.8M81.1 874.1h.8M98.6 841.5h.8M39.5 879.4h.8M51.2 888.2h.8M117.3 833.8h.8M81.7 851h.8M94.9 834.1h.8M83 846.9h.8M84.3 898.3h.8M67.3 854.3h.8M50.5 901h.8M62 891.2h.8M94.7 830.7h.8M63.6 841.9h.8M102.5 828.6h.8M108.3 841.2h.8M84.9 841.3h.8M42.5 906.6h.8" fill="none" stroke="#6a7cff" stroke-width="0.8" opacity="0.6"/>
<path d="M106.1 859h.8M101.8 857.2h.8M85.1 841.1h.8M109.1 827.9h.8M102.5 828.7h.8M94.5 848.7h.8M99.1 836.2h.8M94.9 844h.8M100.6 841.5h.8M101 848.6h.8M107.7 838.6h.8M108.9 842.4h.8M107 838.6h.8M54.7 851h.8M99.2 838.3h.8M86.4 859.8h.8M105 831.6h.8M107 843.8h.8M78.5 853.3h.8M98.3 841.4h.8M98.3 834.8h.8M98.3 851.1h.8M113.3 829h.8M96.5 835.7h.8M111.7 846.8h.8M91.8 842h.8M97.7 840.3h.8M88.8 842.5h.8M103.2 842.7h.8M101.3 835.7h.8M106.3 828.3h.8M87.2 849.5h.8M80.2 841.2h.8M89.2 837h.8M113 825.1h.8M76.6 857.4h.8M107.5 843.2h.8M93.7 842.2h.8M86.9 854.2h.8M105.3 836.2h.8M91.1 823.4h.8M100.8 852.8h.8M99.1 849.9h.8M113 829.1h.8M116.8 822.8h.8M99 828.7h.8M95.1 847h.8M111.9 824.4h.8M73 839.3h.8M82.7 847.8h.8M113.4 826.7h.8M106.2 834h.8M107.9 838.3h.8M105.4 845.5h.8M116.4 824.7h.8M95.1 843.1h.8M77.9 859.5h.8M105.4 833.3h.8M111.3 836.1h.8M67.5 867.9h.8M96.2 838.9h.8M99.2 850.6h.8M110.7 835.1h.8M90.9 849h.8M100.7 839.2h.8M82.2 858.2h.8M82.5 861.4h.8M96.5 838h.8M109.4 832.9h.8M100.9 831.6h.8M124.2 818.2h.8M76.1 850.7h.8M116.9 837.5h.8M89.6 859.9h.8M113.1 845.1h.8M109.4 828.5h.8M95.3 835.8h.8M91.1 866.4h.8M93 849.2h.8M105.9 823h.8M98.5 832.7h.8M91 834.1h.8M103.6 834h.8M96.9 840.8h.8M108.1 841h.8M98.8 824.2h.8M62 844h.8M107.5 829.1h.8M113.4 827.3h.8M110.6 835.4h.8M95.2 845h.8M78.5 842h.8M96.8 851.4h.8M90.2 856.5h.8M88.6 856.1h.8M91 835.3h.8M89.1 851.7h.8M60.1 880.8h.8M94.2 835.2h.8M83.7 862.2h.8M127.1 819.2h.8M114.5 823.9h.8M90.7 838.4h.8M100 833.3h.8M131.2 812.9h.8M87.2 851.8h.8M96 845.9h.8M87.8 847.4h.8M105.5 859.5h.8M78.3 863.7h.8M104 835h.8M105.4 832h.8M114.1 833.4h.8M84.8 848.4h.8M110.8 841.2h.8M100.3 859.8h.8M108.8 841.8h.8M101.9 834.2h.8M94 872.4h.8M102.5 834.4h.8M103.6 826.1h.8M89.3 841.1h.8M118.1 829.6h.8M93.4 843.4h.8M114.7 828.2h.8M106.5 841.6h.8M92.5 846.3h.8M115.9 826.8h.8M115.7 833.4h.8M93.4 852.6h.8M93.3 842.5h.8M89.4 837.3h.8M109.1 835.1h.8M110.5 837h.8M111 830h.8M109.7 842.6h.8M107.4 836.9h.8M107 843.7h.8M115.7 835.9h.8M99.2 844h.8M91.3 862.4h.8M85.2 867.4h.8M113.3 828.7h.8M89.1 843.2h.8M93.7 840.9h.8M97 838.9h.8M109.5 832.1h.8M109.7 834.2h.8M92.4 863.7h.8M95.8 865.7h.8M112.2 832.6h.8M96.2 828.4h.8M111.1 843.2h.8M91.4 835.3h.8M95.1 849.1h.8M113 836h.8M102 837.3h.8M123.8 825.5h.8M92.4 841.1h.8M103.6 839.4h.8M100.4 850.4h.8M114.2 827.3h.8M93.4 827.2h.8M106.3 837.8h.8M91.8 847.4h.8M106.7 829.4h.8M98.5 839h.8M117.8 826.8h.8M112.7 836h.8M98.5 848.2h.8M109.9 843h.8M100.9 832.1h.8M81.5 852.3h.8M89.6 836.4h.8M102.6 824.7h.8M104.4 832.2h.8M87.2 849.5h.8M90.6 851.2h.8M94.2 835.6h.8M111.9 827.4h.8M88.2 854.7h.8M110.5 846.5h.8M91.9 830.6h.8M94.7 842.5h.8M109.3 830.1h.8M99.4 845.5h.8M88.7 849h.8M100.7 852.4h.8M86 846.4h.8M97.3 836.6h.8M81.7 851.7h.8M96.2 838.5h.8M116.7 840.1h.8M113 831.4h.8M105.8 831.9h.8M100.9 841.6h.8M86.7 862.6h.8M92.1 835.2h.8M79.8 844.9h.8M94.3 841h.8M99.4 842.5h.8M111.9 829.3h.8M117.6 829h.8M98.3 832.7h.8M88.1 846.9h.8M106.5 849.7h.8M103.3 833.4h.8M94.2 838.1h.8M82.3 862.3h.8M89.4 865.8h.8M98.9 836.6h.8M109.8 841.3h.8M109.2 829h.8M79.2 855.1h.8M79.6 838h.8M112.7 834.4h.8M94.2 850.7h.8M107.6 833.7h.8M105.5 844.6h.8M113.4 832.3h.8M94.3 853.4h.8M113.3 830.2h.8M101.3 825.5h.8M101.2 851.9h.8M105.4 835.9h.8M111.2 845.1h.8M86.3 862.9h.8M105.7 853.2h.8M111 840.2h.8M105.9 841.3h.8M85.7 853.7h.8M102.3 828h.8M111.9 828.6h.8M106.9 830.2h.8M83.9 840.7h.8M104.4 844.9h.8M90.8 843.3h.8M92 859.3h.8M105.6 842.5h.8M98.5 847.3h.8M100.5 845.8h.8M103.5 843.8h.8M89.1 847.4h.8M95.4 862.1h.8M116.4 838.6h.8M102.8 842.4h.8M102.5 846.1h.8M95.1 846.4h.8M104.1 834.5h.8M100.2 833.3h.8M102.7 828.5h.8M93.6 842.4h.8M116.9 833.6h.8M102.5 843.8h.8M87.9 842.7h.8M94.6 838.9h.8M101.4 830.3h.8M106.2 833.1h.8M103 829.5h.8M112.5 824.1h.8M99.3 844.6h.8M119.9 825.5h.8M105.4 839.8h.8M104 837.5h.8M94.4 841.9h.8M111.6 830.1h.8M99 840.5h.8M104.1 852.5h.8M91.9 853.6h.8M97.1 850.8h.8M91.8 851h.8M104.4 838.8h.8M109.1 842.7h.8M94.9 858.5h.8M97.6 835.6h.8M104.1 831.3h.8M73.3 849.2h.8M108.4 830.2h.8M107.1 834.3h.8M109.7 839.8h.8" fill="none" stroke="#2a3cff" stroke-width="0.8" opacity="0.75"/>
<path d="M108.5 834.2h.8M90.4 846.7h.8M101.5 850.1h.8M90.9 851.4h.8M105.5 829.2h.8M100.8 839.9h.8M98.3 849.7h.8M103.6 831.9h.8M91.6 850.4h.8M107.4 843.2h.8M103 835.7h.8M114.7 828.8h.8M105.7 829.9h.8M109.2 832.7h.8M91.9 833.8h.8M95.4 837.1h.8M91.7 849.1h.8M109.6 844.5h.8M111.9 836.3h.8M112.7 836h.8M100.3 828h.8M102.5 836.6h.8M113.6 830.7h.8M114.4 827.9h.8M102.6 838h.8M104.3 826.6h.8M100.7 837.2h.8M104.3 839.3h.8M103.8 843.7h.8M104.3 829.3h.8M108.7 844h.8M91.1 841.5h.8M102 842.6h.8M93.8 839.2h.8M94.9 840.1h.8M88.9 838.7h.8M99.1 840.8h.8M90.1 843.7h.8M99 837.8h.8M108.5 831.3h.8M86.7 850.3h.8M102.7 851.7h.8M98.8 840.1h.8M102.8 835.8h.8M100 839.7h.8M92.3 846h.8M94.8 851.6h.8M113.2 839h.8M108.1 834.7h.8M112.1 828h.8M107 838.5h.8M105.5 849.1h.8M102.8 839.1h.8M93.4 843.2h.8M99.1 844.2h.8M121.8 821h.8M109.5 828.8h.8M96.9 837.3h.8M83.1 830.7h.8M94.2 849.1h.8M99.7 838.2h.8M87.9 845.5h.8M102.1 844.4h.8M88.3 841.7h.8M113.1 828.2h.8M104.3 833.4h.8M88.2 847.2h.8M90.1 839.6h.8M97.6 838.7h.8M111.6 833.8h.8M107.4 834.3h.8M109.5 835h.8M81.4 843.2h.8M89.6 845.1h.8M110.3 838.5h.8M87 837.7h.8M106.4 836.6h.8M91.3 846.8h.8M97.7 832.7h.8M97.1 830.5h.8M107.4 837.9h.8M104.8 831.9h.8M85.3 842h.8M86.6 840.5h.8M112.4 829h.8M95.9 828.1h.8M109.4 843.3h.8M87.7 847.8h.8M107.8 832h.8M100.6 840.4h.8M108.6 824.1h.8M102.9 841h.8M91.9 855.7h.8M94.9 843.2h.8M94 837.1h.8M92.8 838.1h.8M103.2 833.6h.8M101.3 847.4h.8M104 837.3h.8M106.6 839.2h.8M103.8 830h.8M90.5 845.2h.8M119.5 821.3h.8M108 835.2h.8M105.1 847h.8M94.8 847.3h.8M100.8 839.8h.8M95.6 846h.8M95.1 843.7h.8M102.6 830.7h.8M96 843.7h.8M110.9 832.5h.8M96 845.2h.8M111.3 824.5h.8M115.5 829.2h.8M90.6 849.9h.8M95.3 834.7h.8M99.1 834.5h.8M82.1 854.2h.8M105.4 842.1h.8M114.1 825.6h.8M116.5 823.8h.8M69.2 844.3h.8M96.9 835.7h.8M92.5 837.5h.8M107.8 825.9h.8M93.5 835h.8M104.5 844.3h.8M102.7 843.9h.8M108.1 833.4h.8M100.6 838.9h.8M101 834.3h.8M103.3 839.6h.8M95.8 855.3h.8M101.5 842.6h.8M104.3 832.4h.8M92.6 840h.8M89.2 846.6h.8M113 835.8h.8M100.8 840.7h.8M106.3 840.4h.8M108.7 838.4h.8M116.2 823.9h.8M111.1 839h.8M105.9 836.5h.8M118.3 821.1h.8M105.7 834.4h.8M116.8 827.8h.8M90.4 861.7h.8M106.8 843h.8M103.4 834.9h.8M101.6 838.1h.8M101 835.7h.8M106.6 837.8h.8M102.9 843.1h.8M110.8 828.2h.8M97.4 843.9h.8M97.2 843.6h.8M98.5 840.1h.8M100 846.3h.8M96.8 835.9h.8M105.7 832.4h.8M106.9 835.1h.8M108.8 838.1h.8M107.6 839.6h.8M104.6 828.8h.8M109 829.1h.8M96.9 839.9h.8M104.6 835.2h.8M109.6 838.5h.8M102.4 839.7h.8M101.4 847.8h.8M99.4 837.5h.8M120.2 821.7h.8M92 834h.8M108.6 832.7h.8M96.5 842h.8M89.4 851.2h.8M105.3 841.8h.8M104.4 836.2h.8M108.6 838.5h.8M99.7 828.6h.8M77.3 843.8h.8M120.9 822.2h.8M95.3 835.1h.8M112.7 838.9h.8M111.3 824.6h.8M99.9 842h.8M100.9 843.9h.8M102.3 852.3h.8M101.3 838.2h.8M84.6 847.1h.8M97.2 822.7h.8M108.4 827.3h.8M107.7 839.9h.8M90.9 832.5h.8M94 851.1h.8M101.5 843.1h.8M109.8 835.6h.8M102.5 839.8h.8M107.1 839.9h.8M102 841.8h.8M100.9 845h.8M91 843.5h.8M105.4 841.9h.8M86.7 848h.8M99 854.6h.8M108.8 831.1h.8M92.2 848.7h.8M98.3 839.4h.8M112 828.2h.8M115.3 829h.8M102.1 837.3h.8M115.7 828.9h.8M116.3 822.5h.8M98.5 848.8h.8M108.6 832.6h.8M113.3 828.4h.8M96 839.8h.8M99.1 841.7h.8M98.9 845.8h.8M103.4 837.9h.8M109 837.7h.8M102.3 838.9h.8M112.5 832.2h.8M95.5 841h.8M106.8 828.3h.8M105.3 836.6h.8M103.4 838.5h.8M107.4 835h.8M88.9 845h.8M99.8 834.8h.8M105.5 835.3h.8M92.9 835.8h.8M91.3 842.2h.8M92.9 834.3h.8M108.4 828.3h.8M113.3 827.7h.8M110.2 833.2h.8M107.3 842.2h.8" fill="none" stroke="#2040ff" stroke-width="0.8" opacity="0.9"/>
<path d="M84.4 842.3h.8M90.4 842.2h.8M94 846.1h.8M90 844.3h.8M87.5 844.7h.8M89.2 843h.8M81.6 844.8h.8M87.1 841.1h.8M88.6 842.4h.8M93.6 846.1h.8M92.5 846.9h.8M90.7 842.7h.8M85.9 844.3h.8M79.4 843.4h.8M91.3 844.4h.8M85.3 843.1h.8M84.9 841.7h.8M80.6 842.3h.8M79.5 843h.8M90.7 839.3h.8M95.8 842.6h.8M91.3 843.4h.8M86.7 845.4h.8M88.9 842h.8M82.4 840.8h.8M94.9 843.9h.8M79.6 841.3h.8M89.4 841.3h.8M91.4 842.8h.8M90.2 840.5h.8M89.1 842.9h.8M83.2 842.1h.8M79.8 840.9h.8M77.7 844.5h.8M92.3 839.9h.8M87.7 838.8h.8M95.3 842.4h.8M91.2 841.4h.8M86.5 840.2h.8M93.9 842h.8M93.2 841.5h.8M86.6 841h.8M92 837.6h.8M85.2 843h.8M89 841.3h.8M95.2 845.3h.8M95.5 842.3h.8M93 842.3h.8M92.7 839.5h.8M88.5 845.2h.8" fill="none" stroke="#2a3cff" stroke-width="0.8" opacity="0.7"/>
<g filter="url(#fb)">
<path d="M119.1 824.1L119.2 825L118.6 826.7L117.3 829.1L115.4 832L113.1 835.5L110.4 839.2L107.5 842.9L104.2 846.4L100.9 849.3L97.5 851.5L94.3 852.8L91.3 853.1L88.8 852.5L86.9 851.1L85.8 849L85.7 846.4L86.6 843.5L88.4 840.6L91.1 837.6L94.6 834.9L98.5 832.3L102.7 830L106.8 828L110.6 826.3L113.9 825L116.4 824.2L118.2 823.8Z" fill="#3050ff" opacity="0.35"/>
<path d="M117.3 825.6L117.4 826.4L116.8 827.8L115.8 829.8L114.2 832.3L112.3 835.2L110 838.3L107.5 841.4L104.8 844.3L102 846.8L99.2 848.6L96.5 849.7L94 850L91.8 849.5L90.3 848.3L89.4 846.5L89.2 844.4L90 841.9L91.5 839.4L93.8 837L96.7 834.6L100 832.5L103.5 830.6L107 828.9L110.2 827.5L112.9 826.4L115.1 825.7L116.5 825.4Z" fill="#2a58fa" opacity="0.7"/>
<path d="M115.3 827.3L115.3 827.9L114.9 829L114.1 830.6L112.8 832.6L111.3 834.8L109.6 837.3L107.6 839.7L105.5 842L103.3 843.9L101 845.4L98.9 846.2L96.9 846.5L95.3 846.1L94 845.1L93.3 843.7L93.2 842L93.8 840.1L95 838.2L96.8 836.2L99.1 834.4L101.7 832.7L104.5 831.2L107.2 829.9L109.7 828.8L111.8 827.9L113.5 827.4L114.7 827.1Z" fill="#2496ee" opacity="1"/>
<path d="M113.7 828.6L113.7 829.1L113.4 830L112.7 831.2L111.8 832.8L110.6 834.6L109.2 836.5L107.6 838.4L106 840.2L104.2 841.7L102.5 842.9L100.8 843.5L99.2 843.7L97.9 843.4L97 842.7L96.4 841.6L96.3 840.2L96.8 838.8L97.7 837.2L99.1 835.7L100.9 834.2L103 832.9L105.2 831.7L107.3 830.7L109.3 829.8L111 829.1L112.3 828.7L113.2 828.5Z" fill="#22c4d4" opacity="1"/>
<path d="M112.4 829.7L112.5 830.1L112.2 830.7L111.7 831.7L110.9 832.9L110 834.3L108.9 835.9L107.7 837.4L106.4 838.8L105 840L103.6 840.9L102.3 841.4L101.1 841.6L100 841.3L99.3 840.7L98.8 839.9L98.8 838.8L99.1 837.7L99.9 836.4L101 835.2L102.4 834.1L104 833L105.7 832.1L107.4 831.3L109 830.6L110.3 830.1L111.4 829.7L112.1 829.6Z" fill="#2fd07c" opacity="1"/>
<path d="M111.2 830.7L111.2 831L111 831.5L110.7 832.2L110.1 833.1L109.4 834.1L108.6 835.2L107.7 836.4L106.8 837.4L105.7 838.3L104.7 838.9L103.8 839.3L102.9 839.4L102.1 839.2L101.6 838.8L101.2 838.2L101.2 837.4L101.4 836.6L102 835.7L102.8 834.8L103.9 833.9L105 833.2L106.3 832.5L107.5 831.9L108.7 831.4L109.6 831L110.4 830.7L110.9 830.6Z" fill="#8ee02c" opacity="1"/>
<path d="M110.1 831.7L110.1 831.8L110 832.2L109.7 832.7L109.3 833.2L108.9 833.9L108.3 834.7L107.8 835.4L107.1 836.1L106.4 836.7L105.8 837.1L105.1 837.4L104.5 837.5L104 837.3L103.6 837.1L103.4 836.6L103.4 836.1L103.6 835.6L103.9 835L104.5 834.4L105.2 833.8L106 833.3L106.8 832.8L107.6 832.4L108.4 832.1L109 831.8L109.5 831.7L109.9 831.6Z" fill="#f4d020" opacity="1"/>
<path d="M109.2 832.4L109.2 832.5L109.1 832.7L109 833L108.7 833.4L108.5 833.8L108.1 834.2L107.8 834.7L107.4 835.1L107 835.4L106.6 835.7L106.2 835.9L105.8 835.9L105.5 835.8L105.3 835.7L105.2 835.4L105.2 835.1L105.3 834.8L105.5 834.4L105.8 834L106.2 833.7L106.7 833.4L107.2 833.1L107.7 832.9L108.2 832.7L108.6 832.5L108.9 832.4L109.1 832.4Z" fill="#f87a1c" opacity="1"/>
<path d="M108.4 833L108.5 833.1L108.4 833.2L108.3 833.3L108.2 833.5L108.1 833.7L108 833.9L107.8 834.1L107.6 834.3L107.4 834.4L107.3 834.5L107.1 834.6L106.9 834.6L106.8 834.6L106.7 834.5L106.6 834.4L106.6 834.3L106.7 834.1L106.8 833.9L106.9 833.8L107.1 833.6L107.3 833.5L107.5 833.4L107.8 833.2L108 833.2L108.2 833.1L108.3 833L108.4 833Z" fill="#f03a14" opacity="1"/>
</g>
</g>
<rect x="57.65" y="757.9" width="113.5" height="114.1" fill="none" stroke="#4a4a4a" stroke-width="0.6"/>
<line x1="86.6" y1="757.9" x2="86.6" y2="872" stroke="#000" stroke-width="0.9"/>
<line x1="57.65" y1="836.9" x2="171.15" y2="836.9" stroke="#000" stroke-width="0.9"/>
<text x="52.85" y="761.2" font-size="4" fill="#111" stroke="#111" stroke-width="0.25" text-anchor="end">10<tspan dy="-1.7" font-size="3.2">9</tspan></text>
<text x="52.85" y="773.4" font-size="4" fill="#111" stroke="#111" stroke-width="0.25" text-anchor="end">10<tspan dy="-1.7" font-size="3.2">8</tspan></text>
<text x="52.85" y="787.7" font-size="4" fill="#111" stroke="#111" stroke-width="0.25" text-anchor="end">10<tspan dy="-1.7" font-size="3.2">7</tspan></text>
<text x="52.85" y="801.7" font-size="4" fill="#111" stroke="#111" stroke-width="0.25" text-anchor="end">10<tspan dy="-1.7" font-size="3.2">6</tspan></text>
<text x="52.85" y="816" font-size="4" fill="#111" stroke="#111" stroke-width="0.25" text-anchor="end">10<tspan dy="-1.7" font-size="3.2">5</tspan></text>
<text x="52.85" y="830.1" font-size="4" fill="#111" stroke="#111" stroke-width="0.25" text-anchor="end">10<tspan dy="-1.7" font-size="3.2">4</tspan></text>
<text x="52.85" y="844" font-size="4" fill="#111" stroke="#111" stroke-width="0.25" text-anchor="end">10<tspan dy="-1.7" font-size="3.2">3</tspan></text>
<text x="52.85" y="858.1" font-size="4" fill="#111" stroke="#111" stroke-width="0.25" text-anchor="end">10<tspan dy="-1.7" font-size="3.2">2</tspan></text>
<path d="M57.65 759.6h-3M57.65 768.13h-1.5M57.65 765.98h-1.5M57.65 764.45h-1.5M57.65 763.27h-1.5M57.65 762.31h-1.5M57.65 761.49h-1.5M57.65 760.78h-1.5M57.65 760.16h-1.5M57.65 771.8h-3M57.65 781.8h-1.5M57.65 779.28h-1.5M57.65 777.49h-1.5M57.65 776.1h-1.5M57.65 774.97h-1.5M57.65 774.02h-1.5M57.65 773.19h-1.5M57.65 772.45h-1.5M57.65 786.1h-3M57.65 795.89h-1.5M57.65 793.42h-1.5M57.65 791.67h-1.5M57.65 790.31h-1.5M57.65 789.21h-1.5M57.65 788.27h-1.5M57.65 787.46h-1.5M57.65 786.74h-1.5M57.65 800.1h-3M57.65 810.1h-1.5M57.65 807.58h-1.5M57.65 805.79h-1.5M57.65 804.4h-1.5M57.65 803.27h-1.5M57.65 802.32h-1.5M57.65 801.49h-1.5M57.65 800.75h-1.5M57.65 814.4h-3M57.65 824.26h-1.5M57.65 821.77h-1.5M57.65 820.01h-1.5M57.65 818.64h-1.5M57.65 817.53h-1.5M57.65 816.58h-1.5M57.65 815.77h-1.5M57.65 815.05h-1.5M57.65 828.5h-3M57.65 838.22h-1.5M57.65 835.77h-1.5M57.65 834.03h-1.5M57.65 832.68h-1.5M57.65 831.58h-1.5M57.65 830.65h-1.5M57.65 829.85h-1.5M57.65 829.14h-1.5M57.65 842.4h-3M57.65 852.26h-1.5M57.65 849.77h-1.5M57.65 848.01h-1.5M57.65 846.64h-1.5M57.65 845.53h-1.5M57.65 844.58h-1.5M57.65 843.77h-1.5M57.65 843.05h-1.5M57.65 856.5h-3" fill="none" stroke="#1a1a1a" stroke-width="0.65"/>
<text x="59.35" y="766.3" font-size="4.5" fill="#111" stroke="#111" stroke-width="0.22">Q1</text>
<text x="59.35" y="773.5" font-size="4.5" fill="#111" stroke="#111" stroke-width="0.22">0.061</text>
<text x="161.55" y="766.3" font-size="4.5" text-anchor="end" fill="#111" stroke="#111" stroke-width="0.22">Q2</text>
<text x="161.55" y="773.5" font-size="4.5" text-anchor="end" fill="#111" stroke="#111" stroke-width="0.22">55.9</text>
<clipPath id="fc11"><rect x="194.4" y="757.9" width="113.5" height="114.1"/></clipPath>
<g clip-path="url(#fc11)">
<path d="M233.1 836.2h.8M222.6 868.4h.8M235 872.4h.8M235.6 841.7h.8M255.1 832.1h.8M241.7 841h.8M241 838.4h.8M236 837.6h.8M180 900.7h.8M190.5 850.5h.8M216.3 850.9h.8M159.2 895.4h.8M193.7 849h.8M234.9 840.3h.8M210 863.2h.8M259.7 819.4h.8M208.1 878.6h.8M217.6 858.2h.8M224.5 861.5h.8M186.3 874.4h.8M248.2 858h.8M172.9 893.5h.8M250.2 827.9h.8M217.5 851.3h.8M164.3 904.6h.8M215.9 871h.8M235.7 848.8h.8M257.7 823.4h.8M219.4 865.6h.8M250 831.2h.8M208.6 895.1h.8M207.3 868.7h.8M241 863h.8M209.6 826.2h.8M238.5 853.6h.8M239.7 832.7h.8M236.4 859.5h.8M220.9 832.6h.8M227.3 843.4h.8M199.6 856h.8M230.7 847.7h.8M236.8 844.8h.8M166.8 900.4h.8M210.4 842h.8M227.3 848.9h.8M171.7 875.4h.8M231.8 838.6h.8M232.2 880.8h.8M206.8 857.9h.8M239.4 829.3h.8M238.4 849.9h.8M193.9 891.7h.8M238.2 847.8h.8M190.7 874.2h.8M197.7 868.5h.8M230 865.2h.8M220.8 843.7h.8M178.5 883.8h.8M201.2 846h.8M217.3 862.2h.8M206.5 841.2h.8M243.6 850h.8M221.2 837.4h.8M239.8 832.2h.8M197.9 895.1h.8M225.9 869.7h.8M231.3 856.4h.8M206.8 857.3h.8M229 847h.8M216.6 859.6h.8M214.6 851.6h.8M206.8 853.5h.8M240.5 834.4h.8M220.7 876.7h.8M237.2 825.9h.8M251 842.4h.8M240.8 835.4h.8M212 858.1h.8M235.8 840.2h.8M227.8 826.5h.8M235.4 852.7h.8M253.4 831h.8M239.3 844h.8M218.4 845.6h.8M240.7 852.6h.8M239.2 831.8h.8M199.5 835.1h.8M204.8 862.6h.8M233.5 852.7h.8M172.4 893.6h.8M234.1 880.2h.8M235.8 844.1h.8M230.5 845.2h.8M206.2 867.3h.8M247.2 826.2h.8M193 853.2h.8M199.9 870.4h.8M216 847.3h.8M204.7 857.9h.8M198.5 854.6h.8M244.8 847.9h.8M194.5 865.8h.8M215 853.5h.8M229.7 850.7h.8M176.5 886.8h.8M193.2 902.9h.8M233.4 854.6h.8M203.8 872.3h.8M236.9 855.9h.8M218.9 842.6h.8" fill="none" stroke="#6a7cff" stroke-width="0.8" opacity="0.6"/>
<path d="M221.8 845.2h.8M229.6 845.9h.8M241.6 828.9h.8M237.8 838.1h.8M234.2 842.1h.8M203.6 841.9h.8M240 849.2h.8M241.6 845.3h.8M246.6 833.6h.8M230.2 842.5h.8M224.3 852.9h.8M229.4 837.1h.8M221.9 838.5h.8M240.1 840.5h.8M235.7 839.8h.8M242.3 828.5h.8M252 825.2h.8M215.8 836.1h.8M230.6 852h.8M252.1 828.4h.8M244.8 828.3h.8M234.2 835.1h.8M220.5 845.7h.8M235.1 840.2h.8M233.9 844.5h.8M243.6 857.6h.8M225.7 832.8h.8M223.5 841.1h.8M251.5 830.6h.8M240.7 843.9h.8M220.2 839.6h.8M232.9 840.8h.8M226.8 835.9h.8M236.8 855.1h.8M243.8 837h.8M232 824.1h.8M237.6 841.6h.8M246.2 836.2h.8M221.3 838.8h.8M216.7 852.3h.8M237.2 838.5h.8M242.8 842.3h.8M229.1 831.7h.8M242.9 843.1h.8M224.7 843.6h.8M244.7 842.3h.8M247.1 832.8h.8M227.6 843.4h.8M248.8 833.1h.8M235 849.3h.8M232.7 843.6h.8M236.8 846.6h.8M239.1 851.1h.8M228.7 842.5h.8M232.8 844.6h.8M222.2 852.3h.8M214.5 861.3h.8M225.6 865.6h.8M220.7 867.6h.8M221 869.4h.8M228.7 839.2h.8M232.9 849.9h.8M237 842.5h.8M213.9 856.2h.8M214 855h.8M227.5 841.3h.8M238.3 838.4h.8M245.7 830.3h.8M237.4 843.4h.8M220 844.5h.8M228.5 844.5h.8M239.6 843.7h.8M238.5 839.9h.8M221 848h.8M220.7 829.3h.8M237.8 844.7h.8M239.2 837.5h.8M233.6 834.8h.8M211.7 852.6h.8M224.3 839.8h.8M229.8 849.7h.8M220.1 843.2h.8M232.4 837.9h.8M236 848.7h.8M239.2 843.3h.8M240 855.6h.8M251.1 829.6h.8M221.7 846.1h.8M221.4 844.9h.8M223.5 838.2h.8M199.7 864h.8M219.4 843.6h.8M229.2 843.6h.8M241.3 861.7h.8M239.8 856.4h.8M239.5 845.6h.8M252.4 833.3h.8M247.4 829h.8M240.3 861.2h.8M249.5 835.5h.8M242.9 837.5h.8M235.5 834.6h.8M250.8 833.2h.8M234.7 845.8h.8M230.3 854.8h.8M237.1 854.2h.8M235.5 841.1h.8M239.8 846.2h.8M224.7 847.3h.8M228.6 851.7h.8M246.3 851.1h.8M226.8 838.9h.8M239.6 835.9h.8M230.4 851.5h.8M241 862.5h.8M230.6 841.1h.8M225.8 840.7h.8M255.9 823.8h.8M249.4 834.2h.8M234.9 843.8h.8M227.8 847.4h.8M231.6 842.1h.8M256.8 824.2h.8M245 837.2h.8M229.3 846.4h.8M225.4 843.8h.8M223.6 833.7h.8M232.2 851.5h.8M234.2 840.6h.8M243.6 835.5h.8M221.5 841.3h.8M239.2 840.6h.8M239.3 832.2h.8M237.3 843.3h.8M248.2 841.7h.8M240.1 832.5h.8M227.9 838.2h.8M249.5 826.3h.8M239.4 834.5h.8M239.3 838.1h.8M222.3 864.7h.8M233.2 848h.8M231.4 839h.8M243.8 843.9h.8M229.6 855h.8M254.4 827.6h.8M225.1 842.9h.8M241.6 836.3h.8M233.3 855.4h.8M250.2 830.9h.8M223.2 864.9h.8M231.6 847.9h.8M210.8 850.5h.8M225.8 844.3h.8M235.5 848.5h.8M240.7 851.4h.8M235.7 841h.8M230.9 847.3h.8M253.9 833.3h.8M218.4 849.8h.8M221 847.4h.8M239.3 832.4h.8M235.3 848h.8M234.8 835.2h.8M253.9 838.1h.8M240.4 836.1h.8M220.9 845.2h.8M242.5 844.6h.8M208.2 865h.8M226.1 847.2h.8M242.9 836.1h.8M237 848.6h.8M219.3 861.4h.8M218.3 858h.8M236.5 830.4h.8M223.9 845.3h.8M231.2 845.3h.8M226.3 829.3h.8M230.7 857.1h.8M235.5 844.3h.8M239.9 842.6h.8M223.1 846.7h.8M247.6 833.9h.8M245.1 830h.8M237.2 829.7h.8M228.4 846.5h.8M233.9 847.1h.8M246.7 832.8h.8M212.7 861.6h.8M234.6 833.8h.8M230.5 836.8h.8M245.5 838.3h.8M233.1 847.1h.8M234.2 854.1h.8M228.2 844h.8M252.7 830.7h.8M243.8 847.7h.8M217 848.8h.8M246.3 838.3h.8M248.5 836.6h.8M201.1 835.6h.8M220.4 847.7h.8M229.7 851.7h.8M233.1 846.6h.8M232.8 834.9h.8M228.4 847.4h.8M248.7 827.3h.8M227.5 846.1h.8M246.9 839.5h.8M233.8 858.1h.8M254.7 826h.8M241.8 845.6h.8M205.9 851.3h.8M224.2 833.1h.8M234.6 856.9h.8M235.2 839.7h.8M221.5 847.1h.8M236.2 851h.8M221.6 835.2h.8M237.7 836.9h.8M233.6 846.8h.8M248 840.4h.8M243.9 844.2h.8M238.5 826.6h.8M227.6 833.1h.8M222.8 841.7h.8M243.1 848.8h.8M233.9 833.2h.8M235.9 858.9h.8M240.7 833h.8M243.2 846h.8M240.7 841.2h.8M231.5 844.1h.8M244.4 861.3h.8M238.1 854.4h.8M223.3 845.5h.8M233.1 831h.8M237.3 836.1h.8M222.1 852.5h.8M245.1 833.7h.8M239.9 831.4h.8M240.9 828.2h.8M243.5 836.6h.8M234.7 838.1h.8M228.6 844.1h.8M211.6 847h.8M231.8 846.5h.8M227.9 842.8h.8M232.1 841.9h.8M237 838.9h.8M246.4 843.1h.8M238.8 824.4h.8M237.3 836.9h.8M226.1 857h.8M232.2 842.7h.8M254.1 843.1h.8M206 834.8h.8M238.4 836.6h.8M212.6 854.3h.8M226.7 841h.8M228.8 845.2h.8M233.2 867.9h.8M231.9 834.7h.8M226.2 848.9h.8M215.7 851.1h.8M240.2 839.2h.8M252.7 835.9h.8M226 846h.8M246 829h.8M234.6 831.4h.8M231.9 841.4h.8M243.8 825.7h.8M236.5 834.3h.8M229.3 850.6h.8M257 832.5h.8M231.6 838h.8M238.1 864.9h.8M238.7 842.2h.8M244.6 838.4h.8M242.7 843.8h.8" fill="none" stroke="#2a3cff" stroke-width="0.8" opacity="0.75"/>
<path d="M240.9 836.3h.8M230 840.2h.8M217.3 856.8h.8M246 841.9h.8M238.9 839.9h.8M246.9 836.8h.8M235.3 832h.8M243.8 835.6h.8M208.6 843.6h.8M239.1 840h.8M242.8 832.3h.8M226.5 854.5h.8M236.4 839.5h.8M241.1 840.8h.8M241.4 840.7h.8M226.2 858h.8M239.2 849.2h.8M249.8 829.6h.8M238.8 832.2h.8M238.2 842.6h.8M243.1 834.3h.8M247.5 832.1h.8M225.6 838.9h.8M232.7 837.5h.8M236.3 834.3h.8M247.2 833.2h.8M239.8 841.6h.8M242.8 837.5h.8M232.9 843h.8M251.8 825.9h.8M232.7 836.9h.8M232.7 838.8h.8M235.8 838.4h.8M239.8 850.1h.8M240.3 843.5h.8M223.2 834.1h.8M237.2 841h.8M235.7 841h.8M242 837h.8M228.1 833.1h.8M224.5 851.6h.8M237.7 842.1h.8M237.9 840.2h.8M242.5 838.7h.8M246.4 834.9h.8M238.3 832.8h.8M234.4 847.8h.8M234 851.1h.8M235.3 838.2h.8M224.2 857h.8M246.6 831h.8M232 854.2h.8M255.4 822.1h.8M239.5 844.8h.8M238.4 838.6h.8M236.6 844.8h.8M216.7 849.9h.8M237.1 841.8h.8M227 847h.8M218.8 839.7h.8M228.7 842.5h.8M247 831.2h.8M235.3 840.3h.8M241.4 841.6h.8M241.7 851.3h.8M210.8 849.3h.8M229.8 846.3h.8M223.4 864.8h.8M238.3 837h.8M228.3 848.9h.8M229.2 846.2h.8M233.2 842.5h.8M242.6 830.8h.8M230.1 850.4h.8M232.9 837.3h.8M247 832.7h.8M245.5 836.3h.8M234.1 842.5h.8M244.3 838.6h.8M237.7 840.6h.8M240.5 835.9h.8M245 840h.8M241.8 838.5h.8M232.8 842.8h.8M235.7 837.9h.8M242.2 829.4h.8M237.2 839.3h.8M253.3 829.5h.8M239.1 843h.8M250.7 829.3h.8M241.8 836.2h.8M209.5 851.7h.8M238.1 848h.8M244.8 850.2h.8M249.2 832.7h.8M226.6 847.3h.8M241 838.8h.8M249.4 832.5h.8M246 841.7h.8M228.1 839.4h.8M227.7 847h.8M236.9 841.3h.8M240.9 838.1h.8M243.8 843.1h.8M231 836.1h.8M220.4 853.8h.8M244.5 840.7h.8M242.7 842.9h.8M232.2 848.8h.8M227.8 834.5h.8M236.7 842.6h.8M227.3 844.1h.8M230.5 833h.8M236.4 836.5h.8M240 841.4h.8M233.3 839.9h.8M237.8 829.5h.8M235.2 844.6h.8M240.1 841h.8M230.6 851.2h.8M237 844.3h.8M222.8 847h.8M221.2 851.7h.8M244.6 833.6h.8M236.6 830.3h.8M233.2 839.8h.8M231.5 840.7h.8M229.2 836.9h.8M229.1 846.6h.8M228 850.1h.8M239.7 841.9h.8M245.6 839.2h.8M230.9 839.2h.8M228.9 845.4h.8M253 832.8h.8M241.6 831.5h.8M249.8 832.2h.8M226.3 844h.8M243.9 841.9h.8M216.2 848.7h.8M238.3 839.1h.8M230.6 831.8h.8M243.3 834.9h.8M239.5 835.7h.8M235.2 840.8h.8M239.3 854.5h.8M234.8 844.7h.8M248 825.6h.8M233.5 837.6h.8M243.9 851.8h.8M218.5 852.1h.8M232.2 847.6h.8M231.3 847h.8M234.3 838.8h.8M239.8 831.3h.8M243.7 846.6h.8M240.6 838.2h.8M230 833.5h.8M239.5 835.7h.8M230.2 852.5h.8M240.8 840.8h.8M236.4 836.8h.8M235 837.8h.8M248.6 840.8h.8M224.8 843.8h.8M235.1 848.1h.8M239 841.6h.8M242 843.9h.8M224.6 842.7h.8M243.3 839.4h.8M246.6 831.4h.8M246.6 828.2h.8M232.5 848.4h.8M235.3 841.5h.8M235.3 839.7h.8M232.7 844.1h.8M236.8 839.5h.8M245.4 838.2h.8M248 842.6h.8M232.4 843.7h.8M233.8 841.7h.8M237 840h.8M237.7 837.6h.8M232.5 849.7h.8M219.4 848.5h.8M225.4 840.1h.8M221.4 839.6h.8M245 831.9h.8M244.1 843.1h.8M242.5 831.2h.8M245.6 836.2h.8M226.5 845.8h.8M234 852h.8M232.7 840h.8M252.4 826.8h.8M231.7 850.2h.8M240.8 839.7h.8M240.3 832.1h.8M234.4 849.6h.8M244 843.3h.8M235 838.2h.8M227.9 856.6h.8M233 841.7h.8M225.8 844.4h.8M222.3 857.6h.8M227.8 859.2h.8M233.4 849.3h.8M221.7 840.3h.8M227 846.7h.8M249.8 838h.8M223.1 832.3h.8M240.8 841.6h.8M242.9 837.3h.8M224.8 851h.8M227.4 841.8h.8M235.2 849.9h.8M227.1 845.5h.8M239.8 843.7h.8M241.8 834.9h.8M237.5 838.8h.8M230.8 842.3h.8M239.8 831.2h.8M235.5 837.7h.8M227.6 864.6h.8M227.5 842.7h.8M226.6 854.2h.8M230.1 847.5h.8M240 838.5h.8M243.1 837.2h.8M244.3 840.6h.8M244.8 827.8h.8M235.6 845.9h.8M236.8 843.4h.8M240.1 834.3h.8M246.5 830.5h.8M237.6 836h.8M237.1 845.1h.8M232.3 843.9h.8M227.3 853.5h.8M243 833h.8" fill="none" stroke="#2040ff" stroke-width="0.8" opacity="0.9"/>
<path d="M216.5 844.6h.8M227.1 841.6h.8M217.8 843.3h.8M228 839.5h.8M219.6 844.6h.8M221.6 841.9h.8M228.1 842.7h.8M224.6 846.8h.8M228.2 842.3h.8M228.5 841.7h.8M222.8 846.6h.8M224.6 838h.8M229.1 843.4h.8M224.5 844.1h.8M223.4 843.7h.8M226.8 838.9h.8M226.1 841.3h.8M221.7 842.5h.8M228.6 844.4h.8M226.1 844.9h.8M227.1 842.7h.8M215.9 845h.8M229.6 843h.8M228.6 841.6h.8M215.5 843.1h.8M224.8 845.3h.8M227.5 843.9h.8M225 843.3h.8M224.6 843.3h.8M227.1 843.8h.8M227.1 839.8h.8M227.1 843.9h.8M222.1 844.3h.8M216.3 843.5h.8M216.5 846.7h.8M224.3 838.7h.8M227.9 843.9h.8M225.9 840.1h.8M223.3 839.9h.8M227.5 846.1h.8" fill="none" stroke="#2a3cff" stroke-width="0.8" opacity="0.7"/>
<g filter="url(#fb)">
<path d="M254.1 826.9L254.2 827.8L253.5 829.5L252.2 831.8L250.2 834.7L247.8 838L245 841.7L241.9 845.3L238.5 848.6L235.1 851.4L231.7 853.5L228.4 854.6L225.4 854.9L222.9 854.2L221.1 852.7L220.1 850.6L220 848L221 845.2L222.9 842.3L225.7 839.4L229.3 836.8L233.3 834.3L237.6 832.2L241.8 830.3L245.6 828.8L248.9 827.6L251.5 826.8L253.2 826.6Z" fill="#3050ff" opacity="0.35"/>
<path d="M252.3 828.3L252.4 829.1L251.8 830.5L250.6 832.4L249 834.9L247 837.7L244.6 840.7L242 843.8L239.2 846.6L236.3 848.9L233.4 850.7L230.6 851.6L228.1 851.9L226 851.3L224.5 850L223.7 848.2L223.6 846.1L224.4 843.7L226.1 841.2L228.4 838.9L231.4 836.6L234.8 834.6L238.4 832.8L241.9 831.2L245.1 829.9L247.9 828.9L250.1 828.3L251.5 828.1Z" fill="#2a58fa" opacity="0.7"/>
<path d="M250.2 829.9L250.3 830.6L249.8 831.7L248.9 833.2L247.6 835.1L246 837.3L244.2 839.7L242.1 842.1L239.9 844.3L237.6 846.1L235.4 847.5L233.2 848.3L231.2 848.4L229.6 848L228.4 847L227.7 845.6L227.7 843.9L228.3 842L229.6 840.1L231.5 838.2L233.8 836.5L236.5 834.9L239.3 833.5L242 832.2L244.6 831.2L246.8 830.4L248.5 829.9L249.6 829.8Z" fill="#2496ee" opacity="1"/>
<path d="M248.6 831.2L248.6 831.7L248.3 832.6L247.6 833.8L246.5 835.3L245.3 837L243.8 838.9L242.2 840.8L240.5 842.5L238.7 844L236.9 845L235.2 845.7L233.6 845.8L232.3 845.4L231.4 844.7L230.9 843.6L230.8 842.2L231.3 840.7L232.3 839.2L233.8 837.7L235.7 836.4L237.8 835.1L240 834L242.2 833L244.2 832.2L245.9 831.6L247.2 831.2L248.1 831.1Z" fill="#22c4d4" opacity="1"/>
<path d="M247.3 832.2L247.3 832.6L247.1 833.3L246.5 834.2L245.7 835.4L244.7 836.8L243.6 838.3L242.3 839.8L240.9 841.1L239.5 842.3L238.1 843.1L236.7 843.6L235.5 843.7L234.5 843.4L233.7 842.8L233.3 841.9L233.3 840.9L233.7 839.7L234.5 838.5L235.7 837.4L237.1 836.3L238.8 835.3L240.5 834.4L242.2 833.6L243.8 833L245.2 832.5L246.2 832.2L246.9 832.1Z" fill="#2fd07c" opacity="1"/>
<path d="M246 833.2L246.1 833.5L245.9 834L245.4 834.7L244.9 835.5L244.1 836.6L243.3 837.6L242.4 838.7L241.4 839.7L240.3 840.6L239.3 841.2L238.3 841.5L237.4 841.6L236.7 841.4L236.1 841L235.8 840.3L235.8 839.5L236.1 838.7L236.7 837.8L237.5 837L238.6 836.2L239.8 835.4L241.1 834.8L242.3 834.2L243.5 833.8L244.5 833.4L245.2 833.2L245.8 833.1Z" fill="#8ee02c" opacity="1"/>
<path d="M244.9 834.1L244.9 834.3L244.8 834.6L244.5 835.1L244.1 835.7L243.6 836.3L243 837.1L242.4 837.8L241.8 838.5L241.1 839L240.4 839.4L239.7 839.7L239.1 839.7L238.6 839.6L238.3 839.3L238.1 838.9L238.1 838.3L238.2 837.8L238.6 837.2L239.2 836.6L239.9 836.1L240.7 835.6L241.6 835.2L242.4 834.8L243.2 834.5L243.8 834.3L244.4 834.1L244.7 834.1Z" fill="#f4d020" opacity="1"/>
<path d="M244 834.8L244 834.9L243.9 835.1L243.7 835.4L243.5 835.8L243.2 836.2L242.9 836.6L242.5 837L242.1 837.4L241.7 837.8L241.3 838L240.9 838.2L240.5 838.2L240.2 838.1L240 837.9L239.9 837.7L239.9 837.4L240 837L240.2 836.7L240.5 836.3L241 836L241.5 835.7L242 835.5L242.5 835.3L242.9 835.1L243.3 834.9L243.6 834.8L243.8 834.8Z" fill="#f87a1c" opacity="1"/>
<path d="M243.2 835.4L243.2 835.5L243.2 835.6L243.1 835.7L243 835.9L242.9 836L242.7 836.2L242.5 836.4L242.3 836.6L242.2 836.8L242 836.9L241.8 837L241.6 837L241.5 836.9L241.4 836.8L241.3 836.7L241.3 836.6L241.4 836.4L241.5 836.3L241.6 836.1L241.8 836L242.1 835.8L242.3 835.7L242.5 835.6L242.7 835.5L242.9 835.5L243.1 835.4L243.2 835.4Z" fill="#f03a14" opacity="1"/>
</g>
</g>
<rect x="194.4" y="757.9" width="113.5" height="114.1" fill="none" stroke="#4a4a4a" stroke-width="0.6"/>
<line x1="222.9" y1="757.9" x2="222.9" y2="872" stroke="#000" stroke-width="0.9"/>
<line x1="194.4" y1="836.9" x2="307.9" y2="836.9" stroke="#000" stroke-width="0.9"/>
<text x="189.6" y="761.2" font-size="4" fill="#111" stroke="#111" stroke-width="0.25" text-anchor="end">10<tspan dy="-1.7" font-size="3.2">9</tspan></text>
<text x="189.6" y="773.4" font-size="4" fill="#111" stroke="#111" stroke-width="0.25" text-anchor="end">10<tspan dy="-1.7" font-size="3.2">8</tspan></text>
<text x="189.6" y="787.7" font-size="4" fill="#111" stroke="#111" stroke-width="0.25" text-anchor="end">10<tspan dy="-1.7" font-size="3.2">7</tspan></text>
<text x="189.6" y="801.7" font-size="4" fill="#111" stroke="#111" stroke-width="0.25" text-anchor="end">10<tspan dy="-1.7" font-size="3.2">6</tspan></text>
<text x="189.6" y="816" font-size="4" fill="#111" stroke="#111" stroke-width="0.25" text-anchor="end">10<tspan dy="-1.7" font-size="3.2">5</tspan></text>
<text x="189.6" y="830.1" font-size="4" fill="#111" stroke="#111" stroke-width="0.25" text-anchor="end">10<tspan dy="-1.7" font-size="3.2">4</tspan></text>
<text x="189.6" y="844" font-size="4" fill="#111" stroke="#111" stroke-width="0.25" text-anchor="end">10<tspan dy="-1.7" font-size="3.2">3</tspan></text>
<text x="189.6" y="858.1" font-size="4" fill="#111" stroke="#111" stroke-width="0.25" text-anchor="end">10<tspan dy="-1.7" font-size="3.2">2</tspan></text>
<path d="M194.4 759.6h-3M194.4 768.13h-1.5M194.4 765.98h-1.5M194.4 764.45h-1.5M194.4 763.27h-1.5M194.4 762.31h-1.5M194.4 761.49h-1.5M194.4 760.78h-1.5M194.4 760.16h-1.5M194.4 771.8h-3M194.4 781.8h-1.5M194.4 779.28h-1.5M194.4 777.49h-1.5M194.4 776.1h-1.5M194.4 774.97h-1.5M194.4 774.02h-1.5M194.4 773.19h-1.5M194.4 772.45h-1.5M194.4 786.1h-3M194.4 795.89h-1.5M194.4 793.42h-1.5M194.4 791.67h-1.5M194.4 790.31h-1.5M194.4 789.21h-1.5M194.4 788.27h-1.5M194.4 787.46h-1.5M194.4 786.74h-1.5M194.4 800.1h-3M194.4 810.1h-1.5M194.4 807.58h-1.5M194.4 805.79h-1.5M194.4 804.4h-1.5M194.4 803.27h-1.5M194.4 802.32h-1.5M194.4 801.49h-1.5M194.4 800.75h-1.5M194.4 814.4h-3M194.4 824.26h-1.5M194.4 821.77h-1.5M194.4 820.01h-1.5M194.4 818.64h-1.5M194.4 817.53h-1.5M194.4 816.58h-1.5M194.4 815.77h-1.5M194.4 815.05h-1.5M194.4 828.5h-3M194.4 838.22h-1.5M194.4 835.77h-1.5M194.4 834.03h-1.5M194.4 832.68h-1.5M194.4 831.58h-1.5M194.4 830.65h-1.5M194.4 829.85h-1.5M194.4 829.14h-1.5M194.4 842.4h-3M194.4 852.26h-1.5M194.4 849.77h-1.5M194.4 848.01h-1.5M194.4 846.64h-1.5M194.4 845.53h-1.5M194.4 844.58h-1.5M194.4 843.77h-1.5M194.4 843.05h-1.5M194.4 856.5h-3" fill="none" stroke="#1a1a1a" stroke-width="0.65"/>
<text x="196.1" y="766.3" font-size="4.5" fill="#111" stroke="#111" stroke-width="0.22">Q1</text>
<text x="196.1" y="773.5" font-size="4.5" fill="#111" stroke="#111" stroke-width="0.22">0</text>
<text x="298.3" y="766.3" font-size="4.5" text-anchor="end" fill="#111" stroke="#111" stroke-width="0.22">Q2</text>
<text x="298.3" y="773.5" font-size="4.5" text-anchor="end" fill="#111" stroke="#111" stroke-width="0.22">22.8</text>
<clipPath id="fc12"><rect x="330.7" y="757.9" width="113.5" height="114.1"/></clipPath>
<g clip-path="url(#fc12)">
<path d="M340.2 865.9h.8M313.6 887.2h.8M311.5 838.6h.8M360.9 866.9h.8M343.9 852.9h.8M314.2 850.6h.8M371.7 837.5h.8M380.3 832.5h.8M367 850h.8M359.7 866.1h.8M343.5 861.5h.8M385.2 830.2h.8M369.9 847.6h.8M374.7 839.1h.8M332 851.4h.8M335.6 861.6h.8M355.5 851.6h.8M365 833.4h.8M308.2 879.4h.8M354.1 857.7h.8M320.6 857.6h.8M370.6 863.6h.8M360.9 831.4h.8M361.3 854.8h.8M339.4 842h.8M379.2 824h.8M372.5 838.9h.8M332.3 848h.8M359.9 845.2h.8M361.4 859.3h.8M374.4 839.2h.8M393.4 836.8h.8M316.3 880.2h.8M374.1 841h.8M352.5 836.9h.8M329.5 894h.8M378.2 855.7h.8M351.1 863.2h.8M332.1 855.9h.8M372.3 842.1h.8M360.4 852.2h.8M343 859.1h.8M369.1 836.4h.8M323.9 889h.8M347.9 853.7h.8M378.3 842.9h.8M341.6 836.7h.8M322.7 883.8h.8M347.6 859.5h.8M365.8 838.5h.8M316.8 850.1h.8M334 883.5h.8M347.4 883h.8M359.3 869.8h.8M364.7 851.4h.8M343.3 866.1h.8M364.7 854.4h.8M361.7 841.5h.8M351 869.2h.8M340.3 873.4h.8M350.5 847h.8M340.5 829.8h.8M347.8 845.6h.8M330.2 896.7h.8M347.4 832.3h.8M348.3 880.7h.8M362.1 857.6h.8M358.7 857.5h.8M313.7 867.6h.8M357 870.4h.8M370 839.8h.8M355.9 863.7h.8M356.6 849.3h.8M364.9 829.1h.8M351.5 859.5h.8M358.1 865.6h.8M361.4 857.5h.8M345.4 853h.8M347 851.3h.8M339.5 847.5h.8M370.6 835.4h.8M352.6 862.3h.8M342.1 859.5h.8M347 843.7h.8M377.2 835.9h.8M372.3 837.1h.8M345 880.6h.8M342.7 843.5h.8M327.4 868.2h.8M313.6 877.6h.8M358.9 862.6h.8M358.7 842.9h.8M335.9 875.3h.8M338.8 870.7h.8M356.7 829.5h.8M330.4 877.7h.8M324.9 846.7h.8M342.7 858h.8M349.7 848.7h.8M289 885.6h.8M339.3 869.6h.8M353.4 839.9h.8M350 862.6h.8M366 844.4h.8M375 849.6h.8M370.2 879.5h.8M321.5 866.7h.8M325 875.3h.8M379.2 830.5h.8M374.9 843.2h.8" fill="none" stroke="#6a7cff" stroke-width="0.8" opacity="0.6"/>
<path d="M359.8 853.8h.8M367.3 847.2h.8M372.2 844.4h.8M371 844.5h.8M369.5 828.8h.8M360.6 856.7h.8M375 845.7h.8M348.7 859h.8M378.9 847.4h.8M366.7 827.7h.8M382.3 835.3h.8M365.7 834.6h.8M385.5 835.6h.8M368.5 824.4h.8M378.1 838.6h.8M367.5 840.7h.8M378.5 850.1h.8M370.5 842.1h.8M364 830.3h.8M366.8 838.1h.8M335.8 863.9h.8M369.4 847.6h.8M385.5 832.4h.8M381.3 824.7h.8M359.2 846.5h.8M359.9 845.3h.8M352.1 843.1h.8M342.5 855.3h.8M360.2 845.6h.8M378.7 837h.8M366.9 846.9h.8M373.6 829.2h.8M380.7 834.7h.8M366.6 845.6h.8M358.2 834.3h.8M369.8 829.1h.8M394.6 826.9h.8M375.9 849.3h.8M353.9 851.7h.8M393.2 827.5h.8M365.3 836.7h.8M344.7 841.9h.8M381.4 835.1h.8M345.9 848.3h.8M363.3 837.9h.8M367.7 842.9h.8M345.1 855.8h.8M376.3 851.6h.8M372 839.9h.8M359 852.3h.8M361 836.9h.8M370.1 840.7h.8M372.3 838.8h.8M384.5 831.7h.8M383 843.3h.8M371.9 847.8h.8M360.9 850.2h.8M378.5 839.8h.8M347.3 845.9h.8M391.3 831.6h.8M373.6 836.5h.8M383.2 840.5h.8M370.7 835.9h.8M378 834.9h.8M357 844.3h.8M385.2 829.8h.8M369.7 839.7h.8M371.8 842.7h.8M371.4 838h.8M358.2 849.9h.8M361.1 857.1h.8M365.8 829.4h.8M386.4 825.7h.8M372.1 851.8h.8M356.3 870h.8M371.3 828.7h.8M363.6 848.4h.8M365.3 856.7h.8M378.4 831.7h.8M366.2 849h.8M369.4 836.9h.8M349.2 840.8h.8M360.8 845.1h.8M369.3 831.8h.8M374.7 834.8h.8M359.1 839.9h.8M381.1 835.6h.8M379.8 833.7h.8M373.1 834.6h.8M366.7 843h.8M358.3 838.3h.8M359.4 855.3h.8M349.5 841.5h.8M374.5 835.8h.8M374.1 841.1h.8M377.3 834.3h.8M361.9 842.9h.8M374.2 843.7h.8M342.9 848.7h.8M361.9 840.6h.8M355.2 830.6h.8M367.2 831.8h.8M396.6 823h.8M350.2 842.2h.8M360.1 843.6h.8M363.6 844h.8M363.6 835.8h.8M360.5 845.6h.8M371.1 844.2h.8M372.1 840h.8M354.1 846.4h.8M388.1 828.9h.8M379.1 833.2h.8M369.3 836.9h.8M360.6 842.7h.8M355.8 850.8h.8M373.8 829h.8M387.1 830.6h.8M376.5 844.9h.8M395.7 824.9h.8M356.6 859.3h.8M380.9 835.9h.8M371.6 847.2h.8M370.5 857.1h.8M371 836.4h.8M370.5 837.3h.8M353.2 836h.8M371.4 840.5h.8M358.3 851h.8M373.7 841.3h.8M371.7 835.5h.8M362.5 835h.8M395.8 829.8h.8M358.4 843h.8M348.9 865.9h.8M337.2 854.1h.8M365.3 845.8h.8M372.6 840.5h.8M352.7 856.6h.8M359.6 839.3h.8M365.1 864.6h.8M380.5 833.7h.8M376.3 828.3h.8M383.3 835.5h.8M378.8 837.2h.8M362.9 847.1h.8M349.7 852.3h.8M378.3 827.5h.8M346.7 845.9h.8M372.6 836.9h.8M345.9 846.9h.8M385.8 830.7h.8M350.4 831.9h.8M347.3 854.5h.8M348.5 831.1h.8M356 841.7h.8M378.1 838.8h.8M384.9 830.9h.8M380.7 836h.8M387.4 823.4h.8M352.3 839.3h.8M382.4 827h.8M341 858.8h.8M352.6 858.8h.8M352.6 843.2h.8M375.3 839.2h.8M358.8 845.2h.8M385.4 832.6h.8M363.4 842h.8M349.6 848.1h.8M361.7 845.8h.8M370.4 843.1h.8M342.3 854.4h.8M361.6 841h.8M364.1 840.6h.8M379 829.6h.8M370.4 839.8h.8M386.3 826.7h.8M375.1 835.8h.8M362.7 852.5h.8M376 838.8h.8M378.2 832.2h.8M369 826.8h.8M356.6 841h.8M362.2 848.2h.8M365.1 830h.8M364.2 855.1h.8M375.2 843.7h.8M372.6 840.9h.8M365.9 843.8h.8M379.4 831.1h.8M372.9 857.9h.8M383.3 836.9h.8M342.5 833.6h.8M365.9 840.8h.8M365.8 844h.8M336.5 846.2h.8M373.6 837.2h.8M347.8 851.4h.8M383.2 830.3h.8M358.7 846.4h.8M337 834.4h.8M350.5 833.7h.8M363 855.6h.8M342.5 852h.8M377.3 830.8h.8M370.3 844.1h.8M374.4 840.9h.8M369.5 847.5h.8M362.8 845.7h.8M371.9 841.4h.8M367.1 829.3h.8M367.9 840h.8M373 845.2h.8M376.4 837h.8M384.7 830.6h.8M349.1 830.6h.8M380.1 833h.8M372.4 829.9h.8M348.7 869.6h.8M353.6 851.3h.8M378.7 841.6h.8M377.1 843.4h.8M392.9 826.2h.8M371.5 842h.8M382.5 835.6h.8M370.7 845.3h.8M390.6 824.7h.8M340.9 846.3h.8M356 847h.8M362 852.3h.8M389.1 839.1h.8M384.3 834h.8M365.2 833.5h.8M368.7 836.7h.8M364.7 838.5h.8M377.7 837.8h.8M377.5 841.1h.8M369.5 847.5h.8M389.2 828.4h.8M373 833h.8M354.1 856.1h.8M372.3 842h.8M387.4 827.2h.8M377.2 840.5h.8M361.6 844.9h.8M377.1 829.2h.8M358 834.8h.8M356.4 850.1h.8M375.8 830.9h.8M381.2 829.3h.8M372.2 829.5h.8M372.7 845.6h.8M354.9 837.5h.8M331.5 866.1h.8M382.7 832.9h.8M370.5 831.6h.8M344.3 841h.8M359.2 840.7h.8M357.7 842h.8M360.8 852.9h.8M363.7 846.4h.8M356.2 843.7h.8M388.1 834.2h.8M360.4 848.9h.8M371.7 851.9h.8M380.1 842.5h.8M362 843.7h.8M360.1 847.5h.8M339.8 844.3h.8M373.5 845.5h.8M366.4 830.1h.8M379.8 843.2h.8M364.4 835.6h.8M370.3 844.9h.8M371.8 838.1h.8M373.5 845.3h.8M378.2 830.2h.8M374.1 847.7h.8M365.6 847.9h.8" fill="none" stroke="#2a3cff" stroke-width="0.8" opacity="0.75"/>
<path d="M372.3 837.1h.8M377.3 840.3h.8M368.6 842.2h.8M375.9 842h.8M369.4 842.9h.8M355.6 850.9h.8M361.1 839.2h.8M370 844.6h.8M360.5 840.2h.8M375 840.6h.8M374.9 834.5h.8M385.9 832.5h.8M362.7 840.7h.8M366.5 837.6h.8M363.7 837.9h.8M376.8 837.3h.8M370.1 840.6h.8M370.2 838.1h.8M377.8 842.4h.8M378.6 829.7h.8M361.1 845.2h.8M360.1 848h.8M372.9 841.1h.8M366.1 844.8h.8M366.1 843.7h.8M376.1 843.6h.8M375.6 828.1h.8M366.1 839.5h.8M365.7 835.4h.8M380.2 833.9h.8M384.4 828.5h.8M363.7 855.4h.8M375.6 836h.8M375.8 843.7h.8M386.8 832.4h.8M363 834.7h.8M369.4 841.2h.8M371.1 839.2h.8M358.7 839.8h.8M374.4 838.6h.8M372.1 839.2h.8M365 832.1h.8M368.5 850.8h.8M371.1 846.8h.8M377.8 841.8h.8M380.3 841.8h.8M374.3 841.5h.8M370.2 838.1h.8M369.6 833h.8M369 839.4h.8M377.7 840.6h.8M359.4 844.9h.8M390.9 824.1h.8M375.5 839.2h.8M375.5 839.7h.8M367 832.5h.8M380.2 830.8h.8M361.2 841.3h.8M387.8 824.4h.8M385.8 826.9h.8M373.4 835.3h.8M354.1 847.4h.8M381.6 836.1h.8M370.6 840.3h.8M371.4 836.4h.8M368.9 840.4h.8M374.7 838.2h.8M364 842.5h.8M363 833.7h.8M362.6 849.2h.8M373.9 836.5h.8M375.4 836.6h.8M362.5 841.4h.8M375.3 834.6h.8M362.5 840.9h.8M362.5 843.7h.8M378.6 835.8h.8M361.1 835.3h.8M359.6 840.4h.8M383.6 836.3h.8M361.6 838.6h.8M368.6 847.3h.8M374.1 844.2h.8M369.7 838.5h.8M361 845h.8M365.6 848.1h.8M379.6 835.6h.8M369.9 844.2h.8M374.8 835.3h.8M379.8 839.9h.8M373.5 832.9h.8M373.1 845.2h.8M366.5 844h.8M379.2 828.7h.8M365.8 851.4h.8M368.8 844.9h.8M364.2 856.8h.8M379.7 843h.8M374.3 828.7h.8M376.1 839.8h.8M386.5 828.4h.8M371.5 842.9h.8M378.1 842.9h.8M388.3 834h.8M351.6 838.8h.8M379.1 837.2h.8M384 836.5h.8M371.1 837.9h.8M368.4 838.1h.8M371.7 839.3h.8M371 851.4h.8M385.3 831h.8M369.1 828.1h.8M378.6 828h.8M368.9 842.6h.8M378.5 831h.8M364.6 838.8h.8M386 826.2h.8M378.1 840.5h.8M367.1 836.6h.8M390.6 828.9h.8M376.6 837.9h.8M379.9 835.6h.8M376.6 841h.8M373.9 842.1h.8M382.9 832.3h.8M365.7 843.8h.8M375.3 840.9h.8M368.5 838.5h.8M378 840.9h.8M372.7 831.7h.8M369.8 850.2h.8M378.5 845.9h.8M376.2 837.6h.8M388.5 824.6h.8M372.2 836.7h.8M372.3 844.6h.8M380.9 838.9h.8M393.9 823.1h.8M356.5 841.6h.8M377.2 832.7h.8M376.2 837.6h.8M374.4 831h.8M365.8 841.5h.8M360.2 847.5h.8M364.4 840.1h.8M380 839.2h.8M368.5 857.1h.8M378.6 835.7h.8M381.4 832h.8M378.5 834.1h.8M371.9 842.8h.8M359.6 852.6h.8M369.6 837.9h.8M370.6 834.3h.8M387.4 827.7h.8M374.1 841.8h.8M376.1 839.5h.8M354.8 852.5h.8M360.5 844.5h.8M374.4 848h.8M369.9 847.9h.8M378.3 832.4h.8M380.1 837.2h.8M368.4 835.9h.8M380.9 832.8h.8M377.5 831.8h.8M371.7 839.9h.8M371.8 842.6h.8M373.7 839.1h.8M380.1 838.2h.8M377.1 847.8h.8M372.4 837.3h.8M359.7 849.7h.8M377.7 834.1h.8M373.2 843h.8M381.6 841.4h.8M378.3 830.1h.8M378.9 830.6h.8M352.7 835.8h.8M375.4 829.3h.8M363.4 845.3h.8M379.9 843h.8M360.6 836h.8M364.6 838.7h.8M370 836.3h.8M375.6 832.5h.8M378 834.3h.8M373.7 831.9h.8M371.3 827.1h.8M358.7 846.4h.8M379.5 833h.8M368.7 831.9h.8M364.7 846h.8M370.8 838.6h.8M367.7 834.8h.8M378.7 835.5h.8M380.2 838.9h.8M374.1 830.5h.8M386.9 830.7h.8M382.3 838.4h.8M369.5 850.9h.8M356.6 849h.8M365.8 849.5h.8M373.8 839.8h.8M374.4 836.6h.8M364.4 836.6h.8M373.3 834h.8M377.7 835.5h.8M355.7 847.3h.8M361.5 853.5h.8M381.5 835.8h.8M379 834.8h.8M363.6 844.9h.8M369.3 848.2h.8M345 835.7h.8M365.2 833.3h.8M383.1 831.2h.8M373.1 851.5h.8M374.1 840.4h.8M374.7 832.3h.8M373.2 839.3h.8M370.7 830.9h.8M380.9 832h.8M384.9 829.2h.8M377.5 835.3h.8M381.3 834.4h.8M386.7 827.4h.8M368.6 837.3h.8M380.7 839.1h.8M378.4 840.1h.8M373.6 827.2h.8M379.8 836.9h.8M376.3 840.8h.8M372.2 831.9h.8M375.1 840.2h.8M381 836.7h.8M359.1 848.6h.8M368.8 836.1h.8M375.1 838.7h.8" fill="none" stroke="#2040ff" stroke-width="0.8" opacity="0.9"/>
<path d="M358.9 838.2h.8M365.9 849.6h.8M345.5 840.4h.8M359.9 841.5h.8M364.8 842.3h.8M365.8 843h.8M352.8 839.5h.8M351.7 840.9h.8M361.1 841.6h.8M359.2 841.9h.8M352.9 841.3h.8M367.2 835.7h.8M357.1 841.6h.8M362.3 840.6h.8M350.8 841.2h.8M358.1 839.7h.8M362 838.5h.8M367.3 840.5h.8M344.9 842.1h.8M359.4 843.1h.8M364.3 841.8h.8M359 842.3h.8M355.1 841.8h.8M346.7 843h.8M363.8 839.4h.8M362.4 841.8h.8M355.7 842.3h.8M350.9 842.8h.8M355.3 842.4h.8M357.7 840h.8M352.8 843.2h.8M354.4 842.2h.8M356.1 838.6h.8M365 845.2h.8M358.5 841.6h.8M357.9 843.4h.8M345.5 839.1h.8M351 839.8h.8M354.5 840.4h.8M351.5 842.6h.8M357.9 837.6h.8M357.4 840.7h.8M355.1 839.9h.8M343.3 843.5h.8M349.8 842.4h.8M362.6 843h.8M361.5 844.6h.8M349.8 841.9h.8M354.7 840.2h.8M351.9 843.3h.8M363.9 839.2h.8M355.1 840.1h.8M364.1 841.5h.8M355.2 839.3h.8M352.5 840.8h.8M364.4 844.1h.8M363.5 847.9h.8M355.9 840.4h.8M365.6 839.7h.8M357.7 842.7h.8M354.8 841.1h.8M366.1 843.9h.8M345.2 841.3h.8M366.1 837.8h.8M359.3 838.3h.8M360.4 840.6h.8M357.9 842.4h.8M364.4 839.6h.8M358.2 843.8h.8M350.9 842.8h.8M362.2 845.9h.8M365.7 840h.8M367.8 847.6h.8M365.5 842.9h.8M349 844.1h.8M358.9 842.7h.8M352.1 838.5h.8M366.9 841.6h.8M356.4 842.7h.8M355.8 839h.8M366.4 842.3h.8M355.2 838.8h.8M364.7 841.9h.8M355.6 841.9h.8M361.2 839.1h.8M362.8 834.3h.8M357.4 843h.8M356.3 842.5h.8M367.2 835.1h.8M363.9 841.7h.8" fill="none" stroke="#2a3cff" stroke-width="0.8" opacity="0.7"/>
<g filter="url(#fb)">
<path d="M389.8 826.9L389.8 827.8L389 829.3L387.4 831.5L385.3 834.3L382.6 837.4L379.5 840.8L376.2 844.2L372.6 847.2L369 849.8L365.4 851.6L362 852.6L359.1 852.7L356.7 851.9L355 850.3L354.2 848.2L354.3 845.7L355.5 842.9L357.7 840.2L360.7 837.6L364.5 835.2L368.6 833L373 831.2L377.3 829.6L381.2 828.3L384.6 827.3L387.2 826.7L388.9 826.5Z" fill="#3050ff" opacity="0.35"/>
<path d="M387.9 828.2L387.9 829L387.2 830.3L385.9 832.1L384.1 834.4L381.8 837.1L379.2 839.9L376.4 842.7L373.4 845.3L370.4 847.4L367.4 849L364.5 849.8L362 849.9L360 849.2L358.6 847.9L357.9 846.1L358.1 844L359.1 841.7L360.9 839.4L363.4 837.2L366.6 835.2L370.1 833.4L373.8 831.8L377.4 830.5L380.7 829.4L383.5 828.5L385.7 828L387.1 827.9Z" fill="#2a58fa" opacity="0.7"/>
<path d="M385.7 829.7L385.7 830.3L385.1 831.3L384.1 832.7L382.7 834.5L380.9 836.6L378.9 838.9L376.7 841.1L374.3 843.1L371.9 844.8L369.6 846L367.3 846.7L365.4 846.7L363.8 846.2L362.7 845.2L362.2 843.7L362.3 842.1L363 840.3L364.5 838.5L366.5 836.7L368.9 835.1L371.7 833.7L374.6 832.5L377.4 831.4L380 830.6L382.2 829.9L383.9 829.5L385.1 829.4Z" fill="#2496ee" opacity="1"/>
<path d="M384 830.8L384 831.3L383.5 832.1L382.7 833.2L381.6 834.7L380.2 836.3L378.6 838.1L376.9 839.8L375 841.4L373.1 842.7L371.3 843.7L369.5 844.2L368 844.2L366.7 843.8L365.9 843L365.4 841.9L365.5 840.6L366.1 839.2L367.3 837.7L368.8 836.4L370.8 835.1L373 834L375.2 833L377.5 832.2L379.5 831.5L381.2 831L382.6 830.7L383.5 830.6Z" fill="#22c4d4" opacity="1"/>
<path d="M382.6 831.7L382.6 832.1L382.3 832.7L381.6 833.6L380.8 834.7L379.7 836L378.4 837.4L377 838.8L375.6 840.1L374.1 841.1L372.6 841.9L371.2 842.3L370 842.3L369 842L368.3 841.3L368 840.5L368.1 839.4L368.6 838.3L369.5 837.2L370.7 836.1L372.2 835.1L373.9 834.2L375.7 833.5L377.5 832.8L379.1 832.3L380.5 831.9L381.5 831.6L382.3 831.6Z" fill="#2fd07c" opacity="1"/>
<path d="M381.3 832.6L381.3 832.9L381 833.4L380.6 834L379.9 834.8L379.1 835.8L378.2 836.8L377.2 837.8L376.1 838.7L375 839.5L374 840L373 840.3L372.1 840.4L371.3 840.1L370.8 839.7L370.6 839L370.6 838.3L371 837.4L371.6 836.6L372.6 835.8L373.7 835.1L374.9 834.5L376.2 833.9L377.5 833.4L378.7 833L379.7 832.7L380.5 832.6L381 832.5Z" fill="#8ee02c" opacity="1"/>
<path d="M380.1 833.4L380.1 833.6L379.9 833.9L379.6 834.4L379.2 834.9L378.6 835.5L378 836.2L377.3 836.9L376.6 837.5L375.9 838L375.2 838.4L374.5 838.6L373.9 838.6L373.4 838.4L373.1 838.1L372.9 837.7L373 837.2L373.2 836.7L373.6 836.1L374.2 835.6L375 835.1L375.8 834.7L376.7 834.3L377.6 834L378.3 833.7L379 833.5L379.5 833.4L379.9 833.4Z" fill="#f4d020" opacity="1"/>
<path d="M379.1 834.1L379.1 834.2L379 834.4L378.8 834.7L378.5 835L378.2 835.4L377.9 835.8L377.4 836.2L377 836.5L376.6 836.8L376.2 837.1L375.8 837.2L375.4 837.2L375.1 837.1L374.9 836.9L374.8 836.7L374.8 836.3L375 836L375.2 835.7L375.6 835.4L376 835.1L376.5 834.8L377.1 834.6L377.6 834.4L378.1 834.3L378.5 834.1L378.8 834.1L379 834Z" fill="#f87a1c" opacity="1"/>
<path d="M378.3 834.6L378.3 834.7L378.2 834.8L378.2 834.9L378 835L377.9 835.2L377.7 835.4L377.5 835.6L377.3 835.7L377.1 835.9L377 836L376.8 836L376.6 836L376.5 836L376.4 835.9L376.3 835.8L376.3 835.7L376.4 835.5L376.5 835.4L376.7 835.2L376.9 835.1L377.1 835L377.4 834.9L377.6 834.8L377.8 834.7L378 834.6L378.1 834.6L378.2 834.6Z" fill="#f03a14" opacity="1"/>
</g>
</g>
<rect x="330.7" y="757.9" width="113.5" height="114.1" fill="none" stroke="#4a4a4a" stroke-width="0.6"/>
<line x1="359.6" y1="757.9" x2="359.6" y2="872" stroke="#000" stroke-width="0.9"/>
<line x1="330.7" y1="836.9" x2="444.2" y2="836.9" stroke="#000" stroke-width="0.9"/>
<text x="325.9" y="761.2" font-size="4" fill="#111" stroke="#111" stroke-width="0.25" text-anchor="end">10<tspan dy="-1.7" font-size="3.2">9</tspan></text>
<text x="325.9" y="773.4" font-size="4" fill="#111" stroke="#111" stroke-width="0.25" text-anchor="end">10<tspan dy="-1.7" font-size="3.2">8</tspan></text>
<text x="325.9" y="787.7" font-size="4" fill="#111" stroke="#111" stroke-width="0.25" text-anchor="end">10<tspan dy="-1.7" font-size="3.2">7</tspan></text>
<text x="325.9" y="801.7" font-size="4" fill="#111" stroke="#111" stroke-width="0.25" text-anchor="end">10<tspan dy="-1.7" font-size="3.2">6</tspan></text>
<text x="325.9" y="816" font-size="4" fill="#111" stroke="#111" stroke-width="0.25" text-anchor="end">10<tspan dy="-1.7" font-size="3.2">5</tspan></text>
<text x="325.9" y="830.1" font-size="4" fill="#111" stroke="#111" stroke-width="0.25" text-anchor="end">10<tspan dy="-1.7" font-size="3.2">4</tspan></text>
<text x="325.9" y="844" font-size="4" fill="#111" stroke="#111" stroke-width="0.25" text-anchor="end">10<tspan dy="-1.7" font-size="3.2">3</tspan></text>
<text x="325.9" y="858.1" font-size="4" fill="#111" stroke="#111" stroke-width="0.25" text-anchor="end">10<tspan dy="-1.7" font-size="3.2">2</tspan></text>
<path d="M330.7 759.6h-3M330.7 768.13h-1.5M330.7 765.98h-1.5M330.7 764.45h-1.5M330.7 763.27h-1.5M330.7 762.31h-1.5M330.7 761.49h-1.5M330.7 760.78h-1.5M330.7 760.16h-1.5M330.7 771.8h-3M330.7 781.8h-1.5M330.7 779.28h-1.5M330.7 777.49h-1.5M330.7 776.1h-1.5M330.7 774.97h-1.5M330.7 774.02h-1.5M330.7 773.19h-1.5M330.7 772.45h-1.5M330.7 786.1h-3M330.7 795.89h-1.5M330.7 793.42h-1.5M330.7 791.67h-1.5M330.7 790.31h-1.5M330.7 789.21h-1.5M330.7 788.27h-1.5M330.7 787.46h-1.5M330.7 786.74h-1.5M330.7 800.1h-3M330.7 810.1h-1.5M330.7 807.58h-1.5M330.7 805.79h-1.5M330.7 804.4h-1.5M330.7 803.27h-1.5M330.7 802.32h-1.5M330.7 801.49h-1.5M330.7 800.75h-1.5M330.7 814.4h-3M330.7 824.26h-1.5M330.7 821.77h-1.5M330.7 820.01h-1.5M330.7 818.64h-1.5M330.7 817.53h-1.5M330.7 816.58h-1.5M330.7 815.77h-1.5M330.7 815.05h-1.5M330.7 828.5h-3M330.7 838.22h-1.5M330.7 835.77h-1.5M330.7 834.03h-1.5M330.7 832.68h-1.5M330.7 831.58h-1.5M330.7 830.65h-1.5M330.7 829.85h-1.5M330.7 829.14h-1.5M330.7 842.4h-3M330.7 852.26h-1.5M330.7 849.77h-1.5M330.7 848.01h-1.5M330.7 846.64h-1.5M330.7 845.53h-1.5M330.7 844.58h-1.5M330.7 843.77h-1.5M330.7 843.05h-1.5M330.7 856.5h-3" fill="none" stroke="#1a1a1a" stroke-width="0.65"/>
<text x="332.4" y="766.3" font-size="4.5" fill="#111" stroke="#111" stroke-width="0.22">Q1</text>
<text x="332.4" y="773.5" font-size="4.5" fill="#111" stroke="#111" stroke-width="0.22">0</text>
<text x="434.6" y="766.3" font-size="4.5" text-anchor="end" fill="#111" stroke="#111" stroke-width="0.22">Q2</text>
<text x="434.6" y="773.5" font-size="4.5" text-anchor="end" fill="#111" stroke="#111" stroke-width="0.22">31.7</text>
<clipPath id="fc13"><rect x="467.6" y="757.9" width="113.5" height="114.1"/></clipPath>
<g clip-path="url(#fc13)">
<path d="M493.2 869.6h.8M506.6 852.1h.8M491 843.2h.8M472.4 869.4h.8M506.9 839.3h.8M491.5 871.4h.8M482.1 853.3h.8M474.7 848.1h.8M493.5 857.6h.8M460.1 872.1h.8M449.2 886h.8M488.9 857.5h.8M426.3 881.9h.8M500.5 845.4h.8M513.3 844.6h.8M495.3 860.8h.8M469.8 869h.8M465.6 894.9h.8M483.8 859.9h.8M476.9 854.5h.8M484 850.8h.8M491.4 883.8h.8M472.7 864.3h.8M524.3 849.2h.8M460.8 882.7h.8M484 859.9h.8M476.3 879.2h.8M485.4 839.6h.8M471.3 848.8h.8M501 855.1h.8M522.7 824.7h.8M484.2 847.4h.8M476.8 870.5h.8M465.5 863.3h.8M481.3 830.6h.8M451.6 836.1h.8M510.4 838.7h.8M492.1 848.8h.8M488.1 849.2h.8M512.9 844.2h.8M469.9 837h.8M480.9 867.7h.8M520.1 864.2h.8M507.2 854.8h.8M479.2 862.2h.8M502.8 846h.8M474.5 858.2h.8M504.7 849.7h.8M497.4 856.3h.8M471.5 853.9h.8M447.7 881.6h.8M502.4 876h.8M486 857.6h.8M512.9 843.9h.8M487.2 833.1h.8M485.8 860.8h.8M487.1 838.7h.8M503.4 858.8h.8M478.9 891.6h.8M471.4 868.6h.8M498.2 873.8h.8M518.2 829.4h.8M516.2 844.3h.8M467.8 853.9h.8M489.1 860.5h.8M454.5 907.3h.8M498.9 840h.8M502.6 831.2h.8M518.1 827.6h.8M507.3 845.4h.8M513 849.4h.8M511.8 837.5h.8M504.6 836.7h.8M481.3 858.5h.8M497 856.1h.8M490.7 843.1h.8M469.3 866.3h.8M530.9 815.1h.8M457.8 875.8h.8M499.6 858.9h.8M472.3 844.7h.8M495.5 837.7h.8M505.8 864.8h.8M477.3 862.6h.8M433.1 882h.8M513.4 824.2h.8M477.2 868h.8M457.8 873.9h.8M499 836.4h.8M504.8 851.1h.8M480.2 877.5h.8M444.4 882.7h.8M459.3 867.1h.8M492 877.8h.8M474.6 834.7h.8M514.8 842.6h.8M523.4 829.3h.8M511.6 853.9h.8M501.8 833h.8M479.7 859.5h.8M473.2 845.2h.8M519.6 837.6h.8M479.4 852.3h.8M478.6 876.8h.8M483.8 844.4h.8M510.4 841.4h.8M489.1 862.9h.8M478.5 846.8h.8M468.8 852.2h.8M471.7 823.4h.8" fill="none" stroke="#6a7cff" stroke-width="0.8" opacity="0.6"/>
<path d="M532 820.7h.8M507.7 857.2h.8M477.5 840.5h.8M516.7 828.6h.8M499.4 843h.8M515.7 836.3h.8M497.2 854.7h.8M500.6 865.9h.8M502.4 856.6h.8M489.4 847.2h.8M496 851.1h.8M511.8 843.4h.8M518.8 824.5h.8M504.1 845.4h.8M493.2 842h.8M506.4 841.2h.8M500.9 843.4h.8M494.1 833.9h.8M488.4 838.3h.8M501.7 834.5h.8M495.2 831h.8M485.9 856.7h.8M500.4 851.1h.8M523.3 824.8h.8M503.3 867h.8M494.8 867.9h.8M518.1 846.1h.8M502.5 851.4h.8M502.3 862.7h.8M477.6 845h.8M515.8 826.7h.8M495.9 847.6h.8M519 833.2h.8M488.1 853.8h.8M512.3 831.4h.8M478.5 850.5h.8M510.2 829.5h.8M505.9 831h.8M510.9 838.2h.8M487.6 862.4h.8M503.7 844.6h.8M512 839.4h.8M493.3 838.1h.8M494.9 852.9h.8M499 847.4h.8M515.4 833h.8M508.7 835.7h.8M515.8 829.2h.8M495.5 829.3h.8M509 851.2h.8M497.7 838.8h.8M505.9 837.1h.8M512.5 853.2h.8M522.5 822.8h.8M514.3 832.2h.8M500.8 844.4h.8M496.7 835h.8M513.9 828.8h.8M485.2 859h.8M511.3 837.6h.8M496.6 846.2h.8M505.8 835.9h.8M484.3 852.1h.8M515.6 821.8h.8M503.7 844.9h.8M510.8 832.4h.8M496.2 842.5h.8M508.3 831.2h.8M509.5 840.6h.8M500.8 837.5h.8M488.9 841h.8M490.4 838.9h.8M511.8 839.5h.8M494.9 853.5h.8M503 840.3h.8M512 831.9h.8M502 837.7h.8M504.7 839.2h.8M498.8 837h.8M501.3 850.8h.8M513.1 836.6h.8M506.2 838.5h.8M496.3 839.2h.8M488.3 849.8h.8M529.2 833.9h.8M514.4 830.6h.8M503.3 839.4h.8M467.3 853.6h.8M512.4 850.5h.8M501.6 848.1h.8M500.4 841h.8M520.6 833.7h.8M497.4 855h.8M476.5 840.3h.8M501.7 854.9h.8M503.1 850.6h.8M506.1 838.5h.8M506.1 841.7h.8M505 831.3h.8M516.2 828.3h.8M521 824.3h.8M491.7 831.4h.8M492.4 853h.8M497.2 847.8h.8M515.7 830h.8M514.1 836.8h.8M494.5 840.6h.8M514.2 835.2h.8M493.5 834.3h.8M498.8 842.6h.8M497.3 840.2h.8M526.9 832.1h.8M500.3 827.6h.8M512.5 831.5h.8M506.5 845.4h.8M504.8 827.9h.8M514.6 834.9h.8M477.5 870.9h.8M509.3 828.1h.8M515.6 834.2h.8M521.6 834.6h.8M513.9 833.2h.8M518.2 841.1h.8M480.8 849.2h.8M519.3 835.3h.8M515 829.9h.8M519.4 825.2h.8M484.7 850.7h.8M501.6 841.4h.8M493.6 838.1h.8M523.5 831.9h.8M496 834.6h.8M510.5 837.4h.8M505.3 845h.8M520.9 831.3h.8M504.9 840.2h.8M518.2 833h.8M487.3 852.9h.8M511.9 830.6h.8M500.6 828.3h.8M496.1 838.6h.8M499.1 828.6h.8M503.2 870.8h.8M510.3 856.3h.8M518.8 833.7h.8M515 832h.8M489.5 841.2h.8M505.8 828.4h.8M515.1 834.8h.8M511.1 839h.8M509.3 844.1h.8M512.1 839.8h.8M519 834.8h.8M522.6 838.3h.8M502.2 846.7h.8M496.6 849.7h.8M491.2 832.3h.8M496.1 844.4h.8M504.7 840.3h.8M516.5 837.3h.8M507.9 840.3h.8M516 830.6h.8M504 845.2h.8M496.7 850.9h.8M511 831.8h.8M527.3 823.8h.8M502.5 834.3h.8M496 845.9h.8M505.8 839.6h.8M510.4 843.1h.8M503.4 851.3h.8M481.3 852.2h.8M504.1 827.1h.8M505 854.5h.8M497.2 832.6h.8M489.7 841.7h.8M515.6 827.9h.8M503.8 841.3h.8M500.6 843.4h.8M526.7 825h.8M485.7 839h.8M515.9 836.1h.8M516.4 828.5h.8M495.5 835.1h.8M496.8 848.4h.8M520 842.8h.8M506.9 844h.8M499.7 850.4h.8M499.4 856h.8M496.8 833.9h.8M516.5 835.8h.8M495.6 852.9h.8M507.3 855.3h.8M509.9 861.1h.8M495.4 841.1h.8M518.9 844h.8M504.9 849.2h.8M499.1 851.2h.8M523 841h.8M503.5 854.5h.8M524.1 829.5h.8M503.7 844.2h.8M478.7 839.5h.8M516.6 839.2h.8M500.6 847.2h.8M503.9 844.9h.8M520 833.9h.8M489.8 860h.8M508.4 827.4h.8M511.7 833.8h.8M510.1 852.4h.8M494.5 854.9h.8M518.2 833.6h.8M523.1 838.4h.8M513.8 839.8h.8M483 854.8h.8M503.6 839.5h.8M495.8 837h.8M505.6 839.1h.8M515.2 843.2h.8M506.3 845.9h.8M512 839h.8M502.7 858.1h.8M516.7 838h.8M544.5 814.3h.8M491.7 838.7h.8M496.7 839.7h.8M503 841.3h.8M509.9 843h.8M498.4 844.2h.8M507.4 831.3h.8M511.7 844.5h.8M518 831.3h.8M490.4 835.3h.8M504.9 839.5h.8M502.4 843.3h.8M513.2 831.8h.8M515.3 830.9h.8M485.3 843h.8M481 851.6h.8M522.9 823h.8M512.6 837.7h.8M512.7 840.4h.8M493.6 834.1h.8M485 857.7h.8M509.3 855.6h.8M504.6 841.8h.8M498.1 836.7h.8M480 852.7h.8M496.3 836.2h.8M515.4 834.7h.8M522.1 831.1h.8M505.4 834h.8M478.5 844.9h.8M500.7 859.2h.8M502.8 841.5h.8M518.6 849.9h.8M510 846.6h.8M515.5 835.5h.8M503.6 833.4h.8M497.6 834h.8M492.1 844.5h.8M514 830.8h.8M497.9 827.5h.8M508.8 836.2h.8M502.9 841.2h.8M524.3 823.2h.8M506.2 847.5h.8M482.6 867h.8M517 835.3h.8M499.9 858.4h.8M498.2 836.6h.8M496.3 841.7h.8M502.5 843.3h.8M510.5 839.1h.8M499.6 853.9h.8M504.5 847.2h.8M501.2 860.1h.8M512.9 837.8h.8M495.4 854.7h.8" fill="none" stroke="#2a3cff" stroke-width="0.8" opacity="0.75"/>
<path d="M503 833.6h.8M497.9 839.6h.8M509.2 837.4h.8M512.3 832.7h.8M503.2 837.2h.8M510.7 843.8h.8M520.2 827.9h.8M502.8 848.7h.8M494.8 840.6h.8M504.1 837.6h.8M519.7 828.8h.8M512.8 833.3h.8M508.3 842.5h.8M505.1 844.2h.8M506.3 834.1h.8M510.8 834.3h.8M519.8 829.2h.8M501.5 848.4h.8M518.4 835.5h.8M519.1 835h.8M500.8 841.3h.8M516.2 840.2h.8M488.3 845.7h.8M521.7 832.3h.8M519.1 827.7h.8M512.2 836.2h.8M495.2 839.3h.8M491.6 859.8h.8M505.6 837.7h.8M507.3 842.9h.8M505.1 851h.8M512.8 837.1h.8M509.5 836.6h.8M503.5 839.4h.8M500.2 842.5h.8M509.3 835.4h.8M509.1 842.5h.8M514.3 829.7h.8M494.7 845.5h.8M504.5 841.3h.8M509.2 836h.8M508 847.9h.8M506.6 835.3h.8M508.5 829.6h.8M492.7 845.1h.8M522.8 826.5h.8M495.1 840.4h.8M503.6 851.4h.8M506.5 840.4h.8M504.6 840.6h.8M508.8 837.2h.8M508.7 833h.8M493.1 838.7h.8M493.2 845.5h.8M508.7 839.6h.8M509.1 835.8h.8M510.6 840h.8M498.7 840.3h.8M513.1 830.7h.8M500.8 843h.8M535 823.5h.8M499.7 843.8h.8M505.4 829.4h.8M512.5 836.9h.8M501 838.7h.8M500.4 841.7h.8M514.8 837.3h.8M511.8 837.8h.8M516.8 827.4h.8M512.8 838.4h.8M520.7 826.2h.8M508 839.6h.8M490.7 842.2h.8M494.1 846.4h.8M502.8 839.2h.8M501.4 849h.8M494.9 835.8h.8M523.7 827.3h.8M507.6 829.8h.8M513.8 833.9h.8M499.9 845.8h.8M514.3 835.8h.8M505 844.5h.8M510 836.6h.8M506.7 829.7h.8M498.5 850.5h.8M503.9 839.3h.8M510 834.3h.8M513.1 841.8h.8M488.7 859.3h.8M510.6 830.5h.8M511.6 831.9h.8M505.9 836.6h.8M522 833.7h.8M509.2 836.3h.8M491.9 843.3h.8M506.1 838.8h.8M504 833.8h.8M495.4 838.2h.8M511 828.6h.8M517.5 834.8h.8M502.3 840.8h.8M494.5 842h.8M503.4 831.3h.8M503.3 849.3h.8M494.7 859.4h.8M514.3 833.8h.8M517.5 833.7h.8M517 835.9h.8M506.1 837.8h.8M503.6 839.6h.8M512.8 833.4h.8M516.2 833.1h.8M512.2 825.4h.8M496.6 853.5h.8M510.9 834.8h.8M506.8 840.5h.8M486.4 851.4h.8M516.1 833.7h.8M512.8 834.8h.8M497.9 840h.8M504 830h.8M516.4 833.2h.8M512.7 846.2h.8M498.4 845h.8M505.5 839.6h.8M501.1 832.7h.8M506.4 836.3h.8M503.4 836.8h.8M509.5 834h.8M502.3 848.2h.8M507.9 842.6h.8M518.5 833.6h.8M503.5 833h.8M514.9 832.6h.8M507.1 834.2h.8M523.8 825.2h.8M503.1 834.4h.8M505.7 837.5h.8M504.9 832.9h.8M512 842.4h.8M500.1 847.1h.8M510 838.4h.8M512.8 834.6h.8M489.9 831.7h.8M485.4 836.2h.8M515.4 829.5h.8M506.9 839.2h.8M506.8 852.7h.8M511.1 835h.8M510.9 850.2h.8M506.3 841.1h.8M506.2 846.1h.8M505.7 838.1h.8M506.5 848.3h.8M499.7 839.2h.8M517.4 830.3h.8M507.1 836h.8M514 834.9h.8M510.6 836.6h.8M510 833.2h.8M517.7 834.5h.8M512 837.3h.8M495 843.3h.8M514 838.4h.8M498.4 852.3h.8M505.3 851.5h.8M503.3 850.2h.8M508 846.9h.8M513 835.1h.8M496.3 838.4h.8M507.6 832.2h.8M508 844h.8M500.1 848.3h.8M513 840.2h.8M515.4 841.3h.8M502.6 845.3h.8M495.8 837.7h.8M504.5 834.3h.8M514.8 843.3h.8M490.2 854.2h.8M523.1 829.4h.8M514 834.9h.8M513.5 833.7h.8M518.6 839h.8M510.3 827.1h.8M517.6 833.1h.8M503.8 834.8h.8M518.4 839.2h.8M502.7 829h.8M497.7 857.3h.8M486.7 845.8h.8M508.4 837.2h.8M519.3 829.1h.8M508 840.8h.8M501 844.5h.8M515.5 830.4h.8M510.9 838.6h.8M509.2 846.4h.8M506.2 836.5h.8M506 845.2h.8M492.4 841h.8M505.3 843.3h.8M510.9 838.6h.8M512.2 836.2h.8M505.5 846.8h.8M507.5 829.3h.8M509.1 833.1h.8M497.6 845.1h.8M506.5 843.5h.8M514.7 847.9h.8M513.5 835.7h.8M491.4 832.1h.8M523.1 825.3h.8M520.2 829.3h.8M517.5 830.8h.8M514.4 833.7h.8M506.1 839.7h.8M514.3 836.4h.8M497.2 848h.8M520.1 829.2h.8M496.2 837.6h.8M507.5 841.4h.8M509.6 845.7h.8M510.4 838.2h.8M503.9 849.2h.8M508.6 833.7h.8M522.4 827h.8M508.7 835.7h.8M509.7 847h.8M520.8 830.5h.8M504.1 827.8h.8M508.3 850.6h.8M508.2 842.8h.8M505.3 835.8h.8M504.1 834.5h.8M500.5 837.8h.8M513.4 845h.8M500.8 845.3h.8M499.4 835.7h.8" fill="none" stroke="#2040ff" stroke-width="0.8" opacity="0.9"/>
<path d="M492.8 843.4h.8M499.9 842.3h.8M495.9 841h.8M501.4 844.3h.8M493.1 842.7h.8M491.8 844h.8M502.4 843.3h.8M483.6 840.8h.8M492.6 840.8h.8M489.3 843.4h.8M497.1 841.5h.8M489.1 840.8h.8M501.2 841h.8M490.8 843.5h.8M496.9 840.1h.8M487.4 842.4h.8M498.7 845h.8M495.9 841.3h.8M500.6 838h.8M497.8 839.7h.8M495.8 841.7h.8M489.8 839.9h.8M502.6 838.4h.8M484.1 840.8h.8M493.1 842.5h.8M500.5 839.6h.8M496.7 842.5h.8M497.3 843.8h.8M492.8 840h.8M493.4 839.9h.8M487.9 844.1h.8M496.8 841.4h.8M494 845.3h.8M486.7 841.9h.8M498.2 844.1h.8M495.3 839.6h.8M496.4 842.9h.8M484.4 842h.8M492.5 838h.8M501.9 843h.8M497.2 839.5h.8M493.3 839h.8M500.8 842h.8M490.5 842h.8M500.1 841.6h.8M485.4 840h.8M492.3 843.5h.8M497.6 841h.8M493.5 840.1h.8M496.4 839.3h.8M494.8 844.6h.8M493.2 841.4h.8M500.3 843h.8M492.3 837.3h.8M491.1 840.3h.8M498.7 840.5h.8M496.6 845.2h.8M490 842.1h.8M485.9 840.9h.8M497.3 837.6h.8M502.6 841.4h.8M485.4 842.1h.8M497.3 844.3h.8M490 841.7h.8M500.9 843.2h.8M498.3 840.5h.8M503 844.6h.8M489.2 843.9h.8M498.5 838.9h.8M496 842.3h.8" fill="none" stroke="#2a3cff" stroke-width="0.8" opacity="0.7"/>
<g filter="url(#fb)">
<path d="M525.6 825.9L525.6 826.8L524.9 828.4L523.4 830.7L521.4 833.5L518.8 836.8L515.9 840.3L512.7 843.8L509.2 847L505.7 849.7L502.2 851.6L498.8 852.7L495.9 852.8L493.4 852.1L491.6 850.5L490.7 848.4L490.7 845.8L491.8 843L493.8 840.1L496.8 837.4L500.4 834.9L504.5 832.6L508.9 830.6L513.1 828.9L517 827.5L520.3 826.4L522.9 825.7L524.7 825.5Z" fill="#3050ff" opacity="0.35"/>
<path d="M523.7 827.2L523.7 828L523.1 829.4L521.9 831.3L520.2 833.7L518 836.4L515.6 839.4L512.8 842.3L509.9 845L507 847.3L504 848.9L501.2 849.8L498.7 849.9L496.6 849.3L495.1 848L494.4 846.2L494.4 844L495.3 841.6L497 839.2L499.5 836.9L502.5 834.8L506 832.9L509.6 831.2L513.2 829.8L516.5 828.6L519.3 827.7L521.5 827.1L522.9 827Z" fill="#2a58fa" opacity="0.7"/>
<path d="M521.5 828.8L521.6 829.4L521.1 830.5L520.1 832L518.8 833.9L517.1 836L515.2 838.3L513 840.6L510.8 842.8L508.4 844.5L506.1 845.8L503.9 846.5L501.9 846.6L500.3 846.1L499.1 845.1L498.5 843.7L498.5 842L499.2 840.1L500.6 838.2L502.5 836.4L504.9 834.7L507.6 833.2L510.5 831.9L513.3 830.8L515.9 829.9L518.1 829.2L519.8 828.7L521 828.6Z" fill="#2496ee" opacity="1"/>
<path d="M519.9 830L519.9 830.5L519.5 831.3L518.8 832.5L517.7 834L516.4 835.7L514.8 837.5L513.2 839.3L511.4 841L509.5 842.4L507.7 843.4L506 844L504.4 844L503.1 843.6L502.2 842.8L501.7 841.7L501.8 840.4L502.3 838.9L503.4 837.4L504.9 836L506.8 834.7L508.9 833.5L511.2 832.5L513.4 831.6L515.4 830.9L517.1 830.3L518.5 829.9L519.4 829.8Z" fill="#22c4d4" opacity="1"/>
<path d="M518.6 831L518.6 831.3L518.3 832L517.7 832.9L516.8 834.1L515.8 835.4L514.6 836.9L513.3 838.3L511.9 839.6L510.4 840.7L509 841.5L507.6 842L506.4 842L505.4 841.7L504.6 841.1L504.3 840.2L504.3 839.1L504.7 838L505.6 836.8L506.8 835.7L508.2 834.7L509.9 833.7L511.7 832.9L513.5 832.2L515.1 831.6L516.4 831.2L517.5 830.9L518.2 830.8Z" fill="#2fd07c" opacity="1"/>
<path d="M517.3 831.9L517.3 832.2L517.1 832.7L516.6 833.4L516 834.2L515.2 835.2L514.4 836.2L513.4 837.3L512.4 838.3L511.3 839.1L510.2 839.6L509.2 840L508.3 840L507.6 839.8L507.1 839.3L506.8 838.7L506.8 837.9L507.1 837L507.7 836.2L508.6 835.4L509.7 834.6L510.9 833.9L512.2 833.3L513.5 832.8L514.7 832.4L515.7 832.1L516.5 831.9L517 831.8Z" fill="#8ee02c" opacity="1"/>
<path d="M516.1 832.8L516.1 833L515.9 833.3L515.6 833.7L515.2 834.3L514.7 835L514.1 835.7L513.5 836.4L512.8 837L512.1 837.5L511.4 837.9L510.7 838.1L510.1 838.2L509.6 838L509.3 837.7L509.1 837.3L509.1 836.8L509.3 836.2L509.7 835.6L510.3 835.1L511 834.6L511.9 834.1L512.7 833.7L513.6 833.4L514.4 833.1L515 832.9L515.5 832.7L515.9 832.7Z" fill="#f4d020" opacity="1"/>
<path d="M515.1 833.5L515.1 833.6L515 833.8L514.9 834L514.6 834.4L514.3 834.8L514 835.2L513.6 835.6L513.2 836L512.7 836.3L512.3 836.6L511.9 836.7L511.6 836.7L511.3 836.6L511 836.4L510.9 836.2L510.9 835.9L511.1 835.5L511.3 835.2L511.7 834.8L512.1 834.5L512.6 834.3L513.1 834L513.6 833.8L514.1 833.7L514.5 833.5L514.8 833.4L515 833.4Z" fill="#f87a1c" opacity="1"/>
<path d="M514.4 834L514.4 834.1L514.3 834.2L514.2 834.3L514.1 834.4L514 834.6L513.8 834.8L513.6 835L513.5 835.2L513.3 835.3L513.1 835.4L512.9 835.5L512.7 835.5L512.6 835.5L512.5 835.4L512.4 835.3L512.4 835.1L512.5 835L512.6 834.8L512.8 834.7L513 834.5L513.2 834.4L513.4 834.3L513.7 834.2L513.9 834.1L514.1 834.1L514.2 834L514.3 834Z" fill="#f03a14" opacity="1"/>
</g>
</g>
<rect x="467.6" y="757.9" width="113.5" height="114.1" fill="none" stroke="#4a4a4a" stroke-width="0.6"/>
<line x1="496.7" y1="757.9" x2="496.7" y2="872" stroke="#000" stroke-width="0.9"/>
<line x1="467.6" y1="836.9" x2="581.1" y2="836.9" stroke="#000" stroke-width="0.9"/>
<text x="462.8" y="761.2" font-size="4" fill="#111" stroke="#111" stroke-width="0.25" text-anchor="end">10<tspan dy="-1.7" font-size="3.2">9</tspan></text>
<text x="462.8" y="773.4" font-size="4" fill="#111" stroke="#111" stroke-width="0.25" text-anchor="end">10<tspan dy="-1.7" font-size="3.2">8</tspan></text>
<text x="462.8" y="787.7" font-size="4" fill="#111" stroke="#111" stroke-width="0.25" text-anchor="end">10<tspan dy="-1.7" font-size="3.2">7</tspan></text>
<text x="462.8" y="801.7" font-size="4" fill="#111" stroke="#111" stroke-width="0.25" text-anchor="end">10<tspan dy="-1.7" font-size="3.2">6</tspan></text>
<text x="462.8" y="816" font-size="4" fill="#111" stroke="#111" stroke-width="0.25" text-anchor="end">10<tspan dy="-1.7" font-size="3.2">5</tspan></text>
<text x="462.8" y="830.1" font-size="4" fill="#111" stroke="#111" stroke-width="0.25" text-anchor="end">10<tspan dy="-1.7" font-size="3.2">4</tspan></text>
<text x="462.8" y="844" font-size="4" fill="#111" stroke="#111" stroke-width="0.25" text-anchor="end">10<tspan dy="-1.7" font-size="3.2">3</tspan></text>
<text x="462.8" y="858.1" font-size="4" fill="#111" stroke="#111" stroke-width="0.25" text-anchor="end">10<tspan dy="-1.7" font-size="3.2">2</tspan></text>
<path d="M467.6 759.6h-3M467.6 768.13h-1.5M467.6 765.98h-1.5M467.6 764.45h-1.5M467.6 763.27h-1.5M467.6 762.31h-1.5M467.6 761.49h-1.5M467.6 760.78h-1.5M467.6 760.16h-1.5M467.6 771.8h-3M467.6 781.8h-1.5M467.6 779.28h-1.5M467.6 777.49h-1.5M467.6 776.1h-1.5M467.6 774.97h-1.5M467.6 774.02h-1.5M467.6 773.19h-1.5M467.6 772.45h-1.5M467.6 786.1h-3M467.6 795.89h-1.5M467.6 793.42h-1.5M467.6 791.67h-1.5M467.6 790.31h-1.5M467.6 789.21h-1.5M467.6 788.27h-1.5M467.6 787.46h-1.5M467.6 786.74h-1.5M467.6 800.1h-3M467.6 810.1h-1.5M467.6 807.58h-1.5M467.6 805.79h-1.5M467.6 804.4h-1.5M467.6 803.27h-1.5M467.6 802.32h-1.5M467.6 801.49h-1.5M467.6 800.75h-1.5M467.6 814.4h-3M467.6 824.26h-1.5M467.6 821.77h-1.5M467.6 820.01h-1.5M467.6 818.64h-1.5M467.6 817.53h-1.5M467.6 816.58h-1.5M467.6 815.77h-1.5M467.6 815.05h-1.5M467.6 828.5h-3M467.6 838.22h-1.5M467.6 835.77h-1.5M467.6 834.03h-1.5M467.6 832.68h-1.5M467.6 831.58h-1.5M467.6 830.65h-1.5M467.6 829.85h-1.5M467.6 829.14h-1.5M467.6 842.4h-3M467.6 852.26h-1.5M467.6 849.77h-1.5M467.6 848.01h-1.5M467.6 846.64h-1.5M467.6 845.53h-1.5M467.6 844.58h-1.5M467.6 843.77h-1.5M467.6 843.05h-1.5M467.6 856.5h-3" fill="none" stroke="#1a1a1a" stroke-width="0.65"/>
<text x="469.3" y="766.3" font-size="4.5" fill="#111" stroke="#111" stroke-width="0.22">Q1</text>
<text x="469.3" y="773.5" font-size="4.5" fill="#111" stroke="#111" stroke-width="0.22">0.010</text>
<text x="571.5" y="766.3" font-size="4.5" text-anchor="end" fill="#111" stroke="#111" stroke-width="0.22">Q2</text>
<text x="571.5" y="773.5" font-size="4.5" text-anchor="end" fill="#111" stroke="#111" stroke-width="0.22">40.2</text>
</g>
</g>
</svg>
</body>
</html>
